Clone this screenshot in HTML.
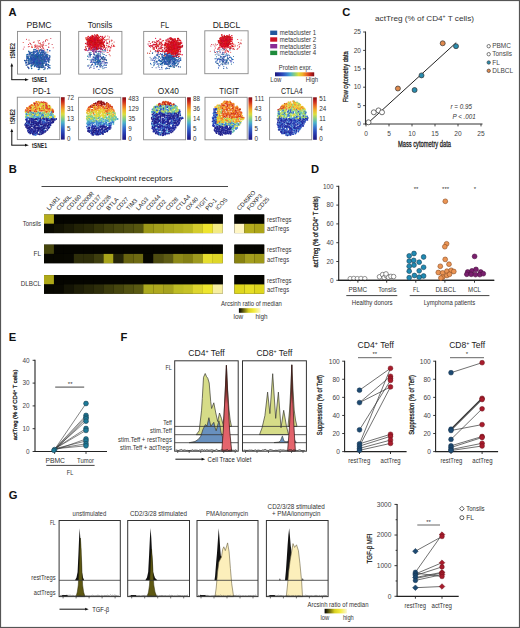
<!DOCTYPE html><html><head><meta charset="utf-8"><style>html,body{margin:0;padding:0;background:#fff;}svg{display:block;font-family:"Liberation Sans",sans-serif;}</style></head><body><svg width="520" height="628" viewBox="0 0 520 628"><rect x="0" y="0" width="520" height="628" fill="#fff"/><text x="8.50" y="16.10" font-size="11.20" fill="#111" font-weight="bold">A</text>
<text x="26.60" y="27.70" font-size="8.20" fill="#222" textLength="25.00" lengthAdjust="spacingAndGlyphs">PBMC</text>
<text x="87.70" y="27.70" font-size="8.20" fill="#222" textLength="24.60" lengthAdjust="spacingAndGlyphs">Tonsils</text>
<text x="160.50" y="27.70" font-size="8.20" fill="#222" textLength="8.60" lengthAdjust="spacingAndGlyphs">FL</text>
<text x="212.70" y="27.70" font-size="8.20" fill="#222" textLength="27.60" lengthAdjust="spacingAndGlyphs">DLBCL</text>
<circle cx="36.1" cy="46.9" r="0.50" fill="#d90024"/>
<circle cx="36.3" cy="46.0" r="0.50" fill="#d2001f"/>
<circle cx="41.0" cy="45.7" r="0.50" fill="#ce2410"/>
<circle cx="39.8" cy="50.3" r="0.50" fill="#e8171d"/>
<circle cx="40.3" cy="44.8" r="0.50" fill="#e30911"/>
<circle cx="42.8" cy="47.2" r="0.50" fill="#e10427"/>
<circle cx="33.3" cy="42.2" r="0.50" fill="#d4000c"/>
<circle cx="41.1" cy="50.5" r="0.50" fill="#ce0a27"/>
<circle cx="31.9" cy="45.9" r="0.50" fill="#e01d16"/>
<circle cx="29.8" cy="42.9" r="0.50" fill="#e41f18"/>
<circle cx="41.7" cy="44.8" r="0.50" fill="#cd2011"/>
<circle cx="35.9" cy="45.1" r="0.50" fill="#da2126"/>
<circle cx="42.6" cy="42.7" r="0.50" fill="#db1826"/>
<circle cx="24.2" cy="47.0" r="0.50" fill="#e8122b"/>
<circle cx="48.8" cy="47.2" r="0.50" fill="#d92c33"/>
<circle cx="36.4" cy="48.7" r="0.50" fill="#da0021"/>
<circle cx="39.8" cy="46.7" r="0.50" fill="#bb2110"/>
<circle cx="38.1" cy="48.8" r="0.50" fill="#e40020"/>
<circle cx="23.2" cy="42.6" r="0.50" fill="#e12617"/>
<circle cx="31.9" cy="46.8" r="0.50" fill="#e52a11"/>
<circle cx="40.4" cy="47.5" r="0.50" fill="#c41327"/>
<circle cx="37.9" cy="45.3" r="0.50" fill="#cd0d26"/>
<circle cx="49.0" cy="43.3" r="0.50" fill="#d2192b"/>
<circle cx="53.2" cy="47.7" r="0.50" fill="#df2631"/>
<circle cx="32.1" cy="47.4" r="0.50" fill="#be1a0d"/>
<circle cx="42.7" cy="46.1" r="0.50" fill="#c10c0c"/>
<circle cx="42.3" cy="45.0" r="0.50" fill="#be0d0b"/>
<circle cx="45.3" cy="41.3" r="0.50" fill="#c0071b"/>
<circle cx="35.5" cy="46.5" r="0.50" fill="#e32c21"/>
<circle cx="34.8" cy="45.2" r="0.50" fill="#be0c17"/>
<circle cx="40.1" cy="43.0" r="0.50" fill="#ba2a24"/>
<circle cx="43.7" cy="48.8" r="0.50" fill="#ba153a"/>
<circle cx="45.6" cy="40.6" r="0.50" fill="#c60d12"/>
<circle cx="39.3" cy="40.4" r="0.50" fill="#df0b15"/>
<circle cx="46.2" cy="39.5" r="0.50" fill="#e11f15"/>
<circle cx="31.0" cy="44.6" r="0.50" fill="#ba0017"/>
<circle cx="37.3" cy="50.8" r="0.50" fill="#e81138"/>
<circle cx="34.5" cy="47.0" r="0.50" fill="#c40414"/>
<circle cx="26.5" cy="39.3" r="0.50" fill="#e3122a"/>
<circle cx="39.0" cy="43.5" r="0.50" fill="#da2831"/>
<circle cx="38.0" cy="40.7" r="0.50" fill="#c1221a"/>
<circle cx="32.0" cy="47.3" r="0.50" fill="#e81f12"/>
<circle cx="41.0" cy="46.6" r="0.50" fill="#e62311"/>
<circle cx="34.2" cy="42.1" r="0.50" fill="#d4010a"/>
<circle cx="48.7" cy="44.0" r="0.50" fill="#d3291f"/>
<circle cx="47.7" cy="39.9" r="0.50" fill="#c30718"/>
<circle cx="38.6" cy="50.0" r="0.50" fill="#c50f10"/>
<circle cx="43.9" cy="43.1" r="0.50" fill="#cf1837"/>
<circle cx="23.3" cy="49.1" r="0.50" fill="#d21524"/>
<circle cx="46.0" cy="45.5" r="0.50" fill="#c20031"/>
<circle cx="42.0" cy="48.8" r="0.50" fill="#dd161a"/>
<circle cx="28.5" cy="44.4" r="0.50" fill="#e00026"/>
<circle cx="38.1" cy="48.1" r="0.50" fill="#df1426"/>
<circle cx="28.3" cy="46.8" r="0.50" fill="#d2142c"/>
<circle cx="29.2" cy="46.4" r="0.50" fill="#d02a2c"/>
<circle cx="50.8" cy="38.6" r="0.50" fill="#c51639"/>
<circle cx="40.2" cy="43.3" r="0.50" fill="#bf110d"/>
<circle cx="38.2" cy="46.5" r="0.50" fill="#da2236"/>
<circle cx="44.7" cy="50.0" r="0.50" fill="#da0236"/>
<circle cx="43.2" cy="44.5" r="0.50" fill="#e80e22"/>
<circle cx="52.1" cy="44.5" r="0.50" fill="#c11023"/>
<circle cx="35.4" cy="47.1" r="0.50" fill="#c81f0a"/>
<circle cx="30.4" cy="43.6" r="0.50" fill="#b90b29"/>
<circle cx="35.3" cy="44.9" r="0.50" fill="#ea223a"/>
<circle cx="42.7" cy="46.8" r="0.50" fill="#ba2117"/>
<circle cx="43.4" cy="47.9" r="0.50" fill="#e62316"/>
<circle cx="47.9" cy="51.9" r="0.50" fill="#d51e0e"/>
<circle cx="48.7" cy="47.1" r="0.50" fill="#ce0038"/>
<circle cx="29.0" cy="39.9" r="0.50" fill="#bd250d"/>
<circle cx="43.4" cy="41.8" r="0.50" fill="#c91638"/>
<circle cx="37.6" cy="47.0" r="0.50" fill="#d3060f"/>
<circle cx="39.3" cy="46.0" r="0.50" fill="#c30a19"/>
<circle cx="38.4" cy="41.9" r="0.50" fill="#d2031b"/>
<circle cx="43.7" cy="45.3" r="0.50" fill="#b91f25"/>
<circle cx="41.2" cy="49.0" r="0.50" fill="#e70032"/>
<circle cx="31.1" cy="61.7" r="0.75" fill="#3a54a8"/>
<circle cx="31.3" cy="66.8" r="0.75" fill="#3460a3"/>
<circle cx="36.3" cy="60.8" r="0.75" fill="#1744b4"/>
<circle cx="37.4" cy="62.2" r="0.75" fill="#156bba"/>
<circle cx="35.2" cy="56.2" r="0.75" fill="#1d4fa5"/>
<circle cx="41.1" cy="63.7" r="0.75" fill="#1e71bf"/>
<circle cx="33.2" cy="58.5" r="0.75" fill="#4150a0"/>
<circle cx="43.4" cy="59.5" r="0.75" fill="#285a99"/>
<circle cx="36.9" cy="59.5" r="0.75" fill="#1e45a2"/>
<circle cx="38.7" cy="59.8" r="0.75" fill="#204cac"/>
<circle cx="27.7" cy="58.1" r="0.75" fill="#3164ba"/>
<circle cx="33.4" cy="62.1" r="0.75" fill="#4248b3"/>
<circle cx="36.4" cy="58.4" r="0.75" fill="#3a6dae"/>
<circle cx="36.4" cy="51.1" r="0.75" fill="#175ba8"/>
<circle cx="43.0" cy="52.3" r="0.75" fill="#3a5ebb"/>
<circle cx="33.7" cy="53.0" r="0.75" fill="#1c4295"/>
<circle cx="35.7" cy="61.2" r="0.75" fill="#3a5cae"/>
<circle cx="31.1" cy="54.5" r="0.75" fill="#2941b6"/>
<circle cx="37.4" cy="54.1" r="0.75" fill="#2b6192"/>
<circle cx="37.1" cy="56.0" r="0.75" fill="#144eb3"/>
<circle cx="40.2" cy="66.8" r="0.75" fill="#4159a2"/>
<circle cx="28.5" cy="60.4" r="0.75" fill="#375faf"/>
<circle cx="40.5" cy="60.7" r="0.75" fill="#1d669e"/>
<circle cx="36.6" cy="59.2" r="0.75" fill="#144eb0"/>
<circle cx="34.3" cy="53.0" r="0.75" fill="#1f5aa6"/>
<circle cx="34.6" cy="60.0" r="0.75" fill="#3d4abf"/>
<circle cx="38.5" cy="59.2" r="0.75" fill="#2769bf"/>
<circle cx="33.0" cy="60.6" r="0.75" fill="#1b7099"/>
<circle cx="34.6" cy="58.3" r="0.75" fill="#2b7095"/>
<circle cx="40.6" cy="54.5" r="0.75" fill="#3d649a"/>
<circle cx="43.0" cy="56.3" r="0.75" fill="#1241a7"/>
<circle cx="32.7" cy="60.7" r="0.75" fill="#18529e"/>
<circle cx="37.7" cy="59.3" r="0.75" fill="#366a95"/>
<circle cx="46.0" cy="56.3" r="0.75" fill="#3e4fa1"/>
<circle cx="32.7" cy="57.2" r="0.75" fill="#264e91"/>
<circle cx="46.6" cy="64.7" r="0.75" fill="#1f6f9b"/>
<circle cx="36.8" cy="65.0" r="0.75" fill="#1a53be"/>
<circle cx="45.7" cy="53.9" r="0.75" fill="#306ebe"/>
<circle cx="28.4" cy="57.3" r="0.75" fill="#1365a5"/>
<circle cx="37.6" cy="52.9" r="0.75" fill="#1f43bd"/>
<circle cx="42.2" cy="63.2" r="0.75" fill="#224fb3"/>
<circle cx="42.1" cy="59.0" r="0.75" fill="#3150aa"/>
<circle cx="34.6" cy="61.2" r="0.75" fill="#194bbc"/>
<circle cx="33.3" cy="59.6" r="0.75" fill="#3e72a5"/>
<circle cx="40.0" cy="61.8" r="0.75" fill="#155293"/>
<circle cx="37.8" cy="63.0" r="0.75" fill="#2d6db4"/>
<circle cx="32.2" cy="62.0" r="0.75" fill="#2b539f"/>
<circle cx="42.0" cy="60.9" r="0.75" fill="#4147a8"/>
<circle cx="29.3" cy="52.8" r="0.75" fill="#1b4e9b"/>
<circle cx="32.2" cy="62.4" r="0.75" fill="#406bba"/>
<circle cx="39.0" cy="59.7" r="0.75" fill="#346da6"/>
<circle cx="37.4" cy="59.5" r="0.75" fill="#246fb8"/>
<circle cx="47.4" cy="49.8" r="0.75" fill="#1d4696"/>
<circle cx="28.5" cy="58.5" r="0.75" fill="#4065af"/>
<circle cx="38.1" cy="54.4" r="0.75" fill="#2c42b6"/>
<circle cx="34.4" cy="56.4" r="0.75" fill="#174dae"/>
<circle cx="36.6" cy="57.4" r="0.75" fill="#145bac"/>
<circle cx="34.2" cy="61.6" r="0.75" fill="#2f419e"/>
<circle cx="29.8" cy="52.0" r="0.75" fill="#284c9b"/>
<circle cx="46.6" cy="57.7" r="0.75" fill="#2042a7"/>
<circle cx="34.6" cy="55.2" r="0.75" fill="#1d62bd"/>
<circle cx="37.7" cy="60.7" r="0.75" fill="#2156b1"/>
<circle cx="40.9" cy="67.3" r="0.75" fill="#355a99"/>
<circle cx="42.6" cy="58.8" r="0.75" fill="#3a4c9a"/>
<circle cx="37.8" cy="55.7" r="0.75" fill="#405998"/>
<circle cx="38.5" cy="64.2" r="0.75" fill="#327096"/>
<circle cx="34.2" cy="61.5" r="0.75" fill="#414891"/>
<circle cx="43.1" cy="61.2" r="0.75" fill="#3d6db3"/>
<circle cx="35.7" cy="62.1" r="0.75" fill="#3f6690"/>
<circle cx="34.5" cy="55.6" r="0.75" fill="#235197"/>
<circle cx="42.4" cy="59.6" r="0.75" fill="#227095"/>
<circle cx="41.5" cy="58.8" r="0.75" fill="#226ab8"/>
<circle cx="35.8" cy="60.1" r="0.75" fill="#2853bc"/>
<circle cx="39.5" cy="63.6" r="0.75" fill="#3d42a3"/>
<circle cx="41.4" cy="52.2" r="0.75" fill="#134292"/>
<circle cx="41.6" cy="57.8" r="0.75" fill="#366d9f"/>
<circle cx="34.0" cy="57.1" r="0.75" fill="#34509c"/>
<circle cx="47.6" cy="59.7" r="0.75" fill="#3e60be"/>
<circle cx="41.8" cy="60.0" r="0.75" fill="#2870be"/>
<circle cx="34.0" cy="61.8" r="0.75" fill="#2659bd"/>
<circle cx="41.9" cy="67.1" r="0.75" fill="#356ab5"/>
<circle cx="33.3" cy="56.9" r="0.75" fill="#2053b6"/>
<circle cx="41.0" cy="61.0" r="0.75" fill="#364d92"/>
<circle cx="44.9" cy="60.7" r="0.75" fill="#2172bb"/>
<circle cx="42.2" cy="59.2" r="0.75" fill="#1545a7"/>
<circle cx="35.9" cy="54.7" r="0.75" fill="#1c55ae"/>
<circle cx="32.9" cy="52.7" r="0.75" fill="#3b6295"/>
<circle cx="40.2" cy="56.3" r="0.75" fill="#2d53b3"/>
<circle cx="38.9" cy="62.8" r="0.75" fill="#1d48bb"/>
<circle cx="32.8" cy="57.6" r="0.75" fill="#2472a8"/>
<circle cx="38.8" cy="67.8" r="0.75" fill="#317294"/>
<circle cx="26.5" cy="60.8" r="0.75" fill="#3b6e91"/>
<circle cx="36.7" cy="61.7" r="0.75" fill="#1a71ac"/>
<circle cx="42.7" cy="57.6" r="0.75" fill="#3c579b"/>
<circle cx="43.9" cy="63.3" r="0.75" fill="#2f4ba1"/>
<circle cx="40.1" cy="61.9" r="0.75" fill="#1d5eaf"/>
<circle cx="37.8" cy="60.2" r="0.75" fill="#216298"/>
<circle cx="36.0" cy="62.4" r="0.75" fill="#385c92"/>
<circle cx="42.3" cy="62.2" r="0.75" fill="#2c6093"/>
<circle cx="42.3" cy="65.6" r="0.75" fill="#254f9e"/>
<circle cx="42.5" cy="58.3" r="0.75" fill="#2d52a3"/>
<circle cx="34.9" cy="61.8" r="0.75" fill="#354b8f"/>
<circle cx="42.6" cy="56.7" r="0.75" fill="#3a55bb"/>
<circle cx="34.0" cy="60.2" r="0.75" fill="#115caf"/>
<circle cx="39.7" cy="58.4" r="0.75" fill="#3053a8"/>
<circle cx="40.5" cy="62.5" r="0.75" fill="#2b6f94"/>
<circle cx="26.7" cy="60.0" r="0.75" fill="#414a95"/>
<circle cx="35.5" cy="59.7" r="0.75" fill="#3f54bc"/>
<circle cx="29.4" cy="53.6" r="0.75" fill="#19689a"/>
<circle cx="27.9" cy="64.5" r="0.75" fill="#3a4a99"/>
<circle cx="31.6" cy="62.8" r="0.75" fill="#24479b"/>
<circle cx="35.5" cy="49.8" r="0.75" fill="#135db4"/>
<circle cx="48.6" cy="61.6" r="0.75" fill="#165eaa"/>
<circle cx="33.9" cy="56.7" r="0.75" fill="#265ea4"/>
<circle cx="34.0" cy="55.3" r="0.75" fill="#2642ad"/>
<circle cx="33.1" cy="59.7" r="0.75" fill="#3767a5"/>
<circle cx="40.4" cy="64.2" r="0.75" fill="#1647a4"/>
<circle cx="42.9" cy="62.2" r="0.75" fill="#2a43ae"/>
<circle cx="46.0" cy="63.2" r="0.75" fill="#375a91"/>
<circle cx="31.7" cy="59.4" r="0.75" fill="#4047b9"/>
<circle cx="47.2" cy="59.3" r="0.75" fill="#394ac0"/>
<circle cx="40.6" cy="58.1" r="0.75" fill="#386f92"/>
<circle cx="31.5" cy="65.7" r="0.75" fill="#186d9c"/>
<circle cx="38.8" cy="57.2" r="0.75" fill="#2a6e99"/>
<circle cx="36.9" cy="64.9" r="0.75" fill="#204298"/>
<circle cx="45.0" cy="68.7" r="0.75" fill="#326d97"/>
<circle cx="38.1" cy="57.3" r="0.75" fill="#2b60a0"/>
<circle cx="42.8" cy="55.3" r="0.75" fill="#2e6d94"/>
<circle cx="46.0" cy="59.2" r="0.75" fill="#24689c"/>
<circle cx="45.4" cy="59.1" r="0.75" fill="#2367a5"/>
<circle cx="41.9" cy="66.3" r="0.75" fill="#13699b"/>
<circle cx="29.9" cy="56.0" r="0.75" fill="#204190"/>
<circle cx="42.4" cy="64.6" r="0.75" fill="#265abb"/>
<circle cx="40.4" cy="61.9" r="0.75" fill="#31428f"/>
<circle cx="35.8" cy="61.2" r="0.75" fill="#224cac"/>
<circle cx="34.1" cy="57.8" r="0.75" fill="#305895"/>
<circle cx="41.6" cy="58.2" r="0.75" fill="#1845ae"/>
<circle cx="44.7" cy="53.7" r="0.75" fill="#254e8f"/>
<circle cx="32.8" cy="54.8" r="0.75" fill="#2261a5"/>
<circle cx="46.5" cy="56.6" r="0.75" fill="#1d6e91"/>
<circle cx="31.5" cy="58.6" r="0.75" fill="#1c43b5"/>
<circle cx="45.1" cy="60.0" r="0.75" fill="#404898"/>
<circle cx="31.9" cy="56.1" r="0.75" fill="#316997"/>
<circle cx="35.7" cy="63.1" r="0.75" fill="#136db6"/>
<circle cx="37.4" cy="59.0" r="0.75" fill="#3b66a6"/>
<circle cx="37.2" cy="54.5" r="0.75" fill="#1c469a"/>
<circle cx="42.8" cy="60.5" r="0.75" fill="#3663b9"/>
<circle cx="36.4" cy="56.0" r="0.75" fill="#2c56b6"/>
<circle cx="32.8" cy="59.0" r="0.75" fill="#317199"/>
<circle cx="38.3" cy="58.9" r="0.75" fill="#1e4cb4"/>
<circle cx="46.8" cy="56.9" r="0.75" fill="#216d9f"/>
<circle cx="38.4" cy="69.5" r="0.75" fill="#3063b0"/>
<circle cx="44.2" cy="58.8" r="0.75" fill="#3a63b9"/>
<circle cx="28.6" cy="62.3" r="0.75" fill="#2d5099"/>
<circle cx="35.8" cy="58.2" r="0.75" fill="#3e4890"/>
<circle cx="48.3" cy="66.1" r="0.75" fill="#224890"/>
<circle cx="46.4" cy="61.3" r="0.75" fill="#3063b3"/>
<circle cx="44.8" cy="62.0" r="0.75" fill="#2369b7"/>
<circle cx="39.2" cy="58.4" r="0.75" fill="#3c6ebe"/>
<circle cx="40.7" cy="61.4" r="0.75" fill="#1642b9"/>
<circle cx="40.7" cy="53.5" r="0.75" fill="#3a609d"/>
<circle cx="39.7" cy="60.7" r="0.75" fill="#364b9e"/>
<circle cx="36.4" cy="59.9" r="0.75" fill="#1d4fb2"/>
<circle cx="33.9" cy="62.5" r="0.75" fill="#415ab9"/>
<circle cx="36.4" cy="58.7" r="0.75" fill="#2556b5"/>
<circle cx="32.1" cy="65.4" r="0.75" fill="#2b4bba"/>
<circle cx="46.8" cy="64.1" r="0.75" fill="#194199"/>
<circle cx="44.5" cy="59.6" r="0.75" fill="#296898"/>
<circle cx="32.0" cy="59.6" r="0.75" fill="#3a4ebe"/>
<circle cx="36.6" cy="62.6" r="0.75" fill="#335994"/>
<circle cx="35.9" cy="58.1" r="0.75" fill="#3863b6"/>
<circle cx="33.6" cy="56.4" r="0.75" fill="#2554bb"/>
<circle cx="48.3" cy="64.5" r="0.75" fill="#124b9c"/>
<circle cx="43.3" cy="56.3" r="0.75" fill="#236d9a"/>
<circle cx="30.3" cy="60.9" r="0.75" fill="#3666af"/>
<circle cx="34.4" cy="62.8" r="0.75" fill="#186bb0"/>
<circle cx="37.3" cy="56.7" r="0.75" fill="#2667ab"/>
<circle cx="42.2" cy="63.1" r="0.75" fill="#3d4c98"/>
<circle cx="34.5" cy="66.3" r="0.75" fill="#3b4896"/>
<circle cx="37.6" cy="63.6" r="0.75" fill="#2b499f"/>
<circle cx="37.1" cy="57.4" r="0.75" fill="#4146a2"/>
<circle cx="48.1" cy="58.7" r="0.75" fill="#355698"/>
<circle cx="35.7" cy="57.8" r="0.75" fill="#1b5490"/>
<circle cx="28.9" cy="64.3" r="0.75" fill="#335aae"/>
<circle cx="34.3" cy="60.1" r="0.75" fill="#2f55b4"/>
<circle cx="42.8" cy="56.8" r="0.75" fill="#2d66a4"/>
<circle cx="38.8" cy="66.8" r="0.75" fill="#3d67b2"/>
<circle cx="42.9" cy="53.9" r="0.75" fill="#31579e"/>
<circle cx="35.6" cy="58.0" r="0.75" fill="#2568b2"/>
<circle cx="34.4" cy="57.0" r="0.75" fill="#2657ae"/>
<circle cx="29.9" cy="63.2" r="0.75" fill="#3f4aaf"/>
<circle cx="38.5" cy="55.0" r="0.75" fill="#297190"/>
<circle cx="34.1" cy="58.8" r="0.75" fill="#3870a8"/>
<circle cx="43.8" cy="63.1" r="0.75" fill="#2c64a8"/>
<circle cx="30.3" cy="52.9" r="0.75" fill="#2b55be"/>
<circle cx="39.8" cy="66.3" r="0.75" fill="#246795"/>
<circle cx="43.1" cy="59.1" r="0.75" fill="#134ea2"/>
<circle cx="43.7" cy="59.9" r="0.75" fill="#2663a0"/>
<circle cx="37.1" cy="62.8" r="0.75" fill="#366fa9"/>
<circle cx="39.6" cy="67.6" r="0.75" fill="#244b95"/>
<circle cx="39.3" cy="51.2" r="0.75" fill="#3058ab"/>
<circle cx="32.3" cy="64.7" r="0.75" fill="#3969a6"/>
<circle cx="35.4" cy="65.1" r="0.75" fill="#176aa0"/>
<circle cx="40.3" cy="56.6" r="0.75" fill="#234da4"/>
<circle cx="37.7" cy="59.8" r="0.75" fill="#354f9b"/>
<circle cx="35.3" cy="64.5" r="0.75" fill="#2660af"/>
<circle cx="28.5" cy="67.5" r="0.75" fill="#3b43b8"/>
<circle cx="46.2" cy="55.0" r="0.75" fill="#186aae"/>
<circle cx="38.4" cy="59.6" r="0.75" fill="#40619b"/>
<circle cx="40.2" cy="61.0" r="0.75" fill="#1c67a0"/>
<circle cx="45.0" cy="67.7" r="0.75" fill="#3849bb"/>
<circle cx="29.4" cy="54.5" r="0.75" fill="#326db6"/>
<circle cx="39.6" cy="56.9" r="0.75" fill="#335bb4"/>
<circle cx="26.0" cy="63.1" r="0.75" fill="#2c4e9a"/>
<circle cx="42.0" cy="63.6" r="0.75" fill="#135896"/>
<circle cx="30.5" cy="59.8" r="0.75" fill="#2b6c8f"/>
<circle cx="41.1" cy="55.2" r="0.75" fill="#2d62b9"/>
<circle cx="33.1" cy="62.9" r="0.75" fill="#4144ae"/>
<circle cx="36.6" cy="58.7" r="0.75" fill="#2f63bd"/>
<circle cx="30.6" cy="59.1" r="0.75" fill="#3d42b2"/>
<circle cx="33.6" cy="56.5" r="0.75" fill="#3c53a6"/>
<circle cx="27.3" cy="58.2" r="0.75" fill="#1b56a4"/>
<circle cx="26.9" cy="56.6" r="0.75" fill="#1f6aa3"/>
<circle cx="32.7" cy="59.4" r="0.75" fill="#2a71af"/>
<circle cx="38.9" cy="55.5" r="0.75" fill="#204fac"/>
<circle cx="30.5" cy="53.5" r="0.75" fill="#1365bb"/>
<circle cx="35.7" cy="59.1" r="0.75" fill="#204198"/>
<circle cx="44.7" cy="56.5" r="0.75" fill="#3168bc"/>
<circle cx="31.2" cy="55.4" r="0.75" fill="#3063ac"/>
<circle cx="35.8" cy="56.6" r="0.75" fill="#3257b5"/>
<circle cx="40.6" cy="61.2" r="0.75" fill="#1267bc"/>
<circle cx="34.3" cy="55.8" r="0.75" fill="#3a68ab"/>
<circle cx="37.2" cy="63.4" r="0.75" fill="#2650a4"/>
<circle cx="28.7" cy="51.2" r="0.75" fill="#135d90"/>
<circle cx="45.5" cy="65.2" r="0.75" fill="#2d6ea5"/>
<circle cx="43.4" cy="59.9" r="0.75" fill="#2e6fc0"/>
<circle cx="31.4" cy="60.2" r="0.75" fill="#166199"/>
<circle cx="38.1" cy="60.2" r="0.75" fill="#116395"/>
<circle cx="40.0" cy="59.1" r="0.75" fill="#3c478f"/>
<circle cx="36.6" cy="56.1" r="0.75" fill="#354a91"/>
<circle cx="38.9" cy="52.3" r="0.75" fill="#3b6593"/>
<circle cx="31.0" cy="54.3" r="0.75" fill="#286f9b"/>
<circle cx="46.8" cy="57.9" r="0.75" fill="#1141af"/>
<circle cx="38.5" cy="57.8" r="0.75" fill="#206597"/>
<circle cx="41.9" cy="55.4" r="0.75" fill="#1353ab"/>
<circle cx="29.1" cy="62.1" r="0.75" fill="#1868a1"/>
<circle cx="32.3" cy="54.4" r="0.75" fill="#2554b6"/>
<circle cx="47.4" cy="56.8" r="0.75" fill="#2d4f92"/>
<circle cx="46.7" cy="58.3" r="0.75" fill="#3a51ad"/>
<circle cx="48.7" cy="58.3" r="0.75" fill="#2f50a4"/>
<circle cx="42.0" cy="56.6" r="0.75" fill="#335fbb"/>
<circle cx="39.2" cy="56.0" r="0.75" fill="#114ea4"/>
<circle cx="28.1" cy="55.1" r="0.75" fill="#3d43b8"/>
<circle cx="42.1" cy="50.9" r="0.75" fill="#2d4eb9"/>
<circle cx="40.7" cy="53.0" r="0.75" fill="#3e5293"/>
<circle cx="27.4" cy="56.8" r="0.75" fill="#1b66bd"/>
<circle cx="38.3" cy="65.8" r="0.75" fill="#325899"/>
<circle cx="37.2" cy="67.2" r="0.75" fill="#385793"/>
<circle cx="41.1" cy="52.1" r="0.75" fill="#1c5dbb"/>
<circle cx="43.0" cy="55.8" r="0.75" fill="#285e98"/>
<circle cx="38.8" cy="62.2" r="0.75" fill="#3453ab"/>
<circle cx="31.6" cy="62.7" r="0.75" fill="#1843c0"/>
<circle cx="35.5" cy="61.0" r="0.75" fill="#306896"/>
<circle cx="33.0" cy="57.1" r="0.75" fill="#2a4290"/>
<circle cx="49.5" cy="58.9" r="0.75" fill="#295d9c"/>
<circle cx="38.7" cy="54.7" r="0.75" fill="#4067b7"/>
<circle cx="42.0" cy="58.7" r="0.75" fill="#124b98"/>
<circle cx="39.2" cy="60.2" r="0.75" fill="#2c6ca5"/>
<circle cx="49.9" cy="56.2" r="0.75" fill="#145ea2"/>
<circle cx="48.6" cy="67.5" r="0.75" fill="#1d5daf"/>
<circle cx="46.1" cy="57.6" r="0.75" fill="#245796"/>
<circle cx="37.8" cy="60.8" r="0.75" fill="#1d52bc"/>
<circle cx="46.9" cy="54.6" r="0.75" fill="#1368b2"/>
<circle cx="40.7" cy="60.4" r="0.75" fill="#366fb0"/>
<circle cx="35.1" cy="65.4" r="0.75" fill="#36469f"/>
<circle cx="37.4" cy="61.9" r="0.75" fill="#29499a"/>
<circle cx="43.1" cy="64.9" r="0.75" fill="#116498"/>
<circle cx="45.9" cy="52.3" r="0.75" fill="#175793"/>
<circle cx="47.9" cy="55.7" r="0.75" fill="#30579f"/>
<circle cx="40.5" cy="54.8" r="0.75" fill="#30489a"/>
<circle cx="46.4" cy="62.0" r="0.75" fill="#2c48ba"/>
<circle cx="36.9" cy="64.2" r="0.75" fill="#184eb8"/>
<circle cx="35.7" cy="61.9" r="0.75" fill="#2950bc"/>
<circle cx="50.0" cy="67.9" r="0.75" fill="#136db0"/>
<circle cx="39.2" cy="64.6" r="0.75" fill="#1f4d99"/>
<circle cx="41.6" cy="61.7" r="0.75" fill="#3d43b3"/>
<circle cx="48.3" cy="60.3" r="0.75" fill="#22488f"/>
<circle cx="41.1" cy="54.6" r="0.75" fill="#1a56bc"/>
<circle cx="39.0" cy="65.4" r="0.75" fill="#174ab5"/>
<circle cx="36.6" cy="56.5" r="0.75" fill="#1445ad"/>
<circle cx="32.7" cy="59.6" r="0.75" fill="#1b5fb2"/>
<circle cx="40.5" cy="53.9" r="0.75" fill="#1b44b3"/>
<circle cx="29.5" cy="63.5" r="0.75" fill="#13699f"/>
<circle cx="44.0" cy="51.8" r="0.75" fill="#2941bc"/>
<circle cx="25.5" cy="60.9" r="0.75" fill="#1e4ab8"/>
<circle cx="35.1" cy="61.5" r="0.75" fill="#235e8f"/>
<circle cx="31.0" cy="58.9" r="0.75" fill="#2a47b2"/>
<circle cx="42.4" cy="51.1" r="0.75" fill="#2164a2"/>
<circle cx="37.5" cy="57.9" r="0.75" fill="#3c70a7"/>
<circle cx="30.1" cy="59.0" r="0.75" fill="#2b42bf"/>
<circle cx="38.1" cy="62.4" r="0.75" fill="#164db7"/>
<circle cx="40.2" cy="59.9" r="0.75" fill="#334a8f"/>
<circle cx="31.1" cy="56.0" r="0.75" fill="#2b6494"/>
<circle cx="44.0" cy="54.2" r="0.75" fill="#1347a7"/>
<circle cx="32.6" cy="59.5" r="0.75" fill="#175595"/>
<circle cx="27.5" cy="54.5" r="0.75" fill="#185db4"/>
<circle cx="43.3" cy="66.9" r="0.75" fill="#3f54a4"/>
<circle cx="41.4" cy="54.8" r="0.75" fill="#2470b5"/>
<circle cx="35.2" cy="62.4" r="0.75" fill="#2156c0"/>
<circle cx="41.9" cy="49.9" r="0.75" fill="#396b91"/>
<circle cx="41.7" cy="58.1" r="0.75" fill="#2660a1"/>
<circle cx="35.3" cy="59.2" r="0.75" fill="#265a90"/>
<circle cx="47.7" cy="68.8" r="0.75" fill="#376fae"/>
<circle cx="42.0" cy="50.6" r="0.75" fill="#3d42af"/>
<circle cx="36.6" cy="66.4" r="0.75" fill="#1e5cbd"/>
<circle cx="34.2" cy="57.1" r="0.75" fill="#2b56be"/>
<circle cx="36.3" cy="63.3" r="0.75" fill="#3147ac"/>
<circle cx="44.4" cy="58.0" r="0.75" fill="#1e58a9"/>
<circle cx="39.3" cy="61.4" r="0.75" fill="#174fa3"/>
<circle cx="36.4" cy="62.8" r="0.75" fill="#155cb8"/>
<circle cx="31.5" cy="55.7" r="0.75" fill="#314bb2"/>
<circle cx="30.2" cy="60.9" r="0.75" fill="#2f589e"/>
<circle cx="37.7" cy="62.8" r="0.75" fill="#2a54ac"/>
<circle cx="43.1" cy="59.8" r="0.75" fill="#3c4caa"/>
<circle cx="32.6" cy="59.7" r="0.75" fill="#424fb5"/>
<circle cx="38.7" cy="60.9" r="0.75" fill="#3c5692"/>
<circle cx="32.6" cy="62.7" r="0.75" fill="#35469a"/>
<circle cx="47.0" cy="57.6" r="0.75" fill="#1851a0"/>
<circle cx="33.7" cy="53.8" r="0.75" fill="#3b6aa8"/>
<circle cx="36.8" cy="51.9" r="0.75" fill="#3658b6"/>
<circle cx="34.1" cy="49.6" r="0.75" fill="#176c8f"/>
<circle cx="38.3" cy="53.4" r="0.75" fill="#2971ab"/>
<circle cx="28.4" cy="63.5" r="0.75" fill="#3c5fa1"/>
<circle cx="31.2" cy="61.0" r="0.75" fill="#354fa2"/>
<circle cx="31.9" cy="58.0" r="0.75" fill="#2168b9"/>
<circle cx="31.0" cy="59.5" r="0.75" fill="#1a5096"/>
<circle cx="30.5" cy="56.7" r="0.75" fill="#156f9f"/>
<circle cx="43.8" cy="52.2" r="0.75" fill="#404ba4"/>
<circle cx="38.2" cy="59.1" r="0.75" fill="#135da7"/>
<circle cx="46.6" cy="55.7" r="0.75" fill="#2b72a8"/>
<circle cx="28.4" cy="58.7" r="0.75" fill="#2452ac"/>
<circle cx="28.8" cy="68.5" r="0.75" fill="#325b93"/>
<circle cx="33.2" cy="62.8" r="0.75" fill="#2d5dba"/>
<circle cx="44.3" cy="58.3" r="0.75" fill="#2760c0"/>
<circle cx="33.4" cy="64.2" r="0.75" fill="#39499e"/>
<circle cx="48.6" cy="58.3" r="0.75" fill="#2a46bb"/>
<circle cx="33.4" cy="51.6" r="0.75" fill="#426da4"/>
<circle cx="40.3" cy="62.7" r="0.75" fill="#2a5a98"/>
<circle cx="41.0" cy="65.4" r="0.75" fill="#2f52c0"/>
<circle cx="36.3" cy="58.5" r="0.75" fill="#25689e"/>
<circle cx="37.3" cy="59.1" r="0.75" fill="#206bac"/>
<circle cx="35.5" cy="56.9" r="0.75" fill="#295c9c"/>
<circle cx="33.0" cy="55.0" r="0.75" fill="#425da3"/>
<circle cx="40.0" cy="61.4" r="0.75" fill="#364694"/>
<circle cx="41.0" cy="64.4" r="0.75" fill="#3a5fb7"/>
<circle cx="38.4" cy="59.8" r="0.75" fill="#3751b2"/>
<circle cx="35.3" cy="61.7" r="0.75" fill="#1e45bc"/>
<circle cx="32.7" cy="57.4" r="0.75" fill="#275491"/>
<circle cx="43.6" cy="55.6" r="0.75" fill="#4056ae"/>
<circle cx="37.5" cy="60.9" r="0.75" fill="#3f6b9e"/>
<circle cx="46.4" cy="54.5" r="0.75" fill="#205fbf"/>
<circle cx="37.8" cy="64.1" r="0.75" fill="#344c9e"/>
<circle cx="42.4" cy="55.8" r="0.75" fill="#384d97"/>
<circle cx="35.1" cy="61.8" r="0.75" fill="#414fab"/>
<circle cx="43.1" cy="63.3" r="0.75" fill="#245592"/>
<circle cx="45.5" cy="65.5" r="0.75" fill="#224d98"/>
<circle cx="36.6" cy="62.8" r="0.75" fill="#1262a0"/>
<circle cx="42.7" cy="65.5" r="0.75" fill="#154eb8"/>
<circle cx="42.0" cy="63.1" r="0.75" fill="#3a6996"/>
<circle cx="31.7" cy="65.4" r="0.75" fill="#237099"/>
<circle cx="44.3" cy="57.8" r="0.75" fill="#1c5795"/>
<circle cx="36.2" cy="56.1" r="0.75" fill="#3d5ea1"/>
<circle cx="37.7" cy="65.8" r="0.75" fill="#1b6c95"/>
<circle cx="30.0" cy="59.0" r="0.75" fill="#1e67a2"/>
<circle cx="33.2" cy="54.5" r="0.75" fill="#205493"/>
<circle cx="42.7" cy="67.5" r="0.75" fill="#216294"/>
<circle cx="32.2" cy="57.8" r="0.75" fill="#2a4f92"/>
<circle cx="35.9" cy="62.6" r="0.75" fill="#17649d"/>
<circle cx="26.7" cy="65.2" r="0.75" fill="#376dba"/>
<circle cx="40.8" cy="62.2" r="0.75" fill="#1262b0"/>
<circle cx="33.8" cy="63.3" r="0.75" fill="#31639b"/>
<circle cx="40.7" cy="56.0" r="0.75" fill="#304a94"/>
<circle cx="45.8" cy="55.6" r="0.75" fill="#344390"/>
<circle cx="39.6" cy="62.1" r="0.75" fill="#205490"/>
<circle cx="34.3" cy="65.6" r="0.75" fill="#196aab"/>
<circle cx="36.5" cy="56.1" r="0.75" fill="#2663a0"/>
<circle cx="48.9" cy="59.6" r="0.75" fill="#374f91"/>
<circle cx="42.5" cy="54.5" r="0.75" fill="#134d94"/>
<circle cx="38.6" cy="56.4" r="0.75" fill="#3e6693"/>
<circle cx="35.5" cy="55.2" r="0.75" fill="#366a9d"/>
<circle cx="49.8" cy="65.5" r="0.75" fill="#266fb1"/>
<circle cx="36.7" cy="50.9" r="0.75" fill="#305791"/>
<circle cx="35.5" cy="54.9" r="0.75" fill="#2a6f95"/>
<circle cx="37.6" cy="58.1" r="0.75" fill="#34699c"/>
<circle cx="32.6" cy="55.1" r="0.75" fill="#1d43a0"/>
<circle cx="34.1" cy="61.1" r="0.75" fill="#2047b2"/>
<circle cx="35.4" cy="56.5" r="0.75" fill="#1d5aa5"/>
<circle cx="42.6" cy="57.8" r="0.75" fill="#1f6d96"/>
<circle cx="32.5" cy="57.9" r="0.75" fill="#395cb5"/>
<circle cx="41.8" cy="65.5" r="0.75" fill="#2e58b5"/>
<circle cx="38.9" cy="57.5" r="0.75" fill="#1f5399"/>
<circle cx="42.0" cy="60.9" r="0.75" fill="#1a64a5"/>
<circle cx="41.5" cy="62.2" r="0.75" fill="#285397"/>
<circle cx="38.3" cy="59.8" r="0.75" fill="#426693"/>
<circle cx="34.8" cy="58.6" r="0.75" fill="#295698"/>
<circle cx="36.8" cy="59.3" r="0.75" fill="#3e61ae"/>
<circle cx="45.5" cy="56.9" r="0.75" fill="#1d4d95"/>
<circle cx="47.7" cy="60.9" r="0.75" fill="#3a4f98"/>
<circle cx="30.0" cy="52.7" r="0.75" fill="#3f49b6"/>
<circle cx="42.3" cy="52.9" r="0.75" fill="#214ab8"/>
<circle cx="35.0" cy="63.5" r="0.75" fill="#2c53b8"/>
<circle cx="37.6" cy="60.8" r="0.75" fill="#2d60b7"/>
<circle cx="33.9" cy="49.9" r="0.75" fill="#4059a7"/>
<circle cx="40.3" cy="62.7" r="0.75" fill="#2e45b1"/>
<circle cx="40.9" cy="63.8" r="0.75" fill="#414590"/>
<circle cx="33.9" cy="60.6" r="0.75" fill="#3541b9"/>
<circle cx="44.0" cy="53.1" r="0.75" fill="#264fb0"/>
<circle cx="31.3" cy="59.1" r="0.75" fill="#2156b0"/>
<circle cx="43.5" cy="50.7" r="0.75" fill="#194fa5"/>
<circle cx="32.4" cy="57.9" r="0.75" fill="#1a459f"/>
<circle cx="47.6" cy="54.5" r="0.75" fill="#4171ad"/>
<circle cx="38.3" cy="58.0" r="0.75" fill="#325f9d"/>
<circle cx="28.9" cy="60.3" r="0.75" fill="#1f52bb"/>
<circle cx="41.3" cy="60.0" r="0.75" fill="#325793"/>
<circle cx="34.4" cy="55.7" r="0.75" fill="#2e55a9"/>
<circle cx="32.0" cy="57.7" r="0.75" fill="#164abb"/>
<circle cx="34.7" cy="58.8" r="0.75" fill="#3c4d93"/>
<circle cx="33.0" cy="58.8" r="0.75" fill="#295c9a"/>
<circle cx="34.9" cy="58.5" r="0.75" fill="#2a5e93"/>
<circle cx="35.5" cy="60.5" r="0.75" fill="#266caa"/>
<circle cx="35.3" cy="52.0" r="0.75" fill="#1672b3"/>
<circle cx="46.6" cy="64.7" r="0.75" fill="#2449bf"/>
<circle cx="27.9" cy="56.4" r="0.75" fill="#176791"/>
<circle cx="38.0" cy="63.9" r="0.75" fill="#115e99"/>
<circle cx="34.6" cy="66.4" r="0.75" fill="#266dae"/>
<circle cx="42.9" cy="55.2" r="0.75" fill="#3e6c97"/>
<circle cx="37.3" cy="55.3" r="0.75" fill="#3763b8"/>
<circle cx="41.7" cy="62.6" r="0.75" fill="#3570b3"/>
<circle cx="45.4" cy="61.2" r="0.75" fill="#155cb7"/>
<circle cx="47.9" cy="66.3" r="0.75" fill="#324d98"/>
<circle cx="26.7" cy="62.4" r="0.75" fill="#2e4690"/>
<circle cx="45.8" cy="64.8" r="0.75" fill="#1a5c9d"/>
<circle cx="35.2" cy="55.3" r="0.75" fill="#186ca9"/>
<circle cx="33.5" cy="51.7" r="0.75" fill="#4041a0"/>
<circle cx="41.6" cy="63.9" r="0.75" fill="#3c6990"/>
<circle cx="42.1" cy="67.2" r="0.75" fill="#3254a6"/>
<circle cx="43.8" cy="66.9" r="0.75" fill="#246cad"/>
<circle cx="42.3" cy="61.4" r="0.75" fill="#1b6dac"/>
<circle cx="41.0" cy="60.3" r="0.75" fill="#2358ab"/>
<circle cx="33.2" cy="62.3" r="0.75" fill="#115d9f"/>
<circle cx="44.1" cy="60.2" r="0.75" fill="#424396"/>
<circle cx="35.2" cy="56.3" r="0.75" fill="#1e5a9c"/>
<circle cx="30.8" cy="57.1" r="0.75" fill="#407290"/>
<circle cx="27.9" cy="56.6" r="0.75" fill="#3c67ae"/>
<circle cx="33.7" cy="56.2" r="0.75" fill="#1f68ba"/>
<circle cx="45.9" cy="56.9" r="0.75" fill="#2067b3"/>
<circle cx="29.0" cy="59.1" r="0.75" fill="#225ca3"/>
<circle cx="42.6" cy="61.0" r="0.75" fill="#2172a7"/>
<circle cx="34.5" cy="62.0" r="0.75" fill="#1c5295"/>
<circle cx="49.6" cy="59.9" r="0.75" fill="#2757ab"/>
<circle cx="36.3" cy="62.1" r="0.75" fill="#14509e"/>
<circle cx="36.4" cy="53.7" r="0.75" fill="#3f52bd"/>
<circle cx="35.4" cy="58.6" r="0.75" fill="#195ec0"/>
<circle cx="31.1" cy="65.7" r="0.75" fill="#266c92"/>
<circle cx="24.7" cy="60.5" r="0.75" fill="#1e4d90"/>
<circle cx="39.9" cy="62.6" r="0.75" fill="#344ba2"/>
<circle cx="40.0" cy="65.5" r="0.75" fill="#3c6198"/>
<circle cx="35.5" cy="58.4" r="0.75" fill="#396ca0"/>
<circle cx="40.0" cy="61.7" r="0.75" fill="#2b6cae"/>
<circle cx="41.2" cy="58.0" r="0.75" fill="#2166af"/>
<circle cx="30.0" cy="63.4" r="0.75" fill="#2143a3"/>
<circle cx="45.6" cy="61.3" r="0.75" fill="#2159ac"/>
<circle cx="37.2" cy="64.6" r="0.75" fill="#116fab"/>
<circle cx="39.5" cy="59.4" r="0.75" fill="#2f659f"/>
<circle cx="40.4" cy="61.0" r="0.75" fill="#186793"/>
<circle cx="40.0" cy="55.1" r="0.75" fill="#2b5eaa"/>
<circle cx="33.0" cy="54.3" r="0.75" fill="#21669b"/>
<circle cx="35.1" cy="51.9" r="0.75" fill="#3750b5"/>
<circle cx="44.0" cy="58.8" r="0.75" fill="#1e5bbe"/>
<circle cx="38.0" cy="60.0" r="0.75" fill="#2861b5"/>
<circle cx="38.9" cy="67.2" r="0.75" fill="#154295"/>
<circle cx="44.1" cy="61.5" r="0.75" fill="#2c4abd"/>
<circle cx="35.2" cy="61.5" r="0.75" fill="#1965bd"/>
<circle cx="38.3" cy="60.5" r="0.75" fill="#374dc0"/>
<circle cx="29.0" cy="59.5" r="0.75" fill="#2269a6"/>
<circle cx="31.7" cy="68.4" r="0.75" fill="#166592"/>
<circle cx="33.8" cy="55.8" r="0.75" fill="#3c43ab"/>
<circle cx="26.1" cy="65.0" r="0.75" fill="#40609a"/>
<circle cx="37.4" cy="63.1" r="0.75" fill="#264c99"/>
<circle cx="38.0" cy="52.9" r="0.75" fill="#1f7299"/>
<circle cx="34.3" cy="58.4" r="0.75" fill="#3c6c9c"/>
<circle cx="37.6" cy="50.9" r="0.75" fill="#1f51a7"/>
<circle cx="40.3" cy="57.8" r="0.75" fill="#335ea5"/>
<circle cx="26.6" cy="55.0" r="0.75" fill="#1b6da1"/>
<circle cx="39.7" cy="50.5" r="0.75" fill="#1a6cc0"/>
<circle cx="37.1" cy="60.5" r="0.75" fill="#16718f"/>
<circle cx="40.4" cy="58.1" r="0.75" fill="#354597"/>
<circle cx="36.4" cy="57.7" r="0.75" fill="#216eb2"/>
<circle cx="49.8" cy="50.8" r="0.75" fill="#124cb6"/>
<circle cx="36.9" cy="58.3" r="0.75" fill="#2a4ca4"/>
<circle cx="38.5" cy="60.1" r="0.75" fill="#4250ba"/>
<circle cx="42.5" cy="63.2" r="0.75" fill="#175697"/>
<circle cx="36.2" cy="57.1" r="0.75" fill="#355a94"/>
<circle cx="33.2" cy="63.8" r="0.75" fill="#3e5299"/>
<circle cx="49.7" cy="57.6" r="0.75" fill="#354e97"/>
<circle cx="37.3" cy="61.2" r="0.75" fill="#135aa3"/>
<circle cx="32.2" cy="58.0" r="0.75" fill="#1163af"/>
<circle cx="30.2" cy="57.9" r="0.75" fill="#3372ba"/>
<circle cx="36.3" cy="55.0" r="0.75" fill="#2055bf"/>
<circle cx="33.0" cy="62.5" r="0.75" fill="#2548c0"/>
<circle cx="45.7" cy="59.7" r="0.75" fill="#3f4dad"/>
<circle cx="34.3" cy="61.9" r="0.75" fill="#1a46b9"/>
<circle cx="40.3" cy="49.7" r="0.75" fill="#13639f"/>
<circle cx="32.9" cy="54.9" r="0.75" fill="#20718f"/>
<circle cx="37.2" cy="50.5" r="0.75" fill="#2a5ec0"/>
<circle cx="38.3" cy="66.0" r="0.75" fill="#3653b2"/>
<circle cx="31.7" cy="63.0" r="0.75" fill="#2f629f"/>
<circle cx="32.3" cy="55.3" r="0.75" fill="#1c5f9c"/>
<circle cx="43.2" cy="56.7" r="0.75" fill="#355ba6"/>
<circle cx="38.1" cy="62.0" r="0.75" fill="#3f5ba9"/>
<circle cx="26.7" cy="58.1" r="0.75" fill="#1c49b8"/>
<circle cx="29.2" cy="61.1" r="0.75" fill="#3a6dba"/>
<circle cx="43.2" cy="60.7" r="0.75" fill="#3a6995"/>
<circle cx="40.1" cy="62.4" r="0.75" fill="#1652b7"/>
<circle cx="31.0" cy="58.8" r="0.75" fill="#1554c0"/>
<circle cx="35.3" cy="54.8" r="0.75" fill="#2868b4"/>
<circle cx="42.8" cy="65.1" r="0.75" fill="#235b9a"/>
<circle cx="33.7" cy="62.5" r="0.75" fill="#244199"/>
<circle cx="35.6" cy="58.8" r="0.75" fill="#19649c"/>
<circle cx="35.5" cy="62.6" r="0.75" fill="#3a45ae"/>
<circle cx="40.0" cy="57.1" r="0.75" fill="#2668ad"/>
<circle cx="36.3" cy="60.5" r="0.75" fill="#2753b2"/>
<circle cx="35.8" cy="64.0" r="0.75" fill="#3169a0"/>
<circle cx="31.6" cy="63.5" r="0.75" fill="#3f4abf"/>
<circle cx="36.1" cy="55.2" r="0.75" fill="#325192"/>
<circle cx="37.7" cy="55.0" r="0.75" fill="#2b59bc"/>
<circle cx="37.6" cy="58.5" r="0.75" fill="#2e58a6"/>
<circle cx="40.8" cy="55.5" r="0.75" fill="#286da4"/>
<circle cx="30.3" cy="59.8" r="0.75" fill="#3a62b4"/>
<circle cx="36.1" cy="60.3" r="0.75" fill="#325cb5"/>
<circle cx="37.9" cy="57.2" r="0.75" fill="#1c44b7"/>
<circle cx="39.6" cy="60.7" r="0.75" fill="#365d91"/>
<circle cx="33.5" cy="52.9" r="0.75" fill="#2943b1"/>
<circle cx="30.6" cy="62.5" r="0.75" fill="#4269ba"/>
<circle cx="40.8" cy="62.8" r="0.75" fill="#2a41c0"/>
<circle cx="36.8" cy="63.0" r="0.75" fill="#204db9"/>
<circle cx="30.8" cy="57.6" r="0.75" fill="#26439e"/>
<circle cx="44.7" cy="53.4" r="0.75" fill="#3b4d99"/>
<circle cx="44.5" cy="61.3" r="0.75" fill="#2358a7"/>
<circle cx="32.5" cy="57.3" r="0.75" fill="#394bbc"/>
<circle cx="35.7" cy="59.0" r="0.75" fill="#205ba3"/>
<circle cx="32.6" cy="57.9" r="0.75" fill="#1e689d"/>
<circle cx="34.8" cy="51.5" r="0.75" fill="#2e57bd"/>
<circle cx="25.9" cy="62.7" r="0.75" fill="#1356ae"/>
<circle cx="48.9" cy="62.3" r="0.75" fill="#145e98"/>
<circle cx="44.3" cy="56.7" r="0.75" fill="#3959b0"/>
<circle cx="35.2" cy="56.1" r="0.75" fill="#1b6a96"/>
<circle cx="41.1" cy="58.0" r="0.75" fill="#1645b6"/>
<circle cx="43.4" cy="58.1" r="0.75" fill="#314dbc"/>
<circle cx="36.1" cy="57.0" r="0.75" fill="#136391"/>
<circle cx="40.1" cy="56.2" r="0.75" fill="#1c5e9e"/>
<circle cx="34.3" cy="58.5" r="0.75" fill="#3e51b9"/>
<circle cx="43.7" cy="66.2" r="0.75" fill="#425490"/>
<circle cx="31.2" cy="64.0" r="0.75" fill="#1c5c93"/>
<circle cx="28.1" cy="61.1" r="0.75" fill="#266294"/>
<circle cx="38.9" cy="57.4" r="0.75" fill="#3f72bd"/>
<circle cx="32.6" cy="58.9" r="0.75" fill="#2266a7"/>
<circle cx="39.9" cy="58.6" r="0.75" fill="#296cac"/>
<circle cx="35.0" cy="59.0" r="0.75" fill="#174ebb"/>
<circle cx="39.9" cy="56.8" r="0.75" fill="#3f42ac"/>
<circle cx="42.9" cy="58.6" r="0.75" fill="#406191"/>
<circle cx="34.2" cy="63.9" r="0.75" fill="#1d6697"/>
<circle cx="38.7" cy="55.7" r="0.75" fill="#145c93"/>
<circle cx="27.5" cy="56.9" r="0.75" fill="#2e5890"/>
<circle cx="34.8" cy="59.3" r="0.75" fill="#3147ab"/>
<circle cx="34.0" cy="63.1" r="0.75" fill="#324997"/>
<circle cx="42.5" cy="58.0" r="0.75" fill="#3b6ca7"/>
<circle cx="39.1" cy="61.1" r="0.75" fill="#3c46a7"/>
<circle cx="34.6" cy="59.0" r="0.75" fill="#2849a9"/>
<circle cx="31.8" cy="59.3" r="0.75" fill="#1a5599"/>
<circle cx="40.6" cy="61.9" r="0.75" fill="#3c5abb"/>
<circle cx="26.9" cy="60.1" r="0.75" fill="#2d639a"/>
<circle cx="37.5" cy="56.8" r="0.75" fill="#1e42a2"/>
<circle cx="32.5" cy="59.1" r="0.75" fill="#3d45ab"/>
<circle cx="38.3" cy="65.7" r="0.75" fill="#386492"/>
<circle cx="37.7" cy="65.7" r="0.75" fill="#4243ad"/>
<circle cx="33.6" cy="51.6" r="0.75" fill="#2269a6"/>
<circle cx="38.3" cy="59.2" r="0.75" fill="#4055a3"/>
<circle cx="41.3" cy="61.3" r="0.75" fill="#356296"/>
<circle cx="35.7" cy="61.6" r="0.75" fill="#1a4b9f"/>
<circle cx="39.3" cy="54.4" r="0.75" fill="#2967bc"/>
<circle cx="37.6" cy="53.0" r="0.75" fill="#1a60b9"/>
<circle cx="38.1" cy="57.5" r="0.75" fill="#345297"/>
<circle cx="46.3" cy="58.0" r="0.75" fill="#3647b8"/>
<circle cx="49.5" cy="55.7" r="0.75" fill="#366ab7"/>
<circle cx="32.1" cy="56.9" r="0.75" fill="#3a68ba"/>
<circle cx="49.3" cy="67.5" r="0.75" fill="#384db8"/>
<circle cx="37.9" cy="62.5" r="0.75" fill="#274ca7"/>
<circle cx="45.1" cy="55.7" r="0.75" fill="#3454b6"/>
<circle cx="40.0" cy="52.8" r="0.75" fill="#406aa3"/>
<circle cx="44.9" cy="63.0" r="0.75" fill="#3a51ac"/>
<circle cx="43.0" cy="52.5" r="0.75" fill="#11598f"/>
<circle cx="45.9" cy="64.9" r="0.75" fill="#255fa5"/>
<circle cx="35.4" cy="62.2" r="0.75" fill="#226bad"/>
<circle cx="36.8" cy="61.4" r="0.75" fill="#1e64a5"/>
<circle cx="31.7" cy="52.4" r="0.75" fill="#176391"/>
<circle cx="39.2" cy="56.9" r="0.75" fill="#1e70a1"/>
<circle cx="39.5" cy="69.0" r="0.75" fill="#2f6da2"/>
<circle cx="41.7" cy="67.5" r="0.75" fill="#195b8f"/>
<circle cx="44.0" cy="69.4" r="0.75" fill="#27699b"/>
<circle cx="35.8" cy="61.2" r="0.75" fill="#2c6ca8"/>
<circle cx="27.6" cy="66.9" r="0.75" fill="#3d6292"/>
<circle cx="32.9" cy="56.0" r="0.75" fill="#4053b0"/>
<circle cx="33.6" cy="56.2" r="0.75" fill="#2b62bc"/>
<circle cx="102.2" cy="45.1" r="0.50" fill="#e90033"/>
<circle cx="103.9" cy="39.2" r="0.50" fill="#cf2036"/>
<circle cx="105.1" cy="36.7" r="0.50" fill="#ba0b10"/>
<circle cx="114.1" cy="41.9" r="0.50" fill="#c01826"/>
<circle cx="109.8" cy="46.4" r="0.50" fill="#de1b18"/>
<circle cx="106.3" cy="40.9" r="0.50" fill="#d4103a"/>
<circle cx="101.7" cy="37.7" r="0.50" fill="#da0e3a"/>
<circle cx="104.5" cy="37.6" r="0.50" fill="#c60326"/>
<circle cx="109.3" cy="37.1" r="0.50" fill="#ca0123"/>
<circle cx="107.7" cy="42.9" r="0.50" fill="#dd0319"/>
<circle cx="109.2" cy="46.4" r="0.50" fill="#cc2b3a"/>
<circle cx="107.3" cy="49.0" r="0.50" fill="#e8041a"/>
<circle cx="104.2" cy="45.9" r="0.50" fill="#c60e1d"/>
<circle cx="109.1" cy="44.1" r="0.50" fill="#c32820"/>
<circle cx="109.0" cy="38.9" r="0.50" fill="#df0a11"/>
<circle cx="106.2" cy="39.4" r="0.50" fill="#d41c2f"/>
<circle cx="105.4" cy="49.7" r="0.50" fill="#e61518"/>
<circle cx="103.9" cy="42.2" r="0.50" fill="#df0033"/>
<circle cx="102.6" cy="43.1" r="0.50" fill="#e70816"/>
<circle cx="110.6" cy="47.7" r="0.50" fill="#de1c1e"/>
<circle cx="106.7" cy="42.7" r="0.50" fill="#c81b3a"/>
<circle cx="101.9" cy="39.3" r="0.50" fill="#df0e39"/>
<circle cx="105.8" cy="40.4" r="0.50" fill="#cc231b"/>
<circle cx="109.2" cy="54.3" r="0.50" fill="#d3152b"/>
<circle cx="107.7" cy="43.4" r="0.50" fill="#c9001e"/>
<circle cx="98.2" cy="44.9" r="0.50" fill="#da171e"/>
<circle cx="103.1" cy="43.2" r="0.50" fill="#e32233"/>
<circle cx="109.5" cy="51.1" r="0.50" fill="#de1436"/>
<circle cx="111.3" cy="40.1" r="0.50" fill="#e21b35"/>
<circle cx="110.2" cy="50.7" r="0.50" fill="#dc1917"/>
<circle cx="111.0" cy="47.8" r="0.50" fill="#e20814"/>
<circle cx="106.3" cy="47.2" r="0.50" fill="#da2b32"/>
<circle cx="102.1" cy="51.0" r="0.50" fill="#bc241a"/>
<circle cx="111.6" cy="45.2" r="0.50" fill="#bf080c"/>
<circle cx="101.2" cy="47.1" r="0.50" fill="#e10033"/>
<circle cx="108.2" cy="47.3" r="0.50" fill="#d80c1a"/>
<circle cx="103.5" cy="43.5" r="0.50" fill="#e00533"/>
<circle cx="107.8" cy="39.2" r="0.50" fill="#ba210b"/>
<circle cx="101.8" cy="44.8" r="0.50" fill="#bc1a2e"/>
<circle cx="102.5" cy="42.4" r="0.50" fill="#d21815"/>
<circle cx="110.1" cy="47.5" r="0.50" fill="#bf112c"/>
<circle cx="104.9" cy="39.7" r="0.50" fill="#ca041e"/>
<circle cx="105.5" cy="48.2" r="0.50" fill="#dd141f"/>
<circle cx="108.0" cy="52.4" r="0.50" fill="#c20826"/>
<circle cx="111.6" cy="41.1" r="0.50" fill="#dc0014"/>
<circle cx="114.0" cy="45.8" r="0.50" fill="#dd1a17"/>
<circle cx="104.5" cy="47.4" r="0.50" fill="#d82c19"/>
<circle cx="108.4" cy="45.9" r="0.50" fill="#ca2732"/>
<circle cx="104.2" cy="45.6" r="0.50" fill="#be0230"/>
<circle cx="112.1" cy="40.3" r="0.50" fill="#d02410"/>
<circle cx="110.0" cy="49.1" r="0.50" fill="#d20516"/>
<circle cx="114.7" cy="46.5" r="0.50" fill="#dc2a3b"/>
<circle cx="100.0" cy="48.1" r="0.50" fill="#cc2334"/>
<circle cx="106.4" cy="45.6" r="0.50" fill="#c3181c"/>
<circle cx="113.5" cy="45.5" r="0.50" fill="#e0120c"/>
<circle cx="109.8" cy="41.0" r="0.50" fill="#bc0b29"/>
<circle cx="109.5" cy="41.2" r="0.50" fill="#d80516"/>
<circle cx="109.3" cy="42.3" r="0.50" fill="#be1810"/>
<circle cx="107.4" cy="50.2" r="0.50" fill="#d61a2d"/>
<circle cx="104.6" cy="45.7" r="0.50" fill="#dd0021"/>
<circle cx="101.2" cy="49.4" r="0.50" fill="#dc062a"/>
<circle cx="104.4" cy="39.7" r="0.50" fill="#c02827"/>
<circle cx="108.7" cy="46.4" r="0.50" fill="#ea061d"/>
<circle cx="107.8" cy="35.9" r="0.50" fill="#d8200b"/>
<circle cx="106.4" cy="43.7" r="0.50" fill="#bb0738"/>
<circle cx="107.1" cy="52.3" r="0.50" fill="#e71a37"/>
<circle cx="105.8" cy="47.9" r="0.50" fill="#b9200f"/>
<circle cx="112.2" cy="43.7" r="0.50" fill="#c22312"/>
<circle cx="104.1" cy="44.8" r="0.50" fill="#e02737"/>
<circle cx="113.8" cy="45.1" r="0.50" fill="#d42423"/>
<circle cx="102.1" cy="40.4" r="0.50" fill="#e0000c"/>
<circle cx="102.8" cy="43.8" r="0.50" fill="#cc002f"/>
<circle cx="113.4" cy="46.4" r="0.50" fill="#e11110"/>
<circle cx="104.4" cy="42.2" r="0.50" fill="#ce003a"/>
<circle cx="102.4" cy="43.7" r="0.50" fill="#bd1f34"/>
<circle cx="107.1" cy="43.1" r="0.50" fill="#cb0a30"/>
<circle cx="109.3" cy="50.5" r="0.50" fill="#e9210a"/>
<circle cx="107.8" cy="46.1" r="0.50" fill="#db1824"/>
<circle cx="102.1" cy="46.4" r="0.50" fill="#d71b37"/>
<circle cx="105.2" cy="36.1" r="0.50" fill="#e6242d"/>
<circle cx="111.9" cy="46.4" r="0.50" fill="#e31035"/>
<circle cx="110.1" cy="55.8" r="0.50" fill="#cf1e16"/>
<circle cx="104.8" cy="49.4" r="0.50" fill="#c90020"/>
<circle cx="104.2" cy="58.7" r="0.62" fill="#4c6ec2"/>
<circle cx="105.2" cy="59.2" r="0.62" fill="#1745a0"/>
<circle cx="100.8" cy="59.9" r="0.62" fill="#487b9a"/>
<circle cx="98.5" cy="51.6" r="0.62" fill="#4971aa"/>
<circle cx="104.3" cy="64.8" r="0.62" fill="#1b649d"/>
<circle cx="100.5" cy="64.3" r="0.62" fill="#355dcb"/>
<circle cx="89.0" cy="65.1" r="0.62" fill="#397f87"/>
<circle cx="98.4" cy="63.2" r="0.62" fill="#4a3394"/>
<circle cx="99.7" cy="63.9" r="0.62" fill="#3869bb"/>
<circle cx="97.6" cy="56.0" r="0.62" fill="#1634b7"/>
<circle cx="98.4" cy="62.9" r="0.62" fill="#4f65af"/>
<circle cx="94.0" cy="54.3" r="0.62" fill="#394a85"/>
<circle cx="98.2" cy="59.8" r="0.62" fill="#1e3d89"/>
<circle cx="96.1" cy="56.1" r="0.62" fill="#3f4088"/>
<circle cx="96.0" cy="64.0" r="0.62" fill="#3955ba"/>
<circle cx="106.3" cy="65.5" r="0.62" fill="#1d7482"/>
<circle cx="99.1" cy="56.6" r="0.62" fill="#4672b5"/>
<circle cx="97.4" cy="60.1" r="0.62" fill="#117a8c"/>
<circle cx="94.2" cy="54.4" r="0.62" fill="#36408b"/>
<circle cx="92.5" cy="64.0" r="0.62" fill="#2f4385"/>
<circle cx="106.5" cy="60.3" r="0.62" fill="#0c7f9d"/>
<circle cx="97.1" cy="57.0" r="0.62" fill="#41469d"/>
<circle cx="95.3" cy="59.2" r="0.62" fill="#157196"/>
<circle cx="91.8" cy="64.8" r="0.62" fill="#134191"/>
<circle cx="94.2" cy="62.4" r="0.62" fill="#3557c5"/>
<circle cx="104.0" cy="61.6" r="0.62" fill="#444482"/>
<circle cx="95.4" cy="60.4" r="0.62" fill="#266a87"/>
<circle cx="101.4" cy="63.0" r="0.62" fill="#0f44a3"/>
<circle cx="98.8" cy="60.7" r="0.62" fill="#1e57ca"/>
<circle cx="95.8" cy="58.9" r="0.62" fill="#136dad"/>
<circle cx="105.6" cy="50.9" r="0.62" fill="#463acb"/>
<circle cx="94.1" cy="59.0" r="0.62" fill="#0f7790"/>
<circle cx="100.6" cy="61.3" r="0.62" fill="#4b56ba"/>
<circle cx="102.0" cy="61.8" r="0.62" fill="#1b42b5"/>
<circle cx="96.0" cy="61.3" r="0.62" fill="#50588e"/>
<circle cx="104.2" cy="60.0" r="0.62" fill="#2b33a5"/>
<circle cx="97.2" cy="53.8" r="0.62" fill="#1459b0"/>
<circle cx="96.0" cy="57.4" r="0.62" fill="#427dbb"/>
<circle cx="100.3" cy="56.1" r="0.62" fill="#4a4092"/>
<circle cx="89.4" cy="53.8" r="0.62" fill="#084382"/>
<circle cx="95.2" cy="60.4" r="0.62" fill="#116dae"/>
<circle cx="101.8" cy="57.8" r="0.62" fill="#3833cb"/>
<circle cx="98.1" cy="64.7" r="0.62" fill="#2a7da7"/>
<circle cx="103.9" cy="59.2" r="0.62" fill="#137490"/>
<circle cx="102.6" cy="59.5" r="0.62" fill="#147e99"/>
<circle cx="94.0" cy="61.8" r="0.62" fill="#37339d"/>
<circle cx="102.0" cy="66.8" r="0.62" fill="#026294"/>
<circle cx="91.8" cy="61.2" r="0.62" fill="#3a3d93"/>
<circle cx="106.0" cy="67.5" r="0.62" fill="#0d3ca9"/>
<circle cx="89.1" cy="54.8" r="0.62" fill="#06448d"/>
<circle cx="93.2" cy="56.9" r="0.62" fill="#2279b4"/>
<circle cx="104.9" cy="50.6" r="0.62" fill="#177da0"/>
<circle cx="107.2" cy="62.8" r="0.62" fill="#0a3397"/>
<circle cx="100.8" cy="56.0" r="0.62" fill="#2c75c0"/>
<circle cx="94.4" cy="55.0" r="0.62" fill="#0b45b4"/>
<circle cx="90.4" cy="55.2" r="0.62" fill="#497e8f"/>
<circle cx="106.2" cy="64.0" r="0.62" fill="#2f40b7"/>
<circle cx="97.4" cy="62.9" r="0.62" fill="#1f5bb6"/>
<circle cx="104.3" cy="62.9" r="0.62" fill="#3357b5"/>
<circle cx="97.7" cy="58.9" r="0.62" fill="#2868b8"/>
<circle cx="95.8" cy="57.2" r="0.62" fill="#4e7092"/>
<circle cx="98.8" cy="64.0" r="0.62" fill="#4e7a92"/>
<circle cx="97.1" cy="55.2" r="0.62" fill="#376f8a"/>
<circle cx="98.0" cy="62.7" r="0.62" fill="#17348a"/>
<circle cx="93.5" cy="62.2" r="0.62" fill="#0860cb"/>
<circle cx="93.7" cy="57.5" r="0.62" fill="#3a548e"/>
<circle cx="96.6" cy="59.6" r="0.62" fill="#383e9d"/>
<circle cx="105.1" cy="57.7" r="0.62" fill="#4465b2"/>
<circle cx="100.1" cy="66.9" r="0.62" fill="#1a46c1"/>
<circle cx="90.3" cy="54.2" r="0.62" fill="#48618f"/>
<circle cx="103.2" cy="60.0" r="0.62" fill="#3c4785"/>
<circle cx="100.3" cy="59.6" r="0.62" fill="#393292"/>
<circle cx="96.8" cy="66.7" r="0.62" fill="#503389"/>
<circle cx="100.0" cy="62.8" r="0.62" fill="#2b4ba1"/>
<circle cx="94.0" cy="60.0" r="0.62" fill="#06388c"/>
<circle cx="102.9" cy="63.0" r="0.62" fill="#3947bf"/>
<circle cx="96.9" cy="55.3" r="0.62" fill="#2941ca"/>
<circle cx="96.1" cy="58.9" r="0.62" fill="#0e699e"/>
<circle cx="96.8" cy="56.3" r="0.62" fill="#417287"/>
<circle cx="94.9" cy="58.0" r="0.62" fill="#3a72bf"/>
<circle cx="97.7" cy="61.5" r="0.62" fill="#375f8b"/>
<circle cx="99.6" cy="65.2" r="0.62" fill="#0a6493"/>
<circle cx="97.2" cy="64.3" r="0.62" fill="#2c6b82"/>
<circle cx="97.0" cy="56.3" r="0.62" fill="#1965b7"/>
<circle cx="90.1" cy="53.0" r="0.62" fill="#124ab5"/>
<circle cx="97.3" cy="62.2" r="0.62" fill="#146fc2"/>
<circle cx="98.6" cy="55.7" r="0.62" fill="#1b6b84"/>
<circle cx="96.0" cy="58.2" r="0.62" fill="#055b8c"/>
<circle cx="106.1" cy="55.6" r="0.62" fill="#264189"/>
<circle cx="91.9" cy="59.3" r="0.62" fill="#1f6baa"/>
<circle cx="97.8" cy="57.3" r="0.62" fill="#0750a6"/>
<circle cx="97.4" cy="66.3" r="0.62" fill="#134ba6"/>
<circle cx="95.7" cy="51.8" r="0.62" fill="#1f55ca"/>
<circle cx="103.3" cy="56.9" r="0.62" fill="#0a56b2"/>
<circle cx="97.3" cy="60.7" r="0.62" fill="#507a8a"/>
<circle cx="91.3" cy="60.9" r="0.62" fill="#1937bc"/>
<circle cx="98.1" cy="54.6" r="0.62" fill="#085187"/>
<circle cx="99.0" cy="59.2" r="0.62" fill="#196f8a"/>
<circle cx="98.9" cy="60.6" r="0.62" fill="#0f5cc2"/>
<circle cx="98.9" cy="62.0" r="0.62" fill="#3f549b"/>
<circle cx="100.0" cy="61.9" r="0.62" fill="#4f3b94"/>
<circle cx="96.9" cy="49.8" r="0.62" fill="#4a57cc"/>
<circle cx="94.5" cy="57.2" r="0.62" fill="#276bba"/>
<circle cx="99.6" cy="61.7" r="0.62" fill="#4e3ac1"/>
<circle cx="95.7" cy="62.4" r="0.62" fill="#1657cf"/>
<circle cx="102.9" cy="66.8" r="0.62" fill="#1b3fbb"/>
<circle cx="95.9" cy="62.0" r="0.62" fill="#2373c5"/>
<circle cx="96.9" cy="59.2" r="0.62" fill="#3f62c7"/>
<circle cx="101.4" cy="58.3" r="0.62" fill="#457395"/>
<circle cx="94.5" cy="62.8" r="0.62" fill="#1e5088"/>
<circle cx="98.9" cy="69.5" r="0.62" fill="#2264c6"/>
<circle cx="97.6" cy="56.1" r="0.62" fill="#4b72cf"/>
<circle cx="96.4" cy="51.9" r="0.62" fill="#4346b4"/>
<circle cx="91.1" cy="65.5" r="0.62" fill="#0c5d9a"/>
<circle cx="99.3" cy="55.7" r="0.62" fill="#4575c6"/>
<circle cx="104.5" cy="67.8" r="0.62" fill="#3d68b4"/>
<circle cx="106.4" cy="62.3" r="0.62" fill="#2d569b"/>
<circle cx="99.1" cy="51.6" r="0.62" fill="#47439b"/>
<circle cx="97.5" cy="61.6" r="0.62" fill="#1c34bf"/>
<circle cx="97.8" cy="61.2" r="0.62" fill="#076d8f"/>
<circle cx="93.0" cy="60.6" r="0.62" fill="#427e98"/>
<circle cx="90.9" cy="52.3" r="0.62" fill="#2779ba"/>
<circle cx="94.0" cy="68.2" r="0.62" fill="#2f3aae"/>
<circle cx="100.2" cy="54.6" r="0.62" fill="#2853c6"/>
<circle cx="95.9" cy="56.8" r="0.62" fill="#1e4fcc"/>
<circle cx="96.7" cy="57.3" r="0.62" fill="#4b34af"/>
<circle cx="90.8" cy="62.5" r="0.62" fill="#2439a9"/>
<circle cx="101.0" cy="52.2" r="0.62" fill="#1e43bb"/>
<circle cx="98.5" cy="56.4" r="0.62" fill="#4881a2"/>
<circle cx="92.2" cy="64.4" r="0.62" fill="#4c4298"/>
<circle cx="93.9" cy="66.1" r="0.62" fill="#105da8"/>
<circle cx="96.2" cy="57.3" r="0.62" fill="#4e81ac"/>
<circle cx="98.3" cy="56.7" r="0.62" fill="#4a5ebc"/>
<circle cx="100.5" cy="56.3" r="0.62" fill="#4b4281"/>
<circle cx="87.7" cy="59.4" r="0.62" fill="#4a7ea8"/>
<circle cx="102.9" cy="57.1" r="0.62" fill="#0d64c0"/>
<circle cx="92.0" cy="62.4" r="0.62" fill="#1648a1"/>
<circle cx="92.3" cy="59.1" r="0.62" fill="#09329b"/>
<circle cx="95.9" cy="52.0" r="0.62" fill="#1446a9"/>
<circle cx="100.3" cy="65.1" r="0.62" fill="#4a42ae"/>
<circle cx="96.1" cy="52.0" r="0.62" fill="#3a6a95"/>
<circle cx="103.0" cy="50.6" r="0.62" fill="#067da3"/>
<circle cx="99.0" cy="60.4" r="0.62" fill="#41688b"/>
<circle cx="91.1" cy="61.1" r="0.62" fill="#514cbd"/>
<circle cx="97.6" cy="62.6" r="0.62" fill="#0e52b1"/>
<circle cx="96.6" cy="62.1" r="0.62" fill="#13388f"/>
<circle cx="95.3" cy="64.5" r="0.62" fill="#1058a3"/>
<circle cx="102.7" cy="58.6" r="0.62" fill="#4d578f"/>
<circle cx="95.3" cy="58.1" r="0.62" fill="#0f37b8"/>
<circle cx="102.1" cy="58.5" r="0.62" fill="#1e549c"/>
<circle cx="95.8" cy="55.2" r="0.62" fill="#0e77ad"/>
<circle cx="106.4" cy="59.9" r="0.62" fill="#3c4eb2"/>
<circle cx="101.6" cy="57.3" r="0.62" fill="#2449ac"/>
<circle cx="93.6" cy="53.1" r="0.62" fill="#4d3d9d"/>
<circle cx="102.3" cy="53.0" r="0.62" fill="#31689b"/>
<circle cx="103.0" cy="57.5" r="0.62" fill="#224089"/>
<circle cx="104.1" cy="54.5" r="0.62" fill="#044ba6"/>
<circle cx="93.1" cy="59.6" r="0.62" fill="#494daa"/>
<circle cx="103.4" cy="56.7" r="0.62" fill="#284c9e"/>
<circle cx="91.2" cy="54.4" r="0.62" fill="#164f9f"/>
<circle cx="90.9" cy="67.2" r="0.62" fill="#2d489a"/>
<circle cx="98.7" cy="57.1" r="0.62" fill="#39338f"/>
<circle cx="105.3" cy="62.5" r="0.62" fill="#0d4484"/>
<circle cx="96.9" cy="67.0" r="0.62" fill="#3b7acb"/>
<circle cx="87.6" cy="56.2" r="0.62" fill="#097ca2"/>
<circle cx="100.2" cy="66.7" r="0.62" fill="#465087"/>
<circle cx="102.9" cy="54.0" r="0.62" fill="#318083"/>
<circle cx="99.7" cy="60.3" r="0.62" fill="#036ab2"/>
<circle cx="99.6" cy="61.3" r="0.62" fill="#1062b5"/>
<circle cx="101.8" cy="58.7" r="0.62" fill="#50549f"/>
<circle cx="97.4" cy="62.8" r="0.62" fill="#4f81b8"/>
<circle cx="98.8" cy="62.1" r="0.62" fill="#0e4eba"/>
<circle cx="102.8" cy="61.5" r="0.62" fill="#3834a3"/>
<circle cx="99.0" cy="53.7" r="0.62" fill="#2678b0"/>
<circle cx="95.1" cy="63.4" r="0.62" fill="#4d76c9"/>
<circle cx="95.1" cy="58.5" r="0.62" fill="#1050b7"/>
<circle cx="105.8" cy="59.7" r="0.62" fill="#405b80"/>
<circle cx="98.9" cy="55.0" r="0.62" fill="#375fba"/>
<circle cx="87.7" cy="65.8" r="0.62" fill="#4e7cb1"/>
<circle cx="95.7" cy="63.6" r="0.62" fill="#177abf"/>
<circle cx="99.5" cy="51.2" r="0.62" fill="#516999"/>
<circle cx="97.7" cy="55.9" r="0.62" fill="#323ec4"/>
<circle cx="93.8" cy="59.8" r="0.62" fill="#4b38ca"/>
<circle cx="97.6" cy="56.9" r="0.62" fill="#3e5fc8"/>
<circle cx="93.3" cy="57.0" r="0.62" fill="#4c38be"/>
<circle cx="100.5" cy="61.7" r="0.62" fill="#0b77a3"/>
<circle cx="97.0" cy="56.0" r="0.62" fill="#3c6587"/>
<circle cx="90.1" cy="59.8" r="0.62" fill="#136696"/>
<circle cx="90.4" cy="67.0" r="0.62" fill="#4d81a2"/>
<circle cx="90.0" cy="55.9" r="0.62" fill="#3e56c5"/>
<circle cx="88.3" cy="66.0" r="0.62" fill="#273bbb"/>
<circle cx="101.8" cy="65.0" r="0.62" fill="#0681ab"/>
<circle cx="97.4" cy="57.1" r="0.62" fill="#345093"/>
<circle cx="98.0" cy="58.4" r="0.62" fill="#2838c4"/>
<circle cx="98.5" cy="58.7" r="0.62" fill="#2757b9"/>
<circle cx="96.9" cy="55.3" r="0.62" fill="#4c408a"/>
<circle cx="98.4" cy="57.4" r="0.62" fill="#105a9a"/>
<circle cx="103.0" cy="68.6" r="0.62" fill="#277094"/>
<circle cx="100.3" cy="57.8" r="0.62" fill="#4a63cd"/>
<circle cx="98.4" cy="53.1" r="0.62" fill="#2c76a3"/>
<circle cx="105.8" cy="65.4" r="0.62" fill="#4268bb"/>
<circle cx="98.1" cy="64.6" r="0.62" fill="#437ec9"/>
<circle cx="101.2" cy="65.4" r="0.62" fill="#2e528d"/>
<circle cx="100.9" cy="63.4" r="0.62" fill="#29479d"/>
<circle cx="90.2" cy="56.9" r="0.62" fill="#313ec6"/>
<circle cx="89.6" cy="68.1" r="0.62" fill="#503dae"/>
<circle cx="101.9" cy="58.6" r="0.62" fill="#2d4b82"/>
<circle cx="98.2" cy="61.8" r="0.62" fill="#1864ad"/>
<circle cx="104.1" cy="57.3" r="0.62" fill="#1e7db2"/>
<circle cx="88.7" cy="57.0" r="0.62" fill="#374eb0"/>
<circle cx="98.1" cy="59.8" r="0.62" fill="#2e42a8"/>
<circle cx="104.0" cy="65.4" r="0.62" fill="#3768ca"/>
<circle cx="104.4" cy="59.2" r="0.62" fill="#3b3283"/>
<circle cx="95.2" cy="65.0" r="0.62" fill="#0253c8"/>
<circle cx="90.2" cy="54.9" r="0.62" fill="#03428e"/>
<circle cx="98.6" cy="57.6" r="0.62" fill="#4c47c6"/>
<circle cx="93.5" cy="59.1" r="0.62" fill="#4f52b7"/>
<circle cx="105.4" cy="63.1" r="0.62" fill="#503abb"/>
<circle cx="94.7" cy="44.5" r="0.75" fill="#cb1c39"/>
<circle cx="90.5" cy="38.8" r="0.75" fill="#c11f25"/>
<circle cx="89.2" cy="48.5" r="0.75" fill="#c50211"/>
<circle cx="98.4" cy="46.4" r="0.75" fill="#e10323"/>
<circle cx="90.1" cy="40.4" r="0.75" fill="#cd160a"/>
<circle cx="99.2" cy="43.8" r="0.75" fill="#c42016"/>
<circle cx="96.4" cy="40.1" r="0.75" fill="#bd121d"/>
<circle cx="91.3" cy="47.8" r="0.75" fill="#c41c33"/>
<circle cx="90.1" cy="43.7" r="0.75" fill="#e71913"/>
<circle cx="96.6" cy="43.1" r="0.75" fill="#c9002a"/>
<circle cx="91.7" cy="43.9" r="0.75" fill="#d22916"/>
<circle cx="97.1" cy="45.0" r="0.75" fill="#c9282d"/>
<circle cx="92.7" cy="43.4" r="0.75" fill="#bb0134"/>
<circle cx="93.5" cy="40.8" r="0.75" fill="#d80023"/>
<circle cx="94.0" cy="43.9" r="0.75" fill="#de1e23"/>
<circle cx="98.1" cy="47.2" r="0.75" fill="#ce1c0e"/>
<circle cx="95.3" cy="42.3" r="0.75" fill="#c40e13"/>
<circle cx="100.6" cy="45.4" r="0.75" fill="#ea0b17"/>
<circle cx="93.5" cy="40.3" r="0.75" fill="#cd1d1f"/>
<circle cx="95.9" cy="43.6" r="0.75" fill="#d42c37"/>
<circle cx="99.1" cy="45.0" r="0.75" fill="#d1042b"/>
<circle cx="87.2" cy="42.7" r="0.75" fill="#c72932"/>
<circle cx="92.7" cy="42.8" r="0.75" fill="#d1012c"/>
<circle cx="93.2" cy="38.0" r="0.75" fill="#e9002d"/>
<circle cx="95.7" cy="40.8" r="0.75" fill="#c90027"/>
<circle cx="94.3" cy="39.2" r="0.75" fill="#db0d2d"/>
<circle cx="94.7" cy="42.6" r="0.75" fill="#bd1f35"/>
<circle cx="93.4" cy="40.9" r="0.75" fill="#e41e0f"/>
<circle cx="90.3" cy="46.2" r="0.75" fill="#b9001b"/>
<circle cx="91.1" cy="49.7" r="0.75" fill="#e02627"/>
<circle cx="101.1" cy="41.5" r="0.75" fill="#e81713"/>
<circle cx="90.1" cy="42.0" r="0.75" fill="#c90d23"/>
<circle cx="92.4" cy="41.2" r="0.75" fill="#c61423"/>
<circle cx="89.5" cy="45.1" r="0.75" fill="#c21517"/>
<circle cx="95.8" cy="36.9" r="0.75" fill="#e01416"/>
<circle cx="99.6" cy="40.6" r="0.75" fill="#cb091e"/>
<circle cx="93.0" cy="36.1" r="0.75" fill="#d11f14"/>
<circle cx="91.1" cy="43.5" r="0.75" fill="#c80c2f"/>
<circle cx="94.7" cy="40.1" r="0.75" fill="#c4222a"/>
<circle cx="92.3" cy="37.9" r="0.75" fill="#db080d"/>
<circle cx="94.3" cy="43.2" r="0.75" fill="#e9152b"/>
<circle cx="102.6" cy="41.1" r="0.75" fill="#c40b0f"/>
<circle cx="97.0" cy="36.9" r="0.75" fill="#d10d17"/>
<circle cx="88.2" cy="43.0" r="0.75" fill="#e52535"/>
<circle cx="90.8" cy="43.9" r="0.75" fill="#c82b13"/>
<circle cx="96.9" cy="44.9" r="0.75" fill="#e7251a"/>
<circle cx="100.4" cy="36.4" r="0.75" fill="#ce0430"/>
<circle cx="93.5" cy="43.8" r="0.75" fill="#e6101d"/>
<circle cx="92.3" cy="40.9" r="0.75" fill="#ba0e1c"/>
<circle cx="99.1" cy="42.7" r="0.75" fill="#df0b2b"/>
<circle cx="93.0" cy="40.9" r="0.75" fill="#ba1c28"/>
<circle cx="94.2" cy="44.8" r="0.75" fill="#e32815"/>
<circle cx="90.2" cy="40.1" r="0.75" fill="#c9001a"/>
<circle cx="91.4" cy="38.7" r="0.75" fill="#d20114"/>
<circle cx="93.3" cy="46.0" r="0.75" fill="#cb280f"/>
<circle cx="98.2" cy="42.3" r="0.75" fill="#e30727"/>
<circle cx="94.1" cy="43.2" r="0.75" fill="#e02317"/>
<circle cx="95.8" cy="38.4" r="0.75" fill="#ea001d"/>
<circle cx="95.8" cy="47.5" r="0.75" fill="#df2525"/>
<circle cx="89.1" cy="46.7" r="0.75" fill="#be072f"/>
<circle cx="99.0" cy="44.7" r="0.75" fill="#c3000e"/>
<circle cx="98.5" cy="44.4" r="0.75" fill="#ce1418"/>
<circle cx="93.5" cy="38.4" r="0.75" fill="#ea0323"/>
<circle cx="90.9" cy="42.6" r="0.75" fill="#e40535"/>
<circle cx="92.6" cy="45.0" r="0.75" fill="#d71718"/>
<circle cx="104.2" cy="47.0" r="0.75" fill="#cb002a"/>
<circle cx="91.2" cy="41.9" r="0.75" fill="#c9251a"/>
<circle cx="85.6" cy="47.0" r="0.75" fill="#cb0f12"/>
<circle cx="91.7" cy="38.0" r="0.75" fill="#cf0f15"/>
<circle cx="96.2" cy="38.6" r="0.75" fill="#e20d2e"/>
<circle cx="98.0" cy="43.0" r="0.75" fill="#e91d2b"/>
<circle cx="90.1" cy="42.6" r="0.75" fill="#c2032a"/>
<circle cx="93.9" cy="39.9" r="0.75" fill="#d90128"/>
<circle cx="97.4" cy="46.3" r="0.75" fill="#c81610"/>
<circle cx="89.1" cy="43.0" r="0.75" fill="#bf0a2b"/>
<circle cx="89.3" cy="41.1" r="0.75" fill="#df1715"/>
<circle cx="87.4" cy="44.9" r="0.75" fill="#d5201c"/>
<circle cx="97.7" cy="37.8" r="0.75" fill="#be190b"/>
<circle cx="94.5" cy="39.7" r="0.75" fill="#e30333"/>
<circle cx="94.2" cy="42.4" r="0.75" fill="#e51133"/>
<circle cx="93.0" cy="38.4" r="0.75" fill="#e40536"/>
<circle cx="94.5" cy="43.2" r="0.75" fill="#c9000d"/>
<circle cx="93.4" cy="41.2" r="0.75" fill="#c00917"/>
<circle cx="103.2" cy="38.7" r="0.75" fill="#e42c20"/>
<circle cx="96.0" cy="39.7" r="0.75" fill="#e7232e"/>
<circle cx="95.3" cy="44.1" r="0.75" fill="#e71628"/>
<circle cx="96.5" cy="41.0" r="0.75" fill="#db1231"/>
<circle cx="92.3" cy="43.2" r="0.75" fill="#e8092f"/>
<circle cx="96.6" cy="40.1" r="0.75" fill="#db0e15"/>
<circle cx="91.5" cy="45.7" r="0.75" fill="#d2002f"/>
<circle cx="94.7" cy="35.1" r="0.75" fill="#ca051b"/>
<circle cx="94.3" cy="37.3" r="0.75" fill="#cd1511"/>
<circle cx="99.2" cy="40.5" r="0.75" fill="#d22213"/>
<circle cx="94.3" cy="39.2" r="0.75" fill="#e10017"/>
<circle cx="91.8" cy="39.4" r="0.75" fill="#cb1714"/>
<circle cx="94.8" cy="42.6" r="0.75" fill="#e00733"/>
<circle cx="89.5" cy="40.9" r="0.75" fill="#d80130"/>
<circle cx="92.8" cy="49.4" r="0.75" fill="#e01c32"/>
<circle cx="89.1" cy="44.6" r="0.75" fill="#e8040f"/>
<circle cx="90.6" cy="44.8" r="0.75" fill="#c00635"/>
<circle cx="93.1" cy="43.8" r="0.75" fill="#c21713"/>
<circle cx="89.7" cy="43.2" r="0.75" fill="#ce1433"/>
<circle cx="95.4" cy="43.5" r="0.75" fill="#df1724"/>
<circle cx="96.5" cy="48.6" r="0.75" fill="#c81f15"/>
<circle cx="89.4" cy="40.2" r="0.75" fill="#cb120d"/>
<circle cx="90.9" cy="38.2" r="0.75" fill="#c0162e"/>
<circle cx="101.6" cy="46.6" r="0.75" fill="#e40016"/>
<circle cx="97.8" cy="43.9" r="0.75" fill="#bd1316"/>
<circle cx="93.5" cy="46.3" r="0.75" fill="#cb222e"/>
<circle cx="97.3" cy="44.2" r="0.75" fill="#b90b0f"/>
<circle cx="92.6" cy="36.6" r="0.75" fill="#ea050b"/>
<circle cx="95.2" cy="38.8" r="0.75" fill="#e70e19"/>
<circle cx="104.4" cy="46.4" r="0.75" fill="#d2111f"/>
<circle cx="95.9" cy="35.8" r="0.75" fill="#d0031e"/>
<circle cx="98.4" cy="40.2" r="0.75" fill="#da1621"/>
<circle cx="92.1" cy="41.3" r="0.75" fill="#d4260d"/>
<circle cx="89.0" cy="47.9" r="0.75" fill="#e90029"/>
<circle cx="89.4" cy="37.4" r="0.75" fill="#d00119"/>
<circle cx="93.4" cy="36.8" r="0.75" fill="#c31b2a"/>
<circle cx="94.5" cy="41.9" r="0.75" fill="#cf0b27"/>
<circle cx="93.8" cy="44.1" r="0.75" fill="#da0931"/>
<circle cx="93.1" cy="46.7" r="0.75" fill="#e1002e"/>
<circle cx="104.2" cy="46.0" r="0.75" fill="#ba1f1c"/>
<circle cx="96.8" cy="45.8" r="0.75" fill="#d20f10"/>
<circle cx="91.4" cy="42.1" r="0.75" fill="#e90e1f"/>
<circle cx="92.3" cy="47.2" r="0.75" fill="#e20e2f"/>
<circle cx="94.6" cy="44.2" r="0.75" fill="#bb1135"/>
<circle cx="96.3" cy="46.2" r="0.75" fill="#df0811"/>
<circle cx="90.5" cy="42.0" r="0.75" fill="#e72715"/>
<circle cx="90.9" cy="41.1" r="0.75" fill="#ba1137"/>
<circle cx="93.1" cy="47.0" r="0.75" fill="#dc0038"/>
<circle cx="97.8" cy="44.4" r="0.75" fill="#dc001c"/>
<circle cx="98.4" cy="45.4" r="0.75" fill="#b90215"/>
<circle cx="96.6" cy="43.3" r="0.75" fill="#c21410"/>
<circle cx="96.9" cy="39.1" r="0.75" fill="#c50733"/>
<circle cx="101.8" cy="44.2" r="0.75" fill="#bd2a1e"/>
<circle cx="88.0" cy="38.4" r="0.75" fill="#be002c"/>
<circle cx="89.1" cy="39.5" r="0.75" fill="#c61313"/>
<circle cx="91.8" cy="43.6" r="0.75" fill="#d60917"/>
<circle cx="93.9" cy="41.3" r="0.75" fill="#e11315"/>
<circle cx="98.8" cy="45.3" r="0.75" fill="#d21e1c"/>
<circle cx="87.3" cy="46.5" r="0.75" fill="#c62c36"/>
<circle cx="94.6" cy="49.1" r="0.75" fill="#d7053b"/>
<circle cx="90.3" cy="37.3" r="0.75" fill="#d40035"/>
<circle cx="96.5" cy="45.0" r="0.75" fill="#d70421"/>
<circle cx="94.6" cy="40.9" r="0.75" fill="#da0021"/>
<circle cx="91.1" cy="38.1" r="0.75" fill="#bb043a"/>
<circle cx="91.5" cy="44.9" r="0.75" fill="#cb1d2f"/>
<circle cx="92.4" cy="39.5" r="0.75" fill="#d51413"/>
<circle cx="87.0" cy="44.0" r="0.75" fill="#c5202d"/>
<circle cx="102.5" cy="39.9" r="0.75" fill="#e40831"/>
<circle cx="91.3" cy="43.0" r="0.75" fill="#cb2234"/>
<circle cx="98.6" cy="38.1" r="0.75" fill="#c10226"/>
<circle cx="95.9" cy="45.7" r="0.75" fill="#be022d"/>
<circle cx="96.4" cy="49.4" r="0.75" fill="#c92519"/>
<circle cx="94.5" cy="46.1" r="0.75" fill="#b9101c"/>
<circle cx="103.5" cy="43.1" r="0.75" fill="#cb003a"/>
<circle cx="95.4" cy="45.2" r="0.75" fill="#ba002d"/>
<circle cx="90.6" cy="40.4" r="0.75" fill="#c5093a"/>
<circle cx="86.0" cy="50.3" r="0.75" fill="#e50134"/>
<circle cx="101.7" cy="43.2" r="0.75" fill="#e11d25"/>
<circle cx="96.0" cy="40.6" r="0.75" fill="#d3081d"/>
<circle cx="97.4" cy="47.8" r="0.75" fill="#d52129"/>
<circle cx="87.1" cy="37.8" r="0.75" fill="#e1171a"/>
<circle cx="98.7" cy="41.0" r="0.75" fill="#be0b2d"/>
<circle cx="100.6" cy="40.3" r="0.75" fill="#da2930"/>
<circle cx="90.5" cy="43.8" r="0.75" fill="#de0a0f"/>
<circle cx="89.3" cy="38.0" r="0.75" fill="#c51d36"/>
<circle cx="96.6" cy="43.9" r="0.75" fill="#d10b39"/>
<circle cx="99.7" cy="42.4" r="0.75" fill="#e01a12"/>
<circle cx="97.6" cy="42.1" r="0.75" fill="#bc110a"/>
<circle cx="90.6" cy="42.9" r="0.75" fill="#e80f34"/>
<circle cx="96.1" cy="37.8" r="0.75" fill="#c40a22"/>
<circle cx="90.1" cy="45.7" r="0.75" fill="#d20b28"/>
<circle cx="97.9" cy="42.4" r="0.75" fill="#c9000e"/>
<circle cx="99.2" cy="43.8" r="0.75" fill="#e21d3a"/>
<circle cx="98.0" cy="38.4" r="0.75" fill="#d6001d"/>
<circle cx="94.6" cy="47.5" r="0.75" fill="#bc161c"/>
<circle cx="90.6" cy="42.7" r="0.75" fill="#be1f32"/>
<circle cx="93.3" cy="41.5" r="0.75" fill="#d6263b"/>
<circle cx="95.1" cy="41.4" r="0.75" fill="#e41c17"/>
<circle cx="102.0" cy="39.3" r="0.75" fill="#e50726"/>
<circle cx="92.4" cy="44.6" r="0.75" fill="#df191a"/>
<circle cx="86.3" cy="39.3" r="0.75" fill="#d52c0b"/>
<circle cx="89.7" cy="43.6" r="0.75" fill="#dd2b29"/>
<circle cx="89.0" cy="43.2" r="0.75" fill="#d31e39"/>
<circle cx="98.8" cy="42.8" r="0.75" fill="#e40031"/>
<circle cx="101.1" cy="43.5" r="0.75" fill="#e1061d"/>
<circle cx="96.0" cy="48.1" r="0.75" fill="#d3191a"/>
<circle cx="85.9" cy="37.9" r="0.75" fill="#df2a16"/>
<circle cx="90.8" cy="42.1" r="0.75" fill="#ca2312"/>
<circle cx="88.1" cy="40.3" r="0.75" fill="#e70017"/>
<circle cx="99.3" cy="48.4" r="0.75" fill="#cc1638"/>
<circle cx="98.5" cy="43.8" r="0.75" fill="#c00119"/>
<circle cx="93.3" cy="38.0" r="0.75" fill="#bf2323"/>
<circle cx="100.0" cy="47.7" r="0.75" fill="#e20538"/>
<circle cx="96.1" cy="40.1" r="0.75" fill="#b92633"/>
<circle cx="101.0" cy="46.0" r="0.75" fill="#df1a33"/>
<circle cx="98.8" cy="42.2" r="0.75" fill="#e22919"/>
<circle cx="92.4" cy="37.5" r="0.75" fill="#e31717"/>
<circle cx="94.9" cy="47.0" r="0.75" fill="#bf2536"/>
<circle cx="95.3" cy="48.1" r="0.75" fill="#da0130"/>
<circle cx="95.4" cy="39.4" r="0.75" fill="#bd0930"/>
<circle cx="87.3" cy="43.9" r="0.75" fill="#c0001b"/>
<circle cx="96.9" cy="41.0" r="0.75" fill="#bc200e"/>
<circle cx="94.1" cy="41.2" r="0.75" fill="#c51c35"/>
<circle cx="91.0" cy="44.6" r="0.75" fill="#ba0c16"/>
<circle cx="96.6" cy="37.0" r="0.75" fill="#e0152c"/>
<circle cx="98.0" cy="45.0" r="0.75" fill="#c7092e"/>
<circle cx="95.9" cy="45.6" r="0.75" fill="#c72629"/>
<circle cx="90.8" cy="42.9" r="0.75" fill="#e72920"/>
<circle cx="87.2" cy="39.6" r="0.75" fill="#c5070f"/>
<circle cx="87.6" cy="42.4" r="0.75" fill="#c0103b"/>
<circle cx="90.8" cy="42.9" r="0.75" fill="#e2271c"/>
<circle cx="99.4" cy="46.1" r="0.75" fill="#de292b"/>
<circle cx="93.2" cy="46.5" r="0.75" fill="#c71121"/>
<circle cx="103.0" cy="38.4" r="0.75" fill="#e7123a"/>
<circle cx="101.2" cy="48.7" r="0.75" fill="#d9261e"/>
<circle cx="96.0" cy="42.5" r="0.75" fill="#e3231c"/>
<circle cx="96.4" cy="40.3" r="0.75" fill="#de121e"/>
<circle cx="97.5" cy="48.6" r="0.75" fill="#dd003a"/>
<circle cx="95.7" cy="45.9" r="0.75" fill="#cd1736"/>
<circle cx="100.7" cy="40.8" r="0.75" fill="#cb000d"/>
<circle cx="89.4" cy="41.9" r="0.75" fill="#cf2c1e"/>
<circle cx="92.3" cy="45.5" r="0.75" fill="#c12927"/>
<circle cx="90.6" cy="41.5" r="0.75" fill="#c50a22"/>
<circle cx="92.3" cy="41.6" r="0.75" fill="#bb021b"/>
<circle cx="96.8" cy="35.1" r="0.75" fill="#c42220"/>
<circle cx="89.8" cy="41.5" r="0.75" fill="#bb002b"/>
<circle cx="93.4" cy="39.2" r="0.75" fill="#e62319"/>
<circle cx="100.0" cy="44.4" r="0.75" fill="#d9060c"/>
<circle cx="93.9" cy="42.6" r="0.75" fill="#dd1a17"/>
<circle cx="92.0" cy="43.4" r="0.75" fill="#c20432"/>
<circle cx="88.5" cy="44.2" r="0.75" fill="#ca2327"/>
<circle cx="92.6" cy="39.5" r="0.75" fill="#d5043a"/>
<circle cx="92.5" cy="38.6" r="0.75" fill="#d8001a"/>
<circle cx="96.0" cy="49.4" r="0.75" fill="#b91135"/>
<circle cx="96.4" cy="36.9" r="0.75" fill="#c8062d"/>
<circle cx="92.9" cy="48.0" r="0.75" fill="#ca2126"/>
<circle cx="85.9" cy="49.8" r="0.75" fill="#b9260b"/>
<circle cx="90.9" cy="41.5" r="0.75" fill="#df0a14"/>
<circle cx="96.2" cy="38.1" r="0.75" fill="#de130b"/>
<circle cx="95.4" cy="40.0" r="0.75" fill="#d00016"/>
<circle cx="91.3" cy="37.2" r="0.75" fill="#d8112e"/>
<circle cx="93.6" cy="40.4" r="0.75" fill="#d3182e"/>
<circle cx="96.2" cy="45.4" r="0.75" fill="#ca001b"/>
<circle cx="94.3" cy="37.8" r="0.75" fill="#c11f0f"/>
<circle cx="95.0" cy="40.5" r="0.75" fill="#bd0723"/>
<circle cx="93.9" cy="49.9" r="0.75" fill="#e7092f"/>
<circle cx="93.2" cy="38.1" r="0.75" fill="#c52a39"/>
<circle cx="98.8" cy="42.8" r="0.75" fill="#c9041f"/>
<circle cx="95.8" cy="42.0" r="0.75" fill="#e20a0a"/>
<circle cx="97.8" cy="40.8" r="0.75" fill="#c3001c"/>
<circle cx="97.0" cy="44.0" r="0.75" fill="#c51720"/>
<circle cx="93.2" cy="46.6" r="0.75" fill="#df1f1b"/>
<circle cx="101.6" cy="39.4" r="0.75" fill="#d5121a"/>
<circle cx="101.0" cy="48.1" r="0.75" fill="#d70038"/>
<circle cx="95.9" cy="41.9" r="0.75" fill="#dc0624"/>
<circle cx="97.0" cy="39.6" r="0.75" fill="#d11c13"/>
<circle cx="91.8" cy="39.8" r="0.75" fill="#ea042d"/>
<circle cx="98.3" cy="43.2" r="0.75" fill="#be0224"/>
<circle cx="98.5" cy="48.2" r="0.75" fill="#bd1a35"/>
<circle cx="97.1" cy="44.3" r="0.75" fill="#df1238"/>
<circle cx="92.7" cy="45.6" r="0.75" fill="#e80c3a"/>
<circle cx="97.2" cy="41.0" r="0.75" fill="#d42a0f"/>
<circle cx="99.3" cy="37.4" r="0.75" fill="#de190e"/>
<circle cx="96.9" cy="42.1" r="0.75" fill="#e01f19"/>
<circle cx="93.2" cy="39.1" r="0.75" fill="#de0038"/>
<circle cx="89.2" cy="46.8" r="0.75" fill="#d02319"/>
<circle cx="94.1" cy="42.3" r="0.75" fill="#d10034"/>
<circle cx="93.0" cy="39.1" r="0.75" fill="#e92a39"/>
<circle cx="100.8" cy="45.3" r="0.75" fill="#dd190a"/>
<circle cx="99.1" cy="40.7" r="0.75" fill="#d62317"/>
<circle cx="94.8" cy="43.5" r="0.75" fill="#bf2c2e"/>
<circle cx="95.6" cy="44.5" r="0.75" fill="#e51c27"/>
<circle cx="98.0" cy="45.2" r="0.75" fill="#e8001e"/>
<circle cx="103.4" cy="47.9" r="0.75" fill="#e31f0c"/>
<circle cx="93.3" cy="38.5" r="0.75" fill="#d10223"/>
<circle cx="95.7" cy="40.7" r="0.75" fill="#e40f17"/>
<circle cx="95.3" cy="46.5" r="0.75" fill="#d91736"/>
<circle cx="89.9" cy="42.2" r="0.75" fill="#ea050a"/>
<circle cx="93.2" cy="45.2" r="0.75" fill="#bf0f0b"/>
<circle cx="99.3" cy="40.5" r="0.75" fill="#e41d2e"/>
<circle cx="95.2" cy="39.5" r="0.75" fill="#dd0525"/>
<circle cx="88.9" cy="39.0" r="0.75" fill="#c10c33"/>
<circle cx="97.2" cy="44.2" r="0.75" fill="#be1f2f"/>
<circle cx="90.5" cy="37.5" r="0.75" fill="#d21738"/>
<circle cx="91.3" cy="38.3" r="0.75" fill="#d6132f"/>
<circle cx="93.0" cy="41.7" r="0.75" fill="#ce101f"/>
<circle cx="91.2" cy="41.2" r="0.75" fill="#cc101c"/>
<circle cx="96.8" cy="42.2" r="0.75" fill="#b91f1d"/>
<circle cx="89.5" cy="44.0" r="0.75" fill="#cb060a"/>
<circle cx="102.1" cy="36.4" r="0.75" fill="#c7121a"/>
<circle cx="103.5" cy="45.2" r="0.75" fill="#e20716"/>
<circle cx="92.5" cy="36.4" r="0.75" fill="#d00e15"/>
<circle cx="97.6" cy="35.6" r="0.75" fill="#e30027"/>
<circle cx="101.8" cy="42.0" r="0.75" fill="#cf020d"/>
<circle cx="94.8" cy="41.2" r="0.75" fill="#e11c21"/>
<circle cx="102.8" cy="37.2" r="0.75" fill="#d70027"/>
<circle cx="92.1" cy="43.8" r="0.75" fill="#e71f10"/>
<circle cx="95.5" cy="45.8" r="0.75" fill="#d50b1f"/>
<circle cx="96.1" cy="40.4" r="0.75" fill="#dd0b39"/>
<circle cx="98.7" cy="41.5" r="0.75" fill="#d7001e"/>
<circle cx="90.6" cy="38.9" r="0.75" fill="#ca0010"/>
<circle cx="92.6" cy="41.7" r="0.75" fill="#c81937"/>
<circle cx="91.7" cy="42.2" r="0.75" fill="#d60831"/>
<circle cx="96.9" cy="44.8" r="0.75" fill="#ce2812"/>
<circle cx="95.8" cy="44.3" r="0.75" fill="#c30b1d"/>
<circle cx="95.3" cy="38.8" r="0.75" fill="#d00e30"/>
<circle cx="98.7" cy="40.3" r="0.75" fill="#e7073a"/>
<circle cx="88.6" cy="41.6" r="0.75" fill="#cc0810"/>
<circle cx="98.1" cy="40.3" r="0.75" fill="#db1224"/>
<circle cx="95.7" cy="44.7" r="0.75" fill="#c91d25"/>
<circle cx="101.8" cy="42.6" r="0.75" fill="#ce0016"/>
<circle cx="96.9" cy="49.0" r="0.75" fill="#d40b16"/>
<circle cx="94.1" cy="45.3" r="0.75" fill="#ca2231"/>
<circle cx="92.1" cy="35.4" r="0.75" fill="#d9000c"/>
<circle cx="96.7" cy="44.9" r="0.75" fill="#d32427"/>
<circle cx="92.1" cy="43.6" r="0.75" fill="#ea201b"/>
<circle cx="94.7" cy="49.5" r="0.75" fill="#be1b1b"/>
<circle cx="97.8" cy="40.6" r="0.75" fill="#be0432"/>
<circle cx="101.1" cy="41.8" r="0.75" fill="#db0917"/>
<circle cx="100.7" cy="43.8" r="0.75" fill="#ca041f"/>
<circle cx="97.9" cy="41.4" r="0.75" fill="#c11a2a"/>
<circle cx="92.3" cy="42.3" r="0.75" fill="#e40012"/>
<circle cx="95.3" cy="46.8" r="0.75" fill="#d0162e"/>
<circle cx="98.8" cy="40.0" r="0.75" fill="#bb240a"/>
<circle cx="94.0" cy="44.3" r="0.75" fill="#d72210"/>
<circle cx="92.7" cy="49.3" r="0.75" fill="#db002c"/>
<circle cx="96.2" cy="39.0" r="0.75" fill="#c01b19"/>
<circle cx="96.7" cy="44.1" r="0.75" fill="#cd011d"/>
<circle cx="89.8" cy="41.1" r="0.75" fill="#cd230e"/>
<circle cx="90.2" cy="49.8" r="0.75" fill="#e42930"/>
<circle cx="87.6" cy="41.1" r="0.75" fill="#d50016"/>
<circle cx="102.2" cy="46.7" r="0.75" fill="#c90f24"/>
<circle cx="100.4" cy="45.8" r="0.75" fill="#e02236"/>
<circle cx="94.0" cy="44.3" r="0.75" fill="#df1d1c"/>
<circle cx="93.6" cy="44.2" r="0.75" fill="#e21232"/>
<circle cx="93.0" cy="45.2" r="0.75" fill="#d22036"/>
<circle cx="91.0" cy="46.9" r="0.75" fill="#cd2630"/>
<circle cx="91.2" cy="41.3" r="0.75" fill="#c62732"/>
<circle cx="94.4" cy="43.9" r="0.75" fill="#c22b0b"/>
<circle cx="96.9" cy="38.4" r="0.75" fill="#d4151e"/>
<circle cx="93.3" cy="41.9" r="0.75" fill="#e60010"/>
<circle cx="92.1" cy="37.9" r="0.75" fill="#e11d38"/>
<circle cx="95.6" cy="42.7" r="0.75" fill="#c42111"/>
<circle cx="87.8" cy="41.3" r="0.75" fill="#c01537"/>
<circle cx="94.9" cy="38.9" r="0.75" fill="#d0083a"/>
<circle cx="96.3" cy="37.2" r="0.75" fill="#c81f22"/>
<circle cx="96.2" cy="39.2" r="0.75" fill="#e51d20"/>
<circle cx="87.8" cy="40.0" r="0.75" fill="#d32b0a"/>
<circle cx="100.4" cy="39.1" r="0.75" fill="#d12511"/>
<circle cx="91.4" cy="47.4" r="0.75" fill="#e20d3b"/>
<circle cx="94.2" cy="41.6" r="0.75" fill="#bf0026"/>
<circle cx="93.5" cy="45.0" r="0.75" fill="#cf0037"/>
<circle cx="97.9" cy="38.6" r="0.75" fill="#cf0a28"/>
<circle cx="101.7" cy="40.9" r="0.75" fill="#e20010"/>
<circle cx="93.7" cy="44.0" r="0.75" fill="#ce2c33"/>
<circle cx="97.9" cy="41.8" r="0.75" fill="#c40017"/>
<circle cx="99.9" cy="44.0" r="0.75" fill="#c81c26"/>
<circle cx="92.0" cy="40.8" r="0.75" fill="#dd1d2d"/>
<circle cx="90.3" cy="43.2" r="0.75" fill="#c70021"/>
<circle cx="92.9" cy="41.0" r="0.75" fill="#e42634"/>
<circle cx="97.0" cy="38.7" r="0.75" fill="#c1082e"/>
<circle cx="97.1" cy="42.3" r="0.75" fill="#b90c1b"/>
<circle cx="93.3" cy="41.5" r="0.75" fill="#e30b37"/>
<circle cx="93.2" cy="45.2" r="0.75" fill="#c12b27"/>
<circle cx="95.7" cy="41.3" r="0.75" fill="#d41f3b"/>
<circle cx="96.9" cy="41.8" r="0.75" fill="#cb2c24"/>
<circle cx="98.2" cy="41.8" r="0.75" fill="#ba2a17"/>
<circle cx="91.2" cy="41.2" r="0.75" fill="#d52939"/>
<circle cx="97.4" cy="40.6" r="0.75" fill="#e2001e"/>
<circle cx="98.1" cy="41.6" r="0.75" fill="#cb1815"/>
<circle cx="93.4" cy="37.4" r="0.75" fill="#bd290d"/>
<circle cx="93.7" cy="39.4" r="0.75" fill="#c0003b"/>
<circle cx="96.5" cy="38.7" r="0.75" fill="#e02b38"/>
<circle cx="91.6" cy="41.9" r="0.75" fill="#d22c2e"/>
<circle cx="91.0" cy="36.4" r="0.75" fill="#cd1634"/>
<circle cx="97.7" cy="49.3" r="0.75" fill="#ba1526"/>
<circle cx="100.9" cy="49.0" r="0.75" fill="#ce041e"/>
<circle cx="91.2" cy="40.4" r="0.75" fill="#b9002d"/>
<circle cx="97.2" cy="44.5" r="0.75" fill="#e12636"/>
<circle cx="95.2" cy="42.8" r="0.75" fill="#de181c"/>
<circle cx="99.5" cy="42.9" r="0.75" fill="#c4183b"/>
<circle cx="95.4" cy="43.9" r="0.75" fill="#db0015"/>
<circle cx="93.3" cy="45.3" r="0.75" fill="#d0031e"/>
<circle cx="93.8" cy="39.5" r="0.75" fill="#e0040f"/>
<circle cx="91.7" cy="39.7" r="0.75" fill="#e6002f"/>
<circle cx="93.0" cy="39.5" r="0.75" fill="#bf192f"/>
<circle cx="90.2" cy="43.2" r="0.75" fill="#db191f"/>
<circle cx="96.9" cy="46.2" r="0.75" fill="#d4273b"/>
<circle cx="91.4" cy="41.4" r="0.75" fill="#c41a2e"/>
<circle cx="95.1" cy="48.0" r="0.75" fill="#ea0e38"/>
<circle cx="89.2" cy="44.5" r="0.75" fill="#e4051b"/>
<circle cx="96.6" cy="42.4" r="0.75" fill="#c8122f"/>
<circle cx="88.2" cy="36.4" r="0.75" fill="#da000d"/>
<circle cx="99.5" cy="43.4" r="0.75" fill="#ba1529"/>
<circle cx="97.5" cy="49.3" r="0.75" fill="#cd2a1b"/>
<circle cx="91.1" cy="39.4" r="0.75" fill="#c6210a"/>
<circle cx="95.0" cy="45.7" r="0.75" fill="#e5140b"/>
<circle cx="93.2" cy="47.2" r="0.75" fill="#e10030"/>
<circle cx="91.0" cy="45.3" r="0.75" fill="#ce103b"/>
<circle cx="103.4" cy="38.6" r="0.75" fill="#dd1e11"/>
<circle cx="102.9" cy="44.0" r="0.75" fill="#da1a19"/>
<circle cx="94.2" cy="42.4" r="0.75" fill="#ca0c0d"/>
<circle cx="104.2" cy="41.4" r="0.75" fill="#e1001e"/>
<circle cx="100.3" cy="46.2" r="0.75" fill="#e12231"/>
<circle cx="95.5" cy="42.9" r="0.75" fill="#bd2533"/>
<circle cx="91.9" cy="42.2" r="0.75" fill="#e3011a"/>
<circle cx="88.6" cy="45.6" r="0.75" fill="#e1183b"/>
<circle cx="96.7" cy="42.2" r="0.75" fill="#de061a"/>
<circle cx="99.3" cy="43.9" r="0.75" fill="#bf2c22"/>
<circle cx="93.4" cy="38.3" r="0.75" fill="#df0b1e"/>
<circle cx="94.8" cy="36.9" r="0.75" fill="#e50a34"/>
<circle cx="94.5" cy="37.8" r="0.75" fill="#cd170d"/>
<circle cx="98.0" cy="44.3" r="0.75" fill="#bf002d"/>
<circle cx="94.3" cy="37.6" r="0.75" fill="#c31f33"/>
<circle cx="92.7" cy="40.7" r="0.75" fill="#d50e17"/>
<circle cx="100.1" cy="48.3" r="0.75" fill="#d82912"/>
<circle cx="94.5" cy="46.8" r="0.75" fill="#bb0a25"/>
<circle cx="85.6" cy="43.4" r="0.75" fill="#d51a27"/>
<circle cx="95.9" cy="39.1" r="0.75" fill="#b92c31"/>
<circle cx="96.5" cy="43.8" r="0.75" fill="#c41b10"/>
<circle cx="100.0" cy="43.0" r="0.75" fill="#b9071d"/>
<circle cx="95.1" cy="42.7" r="0.75" fill="#c5071a"/>
<circle cx="91.5" cy="44.2" r="0.75" fill="#c90033"/>
<circle cx="94.6" cy="38.3" r="0.75" fill="#b90637"/>
<circle cx="92.2" cy="43.1" r="0.75" fill="#e12710"/>
<circle cx="89.5" cy="42.5" r="0.75" fill="#be0a28"/>
<circle cx="92.2" cy="38.0" r="0.75" fill="#d80d0d"/>
<circle cx="103.2" cy="43.2" r="0.75" fill="#e4280d"/>
<circle cx="95.3" cy="40.3" r="0.75" fill="#ca0534"/>
<circle cx="98.4" cy="36.3" r="0.75" fill="#cc2917"/>
<circle cx="89.3" cy="40.1" r="0.75" fill="#c40e0f"/>
<circle cx="95.8" cy="40.3" r="0.75" fill="#bf082a"/>
<circle cx="91.6" cy="39.2" r="0.75" fill="#e32014"/>
<circle cx="92.4" cy="42.0" r="0.75" fill="#c5020d"/>
<circle cx="89.7" cy="48.6" r="0.75" fill="#d90014"/>
<circle cx="90.6" cy="40.1" r="0.75" fill="#ba0026"/>
<circle cx="93.6" cy="41.6" r="0.75" fill="#df0727"/>
<circle cx="91.1" cy="41.9" r="0.75" fill="#e80e1f"/>
<circle cx="87.0" cy="40.8" r="0.75" fill="#ea2124"/>
<circle cx="93.7" cy="37.5" r="0.75" fill="#e82b2f"/>
<circle cx="96.2" cy="47.1" r="0.75" fill="#ce0631"/>
<circle cx="96.2" cy="48.1" r="0.75" fill="#d1102d"/>
<circle cx="102.7" cy="42.5" r="0.75" fill="#c61c22"/>
<circle cx="99.4" cy="41.1" r="0.75" fill="#ca0021"/>
<circle cx="91.4" cy="41.9" r="0.75" fill="#be130d"/>
<circle cx="97.2" cy="45.9" r="0.75" fill="#ca1424"/>
<circle cx="93.2" cy="43.7" r="0.75" fill="#b9163a"/>
<circle cx="94.2" cy="45.8" r="0.75" fill="#c82022"/>
<circle cx="95.1" cy="42.1" r="0.75" fill="#bf051c"/>
<circle cx="91.6" cy="44.6" r="0.75" fill="#e91026"/>
<circle cx="101.0" cy="41.3" r="0.75" fill="#d6241a"/>
<circle cx="89.5" cy="41.5" r="0.75" fill="#bc201c"/>
<circle cx="92.8" cy="40.2" r="0.75" fill="#e60d17"/>
<circle cx="97.4" cy="40.9" r="0.75" fill="#c6133b"/>
<circle cx="97.2" cy="44.1" r="0.75" fill="#e0001e"/>
<circle cx="96.4" cy="36.9" r="0.75" fill="#e00036"/>
<circle cx="90.1" cy="47.7" r="0.75" fill="#d02721"/>
<circle cx="94.9" cy="44.6" r="0.75" fill="#d10012"/>
<circle cx="99.0" cy="39.2" r="0.75" fill="#e40222"/>
<circle cx="93.0" cy="42.8" r="0.75" fill="#c6292e"/>
<circle cx="89.1" cy="42.2" r="0.75" fill="#e42a27"/>
<circle cx="103.3" cy="44.8" r="0.75" fill="#c10710"/>
<circle cx="89.3" cy="42.1" r="0.75" fill="#d01211"/>
<circle cx="93.9" cy="38.1" r="0.75" fill="#c82438"/>
<circle cx="98.9" cy="44.0" r="0.75" fill="#cf072f"/>
<circle cx="96.9" cy="41.4" r="0.75" fill="#d22b36"/>
<circle cx="93.1" cy="43.0" r="0.75" fill="#cf1431"/>
<circle cx="96.4" cy="45.2" r="0.75" fill="#ea0028"/>
<circle cx="100.9" cy="45.9" r="0.75" fill="#ce2915"/>
<circle cx="97.2" cy="40.7" r="0.75" fill="#bb000d"/>
<circle cx="86.2" cy="48.7" r="0.75" fill="#ca1e0b"/>
<circle cx="89.7" cy="42.1" r="0.75" fill="#bd1720"/>
<circle cx="91.2" cy="48.5" r="0.75" fill="#db010f"/>
<circle cx="98.2" cy="43.4" r="0.75" fill="#d82b3a"/>
<circle cx="96.5" cy="41.1" r="0.75" fill="#e02121"/>
<circle cx="100.8" cy="42.4" r="0.75" fill="#be0510"/>
<circle cx="90.4" cy="39.3" r="0.75" fill="#e3000a"/>
<circle cx="98.3" cy="42.0" r="0.75" fill="#c6260f"/>
<circle cx="97.4" cy="35.1" r="0.75" fill="#d5190a"/>
<circle cx="90.4" cy="39.4" r="0.75" fill="#df140f"/>
<circle cx="96.1" cy="47.7" r="0.75" fill="#bc0016"/>
<circle cx="96.6" cy="38.2" r="0.75" fill="#ca2b27"/>
<circle cx="95.4" cy="47.1" r="0.75" fill="#e30d1f"/>
<circle cx="93.2" cy="40.8" r="0.75" fill="#d60b21"/>
<circle cx="94.8" cy="41.8" r="0.75" fill="#d20a27"/>
<circle cx="97.1" cy="38.9" r="0.75" fill="#d80916"/>
<circle cx="88.8" cy="50.4" r="0.60" fill="#7e3f8b"/>
<circle cx="92.6" cy="51.4" r="0.60" fill="#9c46a1"/>
<circle cx="95.0" cy="51.1" r="0.60" fill="#921a9d"/>
<circle cx="93.0" cy="49.3" r="0.60" fill="#893b7b"/>
<circle cx="89.2" cy="52.5" r="0.60" fill="#953678"/>
<circle cx="95.8" cy="51.6" r="0.60" fill="#74388f"/>
<circle cx="100.7" cy="49.6" r="0.60" fill="#a0308c"/>
<circle cx="93.9" cy="52.1" r="0.60" fill="#a13173"/>
<circle cx="93.0" cy="51.3" r="0.60" fill="#92328a"/>
<circle cx="102.6" cy="49.4" r="0.60" fill="#771a96"/>
<circle cx="89.0" cy="49.3" r="0.60" fill="#8c1a89"/>
<circle cx="98.5" cy="48.8" r="0.60" fill="#751fa0"/>
<circle cx="92.1" cy="50.2" r="0.60" fill="#96479e"/>
<circle cx="89.5" cy="48.3" r="0.60" fill="#77309b"/>
<circle cx="93.5" cy="51.2" r="0.60" fill="#9e3c73"/>
<circle cx="100.9" cy="51.2" r="0.60" fill="#a2379e"/>
<circle cx="100.2" cy="51.7" r="0.60" fill="#7c297a"/>
<circle cx="93.5" cy="50.6" r="0.60" fill="#9339a0"/>
<circle cx="95.2" cy="49.9" r="0.60" fill="#9e34a1"/>
<circle cx="92.9" cy="50.5" r="0.60" fill="#9621a4"/>
<circle cx="84.5" cy="49.7" r="0.60" fill="#8b2994"/>
<circle cx="93.6" cy="48.9" r="0.60" fill="#802e96"/>
<circle cx="95.4" cy="51.4" r="0.60" fill="#8b3976"/>
<circle cx="94.1" cy="53.1" r="0.60" fill="#821d8b"/>
<circle cx="100.9" cy="48.6" r="0.60" fill="#753c92"/>
<circle cx="87.7" cy="50.7" r="0.60" fill="#8d2295"/>
<circle cx="98.0" cy="51.4" r="0.60" fill="#9d358c"/>
<circle cx="93.6" cy="48.8" r="0.60" fill="#863474"/>
<circle cx="94.2" cy="50.8" r="0.60" fill="#a44693"/>
<circle cx="100.4" cy="53.0" r="0.60" fill="#814193"/>
<circle cx="88.5" cy="49.0" r="0.60" fill="#80428e"/>
<circle cx="95.4" cy="47.6" r="0.60" fill="#7f2d85"/>
<circle cx="104.0" cy="51.9" r="0.60" fill="#95318e"/>
<circle cx="96.4" cy="50.1" r="0.60" fill="#843b8d"/>
<circle cx="91.1" cy="50.5" r="0.60" fill="#7e3a84"/>
<circle cx="105.0" cy="49.3" r="0.60" fill="#a3268c"/>
<circle cx="98.7" cy="51.4" r="0.60" fill="#7632a2"/>
<circle cx="95.4" cy="49.1" r="0.60" fill="#804775"/>
<circle cx="100.5" cy="48.1" r="0.60" fill="#764893"/>
<circle cx="154.0" cy="48.7" r="0.60" fill="#d71535"/>
<circle cx="161.5" cy="43.8" r="0.60" fill="#b9212a"/>
<circle cx="156.9" cy="44.7" r="0.60" fill="#bc271c"/>
<circle cx="160.4" cy="51.3" r="0.60" fill="#bc172e"/>
<circle cx="162.6" cy="51.6" r="0.60" fill="#e92431"/>
<circle cx="165.5" cy="43.9" r="0.60" fill="#d42432"/>
<circle cx="152.9" cy="41.7" r="0.60" fill="#c10b1a"/>
<circle cx="163.5" cy="40.6" r="0.60" fill="#c72c0c"/>
<circle cx="162.1" cy="47.3" r="0.60" fill="#bc2a1b"/>
<circle cx="150.5" cy="51.1" r="0.60" fill="#d31a1f"/>
<circle cx="157.0" cy="50.8" r="0.60" fill="#d00211"/>
<circle cx="149.1" cy="45.7" r="0.60" fill="#ce0038"/>
<circle cx="164.7" cy="52.3" r="0.60" fill="#bb1b11"/>
<circle cx="157.7" cy="50.2" r="0.60" fill="#de101e"/>
<circle cx="153.0" cy="48.8" r="0.60" fill="#c72a13"/>
<circle cx="162.2" cy="49.7" r="0.60" fill="#ca1f0b"/>
<circle cx="155.9" cy="42.6" r="0.60" fill="#e70a1f"/>
<circle cx="155.5" cy="50.5" r="0.60" fill="#c71c1e"/>
<circle cx="156.9" cy="42.8" r="0.60" fill="#cf162d"/>
<circle cx="155.0" cy="42.5" r="0.60" fill="#bd0011"/>
<circle cx="159.3" cy="48.3" r="0.60" fill="#da0c37"/>
<circle cx="158.4" cy="49.0" r="0.60" fill="#c2022c"/>
<circle cx="154.6" cy="44.6" r="0.60" fill="#e11c1f"/>
<circle cx="152.3" cy="42.3" r="0.60" fill="#cf001c"/>
<circle cx="162.6" cy="44.7" r="0.60" fill="#d80030"/>
<circle cx="161.2" cy="43.1" r="0.60" fill="#cb1416"/>
<circle cx="158.7" cy="48.0" r="0.60" fill="#db1439"/>
<circle cx="167.9" cy="44.1" r="0.60" fill="#e8240b"/>
<circle cx="167.4" cy="53.9" r="0.60" fill="#e41928"/>
<circle cx="153.2" cy="47.6" r="0.60" fill="#c01617"/>
<circle cx="165.3" cy="51.6" r="0.60" fill="#d52618"/>
<circle cx="154.4" cy="44.5" r="0.60" fill="#e2052a"/>
<circle cx="153.8" cy="44.8" r="0.60" fill="#bd1324"/>
<circle cx="159.4" cy="43.5" r="0.60" fill="#c20a32"/>
<circle cx="158.8" cy="51.6" r="0.60" fill="#ba002d"/>
<circle cx="155.6" cy="46.0" r="0.60" fill="#d02a1d"/>
<circle cx="153.1" cy="44.5" r="0.60" fill="#d20036"/>
<circle cx="153.9" cy="44.2" r="0.60" fill="#c70438"/>
<circle cx="160.6" cy="42.7" r="0.60" fill="#d71614"/>
<circle cx="166.0" cy="47.4" r="0.60" fill="#c1170a"/>
<circle cx="161.0" cy="46.3" r="0.60" fill="#d9193b"/>
<circle cx="154.7" cy="41.9" r="0.60" fill="#b92a22"/>
<circle cx="158.9" cy="45.1" r="0.60" fill="#e21214"/>
<circle cx="156.4" cy="46.9" r="0.60" fill="#d6052d"/>
<circle cx="161.5" cy="51.4" r="0.60" fill="#d71e39"/>
<circle cx="155.9" cy="51.8" r="0.60" fill="#cc2733"/>
<circle cx="158.6" cy="40.6" r="0.60" fill="#c6283a"/>
<circle cx="162.3" cy="44.9" r="0.60" fill="#e21c33"/>
<circle cx="159.8" cy="41.8" r="0.60" fill="#cc222a"/>
<circle cx="148.1" cy="44.0" r="0.60" fill="#ba0021"/>
<circle cx="165.9" cy="50.4" r="0.60" fill="#bd2715"/>
<circle cx="163.6" cy="51.0" r="0.60" fill="#da0f27"/>
<circle cx="151.8" cy="45.8" r="0.60" fill="#d00f2c"/>
<circle cx="163.9" cy="50.0" r="0.60" fill="#e72125"/>
<circle cx="156.6" cy="47.4" r="0.60" fill="#bd1536"/>
<circle cx="160.1" cy="44.1" r="0.60" fill="#de2321"/>
<circle cx="160.0" cy="44.0" r="0.60" fill="#c9142e"/>
<circle cx="154.0" cy="47.1" r="0.60" fill="#e40e1e"/>
<circle cx="158.9" cy="50.5" r="0.60" fill="#dc0d2b"/>
<circle cx="157.2" cy="46.0" r="0.60" fill="#e90925"/>
<circle cx="161.3" cy="45.3" r="0.60" fill="#bc0511"/>
<circle cx="161.6" cy="42.1" r="0.60" fill="#bb0823"/>
<circle cx="160.0" cy="49.0" r="0.60" fill="#e61115"/>
<circle cx="156.0" cy="44.9" r="0.60" fill="#d21b0e"/>
<circle cx="153.9" cy="45.0" r="0.60" fill="#de1937"/>
<circle cx="155.5" cy="44.4" r="0.60" fill="#c21e32"/>
<circle cx="162.8" cy="47.6" r="0.60" fill="#c71235"/>
<circle cx="150.3" cy="43.6" r="0.60" fill="#df0828"/>
<circle cx="154.0" cy="49.2" r="0.60" fill="#d31c12"/>
<circle cx="159.6" cy="44.0" r="0.60" fill="#c8253b"/>
<circle cx="149.7" cy="53.3" r="0.60" fill="#ba2a14"/>
<circle cx="166.3" cy="47.5" r="0.60" fill="#c1200a"/>
<circle cx="161.3" cy="48.6" r="0.60" fill="#bd121b"/>
<circle cx="157.6" cy="41.4" r="0.60" fill="#e92512"/>
<circle cx="167.2" cy="41.8" r="0.60" fill="#d51512"/>
<circle cx="156.5" cy="48.5" r="0.60" fill="#c2191a"/>
<circle cx="158.7" cy="40.8" r="0.60" fill="#e20034"/>
<circle cx="150.9" cy="45.7" r="0.60" fill="#c41d1e"/>
<circle cx="156.8" cy="40.8" r="0.60" fill="#c00a2f"/>
<circle cx="165.0" cy="46.6" r="0.60" fill="#d41e1a"/>
<circle cx="152.4" cy="46.7" r="0.60" fill="#de0023"/>
<circle cx="157.6" cy="51.3" r="0.60" fill="#c50515"/>
<circle cx="161.8" cy="43.7" r="0.60" fill="#e51f17"/>
<circle cx="157.4" cy="45.8" r="0.60" fill="#e71a0f"/>
<circle cx="152.2" cy="45.4" r="0.60" fill="#da0937"/>
<circle cx="156.6" cy="44.9" r="0.60" fill="#e12719"/>
<circle cx="155.6" cy="38.3" r="0.60" fill="#e50033"/>
<circle cx="158.1" cy="53.2" r="0.60" fill="#db1237"/>
<circle cx="164.3" cy="44.7" r="0.60" fill="#dd1c1e"/>
<circle cx="152.0" cy="46.0" r="0.60" fill="#c30834"/>
<circle cx="162.4" cy="40.9" r="0.60" fill="#db1426"/>
<circle cx="157.7" cy="45.6" r="0.60" fill="#cf2b14"/>
<circle cx="156.0" cy="46.3" r="0.60" fill="#c5240b"/>
<circle cx="160.7" cy="39.2" r="0.60" fill="#e40738"/>
<circle cx="154.2" cy="49.2" r="0.60" fill="#e8162c"/>
<circle cx="158.4" cy="46.2" r="0.60" fill="#c60033"/>
<circle cx="156.6" cy="43.6" r="0.60" fill="#dc0a24"/>
<circle cx="166.4" cy="49.5" r="0.60" fill="#e0182c"/>
<circle cx="156.6" cy="47.8" r="0.60" fill="#c91f26"/>
<circle cx="160.5" cy="48.2" r="0.60" fill="#d0000c"/>
<circle cx="155.5" cy="46.7" r="0.60" fill="#e5012f"/>
<circle cx="159.2" cy="42.7" r="0.60" fill="#d42c28"/>
<circle cx="147.6" cy="53.1" r="0.60" fill="#c52a19"/>
<circle cx="154.2" cy="47.6" r="0.60" fill="#d9272c"/>
<circle cx="157.0" cy="41.3" r="0.60" fill="#e30027"/>
<circle cx="159.9" cy="39.2" r="0.60" fill="#da0021"/>
<circle cx="157.2" cy="51.4" r="0.60" fill="#cc1124"/>
<circle cx="149.1" cy="41.6" r="0.60" fill="#c70813"/>
<circle cx="165.4" cy="51.1" r="0.60" fill="#e6011c"/>
<circle cx="166.2" cy="41.5" r="0.60" fill="#e92c19"/>
<circle cx="161.5" cy="47.2" r="0.60" fill="#d20016"/>
<circle cx="150.5" cy="47.0" r="0.60" fill="#c0011a"/>
<circle cx="160.1" cy="47.1" r="0.60" fill="#be2235"/>
<circle cx="166.7" cy="47.9" r="0.60" fill="#e31b18"/>
<circle cx="158.9" cy="44.5" r="0.60" fill="#bb2a15"/>
<circle cx="165.2" cy="42.6" r="0.60" fill="#bb002a"/>
<circle cx="162.5" cy="50.7" r="0.60" fill="#da0621"/>
<circle cx="160.4" cy="53.9" r="0.60" fill="#d81d29"/>
<circle cx="167.7" cy="49.1" r="0.60" fill="#df1427"/>
<circle cx="149.6" cy="46.3" r="0.60" fill="#d30823"/>
<circle cx="158.1" cy="46.4" r="0.60" fill="#d3262d"/>
<circle cx="159.5" cy="50.6" r="0.60" fill="#d61721"/>
<circle cx="150.4" cy="45.6" r="0.60" fill="#e51431"/>
<circle cx="156.9" cy="44.2" r="0.60" fill="#c50a1b"/>
<circle cx="154.7" cy="61.2" r="0.55" fill="#4265a1"/>
<circle cx="155.2" cy="51.3" r="0.55" fill="#1860be"/>
<circle cx="152.2" cy="67.5" r="0.55" fill="#395096"/>
<circle cx="159.4" cy="56.6" r="0.55" fill="#2258b3"/>
<circle cx="165.0" cy="54.8" r="0.55" fill="#3749a1"/>
<circle cx="160.7" cy="61.1" r="0.55" fill="#2249a6"/>
<circle cx="161.9" cy="65.8" r="0.55" fill="#254db1"/>
<circle cx="157.6" cy="61.9" r="0.55" fill="#3a66ba"/>
<circle cx="157.1" cy="64.4" r="0.55" fill="#3348bf"/>
<circle cx="155.1" cy="56.3" r="0.55" fill="#134fa4"/>
<circle cx="160.2" cy="60.7" r="0.55" fill="#2e44bf"/>
<circle cx="157.9" cy="52.8" r="0.55" fill="#36499b"/>
<circle cx="162.9" cy="62.4" r="0.55" fill="#154a97"/>
<circle cx="164.2" cy="57.2" r="0.55" fill="#1f7196"/>
<circle cx="160.5" cy="64.4" r="0.55" fill="#3945b6"/>
<circle cx="151.1" cy="58.8" r="0.55" fill="#214393"/>
<circle cx="157.2" cy="55.7" r="0.55" fill="#374a9c"/>
<circle cx="159.9" cy="69.5" r="0.55" fill="#3448b3"/>
<circle cx="162.4" cy="62.2" r="0.55" fill="#1d67b2"/>
<circle cx="156.9" cy="58.3" r="0.55" fill="#1361b1"/>
<circle cx="165.6" cy="61.5" r="0.55" fill="#3d53a8"/>
<circle cx="152.7" cy="52.7" r="0.55" fill="#315ab5"/>
<circle cx="157.0" cy="61.1" r="0.55" fill="#2c559f"/>
<circle cx="155.8" cy="63.0" r="0.55" fill="#2066bb"/>
<circle cx="150.6" cy="63.4" r="0.55" fill="#175ab4"/>
<circle cx="158.8" cy="56.6" r="0.55" fill="#1971ad"/>
<circle cx="155.9" cy="57.6" r="0.55" fill="#165da3"/>
<circle cx="162.5" cy="56.8" r="0.55" fill="#365db4"/>
<circle cx="153.3" cy="58.1" r="0.55" fill="#1a45b2"/>
<circle cx="157.1" cy="54.4" r="0.55" fill="#1d59b5"/>
<circle cx="152.4" cy="53.4" r="0.55" fill="#15678f"/>
<circle cx="154.5" cy="57.1" r="0.55" fill="#1455b0"/>
<circle cx="159.1" cy="59.7" r="0.55" fill="#2a6894"/>
<circle cx="165.4" cy="54.4" r="0.55" fill="#224b96"/>
<circle cx="158.8" cy="65.6" r="0.55" fill="#346faa"/>
<circle cx="162.0" cy="59.6" r="0.55" fill="#3141a3"/>
<circle cx="160.1" cy="61.3" r="0.55" fill="#39469d"/>
<circle cx="153.2" cy="60.1" r="0.55" fill="#1246b0"/>
<circle cx="156.5" cy="62.1" r="0.55" fill="#2853c0"/>
<circle cx="160.4" cy="61.8" r="0.55" fill="#145cbf"/>
<circle cx="158.3" cy="58.8" r="0.55" fill="#2b52bf"/>
<circle cx="156.5" cy="55.1" r="0.55" fill="#1d56a9"/>
<circle cx="154.3" cy="65.0" r="0.55" fill="#1556c0"/>
<circle cx="154.2" cy="64.2" r="0.55" fill="#3669b3"/>
<circle cx="153.4" cy="65.8" r="0.55" fill="#1a5f8f"/>
<circle cx="158.9" cy="63.6" r="0.55" fill="#226590"/>
<circle cx="159.3" cy="59.6" r="0.55" fill="#4070ad"/>
<circle cx="163.1" cy="52.0" r="0.55" fill="#276b90"/>
<circle cx="159.1" cy="54.6" r="0.55" fill="#374893"/>
<circle cx="152.6" cy="60.1" r="0.55" fill="#3349ab"/>
<circle cx="161.0" cy="60.3" r="0.55" fill="#3971b0"/>
<circle cx="154.1" cy="62.7" r="0.55" fill="#284792"/>
<circle cx="157.5" cy="63.7" r="0.55" fill="#3d53ba"/>
<circle cx="150.1" cy="57.3" r="0.55" fill="#3d64a5"/>
<circle cx="158.2" cy="66.8" r="0.55" fill="#206a91"/>
<circle cx="155.6" cy="57.9" r="0.55" fill="#265cc0"/>
<circle cx="161.8" cy="60.8" r="0.55" fill="#4070a9"/>
<circle cx="155.6" cy="59.8" r="0.55" fill="#3859b5"/>
<circle cx="162.9" cy="58.0" r="0.55" fill="#335c95"/>
<circle cx="156.6" cy="61.4" r="0.55" fill="#1a72a2"/>
<circle cx="160.8" cy="64.6" r="0.55" fill="#145f9a"/>
<circle cx="159.2" cy="67.3" r="0.55" fill="#3f41b2"/>
<circle cx="154.0" cy="58.4" r="0.55" fill="#2641a0"/>
<circle cx="154.4" cy="60.4" r="0.55" fill="#4252b9"/>
<circle cx="160.6" cy="53.6" r="0.55" fill="#2959b9"/>
<circle cx="160.1" cy="63.2" r="0.55" fill="#1159a5"/>
<circle cx="154.1" cy="63.9" r="0.55" fill="#1666a8"/>
<circle cx="162.0" cy="69.0" r="0.55" fill="#134aa6"/>
<circle cx="160.2" cy="61.0" r="0.55" fill="#1e689f"/>
<circle cx="158.7" cy="60.6" r="0.55" fill="#1c50b9"/>
<circle cx="162.8" cy="65.0" r="0.55" fill="#3d71b7"/>
<circle cx="162.4" cy="62.6" r="0.55" fill="#1b479b"/>
<circle cx="157.5" cy="55.1" r="0.55" fill="#174f92"/>
<circle cx="164.0" cy="57.6" r="0.55" fill="#2871bf"/>
<circle cx="158.8" cy="64.3" r="0.55" fill="#1a60ac"/>
<circle cx="151.1" cy="60.1" r="0.55" fill="#2b50b0"/>
<circle cx="159.2" cy="60.5" r="0.55" fill="#2947b4"/>
<circle cx="151.1" cy="64.6" r="0.55" fill="#3270ab"/>
<circle cx="159.2" cy="57.1" r="0.55" fill="#166f92"/>
<circle cx="166.3" cy="56.1" r="0.55" fill="#3270ad"/>
<circle cx="157.9" cy="54.9" r="0.55" fill="#1c44b4"/>
<circle cx="156.0" cy="61.7" r="0.55" fill="#2c4e9c"/>
<circle cx="162.0" cy="56.6" r="0.55" fill="#3669a4"/>
<circle cx="153.9" cy="62.4" r="0.55" fill="#2267bb"/>
<circle cx="156.1" cy="67.8" r="0.55" fill="#1b41b1"/>
<circle cx="158.6" cy="57.0" r="0.55" fill="#42649f"/>
<circle cx="158.5" cy="52.3" r="0.55" fill="#186ea4"/>
<circle cx="169.3" cy="63.9" r="0.70" fill="#2b5b9d"/>
<circle cx="176.6" cy="62.1" r="0.70" fill="#3463a2"/>
<circle cx="170.6" cy="59.4" r="0.70" fill="#1741aa"/>
<circle cx="166.4" cy="59.6" r="0.70" fill="#2b4190"/>
<circle cx="180.1" cy="58.1" r="0.70" fill="#1461a8"/>
<circle cx="160.7" cy="58.2" r="0.70" fill="#3170b1"/>
<circle cx="172.1" cy="59.0" r="0.70" fill="#3a50bd"/>
<circle cx="170.2" cy="56.0" r="0.70" fill="#2b6891"/>
<circle cx="163.7" cy="58.7" r="0.70" fill="#3452ad"/>
<circle cx="169.6" cy="56.1" r="0.70" fill="#336ea1"/>
<circle cx="164.3" cy="59.2" r="0.70" fill="#3a4e9d"/>
<circle cx="164.3" cy="63.6" r="0.70" fill="#1871a8"/>
<circle cx="169.4" cy="55.9" r="0.70" fill="#1254ab"/>
<circle cx="165.3" cy="57.7" r="0.70" fill="#124d9f"/>
<circle cx="168.2" cy="58.0" r="0.70" fill="#294eab"/>
<circle cx="167.7" cy="55.5" r="0.70" fill="#366093"/>
<circle cx="166.8" cy="56.2" r="0.70" fill="#366fa0"/>
<circle cx="172.1" cy="57.7" r="0.70" fill="#3141b8"/>
<circle cx="164.8" cy="61.5" r="0.70" fill="#29539a"/>
<circle cx="167.5" cy="54.7" r="0.70" fill="#134ebd"/>
<circle cx="169.1" cy="63.3" r="0.70" fill="#2d53be"/>
<circle cx="172.6" cy="59.8" r="0.70" fill="#1c49a5"/>
<circle cx="168.4" cy="65.9" r="0.70" fill="#3d4490"/>
<circle cx="173.3" cy="62.2" r="0.70" fill="#1756a1"/>
<circle cx="175.2" cy="59.4" r="0.70" fill="#3147ad"/>
<circle cx="177.7" cy="54.4" r="0.70" fill="#1849bc"/>
<circle cx="167.2" cy="53.6" r="0.70" fill="#145f90"/>
<circle cx="169.3" cy="52.9" r="0.70" fill="#2141b3"/>
<circle cx="177.0" cy="59.9" r="0.70" fill="#2351b7"/>
<circle cx="174.7" cy="59.3" r="0.70" fill="#1c72a4"/>
<circle cx="166.0" cy="61.2" r="0.70" fill="#3572a6"/>
<circle cx="173.1" cy="56.8" r="0.70" fill="#2669bf"/>
<circle cx="170.3" cy="53.8" r="0.70" fill="#3a6ebe"/>
<circle cx="165.1" cy="59.2" r="0.70" fill="#115ba0"/>
<circle cx="165.9" cy="68.7" r="0.70" fill="#1152b6"/>
<circle cx="166.5" cy="54.7" r="0.70" fill="#2945b8"/>
<circle cx="170.4" cy="55.5" r="0.70" fill="#2d69a7"/>
<circle cx="164.3" cy="60.7" r="0.70" fill="#35659f"/>
<circle cx="170.8" cy="56.2" r="0.70" fill="#3253bb"/>
<circle cx="178.1" cy="57.5" r="0.70" fill="#2452a4"/>
<circle cx="169.0" cy="59.4" r="0.70" fill="#2c6f92"/>
<circle cx="175.1" cy="56.7" r="0.70" fill="#4265b2"/>
<circle cx="170.1" cy="55.8" r="0.70" fill="#166bba"/>
<circle cx="169.4" cy="57.2" r="0.70" fill="#295aa1"/>
<circle cx="164.5" cy="60.3" r="0.70" fill="#4260bf"/>
<circle cx="172.6" cy="58.6" r="0.70" fill="#3754ac"/>
<circle cx="162.4" cy="57.5" r="0.70" fill="#2062a1"/>
<circle cx="171.2" cy="55.4" r="0.70" fill="#31729d"/>
<circle cx="180.6" cy="60.3" r="0.70" fill="#2b61b8"/>
<circle cx="173.8" cy="57.5" r="0.70" fill="#4254b3"/>
<circle cx="172.3" cy="56.7" r="0.70" fill="#2553a0"/>
<circle cx="161.7" cy="64.1" r="0.70" fill="#1472b6"/>
<circle cx="163.3" cy="57.9" r="0.70" fill="#1f67ba"/>
<circle cx="165.7" cy="63.2" r="0.70" fill="#1b4db9"/>
<circle cx="166.6" cy="56.6" r="0.70" fill="#314a8f"/>
<circle cx="165.9" cy="64.1" r="0.70" fill="#1a5c9f"/>
<circle cx="169.4" cy="66.5" r="0.70" fill="#2366b4"/>
<circle cx="169.1" cy="60.7" r="0.70" fill="#3b5cac"/>
<circle cx="167.5" cy="55.4" r="0.70" fill="#3e41bf"/>
<circle cx="166.2" cy="57.3" r="0.70" fill="#3e6dac"/>
<circle cx="177.0" cy="60.3" r="0.70" fill="#255db8"/>
<circle cx="176.5" cy="65.7" r="0.70" fill="#204d90"/>
<circle cx="173.1" cy="62.0" r="0.70" fill="#2b6f97"/>
<circle cx="168.8" cy="63.7" r="0.70" fill="#3152b0"/>
<circle cx="170.9" cy="61.0" r="0.70" fill="#2d6595"/>
<circle cx="177.1" cy="61.8" r="0.70" fill="#146fb1"/>
<circle cx="172.7" cy="63.5" r="0.70" fill="#1345a0"/>
<circle cx="177.9" cy="53.9" r="0.70" fill="#3660ac"/>
<circle cx="162.7" cy="59.6" r="0.70" fill="#2954b8"/>
<circle cx="168.4" cy="63.9" r="0.70" fill="#3271a0"/>
<circle cx="165.4" cy="61.7" r="0.70" fill="#1b52b6"/>
<circle cx="172.2" cy="64.2" r="0.70" fill="#1f5db5"/>
<circle cx="174.3" cy="63.1" r="0.70" fill="#1a61b0"/>
<circle cx="170.7" cy="62.8" r="0.70" fill="#2051bb"/>
<circle cx="176.2" cy="55.0" r="0.70" fill="#245799"/>
<circle cx="174.2" cy="62.2" r="0.70" fill="#1a6b9e"/>
<circle cx="168.4" cy="60.1" r="0.70" fill="#335ab7"/>
<circle cx="168.5" cy="53.5" r="0.70" fill="#1e4dac"/>
<circle cx="168.9" cy="55.4" r="0.70" fill="#2344aa"/>
<circle cx="170.4" cy="58.0" r="0.70" fill="#1563a6"/>
<circle cx="171.3" cy="56.0" r="0.70" fill="#426c9f"/>
<circle cx="163.5" cy="58.8" r="0.70" fill="#2769b2"/>
<circle cx="171.6" cy="57.2" r="0.70" fill="#2a5cac"/>
<circle cx="179.1" cy="60.7" r="0.70" fill="#2748b9"/>
<circle cx="162.3" cy="57.7" r="0.70" fill="#3560bc"/>
<circle cx="174.2" cy="61.2" r="0.70" fill="#196099"/>
<circle cx="172.7" cy="60.4" r="0.70" fill="#195ca5"/>
<circle cx="169.2" cy="60.1" r="0.70" fill="#2b4d93"/>
<circle cx="172.7" cy="60.8" r="0.70" fill="#2549a6"/>
<circle cx="174.2" cy="65.6" r="0.70" fill="#3c5192"/>
<circle cx="172.0" cy="59.6" r="0.70" fill="#3166a7"/>
<circle cx="172.2" cy="58.6" r="0.70" fill="#356ebb"/>
<circle cx="173.1" cy="56.5" r="0.70" fill="#2a6ba1"/>
<circle cx="170.0" cy="61.0" r="0.70" fill="#1b48bd"/>
<circle cx="168.3" cy="63.5" r="0.70" fill="#4163a4"/>
<circle cx="173.8" cy="62.3" r="0.70" fill="#1f70a4"/>
<circle cx="173.9" cy="59.5" r="0.70" fill="#136d92"/>
<circle cx="171.6" cy="54.8" r="0.70" fill="#1f6aa4"/>
<circle cx="176.4" cy="59.5" r="0.70" fill="#406fa1"/>
<circle cx="167.1" cy="54.0" r="0.70" fill="#3142b1"/>
<circle cx="170.2" cy="57.4" r="0.70" fill="#1544aa"/>
<circle cx="177.6" cy="64.8" r="0.70" fill="#2572b3"/>
<circle cx="167.1" cy="61.1" r="0.70" fill="#265fba"/>
<circle cx="173.4" cy="57.8" r="0.70" fill="#1262b1"/>
<circle cx="164.6" cy="54.2" r="0.70" fill="#3960b8"/>
<circle cx="178.5" cy="66.8" r="0.70" fill="#324597"/>
<circle cx="167.3" cy="57.3" r="0.70" fill="#3f4ea7"/>
<circle cx="166.5" cy="68.0" r="0.70" fill="#355dbe"/>
<circle cx="176.2" cy="55.6" r="0.70" fill="#2c439a"/>
<circle cx="168.5" cy="58.4" r="0.70" fill="#3152a2"/>
<circle cx="174.2" cy="53.1" r="0.70" fill="#3657a9"/>
<circle cx="168.4" cy="59.0" r="0.70" fill="#3e4394"/>
<circle cx="168.2" cy="57.8" r="0.70" fill="#366397"/>
<circle cx="171.8" cy="55.7" r="0.70" fill="#3a6fb1"/>
<circle cx="174.2" cy="61.9" r="0.70" fill="#345397"/>
<circle cx="167.3" cy="60.6" r="0.70" fill="#2845b3"/>
<circle cx="175.5" cy="63.5" r="0.70" fill="#314aae"/>
<circle cx="163.4" cy="58.3" r="0.70" fill="#1a58b8"/>
<circle cx="167.2" cy="58.0" r="0.70" fill="#216c91"/>
<circle cx="164.1" cy="60.7" r="0.70" fill="#264194"/>
<circle cx="173.0" cy="56.3" r="0.70" fill="#1f5791"/>
<circle cx="178.2" cy="63.7" r="0.70" fill="#364a9e"/>
<circle cx="173.9" cy="61.6" r="0.70" fill="#2b66a8"/>
<circle cx="168.6" cy="59.5" r="0.70" fill="#176295"/>
<circle cx="171.3" cy="59.2" r="0.70" fill="#1372a3"/>
<circle cx="163.7" cy="58.2" r="0.70" fill="#1651a1"/>
<circle cx="169.3" cy="53.0" r="0.70" fill="#334aa6"/>
<circle cx="172.7" cy="58.7" r="0.70" fill="#225fc0"/>
<circle cx="177.6" cy="61.0" r="0.70" fill="#285bb9"/>
<circle cx="175.6" cy="63.1" r="0.70" fill="#2066b2"/>
<circle cx="167.5" cy="61.2" r="0.70" fill="#3764ab"/>
<circle cx="170.3" cy="66.1" r="0.70" fill="#394ebc"/>
<circle cx="176.5" cy="55.4" r="0.70" fill="#2357ac"/>
<circle cx="171.8" cy="56.1" r="0.70" fill="#3d4ba9"/>
<circle cx="171.9" cy="61.9" r="0.70" fill="#1f43ab"/>
<circle cx="166.3" cy="57.2" r="0.70" fill="#385cb1"/>
<circle cx="173.8" cy="61.8" r="0.70" fill="#1248b9"/>
<circle cx="174.4" cy="64.1" r="0.70" fill="#2362ba"/>
<circle cx="174.9" cy="59.1" r="0.70" fill="#42679c"/>
<circle cx="167.1" cy="64.3" r="0.70" fill="#3b45bb"/>
<circle cx="166.8" cy="55.3" r="0.70" fill="#2554a3"/>
<circle cx="168.8" cy="55.8" r="0.70" fill="#346c93"/>
<circle cx="173.2" cy="66.9" r="0.70" fill="#254c8f"/>
<circle cx="163.9" cy="62.3" r="0.70" fill="#13419d"/>
<circle cx="176.1" cy="55.5" r="0.70" fill="#1d55a3"/>
<circle cx="168.9" cy="56.8" r="0.70" fill="#225a9a"/>
<circle cx="162.5" cy="62.9" r="0.70" fill="#2a43a0"/>
<circle cx="166.7" cy="58.8" r="0.70" fill="#245ca1"/>
<circle cx="174.2" cy="67.4" r="0.70" fill="#146e93"/>
<circle cx="164.1" cy="58.3" r="0.70" fill="#2560bb"/>
<circle cx="169.3" cy="61.3" r="0.70" fill="#1a6cac"/>
<circle cx="170.1" cy="56.0" r="0.70" fill="#2163ab"/>
<circle cx="172.5" cy="58.8" r="0.70" fill="#2263bc"/>
<circle cx="161.4" cy="61.5" r="0.70" fill="#16609f"/>
<circle cx="168.5" cy="56.8" r="0.70" fill="#1a4eb3"/>
<circle cx="167.4" cy="51.4" r="0.70" fill="#2544b7"/>
<circle cx="169.7" cy="66.4" r="0.70" fill="#295790"/>
<circle cx="171.2" cy="66.6" r="0.70" fill="#276db7"/>
<circle cx="175.1" cy="60.1" r="0.70" fill="#2b43ba"/>
<circle cx="173.9" cy="64.3" r="0.70" fill="#1e54a6"/>
<circle cx="169.2" cy="62.4" r="0.70" fill="#326093"/>
<circle cx="172.3" cy="59.7" r="0.70" fill="#1c4fa1"/>
<circle cx="159.2" cy="60.5" r="0.70" fill="#165dae"/>
<circle cx="169.8" cy="63.7" r="0.70" fill="#276db5"/>
<circle cx="168.1" cy="60.2" r="0.70" fill="#2269a4"/>
<circle cx="164.5" cy="63.6" r="0.70" fill="#1361b1"/>
<circle cx="173.9" cy="62.7" r="0.70" fill="#3b4ea9"/>
<circle cx="166.4" cy="64.2" r="0.70" fill="#2452bd"/>
<circle cx="167.2" cy="63.9" r="0.70" fill="#236ca1"/>
<circle cx="168.7" cy="57.7" r="0.70" fill="#2c4ebc"/>
<circle cx="161.7" cy="67.4" r="0.70" fill="#2d52aa"/>
<circle cx="177.0" cy="57.4" r="0.70" fill="#3a5dad"/>
<circle cx="176.0" cy="65.8" r="0.70" fill="#31619e"/>
<circle cx="170.5" cy="55.1" r="0.70" fill="#2172b5"/>
<circle cx="165.9" cy="53.1" r="0.70" fill="#3354be"/>
<circle cx="176.2" cy="56.7" r="0.70" fill="#265a91"/>
<circle cx="177.2" cy="55.2" r="0.70" fill="#2e58b7"/>
<circle cx="175.0" cy="60.5" r="0.70" fill="#1d5fa0"/>
<circle cx="161.7" cy="54.7" r="0.70" fill="#25468f"/>
<circle cx="172.9" cy="56.1" r="0.70" fill="#274294"/>
<circle cx="180.6" cy="60.0" r="0.70" fill="#1351a6"/>
<circle cx="166.8" cy="58.7" r="0.70" fill="#3160c0"/>
<circle cx="173.5" cy="61.9" r="0.70" fill="#164f99"/>
<circle cx="178.9" cy="61.4" r="0.70" fill="#1e66b7"/>
<circle cx="170.3" cy="59.1" r="0.70" fill="#2e6bae"/>
<circle cx="165.8" cy="57.4" r="0.70" fill="#3a5ba0"/>
<circle cx="164.4" cy="60.1" r="0.70" fill="#1a62b8"/>
<circle cx="169.6" cy="59.5" r="0.70" fill="#256795"/>
<circle cx="162.4" cy="59.8" r="0.70" fill="#2b518f"/>
<circle cx="169.1" cy="57.7" r="0.70" fill="#2f5bb3"/>
<circle cx="180.3" cy="67.0" r="0.70" fill="#366c98"/>
<circle cx="169.1" cy="56.2" r="0.70" fill="#3463a3"/>
<circle cx="175.1" cy="58.6" r="0.70" fill="#286496"/>
<circle cx="173.6" cy="57.8" r="0.70" fill="#3d4895"/>
<circle cx="166.9" cy="58.4" r="0.70" fill="#264bb3"/>
<circle cx="169.4" cy="53.9" r="0.70" fill="#1743ac"/>
<circle cx="176.9" cy="63.1" r="0.70" fill="#2c6fb7"/>
<circle cx="164.7" cy="53.8" r="0.70" fill="#2a4f92"/>
<circle cx="167.9" cy="54.3" r="0.70" fill="#305aa5"/>
<circle cx="174.2" cy="58.1" r="0.70" fill="#1770b5"/>
<circle cx="167.3" cy="60.9" r="0.70" fill="#2959a2"/>
<circle cx="170.9" cy="57.0" r="0.70" fill="#414b9d"/>
<circle cx="171.8" cy="57.4" r="0.70" fill="#354ea3"/>
<circle cx="166.3" cy="60.6" r="0.70" fill="#3a70bd"/>
<circle cx="170.6" cy="60.8" r="0.70" fill="#2766aa"/>
<circle cx="168.4" cy="57.2" r="0.70" fill="#2544a2"/>
<circle cx="170.0" cy="56.5" r="0.70" fill="#1a5bbb"/>
<circle cx="168.5" cy="58.5" r="0.70" fill="#264cb7"/>
<circle cx="165.3" cy="62.1" r="0.70" fill="#3c4fa5"/>
<circle cx="174.2" cy="59.6" r="0.70" fill="#2b619f"/>
<circle cx="166.4" cy="57.0" r="0.70" fill="#3a5cb3"/>
<circle cx="163.1" cy="57.3" r="0.70" fill="#2448a1"/>
<circle cx="169.6" cy="60.6" r="0.70" fill="#375ba7"/>
<circle cx="169.5" cy="58.6" r="0.70" fill="#176491"/>
<circle cx="174.0" cy="56.5" r="0.70" fill="#416ba3"/>
<circle cx="167.0" cy="63.5" r="0.70" fill="#3758b3"/>
<circle cx="178.3" cy="59.6" r="0.70" fill="#2a66a7"/>
<circle cx="165.4" cy="58.0" r="0.70" fill="#3f72ab"/>
<circle cx="167.8" cy="59.3" r="0.70" fill="#2d6f9b"/>
<circle cx="170.6" cy="57.0" r="0.70" fill="#344fac"/>
<circle cx="170.2" cy="59.0" r="0.70" fill="#3b5b9b"/>
<circle cx="167.8" cy="64.8" r="0.70" fill="#364992"/>
<circle cx="170.8" cy="65.6" r="0.70" fill="#2567b3"/>
<circle cx="165.5" cy="63.9" r="0.70" fill="#185faf"/>
<circle cx="170.6" cy="65.9" r="0.70" fill="#1771aa"/>
<circle cx="176.6" cy="57.2" r="0.70" fill="#1b65ad"/>
<circle cx="164.5" cy="64.3" r="0.70" fill="#376299"/>
<circle cx="180.7" cy="58.1" r="0.70" fill="#266fc0"/>
<circle cx="168.2" cy="62.2" r="0.70" fill="#1d5996"/>
<circle cx="170.6" cy="66.5" r="0.70" fill="#115fa3"/>
<circle cx="169.0" cy="57.0" r="0.70" fill="#284b8f"/>
<circle cx="173.1" cy="57.1" r="0.70" fill="#1f6fa1"/>
<circle cx="167.3" cy="59.4" r="0.70" fill="#256cb8"/>
<circle cx="174.6" cy="51.9" r="0.70" fill="#1c4395"/>
<circle cx="166.3" cy="55.9" r="0.70" fill="#236499"/>
<circle cx="166.0" cy="57.4" r="0.70" fill="#176798"/>
<circle cx="172.6" cy="53.6" r="0.70" fill="#265799"/>
<circle cx="174.9" cy="64.7" r="0.70" fill="#235da1"/>
<circle cx="169.7" cy="62.4" r="0.70" fill="#375696"/>
<circle cx="172.0" cy="58.3" r="0.70" fill="#1c48aa"/>
<circle cx="170.2" cy="59.0" r="0.70" fill="#3f64b8"/>
<circle cx="165.3" cy="62.0" r="0.70" fill="#154eba"/>
<circle cx="167.7" cy="68.4" r="0.70" fill="#3a6f96"/>
<circle cx="161.6" cy="63.5" r="0.70" fill="#204d90"/>
<circle cx="163.8" cy="58.9" r="0.70" fill="#1b4dae"/>
<circle cx="174.1" cy="66.2" r="0.70" fill="#3c5695"/>
<circle cx="166.2" cy="58.6" r="0.70" fill="#1664aa"/>
<circle cx="169.5" cy="63.0" r="0.70" fill="#356ea0"/>
<circle cx="167.0" cy="58.6" r="0.70" fill="#285e9e"/>
<circle cx="165.1" cy="56.9" r="0.70" fill="#1346a3"/>
<circle cx="173.8" cy="64.0" r="0.70" fill="#2e60bb"/>
<circle cx="163.3" cy="55.7" r="0.70" fill="#166cbd"/>
<circle cx="162.1" cy="55.9" r="0.70" fill="#2c5697"/>
<circle cx="162.2" cy="60.8" r="0.70" fill="#386da8"/>
<circle cx="174.5" cy="58.7" r="0.70" fill="#1156aa"/>
<circle cx="170.5" cy="57.1" r="0.70" fill="#126598"/>
<circle cx="173.9" cy="55.9" r="0.70" fill="#175bb5"/>
<circle cx="172.7" cy="60.8" r="0.70" fill="#2e62ad"/>
<circle cx="173.0" cy="58.8" r="0.70" fill="#135ba0"/>
<circle cx="166.0" cy="62.4" r="0.70" fill="#3d4fb1"/>
<circle cx="166.3" cy="58.7" r="0.70" fill="#3e4d9e"/>
<circle cx="172.7" cy="65.8" r="0.70" fill="#335394"/>
<circle cx="166.3" cy="58.0" r="0.70" fill="#2c618f"/>
<circle cx="178.9" cy="62.1" r="0.70" fill="#3c459a"/>
<circle cx="161.5" cy="63.4" r="0.70" fill="#207093"/>
<circle cx="171.4" cy="59.2" r="0.70" fill="#2f71b3"/>
<circle cx="174.0" cy="58.1" r="0.70" fill="#406e9c"/>
<circle cx="171.1" cy="63.9" r="0.70" fill="#375dbc"/>
<circle cx="165.0" cy="61.8" r="0.70" fill="#194eba"/>
<circle cx="169.2" cy="68.5" r="0.70" fill="#395d9e"/>
<circle cx="172.5" cy="60.0" r="0.70" fill="#3a70bf"/>
<circle cx="165.5" cy="61.4" r="0.70" fill="#3e69b0"/>
<circle cx="169.5" cy="61.9" r="0.70" fill="#1a4e98"/>
<circle cx="166.1" cy="58.5" r="0.70" fill="#1b6ca1"/>
<circle cx="170.7" cy="60.0" r="0.70" fill="#2c42aa"/>
<circle cx="175.6" cy="60.7" r="0.70" fill="#2f5b99"/>
<circle cx="174.5" cy="51.5" r="0.70" fill="#4153aa"/>
<circle cx="162.5" cy="63.6" r="0.70" fill="#194ca5"/>
<circle cx="169.8" cy="60.3" r="0.70" fill="#246c93"/>
<circle cx="163.3" cy="59.4" r="0.70" fill="#3a51ad"/>
<circle cx="165.8" cy="58.6" r="0.70" fill="#3165b1"/>
<circle cx="167.8" cy="56.5" r="0.70" fill="#34529a"/>
<circle cx="175.1" cy="63.0" r="0.70" fill="#194f9d"/>
<circle cx="166.4" cy="63.0" r="0.70" fill="#415baa"/>
<circle cx="164.9" cy="62.9" r="0.70" fill="#395ba8"/>
<circle cx="168.1" cy="62.1" r="0.70" fill="#1b459d"/>
<circle cx="175.0" cy="61.0" r="0.70" fill="#2d46b4"/>
<circle cx="163.3" cy="61.7" r="0.70" fill="#2668b0"/>
<circle cx="174.6" cy="63.5" r="0.70" fill="#1e66a1"/>
<circle cx="170.2" cy="61.0" r="0.70" fill="#42469b"/>
<circle cx="171.5" cy="59.5" r="0.70" fill="#2556b1"/>
<circle cx="169.1" cy="61.5" r="0.70" fill="#1b419c"/>
<circle cx="162.3" cy="54.2" r="0.70" fill="#154ebb"/>
<circle cx="165.7" cy="57.9" r="0.70" fill="#144399"/>
<circle cx="168.7" cy="59.1" r="0.70" fill="#2a698f"/>
<circle cx="168.8" cy="64.0" r="0.70" fill="#2f65b0"/>
<circle cx="165.8" cy="61.5" r="0.70" fill="#3057bd"/>
<circle cx="163.5" cy="59.0" r="0.70" fill="#3259a7"/>
<circle cx="166.5" cy="55.4" r="0.70" fill="#4250a7"/>
<circle cx="179.1" cy="58.8" r="0.70" fill="#2c5097"/>
<circle cx="165.4" cy="62.1" r="0.70" fill="#264da7"/>
<circle cx="167.9" cy="59.2" r="0.70" fill="#316498"/>
<circle cx="173.2" cy="48.4" r="0.75" fill="#d01c1e"/>
<circle cx="168.3" cy="44.0" r="0.75" fill="#bb0023"/>
<circle cx="179.0" cy="44.1" r="0.75" fill="#cf0710"/>
<circle cx="168.9" cy="41.3" r="0.75" fill="#cc0017"/>
<circle cx="171.3" cy="39.9" r="0.75" fill="#cd271d"/>
<circle cx="176.0" cy="47.6" r="0.75" fill="#e51e0e"/>
<circle cx="172.2" cy="51.5" r="0.75" fill="#d10038"/>
<circle cx="170.0" cy="46.5" r="0.75" fill="#ba1738"/>
<circle cx="171.6" cy="38.7" r="0.75" fill="#e41c0c"/>
<circle cx="171.1" cy="52.6" r="0.75" fill="#cd050d"/>
<circle cx="177.3" cy="42.3" r="0.75" fill="#c71235"/>
<circle cx="176.9" cy="52.1" r="0.75" fill="#c42832"/>
<circle cx="177.1" cy="45.8" r="0.75" fill="#d20b1b"/>
<circle cx="182.4" cy="46.8" r="0.75" fill="#d11c37"/>
<circle cx="164.7" cy="51.4" r="0.75" fill="#e0091b"/>
<circle cx="172.3" cy="44.7" r="0.75" fill="#c5040f"/>
<circle cx="175.3" cy="42.5" r="0.75" fill="#de1d20"/>
<circle cx="171.0" cy="46.9" r="0.75" fill="#c50c1b"/>
<circle cx="171.5" cy="44.4" r="0.75" fill="#c42631"/>
<circle cx="179.8" cy="44.0" r="0.75" fill="#c21333"/>
<circle cx="174.2" cy="44.2" r="0.75" fill="#d1180a"/>
<circle cx="173.5" cy="54.4" r="0.75" fill="#da1126"/>
<circle cx="169.4" cy="46.5" r="0.75" fill="#bd2030"/>
<circle cx="166.6" cy="50.2" r="0.75" fill="#e21d32"/>
<circle cx="174.4" cy="46.9" r="0.75" fill="#e81130"/>
<circle cx="173.0" cy="45.2" r="0.75" fill="#d6002e"/>
<circle cx="171.0" cy="50.8" r="0.75" fill="#c6232a"/>
<circle cx="171.1" cy="54.1" r="0.75" fill="#c22328"/>
<circle cx="173.8" cy="41.1" r="0.75" fill="#ea1d21"/>
<circle cx="168.6" cy="44.1" r="0.75" fill="#c70a31"/>
<circle cx="171.3" cy="42.4" r="0.75" fill="#cc1e2a"/>
<circle cx="179.7" cy="44.7" r="0.75" fill="#cc080c"/>
<circle cx="174.0" cy="42.6" r="0.75" fill="#cc0022"/>
<circle cx="175.9" cy="45.1" r="0.75" fill="#de202b"/>
<circle cx="170.6" cy="45.3" r="0.75" fill="#da183a"/>
<circle cx="169.3" cy="46.8" r="0.75" fill="#e61a1b"/>
<circle cx="171.8" cy="45.2" r="0.75" fill="#c22721"/>
<circle cx="174.1" cy="44.3" r="0.75" fill="#d00632"/>
<circle cx="169.8" cy="44.7" r="0.75" fill="#cc0514"/>
<circle cx="171.9" cy="43.7" r="0.75" fill="#be0e20"/>
<circle cx="177.3" cy="46.9" r="0.75" fill="#cd2b2e"/>
<circle cx="169.1" cy="48.3" r="0.75" fill="#c40221"/>
<circle cx="171.9" cy="45.6" r="0.75" fill="#d00328"/>
<circle cx="169.7" cy="52.6" r="0.75" fill="#e00f1d"/>
<circle cx="175.7" cy="48.6" r="0.75" fill="#d82310"/>
<circle cx="182.4" cy="45.7" r="0.75" fill="#cb152b"/>
<circle cx="171.3" cy="50.9" r="0.75" fill="#dd131f"/>
<circle cx="171.3" cy="46.4" r="0.75" fill="#d00912"/>
<circle cx="166.7" cy="46.2" r="0.75" fill="#d3132b"/>
<circle cx="173.3" cy="47.8" r="0.75" fill="#d51d1d"/>
<circle cx="170.1" cy="49.6" r="0.75" fill="#c52235"/>
<circle cx="172.2" cy="52.8" r="0.75" fill="#cf012e"/>
<circle cx="180.9" cy="42.1" r="0.75" fill="#c60032"/>
<circle cx="178.2" cy="51.4" r="0.75" fill="#c11e0c"/>
<circle cx="180.4" cy="51.8" r="0.75" fill="#d2113a"/>
<circle cx="173.8" cy="44.1" r="0.75" fill="#dc0e21"/>
<circle cx="172.0" cy="50.1" r="0.75" fill="#c80813"/>
<circle cx="176.1" cy="44.1" r="0.75" fill="#d5232b"/>
<circle cx="179.0" cy="56.3" r="0.75" fill="#e7241a"/>
<circle cx="176.1" cy="41.7" r="0.75" fill="#ba0d2c"/>
<circle cx="175.2" cy="39.1" r="0.75" fill="#ea0c37"/>
<circle cx="180.7" cy="47.3" r="0.75" fill="#bd1320"/>
<circle cx="178.6" cy="49.9" r="0.75" fill="#e00616"/>
<circle cx="173.9" cy="41.9" r="0.75" fill="#b90a39"/>
<circle cx="172.6" cy="50.8" r="0.75" fill="#cf2732"/>
<circle cx="168.5" cy="51.5" r="0.75" fill="#ba001c"/>
<circle cx="171.7" cy="45.4" r="0.75" fill="#bb2513"/>
<circle cx="174.9" cy="47.8" r="0.75" fill="#bc0926"/>
<circle cx="171.3" cy="44.2" r="0.75" fill="#d20b26"/>
<circle cx="177.7" cy="51.1" r="0.75" fill="#b92914"/>
<circle cx="170.6" cy="46.2" r="0.75" fill="#cf082a"/>
<circle cx="174.7" cy="38.9" r="0.75" fill="#e91125"/>
<circle cx="171.1" cy="50.1" r="0.75" fill="#d22b0c"/>
<circle cx="173.1" cy="43.3" r="0.75" fill="#d6082d"/>
<circle cx="169.6" cy="47.3" r="0.75" fill="#cf000e"/>
<circle cx="174.7" cy="46.2" r="0.75" fill="#cc1c0b"/>
<circle cx="175.8" cy="45.9" r="0.75" fill="#e91027"/>
<circle cx="171.8" cy="46.0" r="0.75" fill="#d22031"/>
<circle cx="172.6" cy="40.6" r="0.75" fill="#bf0f23"/>
<circle cx="180.1" cy="49.1" r="0.75" fill="#be1717"/>
<circle cx="178.6" cy="56.5" r="0.75" fill="#d81f28"/>
<circle cx="165.4" cy="43.7" r="0.75" fill="#bc0d14"/>
<circle cx="169.7" cy="44.7" r="0.75" fill="#e70617"/>
<circle cx="179.0" cy="43.7" r="0.75" fill="#ce0d2e"/>
<circle cx="177.2" cy="52.9" r="0.75" fill="#c4230d"/>
<circle cx="180.4" cy="42.7" r="0.75" fill="#ba0237"/>
<circle cx="174.7" cy="43.9" r="0.75" fill="#e11716"/>
<circle cx="171.5" cy="43.0" r="0.75" fill="#c0252d"/>
<circle cx="173.4" cy="51.8" r="0.75" fill="#db0d16"/>
<circle cx="175.8" cy="49.1" r="0.75" fill="#d12c3b"/>
<circle cx="179.2" cy="47.5" r="0.75" fill="#bf0510"/>
<circle cx="177.1" cy="46.3" r="0.75" fill="#e51d0d"/>
<circle cx="175.9" cy="45.1" r="0.75" fill="#e90136"/>
<circle cx="168.2" cy="46.8" r="0.75" fill="#c2132f"/>
<circle cx="164.3" cy="45.2" r="0.75" fill="#bf1f27"/>
<circle cx="176.0" cy="44.5" r="0.75" fill="#d02316"/>
<circle cx="167.6" cy="53.3" r="0.75" fill="#d9130a"/>
<circle cx="173.6" cy="42.7" r="0.75" fill="#c40e10"/>
<circle cx="177.3" cy="40.6" r="0.75" fill="#e91c12"/>
<circle cx="177.0" cy="47.2" r="0.75" fill="#c00317"/>
<circle cx="172.1" cy="46.1" r="0.75" fill="#e41012"/>
<circle cx="177.3" cy="50.4" r="0.75" fill="#ca140f"/>
<circle cx="170.1" cy="51.3" r="0.75" fill="#bd1434"/>
<circle cx="171.3" cy="46.0" r="0.75" fill="#d80011"/>
<circle cx="178.4" cy="47.5" r="0.75" fill="#c10810"/>
<circle cx="175.1" cy="45.7" r="0.75" fill="#da2320"/>
<circle cx="169.9" cy="45.2" r="0.75" fill="#e11d0d"/>
<circle cx="172.5" cy="44.9" r="0.75" fill="#d10422"/>
<circle cx="169.4" cy="41.3" r="0.75" fill="#c90020"/>
<circle cx="177.8" cy="44.3" r="0.75" fill="#d72129"/>
<circle cx="172.7" cy="39.2" r="0.75" fill="#c0082d"/>
<circle cx="165.9" cy="43.0" r="0.75" fill="#df0b12"/>
<circle cx="172.1" cy="45.4" r="0.75" fill="#d1081e"/>
<circle cx="169.8" cy="42.1" r="0.75" fill="#d70036"/>
<circle cx="170.6" cy="38.0" r="0.75" fill="#d71b36"/>
<circle cx="173.1" cy="41.0" r="0.75" fill="#ba002d"/>
<circle cx="175.6" cy="43.6" r="0.75" fill="#c31134"/>
<circle cx="173.3" cy="44.9" r="0.75" fill="#c3052f"/>
<circle cx="173.2" cy="56.4" r="0.75" fill="#cd041e"/>
<circle cx="178.7" cy="54.2" r="0.75" fill="#ba0f1c"/>
<circle cx="176.1" cy="47.9" r="0.75" fill="#ea251f"/>
<circle cx="179.6" cy="40.3" r="0.75" fill="#e31f26"/>
<circle cx="166.6" cy="46.7" r="0.75" fill="#d72b13"/>
<circle cx="178.9" cy="42.8" r="0.75" fill="#cf2518"/>
<circle cx="168.9" cy="50.8" r="0.75" fill="#e90734"/>
<circle cx="168.0" cy="38.9" r="0.75" fill="#c71c36"/>
<circle cx="178.1" cy="42.7" r="0.75" fill="#e21a25"/>
<circle cx="175.0" cy="52.2" r="0.75" fill="#e92a0c"/>
<circle cx="172.2" cy="50.3" r="0.75" fill="#e30430"/>
<circle cx="174.5" cy="51.0" r="0.75" fill="#e90127"/>
<circle cx="172.1" cy="54.5" r="0.75" fill="#bc1c16"/>
<circle cx="176.8" cy="46.2" r="0.75" fill="#da0038"/>
<circle cx="167.0" cy="39.9" r="0.75" fill="#de002f"/>
<circle cx="171.1" cy="49.2" r="0.75" fill="#e51c1b"/>
<circle cx="178.7" cy="50.0" r="0.75" fill="#bb060c"/>
<circle cx="176.5" cy="53.6" r="0.75" fill="#c62c17"/>
<circle cx="175.3" cy="40.4" r="0.75" fill="#d91910"/>
<circle cx="177.7" cy="38.4" r="0.75" fill="#d3040e"/>
<circle cx="171.8" cy="50.5" r="0.75" fill="#d30031"/>
<circle cx="173.9" cy="43.5" r="0.75" fill="#ba2732"/>
<circle cx="173.5" cy="44.2" r="0.75" fill="#e81b0b"/>
<circle cx="179.7" cy="46.4" r="0.75" fill="#c22727"/>
<circle cx="172.5" cy="46.4" r="0.75" fill="#c3220a"/>
<circle cx="173.8" cy="48.8" r="0.75" fill="#d60131"/>
<circle cx="166.2" cy="49.5" r="0.75" fill="#e62b13"/>
<circle cx="168.3" cy="53.1" r="0.75" fill="#c9291a"/>
<circle cx="170.9" cy="44.8" r="0.75" fill="#dd091f"/>
<circle cx="171.9" cy="39.1" r="0.75" fill="#c00314"/>
<circle cx="173.9" cy="40.7" r="0.75" fill="#dc2315"/>
<circle cx="172.8" cy="47.2" r="0.75" fill="#ca1917"/>
<circle cx="174.0" cy="44.3" r="0.75" fill="#cf1d15"/>
<circle cx="171.0" cy="43.4" r="0.75" fill="#bb002a"/>
<circle cx="176.0" cy="41.2" r="0.75" fill="#e41c30"/>
<circle cx="176.2" cy="42.2" r="0.75" fill="#d30315"/>
<circle cx="174.9" cy="48.3" r="0.75" fill="#cc0926"/>
<circle cx="174.8" cy="44.1" r="0.75" fill="#e52413"/>
<circle cx="170.8" cy="45.6" r="0.75" fill="#bc0614"/>
<circle cx="174.2" cy="47.2" r="0.75" fill="#e12635"/>
<circle cx="174.0" cy="47.6" r="0.75" fill="#e30d1b"/>
<circle cx="171.6" cy="42.0" r="0.75" fill="#c9020f"/>
<circle cx="171.0" cy="37.9" r="0.75" fill="#ba0624"/>
<circle cx="172.7" cy="52.3" r="0.75" fill="#d2080f"/>
<circle cx="166.5" cy="51.1" r="0.75" fill="#bf1532"/>
<circle cx="169.7" cy="45.5" r="0.75" fill="#e7223b"/>
<circle cx="171.7" cy="52.0" r="0.75" fill="#cf2528"/>
<circle cx="168.4" cy="45.6" r="0.75" fill="#e50c10"/>
<circle cx="174.6" cy="50.1" r="0.75" fill="#bd2b25"/>
<circle cx="174.6" cy="42.6" r="0.75" fill="#d30636"/>
<circle cx="169.4" cy="49.4" r="0.75" fill="#de263b"/>
<circle cx="168.8" cy="47.7" r="0.75" fill="#e21014"/>
<circle cx="169.6" cy="47.7" r="0.75" fill="#c5211b"/>
<circle cx="170.7" cy="44.6" r="0.75" fill="#be2230"/>
<circle cx="171.6" cy="41.4" r="0.75" fill="#c11433"/>
<circle cx="174.4" cy="41.5" r="0.75" fill="#d8030c"/>
<circle cx="173.7" cy="46.5" r="0.75" fill="#c50e2d"/>
<circle cx="170.4" cy="38.9" r="0.75" fill="#e70816"/>
<circle cx="175.9" cy="49.9" r="0.75" fill="#be2b26"/>
<circle cx="171.8" cy="47.3" r="0.75" fill="#e60730"/>
<circle cx="174.1" cy="50.6" r="0.75" fill="#bf1518"/>
<circle cx="167.2" cy="44.2" r="0.75" fill="#c40123"/>
<circle cx="169.5" cy="50.0" r="0.75" fill="#cb0310"/>
<circle cx="172.3" cy="41.0" r="0.75" fill="#db1a23"/>
<circle cx="176.3" cy="56.4" r="0.75" fill="#d31117"/>
<circle cx="164.7" cy="55.8" r="0.75" fill="#cd2310"/>
<circle cx="170.5" cy="45.2" r="0.75" fill="#c40a1d"/>
<circle cx="170.5" cy="43.7" r="0.75" fill="#e40234"/>
<circle cx="166.3" cy="50.2" r="0.75" fill="#cc0736"/>
<circle cx="168.8" cy="41.9" r="0.75" fill="#d31e39"/>
<circle cx="171.1" cy="50.2" r="0.75" fill="#e52436"/>
<circle cx="169.2" cy="49.0" r="0.75" fill="#e80512"/>
<circle cx="174.9" cy="50.5" r="0.75" fill="#cd0e21"/>
<circle cx="176.9" cy="48.1" r="0.75" fill="#d20022"/>
<circle cx="178.3" cy="43.6" r="0.75" fill="#e82622"/>
<circle cx="174.7" cy="47.4" r="0.75" fill="#d5251a"/>
<circle cx="178.0" cy="52.7" r="0.75" fill="#d31210"/>
<circle cx="168.0" cy="45.3" r="0.75" fill="#dc280d"/>
<circle cx="175.0" cy="43.8" r="0.75" fill="#cd0c32"/>
<circle cx="171.7" cy="47.8" r="0.75" fill="#d0020a"/>
<circle cx="177.1" cy="48.6" r="0.75" fill="#cf0010"/>
<circle cx="177.5" cy="44.0" r="0.75" fill="#ea1639"/>
<circle cx="171.7" cy="43.1" r="0.75" fill="#bb0231"/>
<circle cx="171.4" cy="44.1" r="0.75" fill="#c11a38"/>
<circle cx="170.4" cy="46.6" r="0.75" fill="#c21e38"/>
<circle cx="174.1" cy="50.3" r="0.75" fill="#c00515"/>
<circle cx="170.5" cy="48.8" r="0.75" fill="#da0617"/>
<circle cx="171.0" cy="48.5" r="0.75" fill="#bb000a"/>
<circle cx="172.6" cy="46.0" r="0.75" fill="#d02728"/>
<circle cx="171.7" cy="51.4" r="0.75" fill="#ce0b0c"/>
<circle cx="174.5" cy="49.2" r="0.75" fill="#c30b0f"/>
<circle cx="171.1" cy="45.2" r="0.75" fill="#d21d22"/>
<circle cx="172.8" cy="39.6" r="0.75" fill="#cf050c"/>
<circle cx="171.8" cy="43.3" r="0.75" fill="#c70013"/>
<circle cx="176.9" cy="44.1" r="0.75" fill="#e32516"/>
<circle cx="174.5" cy="56.3" r="0.75" fill="#c41838"/>
<circle cx="168.9" cy="48.2" r="0.75" fill="#e82638"/>
<circle cx="172.4" cy="44.2" r="0.75" fill="#bb0038"/>
<circle cx="164.8" cy="44.8" r="0.75" fill="#e8063a"/>
<circle cx="172.8" cy="49.9" r="0.75" fill="#c62c38"/>
<circle cx="170.3" cy="51.2" r="0.75" fill="#e22336"/>
<circle cx="171.2" cy="49.6" r="0.75" fill="#d22928"/>
<circle cx="175.1" cy="45.1" r="0.75" fill="#d22826"/>
<circle cx="175.3" cy="39.5" r="0.75" fill="#cf1d2c"/>
<circle cx="168.5" cy="49.2" r="0.75" fill="#e1273b"/>
<circle cx="169.0" cy="52.1" r="0.75" fill="#d42516"/>
<circle cx="170.0" cy="47.9" r="0.75" fill="#e11e0a"/>
<circle cx="175.0" cy="48.7" r="0.75" fill="#d6211b"/>
<circle cx="178.1" cy="50.0" r="0.75" fill="#d71017"/>
<circle cx="171.5" cy="49.8" r="0.75" fill="#e10e2d"/>
<circle cx="170.3" cy="46.2" r="0.75" fill="#c61c35"/>
<circle cx="175.3" cy="45.9" r="0.75" fill="#c50013"/>
<circle cx="168.1" cy="51.8" r="0.75" fill="#e61811"/>
<circle cx="171.5" cy="48.9" r="0.75" fill="#c61723"/>
<circle cx="174.8" cy="50.3" r="0.75" fill="#e51a28"/>
<circle cx="171.7" cy="50.5" r="0.75" fill="#df002a"/>
<circle cx="178.9" cy="45.5" r="0.75" fill="#bb0031"/>
<circle cx="174.9" cy="51.4" r="0.75" fill="#d91c18"/>
<circle cx="169.4" cy="38.3" r="0.75" fill="#d00e2c"/>
<circle cx="177.7" cy="42.4" r="0.75" fill="#e72239"/>
<circle cx="173.2" cy="53.8" r="0.75" fill="#c3001b"/>
<circle cx="176.5" cy="46.0" r="0.75" fill="#c8293b"/>
<circle cx="173.4" cy="43.1" r="0.75" fill="#e2000a"/>
<circle cx="176.7" cy="48.7" r="0.75" fill="#c52520"/>
<circle cx="176.1" cy="43.1" r="0.75" fill="#cb0b0c"/>
<circle cx="176.9" cy="49.9" r="0.75" fill="#e2020d"/>
<circle cx="173.7" cy="49.0" r="0.75" fill="#de1e3b"/>
<circle cx="179.4" cy="49.3" r="0.75" fill="#e0030d"/>
<circle cx="180.6" cy="46.2" r="0.75" fill="#bc042a"/>
<circle cx="175.3" cy="51.3" r="0.75" fill="#c00022"/>
<circle cx="165.3" cy="44.9" r="0.75" fill="#b90c0d"/>
<circle cx="170.8" cy="46.3" r="0.75" fill="#c92b2a"/>
<circle cx="170.4" cy="42.0" r="0.75" fill="#c31d3a"/>
<circle cx="180.0" cy="51.7" r="0.75" fill="#ca052a"/>
<circle cx="174.7" cy="45.1" r="0.75" fill="#c21414"/>
<circle cx="177.6" cy="47.9" r="0.75" fill="#c30327"/>
<circle cx="177.7" cy="45.6" r="0.75" fill="#d41d34"/>
<circle cx="176.9" cy="46.4" r="0.75" fill="#c12828"/>
<circle cx="175.0" cy="45.5" r="0.75" fill="#e00010"/>
<circle cx="176.1" cy="50.1" r="0.75" fill="#cd1b38"/>
<circle cx="168.2" cy="49.7" r="0.75" fill="#cd0e17"/>
<circle cx="176.4" cy="47.3" r="0.75" fill="#dd222c"/>
<circle cx="169.2" cy="48.8" r="0.75" fill="#c2073b"/>
<circle cx="169.6" cy="44.9" r="0.75" fill="#d31318"/>
<circle cx="169.3" cy="49.5" r="0.75" fill="#e52718"/>
<circle cx="170.3" cy="48.1" r="0.75" fill="#e80122"/>
<circle cx="177.9" cy="47.6" r="0.75" fill="#cf0011"/>
<circle cx="168.4" cy="47.2" r="0.75" fill="#c8001a"/>
<circle cx="172.1" cy="48.9" r="0.75" fill="#d60524"/>
<circle cx="173.0" cy="46.5" r="0.75" fill="#d11a36"/>
<circle cx="170.3" cy="39.4" r="0.75" fill="#da0632"/>
<circle cx="173.4" cy="42.1" r="0.75" fill="#e70037"/>
<circle cx="169.9" cy="51.5" r="0.75" fill="#e00322"/>
<circle cx="174.3" cy="47.3" r="0.75" fill="#e8051f"/>
<circle cx="180.3" cy="54.2" r="0.75" fill="#d22517"/>
<circle cx="170.1" cy="48.0" r="0.75" fill="#d61e26"/>
<circle cx="170.1" cy="45.3" r="0.75" fill="#e80012"/>
<circle cx="175.0" cy="44.5" r="0.75" fill="#e81126"/>
<circle cx="169.7" cy="42.3" r="0.75" fill="#e42719"/>
<circle cx="176.1" cy="44.8" r="0.75" fill="#db0229"/>
<circle cx="171.1" cy="43.5" r="0.75" fill="#e9002f"/>
<circle cx="172.7" cy="46.5" r="0.75" fill="#cf003b"/>
<circle cx="178.0" cy="50.9" r="0.75" fill="#d40138"/>
<circle cx="168.0" cy="44.5" r="0.75" fill="#c6021a"/>
<circle cx="175.9" cy="47.8" r="0.75" fill="#d10e30"/>
<circle cx="175.0" cy="49.5" r="0.75" fill="#d31d19"/>
<circle cx="173.8" cy="49.4" r="0.75" fill="#cb0d31"/>
<circle cx="173.4" cy="51.2" r="0.75" fill="#de050b"/>
<circle cx="182.4" cy="45.5" r="0.75" fill="#c80920"/>
<circle cx="175.0" cy="54.7" r="0.75" fill="#e51e1d"/>
<circle cx="178.5" cy="38.5" r="0.75" fill="#c21c12"/>
<circle cx="180.7" cy="46.5" r="0.75" fill="#cd2018"/>
<circle cx="177.8" cy="49.3" r="0.75" fill="#bc1134"/>
<circle cx="170.3" cy="45.6" r="0.75" fill="#c31623"/>
<circle cx="175.3" cy="45.7" r="0.75" fill="#d0111c"/>
<circle cx="174.8" cy="51.2" r="0.75" fill="#d4041a"/>
<circle cx="169.4" cy="47.6" r="0.75" fill="#ba141b"/>
<circle cx="176.8" cy="50.5" r="0.75" fill="#d70c2e"/>
<circle cx="172.2" cy="46.0" r="0.75" fill="#bb1528"/>
<circle cx="170.4" cy="46.1" r="0.75" fill="#ca1e1d"/>
<circle cx="170.2" cy="46.6" r="0.75" fill="#d8120a"/>
<circle cx="173.4" cy="39.3" r="0.75" fill="#ea2a2d"/>
<circle cx="170.0" cy="47.9" r="0.75" fill="#dc0f1a"/>
<circle cx="177.5" cy="51.2" r="0.75" fill="#dc2111"/>
<circle cx="174.9" cy="53.2" r="0.75" fill="#bf2738"/>
<circle cx="171.0" cy="44.7" r="0.75" fill="#d5211b"/>
<circle cx="169.8" cy="42.4" r="0.75" fill="#e6212b"/>
<circle cx="164.7" cy="44.6" r="0.75" fill="#d71d19"/>
<circle cx="177.4" cy="50.7" r="0.75" fill="#c42b15"/>
<circle cx="176.2" cy="44.8" r="0.75" fill="#c2171a"/>
<circle cx="179.0" cy="47.0" r="0.75" fill="#be0a0f"/>
<circle cx="168.1" cy="47.4" r="0.75" fill="#c81c20"/>
<circle cx="175.9" cy="41.2" r="0.75" fill="#c5240b"/>
<circle cx="173.3" cy="48.3" r="0.75" fill="#e81534"/>
<circle cx="175.0" cy="47.1" r="0.75" fill="#e6002d"/>
<circle cx="174.3" cy="43.0" r="0.75" fill="#e52122"/>
<circle cx="172.7" cy="49.7" r="0.75" fill="#bc1624"/>
<circle cx="175.2" cy="52.2" r="0.75" fill="#bc0a2b"/>
<circle cx="176.2" cy="51.6" r="0.75" fill="#bf2714"/>
<circle cx="181.7" cy="43.1" r="0.75" fill="#e9092c"/>
<circle cx="172.8" cy="46.1" r="0.75" fill="#bf001b"/>
<circle cx="180.0" cy="44.2" r="0.75" fill="#c9230a"/>
<circle cx="169.2" cy="46.0" r="0.75" fill="#bc282a"/>
<circle cx="179.2" cy="47.0" r="0.75" fill="#d80121"/>
<circle cx="177.5" cy="43.8" r="0.75" fill="#d8111b"/>
<circle cx="176.1" cy="47.4" r="0.75" fill="#c2000c"/>
<circle cx="170.6" cy="39.4" r="0.75" fill="#c3251d"/>
<circle cx="175.1" cy="44.6" r="0.75" fill="#c71515"/>
<circle cx="172.8" cy="54.3" r="0.75" fill="#e02c2a"/>
<circle cx="170.4" cy="51.2" r="0.75" fill="#d61837"/>
<circle cx="168.7" cy="47.9" r="0.75" fill="#ba0b22"/>
<circle cx="177.7" cy="47.5" r="0.75" fill="#be0836"/>
<circle cx="175.0" cy="46.1" r="0.75" fill="#d6130c"/>
<circle cx="171.7" cy="52.4" r="0.75" fill="#ce170d"/>
<circle cx="168.8" cy="43.3" r="0.75" fill="#c21738"/>
<circle cx="177.7" cy="43.3" r="0.75" fill="#d32020"/>
<circle cx="172.1" cy="43.1" r="0.75" fill="#d41f27"/>
<circle cx="169.9" cy="44.6" r="0.75" fill="#ca1b20"/>
<circle cx="169.4" cy="48.8" r="0.75" fill="#c71a35"/>
<circle cx="175.3" cy="53.2" r="0.75" fill="#d31a2b"/>
<circle cx="172.7" cy="47.6" r="0.75" fill="#cb1529"/>
<circle cx="178.7" cy="44.3" r="0.75" fill="#d90c31"/>
<circle cx="179.2" cy="53.9" r="0.75" fill="#d1112c"/>
<circle cx="174.3" cy="48.3" r="0.75" fill="#d60615"/>
<circle cx="178.4" cy="47.1" r="0.75" fill="#c70d15"/>
<circle cx="173.2" cy="49.6" r="0.75" fill="#e91f1b"/>
<circle cx="182.1" cy="54.8" r="0.75" fill="#e50035"/>
<circle cx="169.0" cy="48.9" r="0.75" fill="#b91715"/>
<circle cx="175.4" cy="45.1" r="0.75" fill="#e50b32"/>
<circle cx="169.7" cy="45.3" r="0.75" fill="#c6060f"/>
<circle cx="172.1" cy="50.9" r="0.75" fill="#e20023"/>
<circle cx="170.7" cy="47.1" r="0.75" fill="#db052f"/>
<circle cx="177.4" cy="55.1" r="0.75" fill="#c80011"/>
<circle cx="173.8" cy="49.4" r="0.75" fill="#c82b1c"/>
<circle cx="167.7" cy="51.8" r="0.75" fill="#bc0035"/>
<circle cx="172.0" cy="49.6" r="0.75" fill="#c2203a"/>
<circle cx="167.9" cy="51.3" r="0.75" fill="#d00519"/>
<circle cx="171.5" cy="50.0" r="0.75" fill="#e0001d"/>
<circle cx="173.1" cy="46.1" r="0.75" fill="#e9192a"/>
<circle cx="174.2" cy="50.0" r="0.75" fill="#e32b0a"/>
<circle cx="174.4" cy="44.5" r="0.75" fill="#bc180e"/>
<circle cx="177.6" cy="40.1" r="0.75" fill="#c70223"/>
<circle cx="173.2" cy="46.0" r="0.75" fill="#dc011c"/>
<circle cx="174.1" cy="48.8" r="0.75" fill="#d30937"/>
<circle cx="178.8" cy="43.2" r="0.75" fill="#d21b1a"/>
<circle cx="168.0" cy="48.3" r="0.75" fill="#ce1134"/>
<circle cx="180.0" cy="46.7" r="0.75" fill="#e30a0d"/>
<circle cx="174.0" cy="52.3" r="0.75" fill="#df1f37"/>
<circle cx="173.8" cy="43.6" r="0.75" fill="#bb131a"/>
<circle cx="179.4" cy="40.2" r="0.75" fill="#d3212e"/>
<circle cx="168.7" cy="46.6" r="0.75" fill="#e82226"/>
<circle cx="175.6" cy="47.0" r="0.75" fill="#df161a"/>
<circle cx="177.1" cy="51.4" r="0.75" fill="#e40336"/>
<circle cx="175.9" cy="47.0" r="0.75" fill="#d4131a"/>
<circle cx="175.6" cy="49.6" r="0.75" fill="#e82539"/>
<circle cx="168.3" cy="47.2" r="0.75" fill="#bc1027"/>
<circle cx="174.7" cy="47.1" r="0.75" fill="#d9003a"/>
<circle cx="175.1" cy="53.7" r="0.75" fill="#d80521"/>
<circle cx="170.9" cy="48.5" r="0.75" fill="#cc002d"/>
<circle cx="178.4" cy="46.2" r="0.75" fill="#cc1411"/>
<circle cx="172.8" cy="40.5" r="0.75" fill="#be0d10"/>
<circle cx="173.0" cy="46.5" r="0.75" fill="#e40033"/>
<circle cx="175.0" cy="52.2" r="0.75" fill="#dc2935"/>
<circle cx="177.0" cy="52.9" r="0.75" fill="#ce0321"/>
<circle cx="174.0" cy="46.9" r="0.75" fill="#db1636"/>
<circle cx="170.1" cy="47.7" r="0.75" fill="#e3002c"/>
<circle cx="172.8" cy="48.6" r="0.75" fill="#c12511"/>
<circle cx="175.3" cy="46.0" r="0.75" fill="#e7002a"/>
<circle cx="167.7" cy="45.9" r="0.75" fill="#e7063b"/>
<circle cx="166.3" cy="43.8" r="0.75" fill="#c52c2e"/>
<circle cx="170.3" cy="47.8" r="0.75" fill="#e4173b"/>
<circle cx="178.4" cy="42.3" r="0.75" fill="#dd0333"/>
<circle cx="172.8" cy="45.3" r="0.75" fill="#bc0014"/>
<circle cx="173.8" cy="39.7" r="0.75" fill="#db0d38"/>
<circle cx="175.0" cy="49.8" r="0.75" fill="#cf082e"/>
<circle cx="176.7" cy="40.9" r="0.75" fill="#c91819"/>
<circle cx="168.3" cy="45.6" r="0.75" fill="#c02532"/>
<circle cx="173.5" cy="45.3" r="0.75" fill="#c42032"/>
<circle cx="166.0" cy="40.3" r="0.75" fill="#ce0621"/>
<circle cx="171.9" cy="51.3" r="0.75" fill="#e00b2d"/>
<circle cx="172.5" cy="46.7" r="0.75" fill="#d2262a"/>
<circle cx="176.8" cy="42.1" r="0.75" fill="#ea001f"/>
<circle cx="175.5" cy="54.2" r="0.75" fill="#c71c2a"/>
<circle cx="179.0" cy="47.9" r="0.75" fill="#c9072a"/>
<circle cx="171.2" cy="44.9" r="0.75" fill="#dc000c"/>
<circle cx="180.5" cy="40.6" r="0.75" fill="#e82c2f"/>
<circle cx="168.5" cy="44.9" r="0.75" fill="#d32a3a"/>
<circle cx="170.6" cy="48.4" r="0.75" fill="#d31032"/>
<circle cx="178.4" cy="44.3" r="0.75" fill="#bd1510"/>
<circle cx="165.6" cy="45.3" r="0.75" fill="#da1211"/>
<circle cx="180.9" cy="43.5" r="0.75" fill="#d1002b"/>
<circle cx="169.8" cy="49.8" r="0.75" fill="#cb0811"/>
<circle cx="170.2" cy="42.9" r="0.75" fill="#ce2023"/>
<circle cx="174.9" cy="50.2" r="0.75" fill="#d41c29"/>
<circle cx="173.1" cy="43.1" r="0.75" fill="#df1816"/>
<circle cx="177.4" cy="51.6" r="0.75" fill="#e32a32"/>
<circle cx="175.7" cy="41.9" r="0.75" fill="#c50935"/>
<circle cx="172.5" cy="52.2" r="0.75" fill="#d4000f"/>
<circle cx="175.5" cy="54.7" r="0.75" fill="#e00012"/>
<circle cx="175.7" cy="47.0" r="0.75" fill="#e01835"/>
<circle cx="173.0" cy="45.2" r="0.75" fill="#df1e0c"/>
<circle cx="176.5" cy="45.9" r="0.75" fill="#d01525"/>
<circle cx="171.8" cy="46.5" r="0.75" fill="#e3150e"/>
<circle cx="170.5" cy="47.2" r="0.75" fill="#ce1e2f"/>
<circle cx="175.0" cy="50.3" r="0.75" fill="#e91a13"/>
<circle cx="170.8" cy="45.1" r="0.75" fill="#bc1b0f"/>
<circle cx="177.2" cy="52.3" r="0.75" fill="#e9002f"/>
<circle cx="174.1" cy="48.4" r="0.75" fill="#b9002e"/>
<circle cx="173.8" cy="46.8" r="0.75" fill="#c0001e"/>
<circle cx="172.0" cy="49.8" r="0.75" fill="#e10029"/>
<circle cx="177.0" cy="52.2" r="0.75" fill="#bf043b"/>
<circle cx="172.7" cy="52.0" r="0.75" fill="#da2c25"/>
<circle cx="177.8" cy="51.6" r="0.75" fill="#db181d"/>
<circle cx="173.8" cy="45.8" r="0.75" fill="#d41637"/>
<circle cx="173.8" cy="44.0" r="0.75" fill="#cc181d"/>
<circle cx="171.0" cy="47.9" r="0.75" fill="#c00037"/>
<circle cx="176.7" cy="51.6" r="0.75" fill="#e82127"/>
<circle cx="171.8" cy="53.6" r="0.75" fill="#e10515"/>
<circle cx="168.4" cy="50.3" r="0.75" fill="#e51817"/>
<circle cx="172.8" cy="44.7" r="0.75" fill="#be0026"/>
<circle cx="169.1" cy="44.9" r="0.75" fill="#d40414"/>
<circle cx="169.5" cy="44.9" r="0.75" fill="#d12821"/>
<circle cx="173.1" cy="45.6" r="0.75" fill="#d10013"/>
<circle cx="174.8" cy="51.2" r="0.75" fill="#c02919"/>
<circle cx="172.7" cy="48.8" r="0.75" fill="#cb2225"/>
<circle cx="177.8" cy="43.4" r="0.75" fill="#d91033"/>
<circle cx="171.0" cy="47.9" r="0.75" fill="#c4220c"/>
<circle cx="175.7" cy="52.8" r="0.75" fill="#db122a"/>
<circle cx="168.3" cy="50.0" r="0.75" fill="#ba0f3a"/>
<circle cx="169.8" cy="45.4" r="0.75" fill="#d82b21"/>
<circle cx="166.5" cy="51.3" r="0.75" fill="#e3062b"/>
<circle cx="172.0" cy="51.1" r="0.75" fill="#e10d37"/>
<circle cx="164.8" cy="48.0" r="0.75" fill="#bf0f0b"/>
<circle cx="178.7" cy="40.0" r="0.75" fill="#d1123a"/>
<circle cx="170.5" cy="49.7" r="0.75" fill="#bf2832"/>
<circle cx="166.5" cy="46.0" r="0.75" fill="#e21c0f"/>
<circle cx="168.1" cy="40.0" r="0.75" fill="#d0102a"/>
<circle cx="174.3" cy="50.1" r="0.75" fill="#db2c0f"/>
<circle cx="170.7" cy="42.7" r="0.75" fill="#ba0319"/>
<circle cx="172.4" cy="45.0" r="0.75" fill="#cb1a2f"/>
<circle cx="181.2" cy="47.0" r="0.75" fill="#c21628"/>
<circle cx="167.8" cy="45.3" r="0.75" fill="#cc062b"/>
<circle cx="177.7" cy="42.4" r="0.75" fill="#d92a16"/>
<circle cx="166.2" cy="43.5" r="0.75" fill="#d90023"/>
<circle cx="174.4" cy="44.5" r="0.75" fill="#cc2c20"/>
<circle cx="167.7" cy="45.6" r="0.75" fill="#e31136"/>
<circle cx="172.0" cy="42.9" r="0.75" fill="#d70a0c"/>
<circle cx="171.9" cy="47.3" r="0.75" fill="#c7253a"/>
<circle cx="174.0" cy="49.7" r="0.75" fill="#ca1111"/>
<circle cx="174.1" cy="44.8" r="0.75" fill="#d3082a"/>
<circle cx="176.9" cy="50.6" r="0.75" fill="#e30013"/>
<circle cx="180.4" cy="50.9" r="0.75" fill="#da0737"/>
<circle cx="175.5" cy="51.7" r="0.75" fill="#dd190d"/>
<circle cx="175.8" cy="48.0" r="0.75" fill="#e82719"/>
<circle cx="178.9" cy="49.1" r="0.75" fill="#c22737"/>
<circle cx="174.7" cy="39.7" r="0.75" fill="#df241c"/>
<circle cx="173.1" cy="46.5" r="0.75" fill="#db113b"/>
<circle cx="174.2" cy="42.5" r="0.75" fill="#dc1828"/>
<circle cx="176.2" cy="47.4" r="0.75" fill="#c51e37"/>
<circle cx="168.3" cy="41.8" r="0.75" fill="#d80216"/>
<circle cx="167.1" cy="43.6" r="0.75" fill="#cd1d1a"/>
<circle cx="172.2" cy="49.7" r="0.75" fill="#cd170f"/>
<circle cx="173.7" cy="47.0" r="0.75" fill="#dd0c38"/>
<circle cx="173.0" cy="48.2" r="0.75" fill="#db0d32"/>
<circle cx="170.9" cy="43.1" r="0.75" fill="#da1d1a"/>
<circle cx="175.3" cy="53.2" r="0.75" fill="#d50012"/>
<circle cx="171.5" cy="48.0" r="0.75" fill="#d30e18"/>
<circle cx="173.2" cy="40.0" r="0.75" fill="#bc183b"/>
<circle cx="173.5" cy="50.3" r="0.75" fill="#c90611"/>
<circle cx="173.1" cy="52.4" r="0.75" fill="#e1210b"/>
<circle cx="173.8" cy="41.0" r="0.75" fill="#c60034"/>
<circle cx="175.3" cy="49.7" r="0.75" fill="#c82239"/>
<circle cx="180.3" cy="42.9" r="0.75" fill="#e3120c"/>
<circle cx="173.4" cy="49.6" r="0.75" fill="#be0119"/>
<circle cx="176.5" cy="48.3" r="0.75" fill="#e30723"/>
<circle cx="173.6" cy="46.6" r="0.75" fill="#dd160b"/>
<circle cx="179.0" cy="42.2" r="0.75" fill="#be2b26"/>
<circle cx="171.3" cy="44.9" r="0.75" fill="#ba1e2d"/>
<circle cx="173.7" cy="48.3" r="0.75" fill="#d50a1b"/>
<circle cx="176.9" cy="43.0" r="0.75" fill="#be1d2e"/>
<circle cx="167.2" cy="48.2" r="0.75" fill="#bb0a19"/>
<circle cx="168.7" cy="49.5" r="0.75" fill="#be1d0c"/>
<circle cx="173.1" cy="53.0" r="0.75" fill="#ba0b32"/>
<circle cx="172.7" cy="43.0" r="0.75" fill="#c12035"/>
<circle cx="177.0" cy="49.4" r="0.75" fill="#d41d14"/>
<circle cx="175.7" cy="41.8" r="0.75" fill="#e02a2c"/>
<circle cx="171.5" cy="44.0" r="0.75" fill="#c60d32"/>
<circle cx="170.4" cy="45.2" r="0.75" fill="#e6143a"/>
<circle cx="169.3" cy="41.3" r="0.75" fill="#ca2c21"/>
<circle cx="171.2" cy="43.2" r="0.75" fill="#d3031c"/>
<circle cx="167.3" cy="51.0" r="0.75" fill="#c0042a"/>
<circle cx="164.6" cy="48.7" r="0.75" fill="#b91133"/>
<circle cx="173.3" cy="43.1" r="0.75" fill="#d20e0a"/>
<circle cx="175.8" cy="48.7" r="0.75" fill="#e40418"/>
<circle cx="167.1" cy="44.8" r="0.75" fill="#d90a1b"/>
<circle cx="180.6" cy="47.8" r="0.75" fill="#cb0914"/>
<circle cx="170.8" cy="47.3" r="0.75" fill="#c90013"/>
<circle cx="169.5" cy="46.5" r="0.75" fill="#be260c"/>
<circle cx="170.2" cy="49.1" r="0.75" fill="#bb0920"/>
<circle cx="172.0" cy="44.0" r="0.75" fill="#cb2829"/>
<circle cx="170.5" cy="48.2" r="0.75" fill="#e02915"/>
<circle cx="175.6" cy="43.8" r="0.75" fill="#d00016"/>
<circle cx="173.4" cy="50.2" r="0.75" fill="#e22a19"/>
<circle cx="174.3" cy="43.7" r="0.75" fill="#d60437"/>
<circle cx="167.6" cy="46.6" r="0.75" fill="#e01522"/>
<circle cx="172.1" cy="42.4" r="0.75" fill="#d50911"/>
<circle cx="172.5" cy="46.7" r="0.75" fill="#c21823"/>
<circle cx="182.3" cy="46.5" r="0.75" fill="#bc233b"/>
<circle cx="168.9" cy="51.4" r="0.75" fill="#db222d"/>
<circle cx="174.8" cy="43.6" r="0.75" fill="#e0183a"/>
<circle cx="170.6" cy="52.7" r="0.75" fill="#e4202c"/>
<circle cx="228.7" cy="47.1" r="0.50" fill="#c81b0b"/>
<circle cx="224.0" cy="44.0" r="0.50" fill="#c20825"/>
<circle cx="226.4" cy="47.0" r="0.50" fill="#e31837"/>
<circle cx="225.1" cy="43.7" r="0.50" fill="#cb0520"/>
<circle cx="222.7" cy="52.3" r="0.50" fill="#e5043b"/>
<circle cx="233.2" cy="44.7" r="0.50" fill="#e42a2e"/>
<circle cx="219.1" cy="49.2" r="0.50" fill="#df0b21"/>
<circle cx="229.7" cy="46.6" r="0.50" fill="#e00a2d"/>
<circle cx="215.3" cy="47.9" r="0.50" fill="#c7002b"/>
<circle cx="225.8" cy="47.9" r="0.50" fill="#d01336"/>
<circle cx="223.4" cy="42.0" r="0.50" fill="#cf1810"/>
<circle cx="223.0" cy="50.0" r="0.50" fill="#e71914"/>
<circle cx="239.1" cy="44.2" r="0.50" fill="#c40d0b"/>
<circle cx="226.4" cy="43.1" r="0.50" fill="#e21e30"/>
<circle cx="220.9" cy="44.5" r="0.50" fill="#ba180a"/>
<circle cx="213.2" cy="44.8" r="0.50" fill="#c01025"/>
<circle cx="228.9" cy="47.4" r="0.50" fill="#d70311"/>
<circle cx="228.9" cy="44.5" r="0.50" fill="#d50f0b"/>
<circle cx="225.9" cy="50.6" r="0.50" fill="#b92a18"/>
<circle cx="215.4" cy="52.5" r="0.50" fill="#bf0121"/>
<circle cx="223.5" cy="48.3" r="0.50" fill="#d62a1e"/>
<circle cx="233.0" cy="46.4" r="0.50" fill="#e3100d"/>
<circle cx="226.0" cy="48.0" r="0.50" fill="#ca0a2b"/>
<circle cx="225.6" cy="44.5" r="0.50" fill="#c02435"/>
<circle cx="227.1" cy="43.4" r="0.50" fill="#db002b"/>
<circle cx="228.6" cy="52.1" r="0.50" fill="#e3122e"/>
<circle cx="240.9" cy="43.0" r="0.50" fill="#d9191b"/>
<circle cx="224.3" cy="43.7" r="0.50" fill="#cf000e"/>
<circle cx="222.1" cy="42.3" r="0.50" fill="#c32a18"/>
<circle cx="217.6" cy="44.5" r="0.50" fill="#c22c2f"/>
<circle cx="230.9" cy="43.6" r="0.50" fill="#e62839"/>
<circle cx="227.9" cy="47.3" r="0.50" fill="#bd002d"/>
<circle cx="234.0" cy="46.7" r="0.50" fill="#ca1f0c"/>
<circle cx="223.8" cy="48.9" r="0.50" fill="#de0a34"/>
<circle cx="231.3" cy="45.4" r="0.50" fill="#d00225"/>
<circle cx="210.2" cy="51.3" r="0.50" fill="#dd2c32"/>
<circle cx="229.3" cy="42.4" r="0.50" fill="#da001b"/>
<circle cx="230.1" cy="49.1" r="0.50" fill="#cd1a27"/>
<circle cx="224.9" cy="52.7" r="0.50" fill="#cf212e"/>
<circle cx="235.0" cy="45.0" r="0.50" fill="#d62115"/>
<circle cx="239.2" cy="47.3" r="0.50" fill="#db2032"/>
<circle cx="230.7" cy="52.3" r="0.50" fill="#d92a25"/>
<circle cx="227.7" cy="44.6" r="0.50" fill="#c1162b"/>
<circle cx="223.8" cy="46.4" r="0.50" fill="#e50036"/>
<circle cx="227.3" cy="50.9" r="0.50" fill="#d6061a"/>
<circle cx="226.5" cy="49.8" r="0.50" fill="#c61618"/>
<circle cx="234.4" cy="49.2" r="0.50" fill="#c62a1e"/>
<circle cx="225.1" cy="51.1" r="0.50" fill="#e60d2e"/>
<circle cx="225.4" cy="46.4" r="0.50" fill="#b91629"/>
<circle cx="224.2" cy="49.0" r="0.50" fill="#cd0d13"/>
<circle cx="215.3" cy="44.1" r="0.50" fill="#ba2716"/>
<circle cx="220.8" cy="45.9" r="0.50" fill="#da0f27"/>
<circle cx="218.5" cy="47.8" r="0.50" fill="#bd2c1f"/>
<circle cx="218.9" cy="51.4" r="0.50" fill="#c7221f"/>
<circle cx="233.3" cy="48.6" r="0.50" fill="#c7053b"/>
<circle cx="233.8" cy="44.0" r="0.50" fill="#e11c19"/>
<circle cx="232.8" cy="48.9" r="0.50" fill="#c22027"/>
<circle cx="228.4" cy="51.5" r="0.50" fill="#e9133a"/>
<circle cx="224.7" cy="45.7" r="0.50" fill="#d00c37"/>
<circle cx="229.8" cy="48.4" r="0.50" fill="#b9002d"/>
<circle cx="231.2" cy="46.0" r="0.50" fill="#ce2915"/>
<circle cx="237.7" cy="45.7" r="0.50" fill="#db0138"/>
<circle cx="237.7" cy="39.4" r="0.50" fill="#e2162d"/>
<circle cx="233.7" cy="49.0" r="0.50" fill="#ca0b19"/>
<circle cx="237.9" cy="48.6" r="0.50" fill="#df0023"/>
<circle cx="235.3" cy="46.1" r="0.50" fill="#c12b19"/>
<circle cx="220.2" cy="45.1" r="0.50" fill="#e60019"/>
<circle cx="227.9" cy="51.2" r="0.50" fill="#cb261a"/>
<circle cx="231.8" cy="48.2" r="0.50" fill="#bd0224"/>
<circle cx="221.4" cy="44.4" r="0.50" fill="#c11520"/>
<circle cx="214.9" cy="46.1" r="0.50" fill="#c0000d"/>
<circle cx="229.3" cy="40.3" r="0.50" fill="#c00b19"/>
<circle cx="232.8" cy="43.8" r="0.50" fill="#dc000c"/>
<circle cx="227.7" cy="50.5" r="0.50" fill="#cf2633"/>
<circle cx="241.1" cy="43.7" r="0.50" fill="#bd0e11"/>
<circle cx="219.2" cy="42.8" r="0.50" fill="#bd0021"/>
<circle cx="220.6" cy="43.0" r="0.50" fill="#d01a2c"/>
<circle cx="224.0" cy="42.0" r="0.50" fill="#c1260c"/>
<circle cx="227.3" cy="47.7" r="0.50" fill="#d61a0e"/>
<circle cx="216.2" cy="45.1" r="0.50" fill="#db002e"/>
<circle cx="225.1" cy="48.9" r="0.50" fill="#bf2528"/>
<circle cx="229.5" cy="41.6" r="0.50" fill="#be0f0d"/>
<circle cx="237.1" cy="49.2" r="0.50" fill="#b90e0c"/>
<circle cx="233.0" cy="46.2" r="0.50" fill="#e90719"/>
<circle cx="217.6" cy="48.9" r="0.50" fill="#e00c0a"/>
<circle cx="217.9" cy="49.3" r="0.50" fill="#e9111e"/>
<circle cx="218.5" cy="48.8" r="0.50" fill="#ba2839"/>
<circle cx="226.8" cy="45.6" r="0.50" fill="#c80230"/>
<circle cx="232.4" cy="42.3" r="0.50" fill="#e80613"/>
<circle cx="219.9" cy="48.1" r="0.50" fill="#c2292f"/>
<circle cx="224.7" cy="47.9" r="0.50" fill="#c70e2a"/>
<circle cx="230.3" cy="46.6" r="0.50" fill="#cb2a20"/>
<circle cx="223.3" cy="39.0" r="0.50" fill="#d00d30"/>
<circle cx="210.9" cy="46.1" r="0.50" fill="#d91734"/>
<circle cx="231.3" cy="46.9" r="0.50" fill="#d12313"/>
<circle cx="226.6" cy="44.0" r="0.50" fill="#ca122d"/>
<circle cx="211.6" cy="44.5" r="0.50" fill="#db0e24"/>
<circle cx="214.3" cy="50.1" r="0.50" fill="#c80416"/>
<circle cx="226.0" cy="51.9" r="0.50" fill="#db071f"/>
<circle cx="241.1" cy="40.0" r="0.50" fill="#c42a0c"/>
<circle cx="232.6" cy="45.5" r="0.50" fill="#e8002c"/>
<circle cx="238.4" cy="42.5" r="0.50" fill="#d50215"/>
<circle cx="240.1" cy="43.0" r="0.50" fill="#c40c28"/>
<circle cx="224.3" cy="47.8" r="0.50" fill="#e40029"/>
<circle cx="219.0" cy="47.7" r="0.50" fill="#e42030"/>
<circle cx="239.6" cy="46.2" r="0.50" fill="#e00015"/>
<circle cx="224.2" cy="38.5" r="0.50" fill="#d3270e"/>
<circle cx="225.1" cy="52.0" r="0.50" fill="#e00626"/>
<circle cx="215.9" cy="61.4" r="0.55" fill="#224dba"/>
<circle cx="221.9" cy="54.4" r="0.55" fill="#3849a8"/>
<circle cx="225.3" cy="62.4" r="0.55" fill="#243d9a"/>
<circle cx="220.8" cy="61.8" r="0.55" fill="#2a75c0"/>
<circle cx="222.7" cy="60.9" r="0.55" fill="#0d74ba"/>
<circle cx="222.7" cy="48.5" r="0.55" fill="#23428b"/>
<circle cx="216.6" cy="63.1" r="0.55" fill="#0c558a"/>
<circle cx="224.9" cy="64.2" r="0.55" fill="#34789b"/>
<circle cx="223.7" cy="60.1" r="0.55" fill="#143985"/>
<circle cx="228.1" cy="62.3" r="0.55" fill="#2676a6"/>
<circle cx="225.9" cy="59.8" r="0.55" fill="#387bb9"/>
<circle cx="223.9" cy="62.7" r="0.55" fill="#255598"/>
<circle cx="224.2" cy="59.4" r="0.55" fill="#447bc9"/>
<circle cx="217.9" cy="63.3" r="0.55" fill="#153e85"/>
<circle cx="219.0" cy="65.6" r="0.55" fill="#2b47a6"/>
<circle cx="220.3" cy="57.7" r="0.55" fill="#2678a4"/>
<circle cx="231.5" cy="58.0" r="0.55" fill="#1077b5"/>
<circle cx="220.5" cy="59.5" r="0.55" fill="#3544a5"/>
<circle cx="226.5" cy="62.4" r="0.55" fill="#4a60a8"/>
<circle cx="218.1" cy="54.0" r="0.55" fill="#314a93"/>
<circle cx="214.5" cy="51.9" r="0.55" fill="#445999"/>
<circle cx="222.2" cy="57.8" r="0.55" fill="#296dc8"/>
<circle cx="226.3" cy="60.2" r="0.55" fill="#2861c8"/>
<circle cx="225.6" cy="60.0" r="0.55" fill="#286e87"/>
<circle cx="217.7" cy="63.4" r="0.55" fill="#244389"/>
<circle cx="223.9" cy="53.0" r="0.55" fill="#2c66ba"/>
<circle cx="219.6" cy="61.0" r="0.55" fill="#473cbb"/>
<circle cx="217.5" cy="59.9" r="0.55" fill="#18789a"/>
<circle cx="222.7" cy="60.0" r="0.55" fill="#457188"/>
<circle cx="226.0" cy="61.5" r="0.55" fill="#0959c0"/>
<circle cx="222.4" cy="53.2" r="0.55" fill="#4b4c9b"/>
<circle cx="222.8" cy="64.7" r="0.55" fill="#273fa7"/>
<circle cx="233.5" cy="56.5" r="0.55" fill="#3273a7"/>
<circle cx="215.8" cy="58.7" r="0.55" fill="#1560a8"/>
<circle cx="221.8" cy="63.7" r="0.55" fill="#13638d"/>
<circle cx="221.9" cy="59.0" r="0.55" fill="#2c3dbe"/>
<circle cx="232.5" cy="59.4" r="0.55" fill="#1b799c"/>
<circle cx="228.1" cy="63.9" r="0.55" fill="#186fa6"/>
<circle cx="222.8" cy="64.6" r="0.55" fill="#16498a"/>
<circle cx="223.8" cy="61.7" r="0.55" fill="#1254a4"/>
<circle cx="218.3" cy="55.2" r="0.55" fill="#3661a5"/>
<circle cx="225.2" cy="56.5" r="0.55" fill="#1a37c4"/>
<circle cx="227.2" cy="55.3" r="0.55" fill="#415ec6"/>
<circle cx="227.2" cy="56.1" r="0.55" fill="#1a54c7"/>
<circle cx="218.9" cy="59.4" r="0.55" fill="#0851c5"/>
<circle cx="215.7" cy="62.5" r="0.55" fill="#4578b8"/>
<circle cx="219.3" cy="58.6" r="0.55" fill="#486fb9"/>
<circle cx="230.3" cy="60.8" r="0.55" fill="#37409b"/>
<circle cx="219.8" cy="59.5" r="0.55" fill="#0e41a5"/>
<circle cx="232.3" cy="59.2" r="0.55" fill="#244a96"/>
<circle cx="220.8" cy="64.2" r="0.55" fill="#3955b7"/>
<circle cx="215.3" cy="54.8" r="0.55" fill="#3a6c86"/>
<circle cx="222.0" cy="60.3" r="0.55" fill="#4142c5"/>
<circle cx="221.9" cy="60.7" r="0.55" fill="#37439e"/>
<circle cx="216.9" cy="60.9" r="0.55" fill="#2b65bc"/>
<circle cx="230.3" cy="57.2" r="0.55" fill="#24599d"/>
<circle cx="226.7" cy="53.5" r="0.55" fill="#3770b5"/>
<circle cx="227.7" cy="55.2" r="0.55" fill="#3774a7"/>
<circle cx="225.2" cy="55.1" r="0.55" fill="#1272ab"/>
<circle cx="230.1" cy="57.0" r="0.55" fill="#193fc3"/>
<circle cx="223.4" cy="61.3" r="0.55" fill="#2b69ad"/>
<circle cx="231.8" cy="60.9" r="0.55" fill="#364dc5"/>
<circle cx="215.0" cy="58.8" r="0.55" fill="#0d4cb9"/>
<circle cx="220.4" cy="52.0" r="0.55" fill="#3738c0"/>
<circle cx="227.1" cy="59.4" r="0.55" fill="#1c598b"/>
<circle cx="221.0" cy="59.6" r="0.55" fill="#1e4f8c"/>
<circle cx="223.9" cy="57.4" r="0.55" fill="#1575a1"/>
<circle cx="227.5" cy="57.2" r="0.55" fill="#2b5ba1"/>
<circle cx="228.6" cy="58.2" r="0.55" fill="#3e5a9d"/>
<circle cx="229.9" cy="49.9" r="0.55" fill="#0860b9"/>
<circle cx="218.4" cy="58.3" r="0.55" fill="#3941a6"/>
<circle cx="226.6" cy="67.2" r="0.55" fill="#3d52bc"/>
<circle cx="216.5" cy="56.7" r="0.55" fill="#176db2"/>
<circle cx="227.4" cy="58.4" r="0.55" fill="#236d97"/>
<circle cx="224.4" cy="49.6" r="0.55" fill="#126999"/>
<circle cx="222.8" cy="62.7" r="0.55" fill="#3d639f"/>
<circle cx="219.7" cy="50.8" r="0.55" fill="#1473a9"/>
<circle cx="217.0" cy="51.6" r="0.55" fill="#1557b6"/>
<circle cx="228.5" cy="59.0" r="0.55" fill="#2c56a8"/>
<circle cx="224.8" cy="56.6" r="0.55" fill="#394a8a"/>
<circle cx="220.9" cy="59.1" r="0.55" fill="#2742a4"/>
<circle cx="224.9" cy="63.3" r="0.55" fill="#31668e"/>
<circle cx="226.3" cy="54.9" r="0.55" fill="#0c55b0"/>
<circle cx="218.3" cy="64.2" r="0.55" fill="#1c70c6"/>
<circle cx="224.2" cy="57.0" r="0.55" fill="#245c9f"/>
<circle cx="226.1" cy="64.1" r="0.55" fill="#0f42a2"/>
<circle cx="228.4" cy="58.4" r="0.55" fill="#4a66b2"/>
<circle cx="229.2" cy="55.4" r="0.55" fill="#3a58bc"/>
<circle cx="223.7" cy="58.3" r="0.55" fill="#4839b1"/>
<circle cx="231.0" cy="61.9" r="0.55" fill="#2540c0"/>
<circle cx="223.7" cy="68.4" r="0.55" fill="#215ea4"/>
<circle cx="223.8" cy="54.2" r="0.55" fill="#2a479c"/>
<circle cx="226.5" cy="60.8" r="0.55" fill="#1a678f"/>
<circle cx="222.2" cy="57.0" r="0.55" fill="#436caf"/>
<circle cx="229.5" cy="57.2" r="0.55" fill="#10378b"/>
<circle cx="217.3" cy="59.8" r="0.55" fill="#413b89"/>
<circle cx="227.4" cy="61.0" r="0.55" fill="#486d88"/>
<circle cx="220.8" cy="56.9" r="0.55" fill="#164d96"/>
<circle cx="222.5" cy="61.6" r="0.55" fill="#1f60ac"/>
<circle cx="223.0" cy="54.8" r="0.55" fill="#085f9a"/>
<circle cx="224.8" cy="63.1" r="0.55" fill="#4960b7"/>
<circle cx="229.5" cy="60.1" r="0.55" fill="#3773ba"/>
<circle cx="232.0" cy="59.3" r="0.55" fill="#2777c7"/>
<circle cx="223.5" cy="56.6" r="0.55" fill="#343fa2"/>
<circle cx="226.4" cy="61.3" r="0.55" fill="#0a5c8b"/>
<circle cx="223.8" cy="66.5" r="0.55" fill="#1b5fc1"/>
<circle cx="217.4" cy="52.1" r="0.55" fill="#484892"/>
<circle cx="218.5" cy="67.9" r="0.55" fill="#0d46c1"/>
<circle cx="231.4" cy="64.1" r="0.55" fill="#166c8d"/>
<circle cx="217.0" cy="58.5" r="0.55" fill="#2e7387"/>
<circle cx="221.0" cy="49.8" r="0.55" fill="#2b47bc"/>
<circle cx="220.0" cy="60.0" r="0.55" fill="#3d6cbe"/>
<circle cx="222.6" cy="58.5" r="0.55" fill="#085d87"/>
<circle cx="221.6" cy="56.8" r="0.55" fill="#3d38b5"/>
<circle cx="217.5" cy="59.4" r="0.55" fill="#424ac9"/>
<circle cx="223.1" cy="59.7" r="0.55" fill="#1a50ae"/>
<circle cx="233.4" cy="62.6" r="0.55" fill="#3d6bca"/>
<circle cx="230.7" cy="60.8" r="0.55" fill="#4243a1"/>
<circle cx="227.0" cy="68.5" r="0.55" fill="#277196"/>
<circle cx="216.9" cy="54.0" r="0.55" fill="#1e498a"/>
<circle cx="219.9" cy="55.1" r="0.55" fill="#154d9b"/>
<circle cx="228.2" cy="62.9" r="0.55" fill="#11469e"/>
<circle cx="231.3" cy="58.0" r="0.55" fill="#1572c6"/>
<circle cx="219.2" cy="65.7" r="0.55" fill="#335dc4"/>
<circle cx="220.0" cy="52.7" r="0.55" fill="#48568c"/>
<circle cx="231.5" cy="58.8" r="0.55" fill="#2774c9"/>
<circle cx="223.4" cy="61.6" r="0.55" fill="#2f388c"/>
<circle cx="227.3" cy="60.2" r="0.55" fill="#2544b5"/>
<circle cx="224.0" cy="49.8" r="0.55" fill="#2d6bbc"/>
<circle cx="222.9" cy="54.5" r="0.55" fill="#2f7096"/>
<circle cx="223.0" cy="59.0" r="0.55" fill="#313fa4"/>
<circle cx="224.4" cy="60.6" r="0.55" fill="#454ec8"/>
<circle cx="223.0" cy="52.4" r="0.55" fill="#2864bd"/>
<circle cx="225.8" cy="63.8" r="0.55" fill="#194494"/>
<circle cx="220.7" cy="59.7" r="0.55" fill="#134c9f"/>
<circle cx="228.1" cy="54.8" r="0.55" fill="#296291"/>
<circle cx="219.8" cy="62.1" r="0.55" fill="#0b4cad"/>
<circle cx="220.4" cy="56.3" r="0.55" fill="#0c5e8f"/>
<circle cx="219.9" cy="65.7" r="0.55" fill="#426287"/>
<circle cx="222.8" cy="62.9" r="0.55" fill="#255f91"/>
<circle cx="223.7" cy="59.5" r="0.55" fill="#233f95"/>
<circle cx="233.1" cy="59.5" r="0.55" fill="#165aad"/>
<circle cx="229.3" cy="42.5" r="0.75" fill="#e10629"/>
<circle cx="224.6" cy="37.7" r="0.75" fill="#ca142b"/>
<circle cx="220.3" cy="43.4" r="0.75" fill="#de201f"/>
<circle cx="226.5" cy="43.0" r="0.75" fill="#c7170c"/>
<circle cx="224.6" cy="43.1" r="0.75" fill="#d30533"/>
<circle cx="228.2" cy="42.6" r="0.75" fill="#de241d"/>
<circle cx="231.6" cy="39.3" r="0.75" fill="#d50b13"/>
<circle cx="224.9" cy="40.5" r="0.75" fill="#d90613"/>
<circle cx="222.8" cy="39.5" r="0.75" fill="#bb0231"/>
<circle cx="220.9" cy="44.9" r="0.75" fill="#d7001b"/>
<circle cx="223.3" cy="40.2" r="0.75" fill="#bf2c1a"/>
<circle cx="223.4" cy="38.8" r="0.75" fill="#ea060b"/>
<circle cx="222.3" cy="37.8" r="0.75" fill="#e20012"/>
<circle cx="222.7" cy="41.9" r="0.75" fill="#bf020c"/>
<circle cx="223.7" cy="42.2" r="0.75" fill="#ba002d"/>
<circle cx="223.5" cy="39.3" r="0.75" fill="#e1001e"/>
<circle cx="226.3" cy="41.1" r="0.75" fill="#c0121b"/>
<circle cx="231.0" cy="43.9" r="0.75" fill="#e0181e"/>
<circle cx="221.7" cy="40.3" r="0.75" fill="#d50b32"/>
<circle cx="222.9" cy="41.2" r="0.75" fill="#d62122"/>
<circle cx="223.4" cy="44.9" r="0.75" fill="#db0436"/>
<circle cx="222.4" cy="43.2" r="0.75" fill="#d22012"/>
<circle cx="226.8" cy="44.7" r="0.75" fill="#b91010"/>
<circle cx="226.3" cy="44.2" r="0.75" fill="#e51918"/>
<circle cx="222.7" cy="38.8" r="0.75" fill="#b9102d"/>
<circle cx="229.2" cy="41.9" r="0.75" fill="#cc1132"/>
<circle cx="221.5" cy="42.9" r="0.75" fill="#de2627"/>
<circle cx="223.8" cy="41.3" r="0.75" fill="#cb0430"/>
<circle cx="224.5" cy="40.1" r="0.75" fill="#d52634"/>
<circle cx="223.1" cy="43.5" r="0.75" fill="#d30f3a"/>
<circle cx="229.5" cy="36.4" r="0.75" fill="#ea0039"/>
<circle cx="223.6" cy="43.3" r="0.75" fill="#d70e14"/>
<circle cx="227.4" cy="41.2" r="0.75" fill="#bd0e33"/>
<circle cx="226.5" cy="38.4" r="0.75" fill="#cd0131"/>
<circle cx="225.4" cy="39.4" r="0.75" fill="#da271b"/>
<circle cx="225.9" cy="46.4" r="0.75" fill="#d80e0a"/>
<circle cx="223.0" cy="45.7" r="0.75" fill="#c21330"/>
<circle cx="224.3" cy="42.8" r="0.75" fill="#da1d28"/>
<circle cx="228.0" cy="39.9" r="0.75" fill="#d21134"/>
<circle cx="224.1" cy="43.5" r="0.75" fill="#cb242f"/>
<circle cx="227.6" cy="46.6" r="0.75" fill="#ea0b31"/>
<circle cx="223.7" cy="37.6" r="0.75" fill="#c40035"/>
<circle cx="222.3" cy="46.4" r="0.75" fill="#e3252e"/>
<circle cx="224.4" cy="36.0" r="0.75" fill="#e82835"/>
<circle cx="222.1" cy="47.6" r="0.75" fill="#bd0435"/>
<circle cx="224.7" cy="42.5" r="0.75" fill="#c02732"/>
<circle cx="221.0" cy="43.4" r="0.75" fill="#ba2918"/>
<circle cx="226.5" cy="44.8" r="0.75" fill="#d0132d"/>
<circle cx="227.7" cy="46.4" r="0.75" fill="#c90e36"/>
<circle cx="224.9" cy="36.7" r="0.75" fill="#e0101b"/>
<circle cx="219.0" cy="40.7" r="0.75" fill="#c11e21"/>
<circle cx="230.2" cy="39.9" r="0.75" fill="#e70f21"/>
<circle cx="225.3" cy="43.5" r="0.75" fill="#c80529"/>
<circle cx="220.4" cy="39.4" r="0.75" fill="#de2b24"/>
<circle cx="222.3" cy="39.1" r="0.75" fill="#d00c19"/>
<circle cx="223.4" cy="44.6" r="0.75" fill="#cf162b"/>
<circle cx="229.7" cy="41.2" r="0.75" fill="#ea0a28"/>
<circle cx="222.2" cy="39.9" r="0.75" fill="#cf063b"/>
<circle cx="230.6" cy="44.0" r="0.75" fill="#d00c19"/>
<circle cx="228.1" cy="40.6" r="0.75" fill="#d50f2b"/>
<circle cx="221.5" cy="40.2" r="0.75" fill="#be002a"/>
<circle cx="229.3" cy="41.5" r="0.75" fill="#c6201a"/>
<circle cx="227.2" cy="42.0" r="0.75" fill="#c91b2d"/>
<circle cx="229.4" cy="35.0" r="0.75" fill="#d4002b"/>
<circle cx="222.6" cy="44.7" r="0.75" fill="#c10e16"/>
<circle cx="221.8" cy="34.9" r="0.75" fill="#cb1429"/>
<circle cx="225.6" cy="38.7" r="0.75" fill="#c61b19"/>
<circle cx="220.7" cy="41.6" r="0.75" fill="#d42b1b"/>
<circle cx="226.0" cy="44.5" r="0.75" fill="#e5250c"/>
<circle cx="226.4" cy="43.5" r="0.75" fill="#df1d12"/>
<circle cx="226.9" cy="35.7" r="0.75" fill="#e10c32"/>
<circle cx="227.4" cy="43.8" r="0.75" fill="#c82430"/>
<circle cx="221.3" cy="40.8" r="0.75" fill="#c7180c"/>
<circle cx="221.8" cy="42.4" r="0.75" fill="#d60d38"/>
<circle cx="226.2" cy="44.9" r="0.75" fill="#db2019"/>
<circle cx="228.9" cy="44.7" r="0.75" fill="#bf240a"/>
<circle cx="229.7" cy="37.7" r="0.75" fill="#d22730"/>
<circle cx="224.1" cy="39.4" r="0.75" fill="#bd000e"/>
<circle cx="223.0" cy="37.3" r="0.75" fill="#e80e1c"/>
<circle cx="229.0" cy="37.4" r="0.75" fill="#e90039"/>
<circle cx="220.3" cy="44.3" r="0.75" fill="#c3162f"/>
<circle cx="224.3" cy="37.0" r="0.75" fill="#bd280c"/>
<circle cx="227.1" cy="38.0" r="0.75" fill="#d80631"/>
<circle cx="225.5" cy="39.2" r="0.75" fill="#e70f35"/>
<circle cx="225.7" cy="44.4" r="0.75" fill="#c30011"/>
<circle cx="227.6" cy="44.5" r="0.75" fill="#d10037"/>
<circle cx="222.7" cy="38.8" r="0.75" fill="#c60f37"/>
<circle cx="221.8" cy="43.1" r="0.75" fill="#e70e34"/>
<circle cx="230.0" cy="43.5" r="0.75" fill="#bf080e"/>
<circle cx="230.4" cy="37.2" r="0.75" fill="#e0130f"/>
<circle cx="218.3" cy="40.7" r="0.75" fill="#dd003b"/>
<circle cx="229.5" cy="40.2" r="0.75" fill="#ba1e29"/>
<circle cx="228.9" cy="41.6" r="0.75" fill="#b9002b"/>
<circle cx="225.6" cy="38.9" r="0.75" fill="#c00815"/>
<circle cx="222.8" cy="40.7" r="0.75" fill="#e60015"/>
<circle cx="222.7" cy="39.2" r="0.75" fill="#bd0e18"/>
<circle cx="226.0" cy="39.4" r="0.75" fill="#d81c1e"/>
<circle cx="229.2" cy="42.5" r="0.75" fill="#be0738"/>
<circle cx="225.8" cy="42.1" r="0.75" fill="#ba2436"/>
<circle cx="224.9" cy="44.2" r="0.75" fill="#ca1a19"/>
<circle cx="220.6" cy="42.4" r="0.75" fill="#c6012a"/>
<circle cx="225.1" cy="41.3" r="0.75" fill="#ce2527"/>
<circle cx="226.3" cy="44.4" r="0.75" fill="#c02727"/>
<circle cx="228.7" cy="38.4" r="0.75" fill="#c91e17"/>
<circle cx="220.7" cy="41.4" r="0.75" fill="#df072f"/>
<circle cx="220.8" cy="40.4" r="0.75" fill="#bd150e"/>
<circle cx="221.3" cy="37.6" r="0.75" fill="#cc1029"/>
<circle cx="228.1" cy="37.7" r="0.75" fill="#ca002b"/>
<circle cx="226.1" cy="46.1" r="0.75" fill="#d9260c"/>
<circle cx="222.3" cy="41.8" r="0.75" fill="#ca0733"/>
<circle cx="221.3" cy="42.5" r="0.75" fill="#be1629"/>
<circle cx="227.4" cy="43.4" r="0.75" fill="#c6160d"/>
<circle cx="228.6" cy="41.2" r="0.75" fill="#e7002f"/>
<circle cx="228.2" cy="39.6" r="0.75" fill="#cb1a19"/>
<circle cx="222.9" cy="38.7" r="0.75" fill="#cf222e"/>
<circle cx="224.7" cy="44.0" r="0.75" fill="#cd001e"/>
<circle cx="229.0" cy="44.4" r="0.75" fill="#c90b14"/>
<circle cx="225.3" cy="43.7" r="0.75" fill="#e51125"/>
<circle cx="223.7" cy="40.4" r="0.75" fill="#db003b"/>
<circle cx="225.2" cy="39.4" r="0.75" fill="#ce2830"/>
<circle cx="226.3" cy="37.6" r="0.75" fill="#c21b26"/>
<circle cx="226.0" cy="42.3" r="0.75" fill="#d3281a"/>
<circle cx="224.3" cy="40.4" r="0.75" fill="#e42719"/>
<circle cx="224.2" cy="36.7" r="0.75" fill="#ce270c"/>
<circle cx="224.9" cy="43.0" r="0.75" fill="#e21f15"/>
<circle cx="223.2" cy="38.5" r="0.75" fill="#d50f26"/>
<circle cx="222.6" cy="40.5" r="0.75" fill="#cb0329"/>
<circle cx="226.3" cy="39.5" r="0.75" fill="#d60e13"/>
<circle cx="226.1" cy="41.8" r="0.75" fill="#de0118"/>
<circle cx="223.1" cy="41.4" r="0.75" fill="#d61215"/>
<circle cx="223.3" cy="37.6" r="0.75" fill="#e80b30"/>
<circle cx="222.2" cy="38.8" r="0.75" fill="#ba0a1f"/>
<circle cx="226.7" cy="41.9" r="0.75" fill="#e20026"/>
<circle cx="225.6" cy="45.2" r="0.75" fill="#cc0820"/>
<circle cx="223.6" cy="41.9" r="0.75" fill="#de032f"/>
<circle cx="219.9" cy="40.9" r="0.75" fill="#e02328"/>
<circle cx="229.6" cy="38.4" r="0.75" fill="#cc0d33"/>
<circle cx="228.2" cy="40.2" r="0.75" fill="#e7222c"/>
<circle cx="223.9" cy="43.5" r="0.75" fill="#c71d21"/>
<circle cx="225.6" cy="43.2" r="0.75" fill="#e10412"/>
<circle cx="224.2" cy="41.3" r="0.75" fill="#cd0534"/>
<circle cx="221.7" cy="40.3" r="0.75" fill="#d00034"/>
<circle cx="225.7" cy="41.4" r="0.75" fill="#d52234"/>
<circle cx="232.2" cy="39.8" r="0.75" fill="#e5023b"/>
<circle cx="230.0" cy="41.1" r="0.75" fill="#e4081f"/>
<circle cx="228.2" cy="43.6" r="0.75" fill="#ea1e20"/>
<circle cx="224.4" cy="43.4" r="0.75" fill="#ce0922"/>
<circle cx="222.3" cy="40.2" r="0.75" fill="#d60f22"/>
<circle cx="219.0" cy="42.0" r="0.75" fill="#e5182f"/>
<circle cx="224.7" cy="43.2" r="0.75" fill="#c80130"/>
<circle cx="229.4" cy="39.3" r="0.75" fill="#c30130"/>
<circle cx="223.6" cy="40.7" r="0.75" fill="#ea203a"/>
<circle cx="231.0" cy="41.0" r="0.75" fill="#e72a11"/>
<circle cx="223.0" cy="44.6" r="0.75" fill="#d80217"/>
<circle cx="230.3" cy="36.9" r="0.75" fill="#c20e2b"/>
<circle cx="227.7" cy="36.3" r="0.75" fill="#bf1c0b"/>
<circle cx="224.9" cy="42.4" r="0.75" fill="#d2012a"/>
<circle cx="220.3" cy="44.5" r="0.75" fill="#c92c0f"/>
<circle cx="228.7" cy="43.2" r="0.75" fill="#d2250b"/>
<circle cx="226.3" cy="43.5" r="0.75" fill="#ce242b"/>
<circle cx="225.6" cy="44.5" r="0.75" fill="#df160f"/>
<circle cx="224.8" cy="42.0" r="0.75" fill="#cf0619"/>
<circle cx="221.8" cy="46.6" r="0.75" fill="#bd0010"/>
<circle cx="222.1" cy="42.9" r="0.75" fill="#e71f17"/>
<circle cx="228.1" cy="44.3" r="0.75" fill="#e20630"/>
<circle cx="219.9" cy="47.2" r="0.75" fill="#e80332"/>
<circle cx="222.5" cy="39.9" r="0.75" fill="#d22822"/>
<circle cx="221.8" cy="40.1" r="0.75" fill="#ba200f"/>
<circle cx="225.6" cy="41.3" r="0.75" fill="#d5072c"/>
<circle cx="221.4" cy="38.0" r="0.75" fill="#e12c0f"/>
<circle cx="225.8" cy="44.9" r="0.75" fill="#e70e14"/>
<circle cx="222.5" cy="41.1" r="0.75" fill="#bc2320"/>
<circle cx="226.2" cy="40.3" r="0.75" fill="#c90034"/>
<circle cx="221.0" cy="42.8" r="0.75" fill="#bb111d"/>
<circle cx="224.6" cy="39.4" r="0.75" fill="#ea0b23"/>
<circle cx="222.3" cy="42.0" r="0.75" fill="#bb0037"/>
<circle cx="229.8" cy="41.0" r="0.75" fill="#bf0419"/>
<circle cx="228.3" cy="42.1" r="0.75" fill="#c70b33"/>
<circle cx="224.9" cy="42.6" r="0.75" fill="#df1f32"/>
<circle cx="221.1" cy="45.5" r="0.75" fill="#bd1f2c"/>
<circle cx="221.1" cy="39.8" r="0.75" fill="#d01021"/>
<circle cx="220.3" cy="37.9" r="0.75" fill="#c9161d"/>
<circle cx="227.7" cy="45.6" r="0.75" fill="#b9260c"/>
<circle cx="228.0" cy="45.8" r="0.75" fill="#ce0922"/>
<circle cx="229.6" cy="39.7" r="0.75" fill="#cb2a16"/>
<circle cx="229.7" cy="44.2" r="0.75" fill="#e1221d"/>
<circle cx="224.4" cy="39.6" r="0.75" fill="#c62a34"/>
<circle cx="229.2" cy="40.2" r="0.75" fill="#dc0d1d"/>
<circle cx="230.2" cy="39.3" r="0.75" fill="#e7021e"/>
<circle cx="231.9" cy="38.1" r="0.75" fill="#e12717"/>
<circle cx="225.0" cy="40.1" r="0.75" fill="#cf001f"/>
<circle cx="226.5" cy="44.4" r="0.75" fill="#da1c36"/>
<circle cx="227.9" cy="40.5" r="0.75" fill="#c90f16"/>
<circle cx="228.5" cy="37.1" r="0.75" fill="#da1b18"/>
<circle cx="224.3" cy="46.5" r="0.75" fill="#bd2c11"/>
<circle cx="226.7" cy="46.4" r="0.75" fill="#e60238"/>
<circle cx="223.6" cy="41.4" r="0.75" fill="#d4062a"/>
<circle cx="221.0" cy="37.4" r="0.75" fill="#e7262b"/>
<circle cx="224.4" cy="35.5" r="0.75" fill="#e21339"/>
<circle cx="227.4" cy="41.0" r="0.75" fill="#c31925"/>
<circle cx="221.9" cy="43.1" r="0.75" fill="#c30f27"/>
<circle cx="225.4" cy="36.8" r="0.75" fill="#be0522"/>
<circle cx="225.7" cy="39.1" r="0.75" fill="#dd0619"/>
<circle cx="226.6" cy="39.9" r="0.75" fill="#e3160b"/>
<circle cx="221.3" cy="42.2" r="0.75" fill="#bf0d22"/>
<circle cx="220.0" cy="45.7" r="0.75" fill="#c72011"/>
<circle cx="220.6" cy="39.0" r="0.75" fill="#e2002f"/>
<circle cx="230.2" cy="47.9" r="0.75" fill="#c82512"/>
<circle cx="229.4" cy="41.2" r="0.75" fill="#c42831"/>
<circle cx="224.7" cy="38.4" r="0.75" fill="#c41a34"/>
<circle cx="224.9" cy="36.8" r="0.75" fill="#bc1218"/>
<circle cx="220.5" cy="40.6" r="0.75" fill="#d60019"/>
<circle cx="224.5" cy="44.6" r="0.75" fill="#c70415"/>
<circle cx="218.5" cy="41.9" r="0.75" fill="#c32b2b"/>
<circle cx="230.8" cy="37.7" r="0.75" fill="#de2813"/>
<circle cx="223.2" cy="39.4" r="0.75" fill="#c1082a"/>
<circle cx="226.3" cy="42.5" r="0.75" fill="#e3230b"/>
<circle cx="225.4" cy="41.7" r="0.75" fill="#d32c11"/>
<circle cx="222.2" cy="40.0" r="0.75" fill="#dd182e"/>
<circle cx="232.5" cy="46.6" r="0.75" fill="#e0000a"/>
<circle cx="227.5" cy="36.7" r="0.75" fill="#cc2929"/>
<circle cx="224.3" cy="41.4" r="0.75" fill="#d10d1f"/>
<circle cx="221.7" cy="46.3" r="0.75" fill="#cb0016"/>
<circle cx="227.4" cy="38.4" r="0.75" fill="#ca263b"/>
<circle cx="223.7" cy="42.3" r="0.75" fill="#c90035"/>
<circle cx="224.6" cy="38.9" r="0.75" fill="#d9253b"/>
<circle cx="227.0" cy="44.5" r="0.75" fill="#d91124"/>
<circle cx="222.0" cy="42.3" r="0.75" fill="#d50e18"/>
<circle cx="220.3" cy="44.1" r="0.75" fill="#c01215"/>
<circle cx="225.7" cy="41.3" r="0.75" fill="#ca2b2d"/>
<circle cx="225.8" cy="46.4" r="0.75" fill="#d2000f"/>
<circle cx="227.9" cy="42.2" r="0.75" fill="#cd2b36"/>
<circle cx="220.6" cy="40.1" r="0.75" fill="#d8231c"/>
<circle cx="223.9" cy="39.8" r="0.75" fill="#c4081e"/>
<circle cx="224.0" cy="45.4" r="0.75" fill="#bb0a28"/>
<circle cx="226.9" cy="36.4" r="0.75" fill="#ce1a0b"/>
<circle cx="229.6" cy="39.5" r="0.75" fill="#e0001e"/>
<circle cx="223.4" cy="47.0" r="0.75" fill="#df023a"/>
<circle cx="225.8" cy="43.0" r="0.75" fill="#d51039"/>
<circle cx="232.2" cy="43.4" r="0.75" fill="#dc0a11"/>
<circle cx="225.1" cy="40.8" r="0.75" fill="#c7001b"/>
<circle cx="231.7" cy="41.3" r="0.75" fill="#d41b29"/>
<circle cx="226.7" cy="36.0" r="0.75" fill="#e92a1b"/>
<circle cx="227.7" cy="40.8" r="0.75" fill="#be1b0c"/>
<circle cx="231.8" cy="35.7" r="0.75" fill="#e10724"/>
<circle cx="228.7" cy="42.6" r="0.75" fill="#e20411"/>
<circle cx="223.4" cy="43.7" r="0.75" fill="#c90b0d"/>
<circle cx="222.9" cy="38.8" r="0.75" fill="#d70b37"/>
<circle cx="225.9" cy="37.7" r="0.75" fill="#cc251f"/>
<circle cx="221.6" cy="43.4" r="0.75" fill="#bb130e"/>
<circle cx="230.4" cy="38.9" r="0.75" fill="#bf052b"/>
<circle cx="222.1" cy="40.7" r="0.75" fill="#cd061e"/>
<circle cx="226.5" cy="41.9" r="0.75" fill="#c40015"/>
<circle cx="226.3" cy="44.2" r="0.75" fill="#d62c2d"/>
<circle cx="227.1" cy="38.0" r="0.75" fill="#df1a0a"/>
<circle cx="224.1" cy="42.7" r="0.75" fill="#db0d1f"/>
<circle cx="230.2" cy="48.1" r="0.75" fill="#c6011c"/>
<circle cx="224.4" cy="43.3" r="0.75" fill="#db100a"/>
<circle cx="226.9" cy="41.0" r="0.75" fill="#e42c25"/>
<circle cx="225.3" cy="41.2" r="0.75" fill="#c3222c"/>
<circle cx="227.2" cy="43.1" r="0.75" fill="#bc222a"/>
<circle cx="222.8" cy="44.6" r="0.75" fill="#d20824"/>
<circle cx="230.5" cy="41.7" r="0.75" fill="#e8031f"/>
<circle cx="221.1" cy="39.0" r="0.75" fill="#df0b2f"/>
<circle cx="221.7" cy="45.5" r="0.75" fill="#d21736"/>
<circle cx="227.0" cy="44.7" r="0.75" fill="#ca0030"/>
<circle cx="226.0" cy="43.2" r="0.75" fill="#bf212d"/>
<circle cx="223.5" cy="44.6" r="0.75" fill="#ca130b"/>
<circle cx="223.1" cy="45.7" r="0.75" fill="#d71229"/>
<circle cx="223.9" cy="37.8" r="0.75" fill="#e00a15"/>
<circle cx="219.7" cy="42.8" r="0.75" fill="#d10021"/>
<circle cx="226.9" cy="40.4" r="0.75" fill="#d50925"/>
<circle cx="225.5" cy="38.8" r="0.75" fill="#c1113b"/>
<circle cx="228.1" cy="41.9" r="0.75" fill="#c31231"/>
<circle cx="221.2" cy="40.0" r="0.75" fill="#c4152f"/>
<circle cx="225.0" cy="42.0" r="0.75" fill="#e9143a"/>
<circle cx="223.0" cy="39.7" r="0.75" fill="#c12930"/>
<circle cx="224.7" cy="41.2" r="0.75" fill="#c8100e"/>
<circle cx="221.6" cy="42.1" r="0.75" fill="#c31539"/>
<circle cx="229.6" cy="37.5" r="0.75" fill="#c80621"/>
<circle cx="227.4" cy="40.7" r="0.75" fill="#bc250a"/>
<circle cx="224.9" cy="41.3" r="0.75" fill="#c8202b"/>
<circle cx="228.5" cy="43.2" r="0.75" fill="#d10310"/>
<circle cx="224.0" cy="44.3" r="0.75" fill="#e80b36"/>
<circle cx="229.0" cy="41.9" r="0.75" fill="#c00018"/>
<circle cx="223.8" cy="37.6" r="0.75" fill="#c71f2d"/>
<circle cx="228.6" cy="38.1" r="0.75" fill="#bd2239"/>
<circle cx="228.8" cy="38.4" r="0.75" fill="#bf2622"/>
<circle cx="225.5" cy="42.1" r="0.75" fill="#e7270e"/>
<circle cx="219.0" cy="43.1" r="0.75" fill="#d7153b"/>
<circle cx="228.4" cy="42.0" r="0.75" fill="#c02b27"/>
<circle cx="224.8" cy="47.5" r="0.75" fill="#e61339"/>
<circle cx="226.4" cy="46.0" r="0.75" fill="#ea062d"/>
<circle cx="228.4" cy="36.2" r="0.75" fill="#c60e0f"/>
<circle cx="218.7" cy="41.3" r="0.75" fill="#c72717"/>
<circle cx="220.5" cy="42.3" r="0.75" fill="#e12a1b"/>
<circle cx="221.0" cy="44.7" r="0.75" fill="#e02217"/>
<circle cx="229.0" cy="37.6" r="0.75" fill="#d60b2e"/>
<circle cx="230.2" cy="43.6" r="0.75" fill="#cd2127"/>
<circle cx="223.5" cy="43.5" r="0.75" fill="#d20116"/>
<circle cx="223.9" cy="40.0" r="0.75" fill="#e6151a"/>
<circle cx="226.5" cy="43.7" r="0.75" fill="#cc0119"/>
<circle cx="232.2" cy="37.7" r="0.75" fill="#dc2b2a"/>
<circle cx="223.6" cy="42.5" r="0.75" fill="#d92b38"/>
<circle cx="228.8" cy="41.0" r="0.75" fill="#db2c2e"/>
<circle cx="229.4" cy="36.7" r="0.75" fill="#d4261b"/>
<circle cx="226.9" cy="38.7" r="0.75" fill="#c32431"/>
<circle cx="222.9" cy="38.9" r="0.75" fill="#c6252b"/>
<circle cx="222.3" cy="36.6" r="0.75" fill="#ba2234"/>
<circle cx="226.0" cy="42.2" r="0.75" fill="#e40824"/>
<circle cx="227.3" cy="40.7" r="0.75" fill="#d10035"/>
<circle cx="227.6" cy="39.0" r="0.75" fill="#e00232"/>
<circle cx="227.2" cy="37.0" r="0.75" fill="#ba092b"/>
<circle cx="227.2" cy="38.5" r="0.75" fill="#db1127"/>
<circle cx="224.8" cy="43.5" r="0.75" fill="#e4161a"/>
<circle cx="224.5" cy="44.1" r="0.75" fill="#d20220"/>
<circle cx="223.4" cy="43.9" r="0.75" fill="#cb0036"/>
<circle cx="223.5" cy="46.2" r="0.75" fill="#e80e1b"/>
<circle cx="221.8" cy="35.1" r="0.75" fill="#d31b0f"/>
<circle cx="223.9" cy="44.6" r="0.75" fill="#d90e2e"/>
<circle cx="226.6" cy="39.6" r="0.75" fill="#d3001a"/>
<circle cx="219.8" cy="38.8" r="0.75" fill="#c2232b"/>
<circle cx="225.8" cy="40.5" r="0.75" fill="#d20230"/>
<circle cx="224.3" cy="39.5" r="0.75" fill="#ea271d"/>
<circle cx="226.5" cy="46.6" r="0.75" fill="#c92617"/>
<circle cx="227.2" cy="39.3" r="0.75" fill="#d60a29"/>
<circle cx="228.2" cy="42.5" r="0.75" fill="#ca1832"/>
<circle cx="228.3" cy="45.5" r="0.75" fill="#cc051a"/>
<circle cx="222.6" cy="44.0" r="0.75" fill="#d12231"/>
<circle cx="220.7" cy="44.5" r="0.75" fill="#d60033"/>
<circle cx="228.8" cy="38.7" r="0.75" fill="#d2283b"/>
<circle cx="224.3" cy="41.0" r="0.75" fill="#d20521"/>
<circle cx="223.4" cy="40.2" r="0.75" fill="#bc132c"/>
<circle cx="219.3" cy="40.7" r="0.75" fill="#ea2b1a"/>
<circle cx="221.2" cy="42.7" r="0.75" fill="#c32930"/>
<circle cx="228.5" cy="40.8" r="0.75" fill="#d2150f"/>
<circle cx="225.1" cy="45.9" r="0.75" fill="#e7001a"/>
<circle cx="221.9" cy="41.3" r="0.75" fill="#c60319"/>
<circle cx="227.8" cy="42.4" r="0.75" fill="#bc262a"/>
<circle cx="222.4" cy="41.6" r="0.75" fill="#da0c33"/>
<rect x="17.50" y="31.40" width="42.90" height="42.70" fill="none" stroke="#8a8a8a" stroke-width="0.90"/>
<rect x="78.70" y="31.40" width="43.20" height="42.70" fill="none" stroke="#8a8a8a" stroke-width="0.90"/>
<rect x="143.70" y="31.40" width="42.90" height="42.70" fill="none" stroke="#8a8a8a" stroke-width="0.90"/>
<rect x="204.80" y="30.80" width="43.30" height="42.90" fill="none" stroke="#8a8a8a" stroke-width="0.90"/>
<rect x="270.20" y="30.60" width="7.00" height="4.40" fill="#24589c"/>
<text x="279.80" y="35.10" font-size="6.50" fill="#333" textLength="36.30" lengthAdjust="spacingAndGlyphs">metacluster 1</text>
<rect x="270.20" y="37.30" width="7.00" height="4.40" fill="#cc1425"/>
<text x="279.80" y="41.80" font-size="6.50" fill="#333" textLength="36.30" lengthAdjust="spacingAndGlyphs">metacluster 2</text>
<rect x="270.20" y="44.00" width="7.00" height="4.40" fill="#8a2c94"/>
<text x="279.80" y="48.50" font-size="6.50" fill="#333" textLength="36.30" lengthAdjust="spacingAndGlyphs">metacluster 3</text>
<rect x="270.20" y="50.70" width="7.00" height="4.40" fill="#1e8a3a"/>
<text x="279.80" y="55.20" font-size="6.50" fill="#333" textLength="36.30" lengthAdjust="spacingAndGlyphs">metacluster 4</text>
<text x="278.70" y="70.00" font-size="6.30" fill="#333" textLength="33.50" lengthAdjust="spacingAndGlyphs">Protein expr.</text>
<defs><linearGradient id="jetg" x1="0" x2="1" y1="0" y2="0"><stop offset="0.00" stop-color="#1e197d"/><stop offset="0.10" stop-color="#232da1"/><stop offset="0.20" stop-color="#2c4dbc"/><stop offset="0.30" stop-color="#3979ce"/><stop offset="0.40" stop-color="#4cb2ca"/><stop offset="0.50" stop-color="#88ce80"/><stop offset="0.60" stop-color="#dade3e"/><stop offset="0.70" stop-color="#f1b22b"/><stop offset="0.80" stop-color="#ea6c23"/><stop offset="0.90" stop-color="#c7281b"/><stop offset="1.00" stop-color="#820a14"/></linearGradient><linearGradient id="jetv" x1="0" x2="0" y1="1" y2="0"><stop offset="0.00" stop-color="#1e197d"/><stop offset="0.10" stop-color="#232da1"/><stop offset="0.20" stop-color="#2c4dbc"/><stop offset="0.30" stop-color="#3979ce"/><stop offset="0.40" stop-color="#4cb2ca"/><stop offset="0.50" stop-color="#88ce80"/><stop offset="0.60" stop-color="#dade3e"/><stop offset="0.70" stop-color="#f1b22b"/><stop offset="0.80" stop-color="#ea6c23"/><stop offset="0.90" stop-color="#c7281b"/><stop offset="1.00" stop-color="#820a14"/></linearGradient></defs>
<rect x="275.00" y="72.30" width="39.20" height="4.00" fill="url(#jetg)"/>
<text x="270.30" y="82.00" font-size="6.50" fill="#333" textLength="11.00" lengthAdjust="spacingAndGlyphs">Low</text>
<text x="305.80" y="82.30" font-size="6.50" fill="#333" textLength="12.30" lengthAdjust="spacingAndGlyphs">High</text>
<line x1="11.80" y1="65.40" x2="11.80" y2="79.70" stroke="#111" stroke-width="1.00"/>
<line x1="11.30" y1="79.70" x2="26.00" y2="79.70" stroke="#111" stroke-width="1.00"/>
<path d="M11.80 62.90 L10.40 66.50 L13.20 66.50 Z" fill="#111"/>
<path d="M28.80 79.70 L25.00 78.30 L25.00 81.10 Z" fill="#111"/>
<text x="32.10" y="82.10" font-size="7.60" fill="#1a1a1a" textLength="14.90" lengthAdjust="spacingAndGlyphs" font-weight="bold">tSNE1</text>
<text x="14.60" y="58.60" font-size="7.60" fill="#1a1a1a" textLength="15.40" lengthAdjust="spacingAndGlyphs" font-weight="bold" transform="rotate(-90.0 14.60 58.60)">tSNE2</text>
<line x1="11.80" y1="130.90" x2="11.80" y2="145.20" stroke="#111" stroke-width="1.00"/>
<line x1="11.30" y1="145.20" x2="26.00" y2="145.20" stroke="#111" stroke-width="1.00"/>
<path d="M11.80 128.40 L10.40 132.00 L13.20 132.00 Z" fill="#111"/>
<path d="M28.80 145.20 L25.00 143.80 L25.00 146.60 Z" fill="#111"/>
<text x="32.10" y="147.60" font-size="7.60" fill="#1a1a1a" textLength="14.90" lengthAdjust="spacingAndGlyphs" font-weight="bold">tSNE1</text>
<text x="14.60" y="124.00" font-size="7.60" fill="#1a1a1a" textLength="14.90" lengthAdjust="spacingAndGlyphs" font-weight="bold" transform="rotate(-90.0 14.60 124.00)">tSNE2</text>
<text x="32.80" y="93.50" font-size="8.20" fill="#222" textLength="17.90" lengthAdjust="spacingAndGlyphs">PD-1</text>
<circle cx="36.2" cy="102.0" r="0.92" fill="#f1b22b"/>
<circle cx="36.8" cy="101.9" r="0.92" fill="#ea6c23"/>
<circle cx="38.4" cy="102.0" r="0.92" fill="#f1b22b"/>
<circle cx="39.3" cy="102.5" r="0.92" fill="#f1b22b"/>
<circle cx="41.2" cy="102.2" r="0.92" fill="#e0421f"/>
<circle cx="42.7" cy="102.7" r="0.92" fill="#c7281b"/>
<circle cx="43.6" cy="102.1" r="0.92" fill="#e0421f"/>
<circle cx="45.0" cy="102.6" r="0.92" fill="#c7281b"/>
<circle cx="33.9" cy="103.1" r="0.92" fill="#ea6c23"/>
<circle cx="34.8" cy="103.5" r="0.92" fill="#c7281b"/>
<circle cx="35.5" cy="103.6" r="0.92" fill="#c7281b"/>
<circle cx="37.2" cy="104.0" r="0.92" fill="#e0421f"/>
<circle cx="40.0" cy="103.5" r="0.92" fill="#ea6c23"/>
<circle cx="41.3" cy="103.6" r="0.92" fill="#dade3e"/>
<circle cx="42.4" cy="104.0" r="0.92" fill="#dade3e"/>
<circle cx="43.4" cy="103.1" r="0.92" fill="#ee7c25"/>
<circle cx="44.9" cy="103.8" r="0.92" fill="#f1b22b"/>
<circle cx="46.3" cy="103.4" r="0.92" fill="#e0421f"/>
<circle cx="46.7" cy="103.3" r="0.92" fill="#ee7c25"/>
<circle cx="31.2" cy="105.3" r="0.92" fill="#f1b22b"/>
<circle cx="31.7" cy="104.9" r="0.92" fill="#ea6c23"/>
<circle cx="33.0" cy="105.2" r="0.92" fill="#f1b22b"/>
<circle cx="34.8" cy="104.8" r="0.92" fill="#c7281b"/>
<circle cx="35.9" cy="104.5" r="0.92" fill="#f1b22b"/>
<circle cx="37.3" cy="105.1" r="0.92" fill="#ee7c25"/>
<circle cx="38.1" cy="104.5" r="0.92" fill="#ea6c23"/>
<circle cx="39.4" cy="104.7" r="0.92" fill="#f1b22b"/>
<circle cx="40.8" cy="104.6" r="0.92" fill="#dade3e"/>
<circle cx="42.6" cy="104.5" r="0.92" fill="#dade3e"/>
<circle cx="43.8" cy="104.9" r="0.92" fill="#ee7c25"/>
<circle cx="44.3" cy="104.6" r="0.92" fill="#dade3e"/>
<circle cx="46.0" cy="104.7" r="0.92" fill="#e0421f"/>
<circle cx="47.1" cy="105.1" r="0.92" fill="#ea6c23"/>
<circle cx="48.7" cy="105.3" r="0.92" fill="#dade3e"/>
<circle cx="29.5" cy="106.5" r="0.92" fill="#e0421f"/>
<circle cx="30.8" cy="106.0" r="0.92" fill="#ea6c23"/>
<circle cx="32.5" cy="105.7" r="0.92" fill="#ea6c23"/>
<circle cx="33.3" cy="105.9" r="0.92" fill="#f1b22b"/>
<circle cx="35.1" cy="105.8" r="0.92" fill="#ea6c23"/>
<circle cx="35.9" cy="106.2" r="0.92" fill="#ee7c25"/>
<circle cx="37.6" cy="106.3" r="0.92" fill="#f1b22b"/>
<circle cx="38.4" cy="105.7" r="0.92" fill="#ea6c23"/>
<circle cx="40.2" cy="106.0" r="0.92" fill="#dade3e"/>
<circle cx="40.8" cy="106.4" r="0.92" fill="#dade3e"/>
<circle cx="41.7" cy="106.2" r="0.92" fill="#f1b22b"/>
<circle cx="43.2" cy="106.1" r="0.92" fill="#c7281b"/>
<circle cx="44.7" cy="106.5" r="0.92" fill="#f1b22b"/>
<circle cx="46.1" cy="105.9" r="0.92" fill="#c7281b"/>
<circle cx="47.4" cy="106.6" r="0.92" fill="#ea6c23"/>
<circle cx="48.7" cy="106.4" r="0.92" fill="#f1b22b"/>
<circle cx="49.5" cy="106.0" r="0.92" fill="#e0421f"/>
<circle cx="26.9" cy="107.8" r="0.92" fill="#ea6c23"/>
<circle cx="28.6" cy="107.7" r="0.92" fill="#f1b22b"/>
<circle cx="30.2" cy="107.7" r="0.92" fill="#ea6c23"/>
<circle cx="30.5" cy="107.4" r="0.92" fill="#e0421f"/>
<circle cx="31.9" cy="107.2" r="0.92" fill="#dade3e"/>
<circle cx="33.5" cy="106.9" r="0.92" fill="#dade3e"/>
<circle cx="34.9" cy="107.6" r="0.92" fill="#ea6c23"/>
<circle cx="35.8" cy="107.6" r="0.92" fill="#ee7c25"/>
<circle cx="36.9" cy="107.7" r="0.92" fill="#f1b22b"/>
<circle cx="38.4" cy="107.4" r="0.92" fill="#dade3e"/>
<circle cx="39.4" cy="107.3" r="0.92" fill="#f1b22b"/>
<circle cx="42.1" cy="107.5" r="0.92" fill="#f1b22b"/>
<circle cx="43.7" cy="107.6" r="0.92" fill="#ea6c23"/>
<circle cx="44.2" cy="107.0" r="0.92" fill="#dade3e"/>
<circle cx="46.0" cy="107.7" r="0.92" fill="#e0421f"/>
<circle cx="47.2" cy="107.0" r="0.92" fill="#e0421f"/>
<circle cx="48.7" cy="107.0" r="0.92" fill="#dade3e"/>
<circle cx="50.0" cy="107.7" r="0.92" fill="#f1b22b"/>
<circle cx="50.5" cy="107.1" r="0.92" fill="#dade3e"/>
<circle cx="27.4" cy="108.7" r="0.92" fill="#e0421f"/>
<circle cx="28.7" cy="108.6" r="0.92" fill="#f1b22b"/>
<circle cx="29.7" cy="108.2" r="0.92" fill="#ee7c25"/>
<circle cx="31.2" cy="108.2" r="0.92" fill="#c7281b"/>
<circle cx="32.1" cy="108.6" r="0.92" fill="#dade3e"/>
<circle cx="33.7" cy="108.3" r="0.92" fill="#ee7c25"/>
<circle cx="34.5" cy="108.8" r="0.92" fill="#dade3e"/>
<circle cx="36.1" cy="108.8" r="0.92" fill="#f1b22b"/>
<circle cx="37.1" cy="108.4" r="0.92" fill="#ee7c25"/>
<circle cx="38.9" cy="108.6" r="0.92" fill="#dade3e"/>
<circle cx="39.5" cy="108.8" r="0.92" fill="#c7281b"/>
<circle cx="41.4" cy="108.4" r="0.92" fill="#ea6c23"/>
<circle cx="42.3" cy="108.3" r="0.92" fill="#f1b22b"/>
<circle cx="43.6" cy="108.6" r="0.92" fill="#c7281b"/>
<circle cx="44.3" cy="108.3" r="0.92" fill="#dade3e"/>
<circle cx="45.9" cy="108.5" r="0.92" fill="#ea6c23"/>
<circle cx="47.1" cy="108.8" r="0.92" fill="#c7281b"/>
<circle cx="48.9" cy="108.7" r="0.92" fill="#ea6c23"/>
<circle cx="49.6" cy="108.7" r="0.92" fill="#c7281b"/>
<circle cx="50.7" cy="108.7" r="0.92" fill="#f1b22b"/>
<circle cx="25.8" cy="109.8" r="0.92" fill="#ee7c25"/>
<circle cx="27.4" cy="110.2" r="0.92" fill="#e0421f"/>
<circle cx="28.2" cy="109.5" r="0.92" fill="#ee7c25"/>
<circle cx="29.4" cy="110.3" r="0.92" fill="#e0421f"/>
<circle cx="30.8" cy="109.7" r="0.92" fill="#f1b22b"/>
<circle cx="32.0" cy="110.1" r="0.92" fill="#ea6c23"/>
<circle cx="33.1" cy="110.0" r="0.92" fill="#f1b22b"/>
<circle cx="35.1" cy="110.1" r="0.92" fill="#ee7c25"/>
<circle cx="35.8" cy="109.6" r="0.92" fill="#e0421f"/>
<circle cx="37.6" cy="109.4" r="0.92" fill="#f1b22b"/>
<circle cx="38.8" cy="109.9" r="0.92" fill="#dade3e"/>
<circle cx="39.9" cy="109.5" r="0.92" fill="#ea6c23"/>
<circle cx="41.0" cy="109.8" r="0.92" fill="#f1b22b"/>
<circle cx="42.3" cy="109.7" r="0.92" fill="#dade3e"/>
<circle cx="43.1" cy="110.1" r="0.92" fill="#dade3e"/>
<circle cx="44.4" cy="110.1" r="0.92" fill="#e0421f"/>
<circle cx="46.4" cy="109.6" r="0.92" fill="#f1b22b"/>
<circle cx="47.1" cy="109.8" r="0.92" fill="#f1b22b"/>
<circle cx="48.3" cy="109.7" r="0.92" fill="#ea6c23"/>
<circle cx="49.9" cy="109.7" r="0.92" fill="#ee7c25"/>
<circle cx="51.1" cy="110.2" r="0.92" fill="#f1b22b"/>
<circle cx="52.4" cy="109.4" r="0.92" fill="#ea6c23"/>
<circle cx="53.1" cy="110.3" r="0.92" fill="#ea6c23"/>
<circle cx="25.6" cy="111.1" r="0.92" fill="#e0421f"/>
<circle cx="26.9" cy="111.5" r="0.92" fill="#c7281b"/>
<circle cx="28.1" cy="111.1" r="0.92" fill="#f1b22b"/>
<circle cx="30.2" cy="111.5" r="0.92" fill="#c7281b"/>
<circle cx="30.6" cy="110.9" r="0.92" fill="#c7281b"/>
<circle cx="32.1" cy="110.9" r="0.92" fill="#f1b22b"/>
<circle cx="33.7" cy="110.7" r="0.92" fill="#f1b22b"/>
<circle cx="34.6" cy="111.5" r="0.92" fill="#e0421f"/>
<circle cx="36.1" cy="111.3" r="0.92" fill="#ee7c25"/>
<circle cx="36.8" cy="111.5" r="0.92" fill="#c7281b"/>
<circle cx="38.2" cy="111.1" r="0.92" fill="#dade3e"/>
<circle cx="39.8" cy="110.7" r="0.92" fill="#ea6c23"/>
<circle cx="41.0" cy="110.8" r="0.92" fill="#ea6c23"/>
<circle cx="42.0" cy="110.6" r="0.92" fill="#e0421f"/>
<circle cx="43.2" cy="110.7" r="0.92" fill="#ee7c25"/>
<circle cx="44.8" cy="111.3" r="0.92" fill="#f1b22b"/>
<circle cx="45.5" cy="111.0" r="0.92" fill="#f1b22b"/>
<circle cx="47.6" cy="111.1" r="0.92" fill="#f1b22b"/>
<circle cx="48.6" cy="111.4" r="0.92" fill="#ea6c23"/>
<circle cx="49.4" cy="111.5" r="0.92" fill="#ea6c23"/>
<circle cx="51.4" cy="111.3" r="0.92" fill="#dade3e"/>
<circle cx="52.4" cy="110.9" r="0.92" fill="#c7281b"/>
<circle cx="53.3" cy="110.9" r="0.92" fill="#ee7c25"/>
<circle cx="25.7" cy="112.2" r="0.92" fill="#ebe132"/>
<circle cx="27.3" cy="112.1" r="0.92" fill="#65c4ad"/>
<circle cx="28.2" cy="112.1" r="0.92" fill="#e0421f"/>
<circle cx="29.9" cy="112.4" r="0.92" fill="#65c4ad"/>
<circle cx="31.0" cy="112.4" r="0.92" fill="#4cb2ca"/>
<circle cx="31.9" cy="112.6" r="0.92" fill="#3979ce"/>
<circle cx="33.6" cy="112.7" r="0.92" fill="#65c4ad"/>
<circle cx="35.7" cy="111.9" r="0.92" fill="#ee7c25"/>
<circle cx="37.1" cy="112.8" r="0.92" fill="#ebe132"/>
<circle cx="38.2" cy="112.5" r="0.92" fill="#4cb2ca"/>
<circle cx="39.9" cy="112.7" r="0.92" fill="#ebe132"/>
<circle cx="40.5" cy="112.6" r="0.92" fill="#4cb2ca"/>
<circle cx="42.4" cy="112.6" r="0.92" fill="#65c4ad"/>
<circle cx="43.5" cy="112.4" r="0.92" fill="#ebe132"/>
<circle cx="44.8" cy="112.4" r="0.92" fill="#88ce80"/>
<circle cx="46.4" cy="112.0" r="0.92" fill="#e0421f"/>
<circle cx="46.7" cy="112.1" r="0.92" fill="#e0421f"/>
<circle cx="48.6" cy="111.9" r="0.92" fill="#dade3e"/>
<circle cx="51.4" cy="112.2" r="0.92" fill="#3979ce"/>
<circle cx="52.6" cy="112.8" r="0.92" fill="#88ce80"/>
<circle cx="53.1" cy="112.0" r="0.92" fill="#c7281b"/>
<circle cx="26.3" cy="113.7" r="0.92" fill="#4cb2ca"/>
<circle cx="28.5" cy="113.8" r="0.92" fill="#afd65b"/>
<circle cx="29.3" cy="114.1" r="0.92" fill="#afd65b"/>
<circle cx="30.7" cy="113.5" r="0.92" fill="#88ce80"/>
<circle cx="32.2" cy="113.6" r="0.92" fill="#afd65b"/>
<circle cx="33.4" cy="113.5" r="0.92" fill="#3979ce"/>
<circle cx="35.1" cy="113.4" r="0.92" fill="#afd65b"/>
<circle cx="35.7" cy="113.4" r="0.92" fill="#65c4ad"/>
<circle cx="37.4" cy="113.4" r="0.92" fill="#65c4ad"/>
<circle cx="38.5" cy="114.1" r="0.92" fill="#ebe132"/>
<circle cx="39.7" cy="113.3" r="0.92" fill="#3979ce"/>
<circle cx="41.1" cy="114.0" r="0.92" fill="#3979ce"/>
<circle cx="42.0" cy="113.9" r="0.92" fill="#afd65b"/>
<circle cx="43.7" cy="113.5" r="0.92" fill="#65c4ad"/>
<circle cx="44.4" cy="113.6" r="0.92" fill="#afd65b"/>
<circle cx="46.4" cy="113.4" r="0.92" fill="#ebe132"/>
<circle cx="47.1" cy="113.8" r="0.92" fill="#88ce80"/>
<circle cx="48.6" cy="113.5" r="0.92" fill="#65c4ad"/>
<circle cx="50.2" cy="113.8" r="0.92" fill="#afd65b"/>
<circle cx="51.1" cy="113.8" r="0.92" fill="#3979ce"/>
<circle cx="52.2" cy="113.9" r="0.92" fill="#88ce80"/>
<circle cx="26.2" cy="114.6" r="0.92" fill="#88ce80"/>
<circle cx="27.0" cy="114.5" r="0.92" fill="#3979ce"/>
<circle cx="28.0" cy="114.8" r="0.92" fill="#65c4ad"/>
<circle cx="29.4" cy="114.6" r="0.92" fill="#65c4ad"/>
<circle cx="31.4" cy="114.7" r="0.92" fill="#3979ce"/>
<circle cx="32.3" cy="115.0" r="0.92" fill="#ebe132"/>
<circle cx="33.3" cy="114.9" r="0.92" fill="#ebe132"/>
<circle cx="35.2" cy="114.5" r="0.92" fill="#3979ce"/>
<circle cx="36.3" cy="114.7" r="0.92" fill="#afd65b"/>
<circle cx="37.4" cy="115.3" r="0.92" fill="#afd65b"/>
<circle cx="38.6" cy="115.1" r="0.92" fill="#afd65b"/>
<circle cx="39.7" cy="114.9" r="0.92" fill="#65c4ad"/>
<circle cx="41.4" cy="114.8" r="0.92" fill="#88ce80"/>
<circle cx="42.6" cy="114.5" r="0.92" fill="#3979ce"/>
<circle cx="45.1" cy="114.9" r="0.92" fill="#ebe132"/>
<circle cx="45.6" cy="114.7" r="0.92" fill="#4cb2ca"/>
<circle cx="47.3" cy="114.8" r="0.92" fill="#afd65b"/>
<circle cx="48.4" cy="114.5" r="0.92" fill="#afd65b"/>
<circle cx="49.4" cy="115.0" r="0.92" fill="#65c4ad"/>
<circle cx="51.1" cy="115.2" r="0.92" fill="#3979ce"/>
<circle cx="53.0" cy="114.9" r="0.92" fill="#65c4ad"/>
<circle cx="26.0" cy="116.2" r="0.92" fill="#ebe132"/>
<circle cx="26.7" cy="116.2" r="0.92" fill="#4cb2ca"/>
<circle cx="28.0" cy="115.6" r="0.92" fill="#ebe132"/>
<circle cx="30.0" cy="115.9" r="0.92" fill="#65c4ad"/>
<circle cx="31.3" cy="116.3" r="0.92" fill="#88ce80"/>
<circle cx="32.4" cy="116.0" r="0.92" fill="#88ce80"/>
<circle cx="33.1" cy="116.5" r="0.92" fill="#4cb2ca"/>
<circle cx="34.4" cy="115.9" r="0.92" fill="#3979ce"/>
<circle cx="36.2" cy="116.6" r="0.92" fill="#3979ce"/>
<circle cx="37.5" cy="115.7" r="0.92" fill="#ebe132"/>
<circle cx="38.9" cy="116.3" r="0.92" fill="#4cb2ca"/>
<circle cx="41.3" cy="116.2" r="0.92" fill="#88ce80"/>
<circle cx="42.0" cy="115.7" r="0.92" fill="#3979ce"/>
<circle cx="43.5" cy="115.7" r="0.92" fill="#3979ce"/>
<circle cx="45.1" cy="115.7" r="0.92" fill="#ebe132"/>
<circle cx="46.4" cy="116.5" r="0.92" fill="#88ce80"/>
<circle cx="47.3" cy="115.6" r="0.92" fill="#afd65b"/>
<circle cx="48.1" cy="115.9" r="0.92" fill="#afd65b"/>
<circle cx="50.2" cy="115.8" r="0.92" fill="#88ce80"/>
<circle cx="50.6" cy="115.6" r="0.92" fill="#4cb2ca"/>
<circle cx="51.9" cy="116.4" r="0.92" fill="#4cb2ca"/>
<circle cx="53.0" cy="116.4" r="0.92" fill="#4cb2ca"/>
<circle cx="54.7" cy="116.1" r="0.92" fill="#ebe132"/>
<circle cx="25.8" cy="117.0" r="0.92" fill="#88ce80"/>
<circle cx="26.8" cy="117.4" r="0.92" fill="#4cb2ca"/>
<circle cx="28.1" cy="117.4" r="0.92" fill="#3979ce"/>
<circle cx="29.9" cy="117.7" r="0.92" fill="#afd65b"/>
<circle cx="32.6" cy="117.2" r="0.92" fill="#88ce80"/>
<circle cx="33.8" cy="117.2" r="0.92" fill="#4cb2ca"/>
<circle cx="34.8" cy="117.8" r="0.92" fill="#65c4ad"/>
<circle cx="36.3" cy="117.0" r="0.92" fill="#4cb2ca"/>
<circle cx="37.5" cy="117.0" r="0.92" fill="#4cb2ca"/>
<circle cx="38.0" cy="117.7" r="0.92" fill="#3979ce"/>
<circle cx="39.6" cy="116.9" r="0.92" fill="#65c4ad"/>
<circle cx="40.7" cy="117.3" r="0.92" fill="#3979ce"/>
<circle cx="42.7" cy="117.0" r="0.92" fill="#88ce80"/>
<circle cx="43.8" cy="117.0" r="0.92" fill="#3979ce"/>
<circle cx="44.5" cy="116.9" r="0.92" fill="#afd65b"/>
<circle cx="46.0" cy="117.2" r="0.92" fill="#4cb2ca"/>
<circle cx="46.8" cy="117.2" r="0.92" fill="#afd65b"/>
<circle cx="48.4" cy="116.9" r="0.92" fill="#4cb2ca"/>
<circle cx="49.8" cy="117.6" r="0.92" fill="#ebe132"/>
<circle cx="51.1" cy="116.9" r="0.92" fill="#ebe132"/>
<circle cx="52.6" cy="117.6" r="0.92" fill="#65c4ad"/>
<circle cx="53.1" cy="117.7" r="0.92" fill="#4cb2ca"/>
<circle cx="54.6" cy="116.9" r="0.92" fill="#ebe132"/>
<circle cx="26.3" cy="119.1" r="0.92" fill="#2c4dbc"/>
<circle cx="27.3" cy="118.8" r="0.92" fill="#2c4dbc"/>
<circle cx="28.2" cy="118.1" r="0.92" fill="#3979ce"/>
<circle cx="29.9" cy="118.4" r="0.92" fill="#232da1"/>
<circle cx="31.4" cy="118.5" r="0.92" fill="#20238f"/>
<circle cx="32.6" cy="119.0" r="0.92" fill="#1e197d"/>
<circle cx="33.1" cy="118.7" r="0.92" fill="#2c4dbc"/>
<circle cx="35.1" cy="119.0" r="0.92" fill="#3979ce"/>
<circle cx="35.6" cy="118.8" r="0.92" fill="#2c4dbc"/>
<circle cx="36.7" cy="118.9" r="0.92" fill="#1e197d"/>
<circle cx="38.7" cy="118.5" r="0.92" fill="#2c4dbc"/>
<circle cx="39.8" cy="118.6" r="0.92" fill="#2c4dbc"/>
<circle cx="40.9" cy="118.7" r="0.92" fill="#20238f"/>
<circle cx="42.1" cy="118.2" r="0.92" fill="#ebe132"/>
<circle cx="43.1" cy="118.5" r="0.92" fill="#1e197d"/>
<circle cx="44.9" cy="118.8" r="0.92" fill="#20238f"/>
<circle cx="46.4" cy="118.4" r="0.92" fill="#2c4dbc"/>
<circle cx="46.8" cy="118.7" r="0.92" fill="#20238f"/>
<circle cx="48.5" cy="118.8" r="0.92" fill="#22299a"/>
<circle cx="50.0" cy="118.2" r="0.92" fill="#afd65b"/>
<circle cx="51.3" cy="118.8" r="0.92" fill="#1e197d"/>
<circle cx="52.2" cy="118.8" r="0.92" fill="#1e197d"/>
<circle cx="53.3" cy="118.2" r="0.92" fill="#3979ce"/>
<circle cx="54.2" cy="119.0" r="0.92" fill="#2c4dbc"/>
<circle cx="56.1" cy="119.0" r="0.92" fill="#1e197d"/>
<circle cx="26.1" cy="119.7" r="0.92" fill="#20238f"/>
<circle cx="26.8" cy="120.0" r="0.92" fill="#232da1"/>
<circle cx="28.0" cy="120.3" r="0.92" fill="#3979ce"/>
<circle cx="29.9" cy="119.9" r="0.92" fill="#20238f"/>
<circle cx="31.2" cy="119.9" r="0.92" fill="#20238f"/>
<circle cx="32.6" cy="119.8" r="0.92" fill="#232da1"/>
<circle cx="33.2" cy="120.2" r="0.92" fill="#22299a"/>
<circle cx="34.3" cy="119.8" r="0.92" fill="#1e197d"/>
<circle cx="35.5" cy="119.4" r="0.92" fill="#1f1d84"/>
<circle cx="37.1" cy="119.5" r="0.92" fill="#1f1d84"/>
<circle cx="38.4" cy="119.9" r="0.92" fill="#3979ce"/>
<circle cx="40.0" cy="120.2" r="0.92" fill="#1f1d84"/>
<circle cx="40.9" cy="119.6" r="0.92" fill="#22299a"/>
<circle cx="41.9" cy="120.3" r="0.92" fill="#3979ce"/>
<circle cx="43.2" cy="119.4" r="0.92" fill="#2c4dbc"/>
<circle cx="44.3" cy="119.4" r="0.92" fill="#20238f"/>
<circle cx="46.3" cy="119.7" r="0.92" fill="#232da1"/>
<circle cx="47.5" cy="119.4" r="0.92" fill="#20238f"/>
<circle cx="48.8" cy="119.4" r="0.92" fill="#3979ce"/>
<circle cx="50.0" cy="119.4" r="0.92" fill="#3979ce"/>
<circle cx="51.1" cy="119.9" r="0.92" fill="#1e197d"/>
<circle cx="52.5" cy="119.5" r="0.92" fill="#1f1d84"/>
<circle cx="53.6" cy="119.9" r="0.92" fill="#20238f"/>
<circle cx="54.8" cy="119.9" r="0.92" fill="#20238f"/>
<circle cx="26.9" cy="120.9" r="0.92" fill="#232da1"/>
<circle cx="28.9" cy="121.5" r="0.92" fill="#20238f"/>
<circle cx="29.3" cy="121.1" r="0.92" fill="#1f1d84"/>
<circle cx="31.2" cy="121.2" r="0.92" fill="#20238f"/>
<circle cx="31.8" cy="120.8" r="0.92" fill="#232da1"/>
<circle cx="33.3" cy="121.6" r="0.92" fill="#22299a"/>
<circle cx="35.2" cy="121.5" r="0.92" fill="#1e197d"/>
<circle cx="35.5" cy="121.6" r="0.92" fill="#20238f"/>
<circle cx="37.6" cy="120.8" r="0.92" fill="#3979ce"/>
<circle cx="38.9" cy="121.3" r="0.92" fill="#2c4dbc"/>
<circle cx="39.9" cy="121.6" r="0.92" fill="#20238f"/>
<circle cx="40.5" cy="120.9" r="0.92" fill="#1f1d84"/>
<circle cx="43.5" cy="120.7" r="0.92" fill="#3979ce"/>
<circle cx="44.5" cy="121.2" r="0.92" fill="#3979ce"/>
<circle cx="46.4" cy="120.8" r="0.92" fill="#22299a"/>
<circle cx="47.3" cy="120.7" r="0.92" fill="#1e197d"/>
<circle cx="48.1" cy="120.6" r="0.92" fill="#1f1d84"/>
<circle cx="49.6" cy="120.7" r="0.92" fill="#22299a"/>
<circle cx="50.6" cy="121.1" r="0.92" fill="#232da1"/>
<circle cx="52.4" cy="121.1" r="0.92" fill="#1e197d"/>
<circle cx="53.4" cy="121.4" r="0.92" fill="#1e197d"/>
<circle cx="26.4" cy="122.6" r="0.92" fill="#3979ce"/>
<circle cx="27.0" cy="122.0" r="0.92" fill="#1f1d84"/>
<circle cx="28.4" cy="122.3" r="0.92" fill="#232da1"/>
<circle cx="29.3" cy="122.3" r="0.92" fill="#20238f"/>
<circle cx="31.4" cy="122.6" r="0.92" fill="#20238f"/>
<circle cx="32.1" cy="122.1" r="0.92" fill="#1e197d"/>
<circle cx="33.1" cy="122.6" r="0.92" fill="#1e197d"/>
<circle cx="34.8" cy="122.0" r="0.92" fill="#20238f"/>
<circle cx="36.4" cy="121.9" r="0.92" fill="#20238f"/>
<circle cx="37.5" cy="122.8" r="0.92" fill="#20238f"/>
<circle cx="38.5" cy="122.8" r="0.92" fill="#1e197d"/>
<circle cx="39.5" cy="122.2" r="0.92" fill="#1f1d84"/>
<circle cx="40.9" cy="122.2" r="0.92" fill="#22299a"/>
<circle cx="42.6" cy="122.0" r="0.92" fill="#22299a"/>
<circle cx="43.0" cy="122.0" r="0.92" fill="#2c4dbc"/>
<circle cx="44.4" cy="122.3" r="0.92" fill="#2c4dbc"/>
<circle cx="45.6" cy="122.6" r="0.92" fill="#2c4dbc"/>
<circle cx="47.0" cy="122.1" r="0.92" fill="#2c4dbc"/>
<circle cx="48.7" cy="122.7" r="0.92" fill="#20238f"/>
<circle cx="50.0" cy="122.3" r="0.92" fill="#22299a"/>
<circle cx="51.4" cy="122.6" r="0.92" fill="#22299a"/>
<circle cx="52.2" cy="122.7" r="0.92" fill="#1f1d84"/>
<circle cx="53.2" cy="122.3" r="0.92" fill="#20238f"/>
<circle cx="25.6" cy="124.0" r="0.92" fill="#1e197d"/>
<circle cx="27.5" cy="123.4" r="0.92" fill="#3979ce"/>
<circle cx="28.3" cy="123.6" r="0.92" fill="#2c4dbc"/>
<circle cx="29.6" cy="123.3" r="0.92" fill="#20238f"/>
<circle cx="31.4" cy="124.0" r="0.92" fill="#22299a"/>
<circle cx="32.0" cy="124.0" r="0.92" fill="#3979ce"/>
<circle cx="33.7" cy="123.5" r="0.92" fill="#1f1d84"/>
<circle cx="34.2" cy="123.7" r="0.92" fill="#232da1"/>
<circle cx="35.6" cy="123.5" r="0.92" fill="#20238f"/>
<circle cx="36.8" cy="123.2" r="0.92" fill="#20238f"/>
<circle cx="38.5" cy="123.5" r="0.92" fill="#1f1d84"/>
<circle cx="39.9" cy="123.5" r="0.92" fill="#22299a"/>
<circle cx="40.8" cy="124.1" r="0.92" fill="#1e197d"/>
<circle cx="42.4" cy="123.9" r="0.92" fill="#232da1"/>
<circle cx="43.2" cy="123.7" r="0.92" fill="#2c4dbc"/>
<circle cx="44.9" cy="123.8" r="0.92" fill="#20238f"/>
<circle cx="46.2" cy="124.0" r="0.92" fill="#20238f"/>
<circle cx="47.1" cy="123.1" r="0.92" fill="#20238f"/>
<circle cx="48.5" cy="123.9" r="0.92" fill="#22299a"/>
<circle cx="50.0" cy="124.0" r="0.92" fill="#1f1d84"/>
<circle cx="50.7" cy="123.6" r="0.92" fill="#232da1"/>
<circle cx="25.2" cy="124.9" r="0.92" fill="#20238f"/>
<circle cx="26.2" cy="124.6" r="0.92" fill="#3979ce"/>
<circle cx="26.8" cy="124.9" r="0.92" fill="#20238f"/>
<circle cx="28.1" cy="125.1" r="0.92" fill="#1f1d84"/>
<circle cx="29.8" cy="124.5" r="0.92" fill="#3979ce"/>
<circle cx="30.8" cy="124.7" r="0.92" fill="#20238f"/>
<circle cx="31.8" cy="124.4" r="0.92" fill="#1f1d84"/>
<circle cx="33.3" cy="124.6" r="0.92" fill="#1e197d"/>
<circle cx="34.9" cy="125.3" r="0.92" fill="#22299a"/>
<circle cx="36.4" cy="124.4" r="0.92" fill="#1e197d"/>
<circle cx="37.6" cy="124.9" r="0.92" fill="#1e197d"/>
<circle cx="38.7" cy="125.0" r="0.92" fill="#20238f"/>
<circle cx="41.1" cy="124.6" r="0.92" fill="#1e197d"/>
<circle cx="41.8" cy="124.5" r="0.92" fill="#1e197d"/>
<circle cx="43.8" cy="125.2" r="0.92" fill="#22299a"/>
<circle cx="44.4" cy="125.1" r="0.92" fill="#1e197d"/>
<circle cx="45.7" cy="125.1" r="0.92" fill="#1e197d"/>
<circle cx="47.4" cy="125.3" r="0.92" fill="#1f1d84"/>
<circle cx="48.8" cy="124.6" r="0.92" fill="#1e197d"/>
<circle cx="49.7" cy="124.8" r="0.92" fill="#20238f"/>
<circle cx="50.5" cy="125.2" r="0.92" fill="#20238f"/>
<circle cx="26.2" cy="125.8" r="0.92" fill="#1e197d"/>
<circle cx="27.4" cy="125.9" r="0.92" fill="#20238f"/>
<circle cx="28.7" cy="125.7" r="0.92" fill="#22299a"/>
<circle cx="30.0" cy="126.4" r="0.92" fill="#20238f"/>
<circle cx="31.4" cy="126.1" r="0.92" fill="#20238f"/>
<circle cx="32.0" cy="126.2" r="0.92" fill="#1f1d84"/>
<circle cx="33.2" cy="126.1" r="0.92" fill="#2c4dbc"/>
<circle cx="34.7" cy="126.4" r="0.92" fill="#1e197d"/>
<circle cx="35.9" cy="125.7" r="0.92" fill="#1e197d"/>
<circle cx="37.5" cy="125.7" r="0.92" fill="#20238f"/>
<circle cx="38.7" cy="125.7" r="0.92" fill="#20238f"/>
<circle cx="39.7" cy="126.0" r="0.92" fill="#2c4dbc"/>
<circle cx="41.3" cy="126.5" r="0.92" fill="#3979ce"/>
<circle cx="42.0" cy="126.6" r="0.92" fill="#3979ce"/>
<circle cx="43.3" cy="126.0" r="0.92" fill="#20238f"/>
<circle cx="45.0" cy="126.5" r="0.92" fill="#20238f"/>
<circle cx="45.8" cy="125.6" r="0.92" fill="#20238f"/>
<circle cx="47.4" cy="126.3" r="0.92" fill="#1e197d"/>
<circle cx="48.4" cy="125.8" r="0.92" fill="#1e197d"/>
<circle cx="49.5" cy="126.4" r="0.92" fill="#3979ce"/>
<circle cx="26.1" cy="127.0" r="0.92" fill="#1f1d84"/>
<circle cx="27.2" cy="127.1" r="0.92" fill="#20238f"/>
<circle cx="28.9" cy="127.5" r="0.92" fill="#1e197d"/>
<circle cx="29.4" cy="127.8" r="0.92" fill="#1e197d"/>
<circle cx="30.5" cy="127.6" r="0.92" fill="#1f1d84"/>
<circle cx="33.4" cy="127.8" r="0.92" fill="#20238f"/>
<circle cx="34.4" cy="127.2" r="0.92" fill="#1e197d"/>
<circle cx="35.8" cy="127.7" r="0.92" fill="#232da1"/>
<circle cx="37.3" cy="127.7" r="0.92" fill="#1f1d84"/>
<circle cx="38.8" cy="127.2" r="0.92" fill="#20238f"/>
<circle cx="40.1" cy="127.8" r="0.92" fill="#1f1d84"/>
<circle cx="41.3" cy="127.5" r="0.92" fill="#1e197d"/>
<circle cx="42.7" cy="127.8" r="0.92" fill="#232da1"/>
<circle cx="43.1" cy="126.9" r="0.92" fill="#1e197d"/>
<circle cx="44.7" cy="127.6" r="0.92" fill="#2c4dbc"/>
<circle cx="47.4" cy="126.9" r="0.92" fill="#20238f"/>
<circle cx="48.3" cy="127.7" r="0.92" fill="#232da1"/>
<circle cx="49.3" cy="127.3" r="0.92" fill="#20238f"/>
<circle cx="27.3" cy="128.5" r="0.92" fill="#1f1d84"/>
<circle cx="28.8" cy="128.4" r="0.92" fill="#20238f"/>
<circle cx="29.6" cy="128.9" r="0.92" fill="#22299a"/>
<circle cx="31.3" cy="128.9" r="0.92" fill="#1e197d"/>
<circle cx="32.1" cy="129.1" r="0.92" fill="#20238f"/>
<circle cx="34.6" cy="128.5" r="0.92" fill="#22299a"/>
<circle cx="36.0" cy="128.2" r="0.92" fill="#1f1d84"/>
<circle cx="37.3" cy="128.6" r="0.92" fill="#20238f"/>
<circle cx="38.6" cy="128.4" r="0.92" fill="#1e197d"/>
<circle cx="39.4" cy="128.4" r="0.92" fill="#1e197d"/>
<circle cx="41.2" cy="128.5" r="0.92" fill="#1f1d84"/>
<circle cx="42.4" cy="129.0" r="0.92" fill="#3979ce"/>
<circle cx="43.2" cy="129.0" r="0.92" fill="#1e197d"/>
<circle cx="44.2" cy="128.4" r="0.92" fill="#1e197d"/>
<circle cx="46.1" cy="128.3" r="0.92" fill="#22299a"/>
<circle cx="48.3" cy="128.4" r="0.92" fill="#20238f"/>
<circle cx="28.2" cy="130.2" r="0.92" fill="#232da1"/>
<circle cx="29.5" cy="129.7" r="0.92" fill="#20238f"/>
<circle cx="30.8" cy="130.2" r="0.92" fill="#22299a"/>
<circle cx="32.7" cy="129.8" r="0.92" fill="#232da1"/>
<circle cx="33.1" cy="130.1" r="0.92" fill="#1f1d84"/>
<circle cx="34.6" cy="130.1" r="0.92" fill="#232da1"/>
<circle cx="35.6" cy="130.0" r="0.92" fill="#1f1d84"/>
<circle cx="37.2" cy="130.2" r="0.92" fill="#232da1"/>
<circle cx="38.6" cy="129.4" r="0.92" fill="#1e197d"/>
<circle cx="40.1" cy="129.4" r="0.92" fill="#20238f"/>
<circle cx="41.3" cy="130.2" r="0.92" fill="#1e197d"/>
<circle cx="42.3" cy="130.2" r="0.92" fill="#1e197d"/>
<circle cx="43.2" cy="130.0" r="0.92" fill="#1e197d"/>
<circle cx="44.3" cy="130.2" r="0.92" fill="#3979ce"/>
<circle cx="47.3" cy="129.9" r="0.92" fill="#20238f"/>
<circle cx="28.0" cy="131.0" r="0.92" fill="#232da1"/>
<circle cx="29.9" cy="131.4" r="0.92" fill="#22299a"/>
<circle cx="30.5" cy="130.6" r="0.92" fill="#20238f"/>
<circle cx="31.7" cy="131.0" r="0.92" fill="#232da1"/>
<circle cx="33.1" cy="131.4" r="0.92" fill="#232da1"/>
<circle cx="34.4" cy="131.4" r="0.92" fill="#22299a"/>
<circle cx="35.7" cy="131.6" r="0.92" fill="#232da1"/>
<circle cx="37.6" cy="131.2" r="0.92" fill="#20238f"/>
<circle cx="38.7" cy="130.7" r="0.92" fill="#20238f"/>
<circle cx="40.2" cy="130.9" r="0.92" fill="#232da1"/>
<circle cx="42.3" cy="131.4" r="0.92" fill="#232da1"/>
<circle cx="43.6" cy="131.3" r="0.92" fill="#20238f"/>
<circle cx="45.0" cy="130.7" r="0.92" fill="#3979ce"/>
<circle cx="45.8" cy="130.9" r="0.92" fill="#20238f"/>
<circle cx="28.7" cy="132.4" r="0.92" fill="#20238f"/>
<circle cx="29.8" cy="132.2" r="0.92" fill="#20238f"/>
<circle cx="31.4" cy="131.9" r="0.92" fill="#22299a"/>
<circle cx="32.2" cy="132.7" r="0.92" fill="#2c4dbc"/>
<circle cx="33.7" cy="132.0" r="0.92" fill="#1e197d"/>
<circle cx="34.6" cy="132.8" r="0.92" fill="#22299a"/>
<circle cx="36.2" cy="132.3" r="0.92" fill="#232da1"/>
<circle cx="37.2" cy="132.5" r="0.92" fill="#22299a"/>
<circle cx="40.1" cy="132.2" r="0.92" fill="#20238f"/>
<circle cx="40.9" cy="132.2" r="0.92" fill="#1e197d"/>
<circle cx="42.1" cy="132.2" r="0.92" fill="#22299a"/>
<circle cx="43.6" cy="132.7" r="0.92" fill="#232da1"/>
<circle cx="45.0" cy="131.9" r="0.92" fill="#1f1d84"/>
<circle cx="30.1" cy="133.6" r="0.92" fill="#2c4dbc"/>
<circle cx="30.6" cy="133.1" r="0.92" fill="#1e197d"/>
<circle cx="32.5" cy="133.3" r="0.92" fill="#232da1"/>
<circle cx="33.0" cy="133.8" r="0.92" fill="#1e197d"/>
<circle cx="34.7" cy="134.0" r="0.92" fill="#2c4dbc"/>
<circle cx="35.9" cy="133.8" r="0.92" fill="#1f1d84"/>
<circle cx="37.0" cy="133.7" r="0.92" fill="#2c4dbc"/>
<circle cx="38.2" cy="134.1" r="0.92" fill="#1e197d"/>
<circle cx="39.9" cy="133.1" r="0.92" fill="#3979ce"/>
<circle cx="41.3" cy="134.0" r="0.92" fill="#22299a"/>
<circle cx="42.6" cy="133.4" r="0.92" fill="#1e197d"/>
<circle cx="33.2" cy="134.4" r="0.92" fill="#20238f"/>
<circle cx="34.3" cy="134.7" r="0.92" fill="#2c4dbc"/>
<circle cx="35.7" cy="135.0" r="0.92" fill="#3979ce"/>
<circle cx="39.8" cy="134.4" r="0.92" fill="#1e197d"/>
<rect x="17.30" y="97.20" width="42.50" height="42.40" fill="none" stroke="#8a8a8a" stroke-width="0.90"/>
<rect x="61.00" y="97.20" width="3.70" height="42.40" fill="url(#jetv)"/>
<text x="67.00" y="100.40" font-size="6.30" fill="#333">72</text>
<text x="67.00" y="110.50" font-size="6.30" fill="#333">31</text>
<text x="67.00" y="120.60" font-size="6.30" fill="#333">13</text>
<text x="67.00" y="130.70" font-size="6.30" fill="#333">5</text>
<text x="67.00" y="140.80" font-size="6.30" fill="#333">0</text>
<text x="92.40" y="93.50" font-size="8.20" fill="#222" textLength="21.20" lengthAdjust="spacingAndGlyphs">ICOS</text>
<circle cx="98.7" cy="101.5" r="0.92" fill="#890d14"/>
<circle cx="100.0" cy="101.3" r="0.92" fill="#820a14"/>
<circle cx="101.4" cy="101.3" r="0.92" fill="#820a14"/>
<circle cx="97.7" cy="102.2" r="0.92" fill="#820a14"/>
<circle cx="98.3" cy="102.0" r="0.92" fill="#820a14"/>
<circle cx="99.9" cy="102.5" r="0.92" fill="#e34e20"/>
<circle cx="100.8" cy="102.9" r="0.92" fill="#820a14"/>
<circle cx="102.1" cy="102.3" r="0.92" fill="#820a14"/>
<circle cx="103.7" cy="102.4" r="0.92" fill="#9c1516"/>
<circle cx="106.9" cy="102.9" r="0.92" fill="#961216"/>
<circle cx="93.8" cy="104.0" r="0.92" fill="#c1261b"/>
<circle cx="94.8" cy="103.9" r="0.92" fill="#9f1717"/>
<circle cx="95.8" cy="103.2" r="0.92" fill="#820a14"/>
<circle cx="97.3" cy="103.6" r="0.92" fill="#dc321e"/>
<circle cx="98.4" cy="103.2" r="0.92" fill="#de3b1e"/>
<circle cx="99.9" cy="103.4" r="0.92" fill="#b52019"/>
<circle cx="101.4" cy="103.4" r="0.92" fill="#820a14"/>
<circle cx="102.7" cy="104.1" r="0.92" fill="#c8291b"/>
<circle cx="104.0" cy="103.7" r="0.92" fill="#9c1516"/>
<circle cx="104.4" cy="104.1" r="0.92" fill="#820a14"/>
<circle cx="106.2" cy="104.0" r="0.92" fill="#a01717"/>
<circle cx="107.4" cy="103.9" r="0.92" fill="#f49227"/>
<circle cx="108.4" cy="103.9" r="0.92" fill="#dc351e"/>
<circle cx="92.1" cy="105.1" r="0.92" fill="#de3d1f"/>
<circle cx="93.4" cy="104.9" r="0.92" fill="#f08326"/>
<circle cx="94.8" cy="105.3" r="0.92" fill="#f3a129"/>
<circle cx="96.4" cy="105.3" r="0.92" fill="#b01e19"/>
<circle cx="97.0" cy="104.5" r="0.92" fill="#cc2b1c"/>
<circle cx="98.8" cy="104.9" r="0.92" fill="#e24c20"/>
<circle cx="100.2" cy="105.4" r="0.92" fill="#de3b1e"/>
<circle cx="101.5" cy="105.1" r="0.92" fill="#820a14"/>
<circle cx="101.8" cy="104.9" r="0.92" fill="#820a14"/>
<circle cx="104.6" cy="104.5" r="0.92" fill="#901015"/>
<circle cx="106.5" cy="105.0" r="0.92" fill="#e45521"/>
<circle cx="107.3" cy="104.5" r="0.92" fill="#ea6c23"/>
<circle cx="108.9" cy="105.2" r="0.92" fill="#d32e1d"/>
<circle cx="110.2" cy="105.1" r="0.92" fill="#e86423"/>
<circle cx="90.2" cy="106.6" r="0.92" fill="#e75f22"/>
<circle cx="90.7" cy="106.2" r="0.92" fill="#a21817"/>
<circle cx="91.9" cy="105.8" r="0.92" fill="#ed7925"/>
<circle cx="93.3" cy="105.8" r="0.92" fill="#8e0f15"/>
<circle cx="94.4" cy="105.8" r="0.92" fill="#d42e1d"/>
<circle cx="95.5" cy="106.5" r="0.92" fill="#ebda31"/>
<circle cx="97.7" cy="106.3" r="0.92" fill="#ec7324"/>
<circle cx="98.7" cy="105.7" r="0.92" fill="#d9301d"/>
<circle cx="99.4" cy="106.5" r="0.92" fill="#f2a52a"/>
<circle cx="101.4" cy="106.1" r="0.92" fill="#ce2c1c"/>
<circle cx="102.4" cy="106.5" r="0.92" fill="#ef8025"/>
<circle cx="103.6" cy="106.5" r="0.92" fill="#e55621"/>
<circle cx="106.2" cy="106.4" r="0.92" fill="#cd2b1c"/>
<circle cx="106.9" cy="106.1" r="0.92" fill="#e65c22"/>
<circle cx="108.3" cy="105.8" r="0.92" fill="#e45321"/>
<circle cx="110.2" cy="106.4" r="0.92" fill="#c9291b"/>
<circle cx="111.9" cy="106.6" r="0.92" fill="#c5271b"/>
<circle cx="88.7" cy="107.4" r="0.92" fill="#e45221"/>
<circle cx="89.5" cy="107.4" r="0.92" fill="#dd361e"/>
<circle cx="91.0" cy="107.2" r="0.92" fill="#cb2a1c"/>
<circle cx="92.6" cy="107.2" r="0.92" fill="#c2261b"/>
<circle cx="93.6" cy="107.0" r="0.92" fill="#f0b92c"/>
<circle cx="94.4" cy="107.7" r="0.92" fill="#ea6d23"/>
<circle cx="96.0" cy="107.4" r="0.92" fill="#f49d28"/>
<circle cx="98.4" cy="107.2" r="0.92" fill="#e86322"/>
<circle cx="100.1" cy="107.7" r="0.92" fill="#dc321e"/>
<circle cx="100.5" cy="107.7" r="0.92" fill="#f49427"/>
<circle cx="102.7" cy="107.4" r="0.92" fill="#f28d27"/>
<circle cx="103.3" cy="107.1" r="0.92" fill="#e86423"/>
<circle cx="105.2" cy="107.8" r="0.92" fill="#c5281b"/>
<circle cx="105.9" cy="107.3" r="0.92" fill="#f0b42c"/>
<circle cx="106.9" cy="107.8" r="0.92" fill="#efc22d"/>
<circle cx="108.6" cy="107.0" r="0.92" fill="#cf2c1c"/>
<circle cx="109.3" cy="107.4" r="0.92" fill="#e76022"/>
<circle cx="111.0" cy="107.7" r="0.92" fill="#f1b12b"/>
<circle cx="112.2" cy="107.6" r="0.92" fill="#e65c22"/>
<circle cx="88.0" cy="108.8" r="0.92" fill="#f49427"/>
<circle cx="89.9" cy="108.5" r="0.92" fill="#eec52e"/>
<circle cx="93.8" cy="108.6" r="0.92" fill="#edd12f"/>
<circle cx="94.9" cy="109.2" r="0.92" fill="#e96723"/>
<circle cx="95.6" cy="109.2" r="0.92" fill="#e86222"/>
<circle cx="97.2" cy="108.3" r="0.92" fill="#e86222"/>
<circle cx="98.5" cy="108.5" r="0.92" fill="#f18726"/>
<circle cx="99.9" cy="108.2" r="0.92" fill="#f2ab2a"/>
<circle cx="100.5" cy="109.2" r="0.92" fill="#f0bb2c"/>
<circle cx="102.0" cy="108.9" r="0.92" fill="#f18926"/>
<circle cx="103.9" cy="109.0" r="0.92" fill="#ed7925"/>
<circle cx="104.9" cy="108.6" r="0.92" fill="#e35021"/>
<circle cx="106.4" cy="108.7" r="0.92" fill="#eb7124"/>
<circle cx="107.5" cy="108.5" r="0.92" fill="#d12d1c"/>
<circle cx="109.4" cy="108.8" r="0.92" fill="#ee7a25"/>
<circle cx="111.1" cy="109.1" r="0.92" fill="#cf2c1c"/>
<circle cx="112.7" cy="109.2" r="0.92" fill="#e86523"/>
<circle cx="87.1" cy="110.3" r="0.92" fill="#f28a26"/>
<circle cx="88.5" cy="109.5" r="0.92" fill="#e65b22"/>
<circle cx="89.5" cy="109.7" r="0.92" fill="#e76022"/>
<circle cx="91.4" cy="109.9" r="0.92" fill="#f3a229"/>
<circle cx="92.3" cy="109.8" r="0.92" fill="#e14620"/>
<circle cx="93.9" cy="110.4" r="0.92" fill="#ebda31"/>
<circle cx="94.3" cy="110.1" r="0.92" fill="#f0b62c"/>
<circle cx="96.2" cy="110.2" r="0.92" fill="#f28b26"/>
<circle cx="97.1" cy="109.8" r="0.92" fill="#f3a029"/>
<circle cx="98.3" cy="110.2" r="0.92" fill="#f1b02b"/>
<circle cx="99.7" cy="110.4" r="0.92" fill="#efc02d"/>
<circle cx="102.2" cy="109.5" r="0.92" fill="#ebdf31"/>
<circle cx="103.5" cy="110.3" r="0.92" fill="#efc02d"/>
<circle cx="104.9" cy="110.4" r="0.92" fill="#f1ac2b"/>
<circle cx="105.6" cy="109.7" r="0.92" fill="#c8da4a"/>
<circle cx="107.5" cy="110.0" r="0.92" fill="#f49728"/>
<circle cx="108.7" cy="109.9" r="0.92" fill="#eb7024"/>
<circle cx="109.6" cy="109.9" r="0.92" fill="#f3a229"/>
<circle cx="111.3" cy="110.0" r="0.92" fill="#ecd830"/>
<circle cx="111.8" cy="110.0" r="0.92" fill="#f3a029"/>
<circle cx="113.6" cy="110.1" r="0.92" fill="#f08226"/>
<circle cx="87.6" cy="111.4" r="0.92" fill="#f2aa2a"/>
<circle cx="89.0" cy="111.0" r="0.92" fill="#f49828"/>
<circle cx="89.5" cy="110.8" r="0.92" fill="#ef7e25"/>
<circle cx="91.2" cy="111.4" r="0.92" fill="#c6da4b"/>
<circle cx="92.3" cy="111.5" r="0.92" fill="#e45521"/>
<circle cx="93.1" cy="110.8" r="0.92" fill="#f3a329"/>
<circle cx="95.1" cy="111.4" r="0.92" fill="#ebdc31"/>
<circle cx="96.2" cy="111.5" r="0.92" fill="#ecd830"/>
<circle cx="96.8" cy="110.8" r="0.92" fill="#f0b82c"/>
<circle cx="99.0" cy="111.5" r="0.92" fill="#edd12f"/>
<circle cx="100.2" cy="111.2" r="0.92" fill="#f0b52c"/>
<circle cx="101.2" cy="110.9" r="0.92" fill="#e1df38"/>
<circle cx="102.1" cy="111.3" r="0.92" fill="#edcf2f"/>
<circle cx="103.2" cy="110.9" r="0.92" fill="#efc02d"/>
<circle cx="105.0" cy="111.2" r="0.92" fill="#e2df38"/>
<circle cx="105.8" cy="111.0" r="0.92" fill="#ee7b25"/>
<circle cx="107.1" cy="110.9" r="0.92" fill="#e55921"/>
<circle cx="108.5" cy="110.8" r="0.92" fill="#f49427"/>
<circle cx="109.4" cy="110.9" r="0.92" fill="#f38e27"/>
<circle cx="110.5" cy="111.2" r="0.92" fill="#f0b72c"/>
<circle cx="112.1" cy="111.3" r="0.92" fill="#edd02f"/>
<circle cx="113.9" cy="111.2" r="0.92" fill="#ef7f25"/>
<circle cx="86.9" cy="112.6" r="0.92" fill="#eec52e"/>
<circle cx="89.5" cy="112.1" r="0.92" fill="#f0b92c"/>
<circle cx="90.8" cy="112.3" r="0.92" fill="#a9d560"/>
<circle cx="92.3" cy="112.0" r="0.92" fill="#f1b12b"/>
<circle cx="93.1" cy="112.5" r="0.92" fill="#a9d560"/>
<circle cx="95.2" cy="112.1" r="0.92" fill="#c9db49"/>
<circle cx="95.9" cy="112.7" r="0.92" fill="#ecd630"/>
<circle cx="97.2" cy="112.8" r="0.92" fill="#e7e034"/>
<circle cx="98.8" cy="112.2" r="0.92" fill="#edcb2f"/>
<circle cx="100.0" cy="112.0" r="0.92" fill="#bfd950"/>
<circle cx="100.7" cy="112.3" r="0.92" fill="#edcc2f"/>
<circle cx="102.4" cy="112.1" r="0.92" fill="#eec92e"/>
<circle cx="103.0" cy="112.8" r="0.92" fill="#eec82e"/>
<circle cx="104.5" cy="112.7" r="0.92" fill="#f49a28"/>
<circle cx="106.4" cy="112.0" r="0.92" fill="#e75e22"/>
<circle cx="107.5" cy="112.3" r="0.92" fill="#ea6b23"/>
<circle cx="108.9" cy="112.4" r="0.92" fill="#efbc2d"/>
<circle cx="109.9" cy="112.9" r="0.92" fill="#aad55f"/>
<circle cx="111.4" cy="112.9" r="0.92" fill="#edcd2f"/>
<circle cx="112.3" cy="112.3" r="0.92" fill="#edd02f"/>
<circle cx="113.3" cy="112.4" r="0.92" fill="#74c898"/>
<circle cx="114.7" cy="112.8" r="0.92" fill="#ecd830"/>
<circle cx="87.4" cy="113.6" r="0.92" fill="#a3d464"/>
<circle cx="88.1" cy="113.6" r="0.92" fill="#eec42e"/>
<circle cx="90.0" cy="113.8" r="0.92" fill="#bcd852"/>
<circle cx="91.4" cy="113.2" r="0.92" fill="#d0dc44"/>
<circle cx="93.6" cy="113.2" r="0.92" fill="#ec7324"/>
<circle cx="96.4" cy="114.0" r="0.92" fill="#eec82e"/>
<circle cx="98.7" cy="113.5" r="0.92" fill="#add65d"/>
<circle cx="100.0" cy="113.7" r="0.92" fill="#efbd2d"/>
<circle cx="102.3" cy="113.8" r="0.92" fill="#d2dc43"/>
<circle cx="103.7" cy="113.7" r="0.92" fill="#d7dd40"/>
<circle cx="105.2" cy="113.5" r="0.92" fill="#ecd330"/>
<circle cx="106.2" cy="113.5" r="0.92" fill="#eec62e"/>
<circle cx="106.9" cy="113.5" r="0.92" fill="#7ecb8c"/>
<circle cx="108.5" cy="113.5" r="0.92" fill="#96d26d"/>
<circle cx="109.5" cy="113.7" r="0.92" fill="#6cc6a3"/>
<circle cx="111.1" cy="113.5" r="0.92" fill="#c9db49"/>
<circle cx="113.2" cy="114.1" r="0.92" fill="#f49227"/>
<circle cx="114.8" cy="113.4" r="0.92" fill="#7ecb8c"/>
<circle cx="88.2" cy="115.3" r="0.92" fill="#d2dc43"/>
<circle cx="90.1" cy="115.4" r="0.92" fill="#add65d"/>
<circle cx="90.6" cy="114.7" r="0.92" fill="#eec92e"/>
<circle cx="91.8" cy="115.3" r="0.92" fill="#8fd076"/>
<circle cx="93.5" cy="114.8" r="0.92" fill="#eec72e"/>
<circle cx="94.7" cy="114.8" r="0.92" fill="#65c4ac"/>
<circle cx="96.3" cy="115.3" r="0.92" fill="#d9dd3e"/>
<circle cx="97.7" cy="114.5" r="0.92" fill="#cddb46"/>
<circle cx="98.8" cy="114.8" r="0.92" fill="#c1d94f"/>
<circle cx="99.3" cy="115.1" r="0.92" fill="#a5d463"/>
<circle cx="102.0" cy="115.0" r="0.92" fill="#ebdb31"/>
<circle cx="103.3" cy="115.0" r="0.92" fill="#dbde3c"/>
<circle cx="105.1" cy="115.4" r="0.92" fill="#88ce7e"/>
<circle cx="105.7" cy="115.4" r="0.92" fill="#b7d756"/>
<circle cx="107.6" cy="114.6" r="0.92" fill="#e45521"/>
<circle cx="109.0" cy="114.7" r="0.92" fill="#cedb46"/>
<circle cx="110.2" cy="115.1" r="0.92" fill="#edd02f"/>
<circle cx="111.5" cy="115.3" r="0.92" fill="#a1d465"/>
<circle cx="112.1" cy="114.6" r="0.92" fill="#ccdb47"/>
<circle cx="113.2" cy="115.1" r="0.92" fill="#f1b12b"/>
<circle cx="115.1" cy="115.0" r="0.92" fill="#d7dd3f"/>
<circle cx="86.9" cy="116.5" r="0.92" fill="#7dca8d"/>
<circle cx="88.4" cy="116.7" r="0.92" fill="#8bcf7b"/>
<circle cx="89.3" cy="116.1" r="0.92" fill="#91d073"/>
<circle cx="90.7" cy="116.4" r="0.92" fill="#6ac5a5"/>
<circle cx="92.4" cy="116.7" r="0.92" fill="#7aca91"/>
<circle cx="95.0" cy="115.9" r="0.92" fill="#eec92e"/>
<circle cx="96.1" cy="116.5" r="0.92" fill="#cadb48"/>
<circle cx="97.6" cy="116.1" r="0.92" fill="#edcf2f"/>
<circle cx="98.3" cy="115.8" r="0.92" fill="#e7e034"/>
<circle cx="100.2" cy="116.6" r="0.92" fill="#bad854"/>
<circle cx="100.9" cy="115.8" r="0.92" fill="#edcb2f"/>
<circle cx="102.6" cy="115.8" r="0.92" fill="#e9e033"/>
<circle cx="103.5" cy="116.1" r="0.92" fill="#eec82e"/>
<circle cx="104.9" cy="115.9" r="0.92" fill="#c7da4a"/>
<circle cx="105.6" cy="115.9" r="0.92" fill="#b8d855"/>
<circle cx="108.8" cy="116.3" r="0.92" fill="#afd65b"/>
<circle cx="109.5" cy="116.1" r="0.92" fill="#92d073"/>
<circle cx="111.1" cy="116.3" r="0.92" fill="#8fd075"/>
<circle cx="112.6" cy="116.5" r="0.92" fill="#efbf2d"/>
<circle cx="113.7" cy="116.3" r="0.92" fill="#d0dc44"/>
<circle cx="114.3" cy="115.8" r="0.92" fill="#7ecb8b"/>
<circle cx="87.5" cy="117.0" r="0.92" fill="#a4d463"/>
<circle cx="88.7" cy="117.9" r="0.92" fill="#ebd931"/>
<circle cx="89.5" cy="117.8" r="0.92" fill="#ebda31"/>
<circle cx="91.2" cy="117.2" r="0.92" fill="#6ec6a1"/>
<circle cx="92.3" cy="117.9" r="0.92" fill="#73c89a"/>
<circle cx="93.6" cy="117.4" r="0.92" fill="#9bd369"/>
<circle cx="94.7" cy="117.6" r="0.92" fill="#79c992"/>
<circle cx="95.7" cy="117.9" r="0.92" fill="#b2d65a"/>
<circle cx="96.9" cy="117.8" r="0.92" fill="#92d072"/>
<circle cx="98.9" cy="117.0" r="0.92" fill="#abd55f"/>
<circle cx="99.6" cy="117.6" r="0.92" fill="#75c897"/>
<circle cx="103.1" cy="117.4" r="0.92" fill="#edd12f"/>
<circle cx="104.8" cy="117.6" r="0.92" fill="#acd55e"/>
<circle cx="105.9" cy="117.5" r="0.92" fill="#87cd81"/>
<circle cx="106.8" cy="117.3" r="0.92" fill="#55bfc1"/>
<circle cx="108.9" cy="117.0" r="0.92" fill="#90d074"/>
<circle cx="109.3" cy="117.2" r="0.92" fill="#60c2b2"/>
<circle cx="110.8" cy="117.8" r="0.92" fill="#d9dd3e"/>
<circle cx="112.0" cy="117.4" r="0.92" fill="#78c994"/>
<circle cx="113.2" cy="117.9" r="0.92" fill="#6cc6a3"/>
<circle cx="115.1" cy="117.0" r="0.92" fill="#60c2b2"/>
<circle cx="116.1" cy="117.2" r="0.92" fill="#70c79e"/>
<circle cx="86.8" cy="118.5" r="0.92" fill="#cedc45"/>
<circle cx="88.5" cy="118.4" r="0.92" fill="#83cc85"/>
<circle cx="89.8" cy="119.0" r="0.92" fill="#58c0bc"/>
<circle cx="91.2" cy="118.5" r="0.92" fill="#ecd630"/>
<circle cx="92.7" cy="119.2" r="0.92" fill="#a4d463"/>
<circle cx="93.5" cy="118.8" r="0.92" fill="#9ed367"/>
<circle cx="94.6" cy="118.4" r="0.92" fill="#55bfc1"/>
<circle cx="96.2" cy="118.3" r="0.92" fill="#d9dd3e"/>
<circle cx="97.0" cy="118.6" r="0.92" fill="#8ecf77"/>
<circle cx="98.7" cy="118.3" r="0.92" fill="#3d85d1"/>
<circle cx="99.5" cy="118.8" r="0.92" fill="#dfde3a"/>
<circle cx="101.0" cy="118.8" r="0.92" fill="#7ecb8b"/>
<circle cx="102.0" cy="118.4" r="0.92" fill="#48a8cb"/>
<circle cx="103.6" cy="118.4" r="0.92" fill="#abd55f"/>
<circle cx="106.9" cy="118.5" r="0.92" fill="#5ec2b5"/>
<circle cx="108.0" cy="118.7" r="0.92" fill="#cadb49"/>
<circle cx="109.8" cy="118.8" r="0.92" fill="#7cca8e"/>
<circle cx="111.1" cy="119.2" r="0.92" fill="#62c3af"/>
<circle cx="112.1" cy="119.0" r="0.92" fill="#75c897"/>
<circle cx="113.6" cy="118.9" r="0.92" fill="#80cb89"/>
<circle cx="114.7" cy="118.7" r="0.92" fill="#ccdb47"/>
<circle cx="116.0" cy="118.8" r="0.92" fill="#5fc2b4"/>
<circle cx="117.6" cy="119.0" r="0.92" fill="#47a5cc"/>
<circle cx="87.2" cy="119.7" r="0.92" fill="#7ecb8b"/>
<circle cx="88.1" cy="120.1" r="0.92" fill="#93d171"/>
<circle cx="90.0" cy="120.0" r="0.92" fill="#68c4a9"/>
<circle cx="91.1" cy="119.7" r="0.92" fill="#94d16f"/>
<circle cx="93.3" cy="120.2" r="0.92" fill="#4eb8c8"/>
<circle cx="95.0" cy="120.3" r="0.92" fill="#3f8bd0"/>
<circle cx="96.0" cy="120.2" r="0.92" fill="#53bec3"/>
<circle cx="96.9" cy="119.9" r="0.92" fill="#ddde3b"/>
<circle cx="99.6" cy="120.2" r="0.92" fill="#66c4aa"/>
<circle cx="100.9" cy="120.0" r="0.92" fill="#81cc88"/>
<circle cx="103.2" cy="119.7" r="0.92" fill="#4aadca"/>
<circle cx="105.2" cy="119.9" r="0.92" fill="#46a1cc"/>
<circle cx="105.6" cy="120.0" r="0.92" fill="#5dc1b6"/>
<circle cx="107.0" cy="120.4" r="0.92" fill="#3a7ed0"/>
<circle cx="108.4" cy="119.6" r="0.92" fill="#4eb9c8"/>
<circle cx="109.4" cy="119.9" r="0.92" fill="#b7d756"/>
<circle cx="111.3" cy="119.9" r="0.92" fill="#8fd075"/>
<circle cx="112.1" cy="119.9" r="0.92" fill="#61c3b0"/>
<circle cx="113.3" cy="120.0" r="0.92" fill="#8ccf79"/>
<circle cx="114.9" cy="119.8" r="0.92" fill="#60c2b2"/>
<circle cx="115.6" cy="119.6" r="0.92" fill="#68c4a8"/>
<circle cx="87.6" cy="121.1" r="0.92" fill="#59c0bb"/>
<circle cx="88.7" cy="121.3" r="0.92" fill="#46a1cc"/>
<circle cx="89.9" cy="121.3" r="0.92" fill="#47a5cc"/>
<circle cx="91.3" cy="121.2" r="0.92" fill="#49abcb"/>
<circle cx="91.9" cy="121.3" r="0.92" fill="#62c3b0"/>
<circle cx="93.2" cy="121.4" r="0.92" fill="#9fd367"/>
<circle cx="94.6" cy="121.1" r="0.92" fill="#a9d560"/>
<circle cx="96.4" cy="121.5" r="0.92" fill="#3b7fd0"/>
<circle cx="96.8" cy="121.2" r="0.92" fill="#3e8ad0"/>
<circle cx="98.9" cy="121.0" r="0.92" fill="#9ad26a"/>
<circle cx="99.4" cy="120.8" r="0.92" fill="#6ac5a5"/>
<circle cx="101.2" cy="121.3" r="0.92" fill="#49aacb"/>
<circle cx="101.9" cy="120.8" r="0.92" fill="#4fbbc8"/>
<circle cx="103.2" cy="121.4" r="0.92" fill="#87cd80"/>
<circle cx="105.1" cy="121.5" r="0.92" fill="#63c3ae"/>
<circle cx="105.6" cy="121.4" r="0.92" fill="#4aadca"/>
<circle cx="107.4" cy="120.8" r="0.92" fill="#4bb0ca"/>
<circle cx="108.4" cy="121.4" r="0.92" fill="#49a9cb"/>
<circle cx="109.6" cy="121.1" r="0.92" fill="#94d170"/>
<circle cx="112.3" cy="121.0" r="0.92" fill="#4db6c9"/>
<circle cx="113.7" cy="121.6" r="0.92" fill="#70c79e"/>
<circle cx="87.5" cy="122.9" r="0.92" fill="#46a2cc"/>
<circle cx="88.6" cy="122.5" r="0.92" fill="#47a5cc"/>
<circle cx="89.8" cy="122.9" r="0.92" fill="#3874cc"/>
<circle cx="91.1" cy="122.9" r="0.92" fill="#46a0cc"/>
<circle cx="92.1" cy="122.6" r="0.92" fill="#3979ce"/>
<circle cx="93.1" cy="122.7" r="0.92" fill="#3a7dd0"/>
<circle cx="94.3" cy="122.3" r="0.92" fill="#449bcd"/>
<circle cx="96.3" cy="122.5" r="0.92" fill="#4191cf"/>
<circle cx="97.5" cy="122.4" r="0.92" fill="#4296ce"/>
<circle cx="98.3" cy="122.5" r="0.92" fill="#4bb0ca"/>
<circle cx="99.9" cy="122.5" r="0.92" fill="#449ccd"/>
<circle cx="100.5" cy="122.8" r="0.92" fill="#3771cb"/>
<circle cx="101.9" cy="122.3" r="0.92" fill="#397acf"/>
<circle cx="103.2" cy="122.7" r="0.92" fill="#49aacb"/>
<circle cx="106.3" cy="122.7" r="0.92" fill="#2d50be"/>
<circle cx="110.1" cy="122.8" r="0.92" fill="#80cb8a"/>
<circle cx="111.0" cy="122.5" r="0.92" fill="#3e88d0"/>
<circle cx="112.6" cy="122.0" r="0.92" fill="#3d85d1"/>
<circle cx="113.3" cy="122.5" r="0.92" fill="#397ace"/>
<circle cx="87.1" cy="123.5" r="0.92" fill="#49abcb"/>
<circle cx="88.8" cy="124.0" r="0.92" fill="#3c84d1"/>
<circle cx="89.9" cy="123.4" r="0.92" fill="#46a0cc"/>
<circle cx="90.6" cy="123.6" r="0.92" fill="#3875cc"/>
<circle cx="92.3" cy="124.1" r="0.92" fill="#356ac8"/>
<circle cx="93.5" cy="123.2" r="0.92" fill="#4090cf"/>
<circle cx="96.5" cy="123.7" r="0.92" fill="#408fcf"/>
<circle cx="96.9" cy="123.9" r="0.92" fill="#3979ce"/>
<circle cx="98.9" cy="123.5" r="0.92" fill="#366fca"/>
<circle cx="99.7" cy="123.5" r="0.92" fill="#3979ce"/>
<circle cx="100.8" cy="124.0" r="0.92" fill="#3c84d1"/>
<circle cx="101.8" cy="123.9" r="0.92" fill="#4db5c9"/>
<circle cx="103.9" cy="123.8" r="0.92" fill="#3c84d1"/>
<circle cx="105.0" cy="123.4" r="0.92" fill="#3978ce"/>
<circle cx="105.9" cy="123.2" r="0.92" fill="#408fcf"/>
<circle cx="106.8" cy="124.1" r="0.92" fill="#4db6c9"/>
<circle cx="108.6" cy="123.7" r="0.92" fill="#46a1cc"/>
<circle cx="109.6" cy="123.6" r="0.92" fill="#2b49bb"/>
<circle cx="111.1" cy="123.5" r="0.92" fill="#3874cc"/>
<circle cx="113.4" cy="123.9" r="0.92" fill="#4db7c9"/>
<circle cx="87.7" cy="124.8" r="0.92" fill="#366eca"/>
<circle cx="88.7" cy="124.8" r="0.92" fill="#3a7ed0"/>
<circle cx="89.5" cy="124.6" r="0.92" fill="#3262c5"/>
<circle cx="90.6" cy="125.4" r="0.92" fill="#4193cf"/>
<circle cx="92.5" cy="125.4" r="0.92" fill="#2942b8"/>
<circle cx="94.8" cy="125.1" r="0.92" fill="#366fca"/>
<circle cx="96.8" cy="124.8" r="0.92" fill="#3d85d1"/>
<circle cx="98.7" cy="124.6" r="0.92" fill="#408fcf"/>
<circle cx="100.6" cy="125.1" r="0.92" fill="#2f56c0"/>
<circle cx="102.7" cy="125.1" r="0.92" fill="#3e8ad0"/>
<circle cx="103.4" cy="125.1" r="0.92" fill="#2e55c0"/>
<circle cx="104.4" cy="124.5" r="0.92" fill="#356bc9"/>
<circle cx="106.4" cy="124.6" r="0.92" fill="#356bc9"/>
<circle cx="107.1" cy="125.2" r="0.92" fill="#4bafca"/>
<circle cx="108.8" cy="125.2" r="0.92" fill="#3670ca"/>
<circle cx="109.8" cy="125.4" r="0.92" fill="#2944b9"/>
<circle cx="111.0" cy="124.8" r="0.92" fill="#3773cc"/>
<circle cx="86.8" cy="126.6" r="0.92" fill="#3263c5"/>
<circle cx="88.6" cy="125.8" r="0.92" fill="#3e89d0"/>
<circle cx="92.7" cy="126.6" r="0.92" fill="#232da1"/>
<circle cx="93.3" cy="126.1" r="0.92" fill="#232da1"/>
<circle cx="94.9" cy="125.8" r="0.92" fill="#3c82d1"/>
<circle cx="95.7" cy="126.4" r="0.92" fill="#1f1d84"/>
<circle cx="97.6" cy="125.9" r="0.92" fill="#4aadca"/>
<circle cx="98.7" cy="125.8" r="0.92" fill="#2e55c0"/>
<circle cx="99.8" cy="126.7" r="0.92" fill="#232da1"/>
<circle cx="101.4" cy="126.3" r="0.92" fill="#1f1d84"/>
<circle cx="102.2" cy="126.2" r="0.92" fill="#1e197d"/>
<circle cx="103.8" cy="126.2" r="0.92" fill="#1e197d"/>
<circle cx="104.6" cy="126.3" r="0.92" fill="#2637b4"/>
<circle cx="106.1" cy="126.3" r="0.92" fill="#20238f"/>
<circle cx="108.6" cy="125.8" r="0.92" fill="#3c84d1"/>
<circle cx="109.7" cy="126.0" r="0.92" fill="#2637b4"/>
<circle cx="110.6" cy="125.9" r="0.92" fill="#273bb5"/>
<circle cx="88.8" cy="127.8" r="0.92" fill="#20238f"/>
<circle cx="89.4" cy="127.3" r="0.92" fill="#20238f"/>
<circle cx="91.4" cy="127.2" r="0.92" fill="#2637b4"/>
<circle cx="92.5" cy="127.1" r="0.92" fill="#232da1"/>
<circle cx="93.6" cy="127.9" r="0.92" fill="#3263c5"/>
<circle cx="94.7" cy="127.0" r="0.92" fill="#2637b4"/>
<circle cx="97.0" cy="127.3" r="0.92" fill="#3263c5"/>
<circle cx="98.8" cy="127.9" r="0.92" fill="#20238f"/>
<circle cx="99.9" cy="127.2" r="0.92" fill="#3263c5"/>
<circle cx="100.8" cy="127.0" r="0.92" fill="#1f1d84"/>
<circle cx="102.4" cy="127.3" r="0.92" fill="#2637b4"/>
<circle cx="103.0" cy="127.7" r="0.92" fill="#20238f"/>
<circle cx="104.7" cy="127.1" r="0.92" fill="#1f1d84"/>
<circle cx="105.6" cy="127.7" r="0.92" fill="#232da1"/>
<circle cx="107.3" cy="127.9" r="0.92" fill="#1f1d84"/>
<circle cx="108.6" cy="127.6" r="0.92" fill="#20238f"/>
<circle cx="109.4" cy="127.6" r="0.92" fill="#20238f"/>
<circle cx="110.7" cy="127.8" r="0.92" fill="#232da1"/>
<circle cx="87.7" cy="128.4" r="0.92" fill="#2637b4"/>
<circle cx="88.3" cy="128.9" r="0.92" fill="#3263c5"/>
<circle cx="89.3" cy="128.4" r="0.92" fill="#1f1d84"/>
<circle cx="91.5" cy="129.1" r="0.92" fill="#232da1"/>
<circle cx="92.1" cy="128.8" r="0.92" fill="#232da1"/>
<circle cx="93.4" cy="128.8" r="0.92" fill="#1f1d84"/>
<circle cx="94.6" cy="128.5" r="0.92" fill="#1e197d"/>
<circle cx="95.9" cy="128.7" r="0.92" fill="#232da1"/>
<circle cx="97.0" cy="128.4" r="0.92" fill="#1e197d"/>
<circle cx="98.1" cy="128.3" r="0.92" fill="#2637b4"/>
<circle cx="99.5" cy="129.1" r="0.92" fill="#232da1"/>
<circle cx="101.4" cy="129.0" r="0.92" fill="#232da1"/>
<circle cx="102.5" cy="128.9" r="0.92" fill="#1e197d"/>
<circle cx="104.8" cy="129.2" r="0.92" fill="#20238f"/>
<circle cx="106.2" cy="128.9" r="0.92" fill="#1e197d"/>
<circle cx="107.6" cy="128.6" r="0.92" fill="#20238f"/>
<circle cx="108.8" cy="128.5" r="0.92" fill="#2637b4"/>
<circle cx="109.8" cy="129.1" r="0.92" fill="#20238f"/>
<circle cx="88.3" cy="130.4" r="0.92" fill="#232da1"/>
<circle cx="89.6" cy="130.2" r="0.92" fill="#3263c5"/>
<circle cx="90.9" cy="130.4" r="0.92" fill="#232da1"/>
<circle cx="91.8" cy="129.8" r="0.92" fill="#3263c5"/>
<circle cx="93.2" cy="129.8" r="0.92" fill="#20238f"/>
<circle cx="95.2" cy="130.3" r="0.92" fill="#20238f"/>
<circle cx="96.1" cy="130.0" r="0.92" fill="#1e197d"/>
<circle cx="96.8" cy="130.3" r="0.92" fill="#232da1"/>
<circle cx="98.8" cy="130.0" r="0.92" fill="#1f1d84"/>
<circle cx="100.0" cy="130.3" r="0.92" fill="#2637b4"/>
<circle cx="100.8" cy="129.9" r="0.92" fill="#20238f"/>
<circle cx="101.9" cy="129.5" r="0.92" fill="#20238f"/>
<circle cx="103.6" cy="130.4" r="0.92" fill="#3263c5"/>
<circle cx="104.5" cy="130.1" r="0.92" fill="#2637b4"/>
<circle cx="105.9" cy="129.6" r="0.92" fill="#1e197d"/>
<circle cx="107.2" cy="130.4" r="0.92" fill="#20238f"/>
<circle cx="108.3" cy="129.8" r="0.92" fill="#3263c5"/>
<circle cx="88.1" cy="131.2" r="0.92" fill="#1e197d"/>
<circle cx="90.0" cy="130.9" r="0.92" fill="#20238f"/>
<circle cx="91.1" cy="131.0" r="0.92" fill="#3263c5"/>
<circle cx="92.4" cy="130.8" r="0.92" fill="#1f1d84"/>
<circle cx="93.5" cy="131.3" r="0.92" fill="#20238f"/>
<circle cx="94.3" cy="130.7" r="0.92" fill="#1e197d"/>
<circle cx="96.3" cy="131.7" r="0.92" fill="#1e197d"/>
<circle cx="97.6" cy="131.5" r="0.92" fill="#2637b4"/>
<circle cx="98.3" cy="131.2" r="0.92" fill="#1e197d"/>
<circle cx="99.7" cy="130.9" r="0.92" fill="#2637b4"/>
<circle cx="100.7" cy="131.6" r="0.92" fill="#2637b4"/>
<circle cx="102.7" cy="131.2" r="0.92" fill="#20238f"/>
<circle cx="103.2" cy="131.2" r="0.92" fill="#20238f"/>
<circle cx="104.6" cy="131.3" r="0.92" fill="#1e197d"/>
<circle cx="106.1" cy="131.2" r="0.92" fill="#3263c5"/>
<circle cx="107.2" cy="131.4" r="0.92" fill="#1e197d"/>
<circle cx="89.3" cy="132.0" r="0.92" fill="#20238f"/>
<circle cx="91.5" cy="132.1" r="0.92" fill="#20238f"/>
<circle cx="92.1" cy="132.6" r="0.92" fill="#2637b4"/>
<circle cx="93.3" cy="132.6" r="0.92" fill="#1f1d84"/>
<circle cx="94.9" cy="132.5" r="0.92" fill="#1f1d84"/>
<circle cx="95.9" cy="132.0" r="0.92" fill="#232da1"/>
<circle cx="97.2" cy="132.5" r="0.92" fill="#2637b4"/>
<circle cx="98.7" cy="132.6" r="0.92" fill="#2637b4"/>
<circle cx="100.1" cy="132.9" r="0.92" fill="#1f1d84"/>
<circle cx="101.4" cy="132.9" r="0.92" fill="#1e197d"/>
<circle cx="102.5" cy="132.2" r="0.92" fill="#232da1"/>
<circle cx="103.8" cy="132.2" r="0.92" fill="#3263c5"/>
<circle cx="105.0" cy="132.2" r="0.92" fill="#20238f"/>
<circle cx="91.2" cy="133.4" r="0.92" fill="#2637b4"/>
<circle cx="92.7" cy="133.3" r="0.92" fill="#1e197d"/>
<circle cx="94.7" cy="133.9" r="0.92" fill="#3263c5"/>
<circle cx="95.7" cy="133.7" r="0.92" fill="#2637b4"/>
<circle cx="97.3" cy="133.4" r="0.92" fill="#1e197d"/>
<circle cx="99.0" cy="133.9" r="0.92" fill="#2637b4"/>
<circle cx="100.0" cy="134.2" r="0.92" fill="#232da1"/>
<circle cx="100.5" cy="133.9" r="0.92" fill="#3263c5"/>
<circle cx="102.3" cy="133.4" r="0.92" fill="#232da1"/>
<circle cx="103.0" cy="134.0" r="0.92" fill="#1e197d"/>
<circle cx="92.3" cy="134.7" r="0.92" fill="#232da1"/>
<circle cx="93.3" cy="134.9" r="0.92" fill="#20238f"/>
<circle cx="96.2" cy="134.5" r="0.92" fill="#20238f"/>
<circle cx="97.2" cy="134.6" r="0.92" fill="#20238f"/>
<circle cx="98.4" cy="134.7" r="0.92" fill="#20238f"/>
<rect x="78.60" y="97.30" width="42.20" height="42.50" fill="none" stroke="#8a8a8a" stroke-width="0.90"/>
<rect x="122.30" y="97.30" width="3.70" height="42.50" fill="url(#jetv)"/>
<text x="128.20" y="100.50" font-size="6.30" fill="#333">483</text>
<text x="128.20" y="110.62" font-size="6.30" fill="#333">129</text>
<text x="128.20" y="120.75" font-size="6.30" fill="#333">35</text>
<text x="128.20" y="130.88" font-size="6.30" fill="#333">9</text>
<text x="128.20" y="141.00" font-size="6.30" fill="#333">0</text>
<text x="157.70" y="93.50" font-size="8.20" fill="#222" textLength="21.30" lengthAdjust="spacingAndGlyphs">OX40</text>
<circle cx="163.9" cy="101.6" r="0.92" fill="#ea6c23"/>
<circle cx="165.8" cy="101.6" r="0.92" fill="#a41917"/>
<circle cx="162.7" cy="102.4" r="0.92" fill="#a41917"/>
<circle cx="163.2" cy="102.5" r="0.92" fill="#e0421f"/>
<circle cx="164.8" cy="102.7" r="0.92" fill="#c7281b"/>
<circle cx="166.1" cy="102.0" r="0.92" fill="#ea6c23"/>
<circle cx="167.5" cy="102.5" r="0.92" fill="#ea6c23"/>
<circle cx="168.1" cy="102.2" r="0.92" fill="#c7281b"/>
<circle cx="170.0" cy="102.9" r="0.92" fill="#c7281b"/>
<circle cx="158.9" cy="104.1" r="0.92" fill="#a41917"/>
<circle cx="159.8" cy="103.7" r="0.92" fill="#c7281b"/>
<circle cx="160.9" cy="104.1" r="0.92" fill="#ea6c23"/>
<circle cx="162.6" cy="104.1" r="0.92" fill="#c7281b"/>
<circle cx="164.0" cy="103.9" r="0.92" fill="#ea6c23"/>
<circle cx="164.9" cy="103.6" r="0.92" fill="#a41917"/>
<circle cx="165.5" cy="103.7" r="0.92" fill="#ea6c23"/>
<circle cx="167.7" cy="104.0" r="0.92" fill="#e0421f"/>
<circle cx="168.5" cy="103.4" r="0.92" fill="#e0421f"/>
<circle cx="169.3" cy="103.8" r="0.92" fill="#c7281b"/>
<circle cx="170.8" cy="103.3" r="0.92" fill="#c7281b"/>
<circle cx="173.7" cy="104.1" r="0.92" fill="#a41917"/>
<circle cx="157.1" cy="105.1" r="0.92" fill="#dade3e"/>
<circle cx="158.8" cy="105.2" r="0.92" fill="#c7281b"/>
<circle cx="160.8" cy="105.4" r="0.92" fill="#2637b4"/>
<circle cx="161.8" cy="104.7" r="0.92" fill="#ea6c23"/>
<circle cx="163.1" cy="105.2" r="0.92" fill="#e0421f"/>
<circle cx="165.2" cy="104.6" r="0.92" fill="#a41917"/>
<circle cx="165.9" cy="104.9" r="0.92" fill="#a41917"/>
<circle cx="167.5" cy="105.4" r="0.92" fill="#4cb2ca"/>
<circle cx="168.0" cy="104.9" r="0.92" fill="#e0421f"/>
<circle cx="169.6" cy="105.0" r="0.92" fill="#a41917"/>
<circle cx="171.4" cy="105.4" r="0.92" fill="#3979ce"/>
<circle cx="172.0" cy="104.7" r="0.92" fill="#ea6c23"/>
<circle cx="174.0" cy="105.0" r="0.92" fill="#c7281b"/>
<circle cx="175.1" cy="105.4" r="0.92" fill="#65c4ad"/>
<circle cx="154.6" cy="106.7" r="0.92" fill="#88ce80"/>
<circle cx="155.9" cy="106.4" r="0.92" fill="#65c4ad"/>
<circle cx="157.1" cy="106.4" r="0.92" fill="#65c4ad"/>
<circle cx="158.2" cy="106.5" r="0.92" fill="#afd65b"/>
<circle cx="160.0" cy="106.3" r="0.92" fill="#2637b4"/>
<circle cx="161.0" cy="106.6" r="0.92" fill="#2637b4"/>
<circle cx="162.2" cy="105.8" r="0.92" fill="#88ce80"/>
<circle cx="163.5" cy="105.8" r="0.92" fill="#65c4ad"/>
<circle cx="165.0" cy="106.3" r="0.92" fill="#afd65b"/>
<circle cx="165.9" cy="106.1" r="0.92" fill="#3979ce"/>
<circle cx="167.4" cy="105.9" r="0.92" fill="#65c4ad"/>
<circle cx="168.8" cy="106.4" r="0.92" fill="#4cb2ca"/>
<circle cx="170.2" cy="106.4" r="0.92" fill="#65c4ad"/>
<circle cx="170.9" cy="105.9" r="0.92" fill="#2637b4"/>
<circle cx="172.7" cy="106.5" r="0.92" fill="#afd65b"/>
<circle cx="174.3" cy="105.8" r="0.92" fill="#65c4ad"/>
<circle cx="175.8" cy="106.0" r="0.92" fill="#3979ce"/>
<circle cx="176.9" cy="106.7" r="0.92" fill="#65c4ad"/>
<circle cx="153.9" cy="107.4" r="0.92" fill="#dade3e"/>
<circle cx="154.5" cy="107.1" r="0.92" fill="#65c4ad"/>
<circle cx="155.6" cy="107.1" r="0.92" fill="#2637b4"/>
<circle cx="157.3" cy="107.0" r="0.92" fill="#3979ce"/>
<circle cx="158.7" cy="107.7" r="0.92" fill="#3979ce"/>
<circle cx="159.4" cy="107.9" r="0.92" fill="#65c4ad"/>
<circle cx="160.8" cy="107.4" r="0.92" fill="#4cb2ca"/>
<circle cx="162.6" cy="107.8" r="0.92" fill="#afd65b"/>
<circle cx="163.9" cy="107.8" r="0.92" fill="#4cb2ca"/>
<circle cx="164.9" cy="107.8" r="0.92" fill="#dade3e"/>
<circle cx="165.7" cy="107.6" r="0.92" fill="#4cb2ca"/>
<circle cx="167.3" cy="107.2" r="0.92" fill="#2637b4"/>
<circle cx="168.9" cy="107.8" r="0.92" fill="#afd65b"/>
<circle cx="170.0" cy="107.7" r="0.92" fill="#65c4ad"/>
<circle cx="171.0" cy="107.1" r="0.92" fill="#88ce80"/>
<circle cx="172.0" cy="107.9" r="0.92" fill="#4cb2ca"/>
<circle cx="173.5" cy="107.3" r="0.92" fill="#afd65b"/>
<circle cx="174.4" cy="107.5" r="0.92" fill="#4cb2ca"/>
<circle cx="175.9" cy="107.1" r="0.92" fill="#65c4ad"/>
<circle cx="176.8" cy="107.5" r="0.92" fill="#dade3e"/>
<circle cx="153.7" cy="109.0" r="0.92" fill="#4cb2ca"/>
<circle cx="154.4" cy="108.8" r="0.92" fill="#88ce80"/>
<circle cx="155.9" cy="108.7" r="0.92" fill="#65c4ad"/>
<circle cx="157.6" cy="108.5" r="0.92" fill="#dade3e"/>
<circle cx="158.7" cy="108.3" r="0.92" fill="#88ce80"/>
<circle cx="159.9" cy="108.2" r="0.92" fill="#65c4ad"/>
<circle cx="161.2" cy="108.9" r="0.92" fill="#2637b4"/>
<circle cx="162.3" cy="108.7" r="0.92" fill="#65c4ad"/>
<circle cx="163.7" cy="108.3" r="0.92" fill="#2637b4"/>
<circle cx="165.1" cy="109.0" r="0.92" fill="#afd65b"/>
<circle cx="165.8" cy="109.0" r="0.92" fill="#4cb2ca"/>
<circle cx="168.9" cy="108.8" r="0.92" fill="#4cb2ca"/>
<circle cx="169.5" cy="108.4" r="0.92" fill="#88ce80"/>
<circle cx="170.7" cy="109.1" r="0.92" fill="#2637b4"/>
<circle cx="172.4" cy="108.3" r="0.92" fill="#4cb2ca"/>
<circle cx="173.5" cy="108.5" r="0.92" fill="#65c4ad"/>
<circle cx="174.9" cy="108.3" r="0.92" fill="#afd65b"/>
<circle cx="176.3" cy="108.4" r="0.92" fill="#65c4ad"/>
<circle cx="177.4" cy="109.0" r="0.92" fill="#dade3e"/>
<circle cx="152.5" cy="109.5" r="0.92" fill="#3979ce"/>
<circle cx="153.3" cy="110.2" r="0.92" fill="#afd65b"/>
<circle cx="154.3" cy="110.1" r="0.92" fill="#88ce80"/>
<circle cx="156.3" cy="110.2" r="0.92" fill="#3979ce"/>
<circle cx="157.4" cy="110.3" r="0.92" fill="#2637b4"/>
<circle cx="158.7" cy="110.2" r="0.92" fill="#afd65b"/>
<circle cx="160.1" cy="110.4" r="0.92" fill="#3979ce"/>
<circle cx="160.7" cy="110.2" r="0.92" fill="#2637b4"/>
<circle cx="163.3" cy="110.0" r="0.92" fill="#2637b4"/>
<circle cx="164.4" cy="109.8" r="0.92" fill="#65c4ad"/>
<circle cx="167.2" cy="109.7" r="0.92" fill="#3979ce"/>
<circle cx="168.1" cy="110.3" r="0.92" fill="#3979ce"/>
<circle cx="169.6" cy="109.9" r="0.92" fill="#afd65b"/>
<circle cx="171.0" cy="110.0" r="0.92" fill="#4cb2ca"/>
<circle cx="172.5" cy="109.8" r="0.92" fill="#88ce80"/>
<circle cx="173.2" cy="109.6" r="0.92" fill="#dade3e"/>
<circle cx="175.2" cy="110.4" r="0.92" fill="#afd65b"/>
<circle cx="175.9" cy="110.2" r="0.92" fill="#4cb2ca"/>
<circle cx="177.1" cy="109.9" r="0.92" fill="#88ce80"/>
<circle cx="178.3" cy="109.9" r="0.92" fill="#afd65b"/>
<circle cx="179.5" cy="110.1" r="0.92" fill="#3979ce"/>
<circle cx="151.9" cy="111.6" r="0.92" fill="#4cb2ca"/>
<circle cx="153.6" cy="111.4" r="0.92" fill="#4cb2ca"/>
<circle cx="154.8" cy="110.9" r="0.92" fill="#afd65b"/>
<circle cx="155.7" cy="111.4" r="0.92" fill="#88ce80"/>
<circle cx="157.5" cy="111.7" r="0.92" fill="#dade3e"/>
<circle cx="159.8" cy="110.8" r="0.92" fill="#3979ce"/>
<circle cx="161.4" cy="111.2" r="0.92" fill="#afd65b"/>
<circle cx="162.1" cy="111.1" r="0.92" fill="#afd65b"/>
<circle cx="163.7" cy="111.4" r="0.92" fill="#dade3e"/>
<circle cx="165.1" cy="111.4" r="0.92" fill="#3979ce"/>
<circle cx="165.7" cy="110.7" r="0.92" fill="#afd65b"/>
<circle cx="167.4" cy="110.9" r="0.92" fill="#65c4ad"/>
<circle cx="168.6" cy="111.2" r="0.92" fill="#3979ce"/>
<circle cx="169.4" cy="111.7" r="0.92" fill="#dade3e"/>
<circle cx="171.2" cy="110.7" r="0.92" fill="#88ce80"/>
<circle cx="172.4" cy="111.6" r="0.92" fill="#4cb2ca"/>
<circle cx="173.4" cy="111.5" r="0.92" fill="#afd65b"/>
<circle cx="174.3" cy="111.2" r="0.92" fill="#65c4ad"/>
<circle cx="176.1" cy="110.9" r="0.92" fill="#afd65b"/>
<circle cx="176.8" cy="111.5" r="0.92" fill="#afd65b"/>
<circle cx="178.1" cy="111.4" r="0.92" fill="#dade3e"/>
<circle cx="179.7" cy="111.4" r="0.92" fill="#2637b4"/>
<circle cx="152.1" cy="112.4" r="0.92" fill="#65c4ad"/>
<circle cx="153.1" cy="112.0" r="0.92" fill="#3979ce"/>
<circle cx="154.7" cy="112.3" r="0.92" fill="#2637b4"/>
<circle cx="156.0" cy="112.0" r="0.92" fill="#65c4ad"/>
<circle cx="156.8" cy="112.3" r="0.92" fill="#dade3e"/>
<circle cx="159.0" cy="112.3" r="0.92" fill="#3979ce"/>
<circle cx="160.2" cy="112.5" r="0.92" fill="#2637b4"/>
<circle cx="160.6" cy="112.4" r="0.92" fill="#2637b4"/>
<circle cx="162.5" cy="112.5" r="0.92" fill="#88ce80"/>
<circle cx="163.4" cy="112.6" r="0.92" fill="#88ce80"/>
<circle cx="165.0" cy="112.2" r="0.92" fill="#afd65b"/>
<circle cx="165.6" cy="112.6" r="0.92" fill="#3979ce"/>
<circle cx="167.2" cy="112.4" r="0.92" fill="#88ce80"/>
<circle cx="168.2" cy="112.3" r="0.92" fill="#afd65b"/>
<circle cx="170.0" cy="112.8" r="0.92" fill="#2637b4"/>
<circle cx="171.5" cy="112.5" r="0.92" fill="#afd65b"/>
<circle cx="172.7" cy="112.9" r="0.92" fill="#3979ce"/>
<circle cx="173.4" cy="112.4" r="0.92" fill="#88ce80"/>
<circle cx="174.3" cy="112.6" r="0.92" fill="#4cb2ca"/>
<circle cx="175.9" cy="112.7" r="0.92" fill="#afd65b"/>
<circle cx="177.7" cy="112.7" r="0.92" fill="#65c4ad"/>
<circle cx="178.5" cy="112.3" r="0.92" fill="#2637b4"/>
<circle cx="179.7" cy="112.0" r="0.92" fill="#2637b4"/>
<circle cx="153.9" cy="113.7" r="0.92" fill="#1f1d84"/>
<circle cx="154.9" cy="113.6" r="0.92" fill="#4294cf"/>
<circle cx="155.9" cy="113.4" r="0.92" fill="#4294cf"/>
<circle cx="156.9" cy="113.8" r="0.92" fill="#1f1d84"/>
<circle cx="158.2" cy="114.2" r="0.92" fill="#2c4dbc"/>
<circle cx="159.7" cy="113.5" r="0.92" fill="#1f1d84"/>
<circle cx="161.2" cy="113.5" r="0.92" fill="#232da1"/>
<circle cx="162.0" cy="113.5" r="0.92" fill="#232da1"/>
<circle cx="163.7" cy="114.1" r="0.92" fill="#20238f"/>
<circle cx="164.7" cy="114.2" r="0.92" fill="#232da1"/>
<circle cx="166.2" cy="113.5" r="0.92" fill="#4294cf"/>
<circle cx="167.6" cy="113.3" r="0.92" fill="#4294cf"/>
<circle cx="168.1" cy="113.3" r="0.92" fill="#232da1"/>
<circle cx="170.2" cy="113.9" r="0.92" fill="#1f1d84"/>
<circle cx="171.1" cy="113.8" r="0.92" fill="#2c4dbc"/>
<circle cx="172.1" cy="113.7" r="0.92" fill="#2c4dbc"/>
<circle cx="173.3" cy="113.4" r="0.92" fill="#4294cf"/>
<circle cx="174.7" cy="113.3" r="0.92" fill="#1f1d84"/>
<circle cx="176.1" cy="113.3" r="0.92" fill="#1f1d84"/>
<circle cx="178.9" cy="113.6" r="0.92" fill="#1f1d84"/>
<circle cx="180.2" cy="114.0" r="0.92" fill="#4294cf"/>
<circle cx="152.4" cy="114.5" r="0.92" fill="#20238f"/>
<circle cx="154.0" cy="115.3" r="0.92" fill="#232da1"/>
<circle cx="154.5" cy="115.3" r="0.92" fill="#232da1"/>
<circle cx="155.8" cy="114.8" r="0.92" fill="#20238f"/>
<circle cx="157.4" cy="114.8" r="0.92" fill="#1f1d84"/>
<circle cx="158.6" cy="114.5" r="0.92" fill="#2637b4"/>
<circle cx="160.2" cy="114.8" r="0.92" fill="#1f1d84"/>
<circle cx="161.5" cy="114.6" r="0.92" fill="#2c4dbc"/>
<circle cx="162.7" cy="114.7" r="0.92" fill="#1f1d84"/>
<circle cx="163.7" cy="114.8" r="0.92" fill="#1f1d84"/>
<circle cx="164.6" cy="115.1" r="0.92" fill="#1f1d84"/>
<circle cx="166.2" cy="115.4" r="0.92" fill="#1f1d84"/>
<circle cx="168.0" cy="115.0" r="0.92" fill="#232da1"/>
<circle cx="169.6" cy="115.4" r="0.92" fill="#232da1"/>
<circle cx="171.4" cy="115.0" r="0.92" fill="#232da1"/>
<circle cx="172.0" cy="115.4" r="0.92" fill="#232da1"/>
<circle cx="173.2" cy="115.1" r="0.92" fill="#232da1"/>
<circle cx="174.7" cy="114.7" r="0.92" fill="#2637b4"/>
<circle cx="176.3" cy="115.0" r="0.92" fill="#20238f"/>
<circle cx="177.2" cy="114.9" r="0.92" fill="#232da1"/>
<circle cx="178.0" cy="114.5" r="0.92" fill="#1f1d84"/>
<circle cx="180.2" cy="115.4" r="0.92" fill="#232da1"/>
<circle cx="152.7" cy="115.9" r="0.92" fill="#4294cf"/>
<circle cx="153.4" cy="116.5" r="0.92" fill="#2637b4"/>
<circle cx="155.2" cy="116.4" r="0.92" fill="#20238f"/>
<circle cx="156.2" cy="115.7" r="0.92" fill="#2637b4"/>
<circle cx="157.0" cy="116.1" r="0.92" fill="#1f1d84"/>
<circle cx="158.7" cy="116.7" r="0.92" fill="#2637b4"/>
<circle cx="160.1" cy="116.4" r="0.92" fill="#232da1"/>
<circle cx="161.0" cy="115.8" r="0.92" fill="#1f1d84"/>
<circle cx="162.5" cy="115.9" r="0.92" fill="#1f1d84"/>
<circle cx="163.3" cy="115.9" r="0.92" fill="#232da1"/>
<circle cx="164.6" cy="116.1" r="0.92" fill="#1f1d84"/>
<circle cx="167.3" cy="116.0" r="0.92" fill="#232da1"/>
<circle cx="168.5" cy="115.8" r="0.92" fill="#1f1d84"/>
<circle cx="170.0" cy="116.1" r="0.92" fill="#20238f"/>
<circle cx="171.1" cy="116.1" r="0.92" fill="#20238f"/>
<circle cx="172.1" cy="116.1" r="0.92" fill="#2c4dbc"/>
<circle cx="173.8" cy="116.0" r="0.92" fill="#1f1d84"/>
<circle cx="175.1" cy="116.0" r="0.92" fill="#1f1d84"/>
<circle cx="176.2" cy="115.9" r="0.92" fill="#2c4dbc"/>
<circle cx="177.1" cy="116.1" r="0.92" fill="#232da1"/>
<circle cx="178.2" cy="115.9" r="0.92" fill="#1f1d84"/>
<circle cx="151.8" cy="117.6" r="0.92" fill="#20238f"/>
<circle cx="153.8" cy="117.7" r="0.92" fill="#20238f"/>
<circle cx="154.3" cy="117.2" r="0.92" fill="#4294cf"/>
<circle cx="156.1" cy="117.9" r="0.92" fill="#1f1d84"/>
<circle cx="157.5" cy="117.8" r="0.92" fill="#20238f"/>
<circle cx="158.4" cy="117.4" r="0.92" fill="#20238f"/>
<circle cx="160.1" cy="117.8" r="0.92" fill="#2c4dbc"/>
<circle cx="160.6" cy="117.0" r="0.92" fill="#1f1d84"/>
<circle cx="164.7" cy="117.2" r="0.92" fill="#232da1"/>
<circle cx="166.3" cy="117.7" r="0.92" fill="#20238f"/>
<circle cx="167.4" cy="117.5" r="0.92" fill="#2637b4"/>
<circle cx="169.0" cy="117.4" r="0.92" fill="#232da1"/>
<circle cx="169.3" cy="117.8" r="0.92" fill="#20238f"/>
<circle cx="170.7" cy="117.5" r="0.92" fill="#1f1d84"/>
<circle cx="172.6" cy="117.0" r="0.92" fill="#20238f"/>
<circle cx="173.6" cy="117.1" r="0.92" fill="#1f1d84"/>
<circle cx="174.4" cy="117.8" r="0.92" fill="#232da1"/>
<circle cx="176.2" cy="117.9" r="0.92" fill="#232da1"/>
<circle cx="177.7" cy="117.7" r="0.92" fill="#1f1d84"/>
<circle cx="178.0" cy="117.0" r="0.92" fill="#20238f"/>
<circle cx="179.7" cy="117.3" r="0.92" fill="#4294cf"/>
<circle cx="181.1" cy="117.6" r="0.92" fill="#232da1"/>
<circle cx="182.2" cy="117.5" r="0.92" fill="#4294cf"/>
<circle cx="151.8" cy="118.8" r="0.92" fill="#1f1d84"/>
<circle cx="153.6" cy="118.9" r="0.92" fill="#1f1d84"/>
<circle cx="154.3" cy="118.7" r="0.92" fill="#232da1"/>
<circle cx="155.7" cy="119.0" r="0.92" fill="#20238f"/>
<circle cx="157.6" cy="119.0" r="0.92" fill="#1f1d84"/>
<circle cx="158.3" cy="119.2" r="0.92" fill="#1f1d84"/>
<circle cx="159.9" cy="119.1" r="0.92" fill="#4294cf"/>
<circle cx="160.8" cy="119.0" r="0.92" fill="#232da1"/>
<circle cx="162.7" cy="118.3" r="0.92" fill="#232da1"/>
<circle cx="163.2" cy="118.8" r="0.92" fill="#232da1"/>
<circle cx="165.1" cy="119.0" r="0.92" fill="#2c4dbc"/>
<circle cx="166.3" cy="118.9" r="0.92" fill="#4294cf"/>
<circle cx="167.5" cy="119.0" r="0.92" fill="#2637b4"/>
<circle cx="168.5" cy="119.1" r="0.92" fill="#1f1d84"/>
<circle cx="169.6" cy="119.0" r="0.92" fill="#20238f"/>
<circle cx="170.6" cy="118.4" r="0.92" fill="#20238f"/>
<circle cx="171.9" cy="118.7" r="0.92" fill="#1f1d84"/>
<circle cx="173.2" cy="118.5" r="0.92" fill="#232da1"/>
<circle cx="174.3" cy="118.5" r="0.92" fill="#20238f"/>
<circle cx="176.2" cy="118.7" r="0.92" fill="#2c4dbc"/>
<circle cx="177.6" cy="118.9" r="0.92" fill="#2c4dbc"/>
<circle cx="178.9" cy="118.9" r="0.92" fill="#2c4dbc"/>
<circle cx="179.8" cy="118.4" r="0.92" fill="#20238f"/>
<circle cx="181.4" cy="118.8" r="0.92" fill="#20238f"/>
<circle cx="182.7" cy="118.2" r="0.92" fill="#232da1"/>
<circle cx="152.7" cy="119.8" r="0.92" fill="#20238f"/>
<circle cx="153.7" cy="119.8" r="0.92" fill="#20238f"/>
<circle cx="154.3" cy="120.2" r="0.92" fill="#2c4dbc"/>
<circle cx="156.1" cy="119.7" r="0.92" fill="#1f1d84"/>
<circle cx="157.1" cy="120.1" r="0.92" fill="#1f1d84"/>
<circle cx="158.3" cy="119.9" r="0.92" fill="#232da1"/>
<circle cx="159.3" cy="120.4" r="0.92" fill="#20238f"/>
<circle cx="162.5" cy="120.0" r="0.92" fill="#1f1d84"/>
<circle cx="163.7" cy="120.3" r="0.92" fill="#232da1"/>
<circle cx="164.6" cy="120.2" r="0.92" fill="#20238f"/>
<circle cx="167.6" cy="119.7" r="0.92" fill="#20238f"/>
<circle cx="168.0" cy="120.4" r="0.92" fill="#232da1"/>
<circle cx="169.8" cy="119.5" r="0.92" fill="#20238f"/>
<circle cx="171.0" cy="119.6" r="0.92" fill="#2c4dbc"/>
<circle cx="171.8" cy="120.4" r="0.92" fill="#2637b4"/>
<circle cx="173.3" cy="119.5" r="0.92" fill="#232da1"/>
<circle cx="174.5" cy="120.3" r="0.92" fill="#232da1"/>
<circle cx="175.9" cy="120.0" r="0.92" fill="#232da1"/>
<circle cx="177.2" cy="119.6" r="0.92" fill="#2c4dbc"/>
<circle cx="178.8" cy="120.1" r="0.92" fill="#20238f"/>
<circle cx="179.6" cy="119.7" r="0.92" fill="#20238f"/>
<circle cx="152.4" cy="121.4" r="0.92" fill="#1f1d84"/>
<circle cx="153.8" cy="121.0" r="0.92" fill="#2c4dbc"/>
<circle cx="154.6" cy="121.1" r="0.92" fill="#1f1d84"/>
<circle cx="155.6" cy="121.2" r="0.92" fill="#1f1d84"/>
<circle cx="157.0" cy="121.4" r="0.92" fill="#2637b4"/>
<circle cx="158.7" cy="121.3" r="0.92" fill="#20238f"/>
<circle cx="159.7" cy="120.9" r="0.92" fill="#1f1d84"/>
<circle cx="160.7" cy="120.9" r="0.92" fill="#232da1"/>
<circle cx="162.7" cy="121.3" r="0.92" fill="#2637b4"/>
<circle cx="163.1" cy="121.2" r="0.92" fill="#1f1d84"/>
<circle cx="165.2" cy="121.6" r="0.92" fill="#2637b4"/>
<circle cx="166.3" cy="121.5" r="0.92" fill="#232da1"/>
<circle cx="167.3" cy="120.7" r="0.92" fill="#232da1"/>
<circle cx="168.4" cy="121.2" r="0.92" fill="#20238f"/>
<circle cx="171.4" cy="121.3" r="0.92" fill="#2c4dbc"/>
<circle cx="172.5" cy="121.1" r="0.92" fill="#4294cf"/>
<circle cx="174.0" cy="120.9" r="0.92" fill="#1f1d84"/>
<circle cx="174.9" cy="121.6" r="0.92" fill="#4294cf"/>
<circle cx="175.8" cy="120.8" r="0.92" fill="#20238f"/>
<circle cx="177.4" cy="121.2" r="0.92" fill="#1f1d84"/>
<circle cx="178.6" cy="121.0" r="0.92" fill="#232da1"/>
<circle cx="180.0" cy="120.8" r="0.92" fill="#1f1d84"/>
<circle cx="151.9" cy="122.9" r="0.92" fill="#4294cf"/>
<circle cx="153.9" cy="122.8" r="0.92" fill="#232da1"/>
<circle cx="154.8" cy="122.9" r="0.92" fill="#1f1d84"/>
<circle cx="155.9" cy="122.2" r="0.92" fill="#1f1d84"/>
<circle cx="156.8" cy="122.7" r="0.92" fill="#1f1d84"/>
<circle cx="158.3" cy="122.9" r="0.92" fill="#2637b4"/>
<circle cx="160.7" cy="122.5" r="0.92" fill="#232da1"/>
<circle cx="162.2" cy="122.0" r="0.92" fill="#232da1"/>
<circle cx="163.3" cy="122.8" r="0.92" fill="#1f1d84"/>
<circle cx="164.7" cy="122.5" r="0.92" fill="#232da1"/>
<circle cx="165.9" cy="122.3" r="0.92" fill="#2637b4"/>
<circle cx="167.7" cy="122.1" r="0.92" fill="#1f1d84"/>
<circle cx="168.1" cy="122.1" r="0.92" fill="#20238f"/>
<circle cx="170.1" cy="122.5" r="0.92" fill="#20238f"/>
<circle cx="171.5" cy="122.0" r="0.92" fill="#232da1"/>
<circle cx="171.8" cy="122.7" r="0.92" fill="#4294cf"/>
<circle cx="173.2" cy="122.8" r="0.92" fill="#1f1d84"/>
<circle cx="174.6" cy="122.5" r="0.92" fill="#20238f"/>
<circle cx="175.6" cy="122.4" r="0.92" fill="#20238f"/>
<circle cx="177.0" cy="122.6" r="0.92" fill="#20238f"/>
<circle cx="178.9" cy="122.9" r="0.92" fill="#1f1d84"/>
<circle cx="179.3" cy="122.3" r="0.92" fill="#232da1"/>
<circle cx="151.9" cy="123.9" r="0.92" fill="#2637b4"/>
<circle cx="154.0" cy="124.2" r="0.92" fill="#232da1"/>
<circle cx="154.4" cy="123.6" r="0.92" fill="#1f1d84"/>
<circle cx="155.8" cy="123.5" r="0.92" fill="#232da1"/>
<circle cx="157.5" cy="123.2" r="0.92" fill="#1f1d84"/>
<circle cx="158.5" cy="124.0" r="0.92" fill="#4294cf"/>
<circle cx="160.0" cy="124.2" r="0.92" fill="#232da1"/>
<circle cx="161.5" cy="123.6" r="0.92" fill="#4294cf"/>
<circle cx="162.7" cy="123.2" r="0.92" fill="#1f1d84"/>
<circle cx="163.4" cy="123.4" r="0.92" fill="#232da1"/>
<circle cx="164.8" cy="123.6" r="0.92" fill="#2637b4"/>
<circle cx="167.5" cy="124.1" r="0.92" fill="#1f1d84"/>
<circle cx="168.2" cy="123.3" r="0.92" fill="#1f1d84"/>
<circle cx="169.5" cy="123.5" r="0.92" fill="#20238f"/>
<circle cx="170.8" cy="123.8" r="0.92" fill="#2c4dbc"/>
<circle cx="171.9" cy="123.2" r="0.92" fill="#2637b4"/>
<circle cx="173.2" cy="123.8" r="0.92" fill="#2c4dbc"/>
<circle cx="174.8" cy="123.3" r="0.92" fill="#20238f"/>
<circle cx="176.2" cy="123.6" r="0.92" fill="#1f1d84"/>
<circle cx="177.0" cy="124.1" r="0.92" fill="#232da1"/>
<circle cx="178.9" cy="123.7" r="0.92" fill="#232da1"/>
<circle cx="152.3" cy="125.0" r="0.92" fill="#4294cf"/>
<circle cx="154.0" cy="125.3" r="0.92" fill="#1f1d84"/>
<circle cx="155.1" cy="125.4" r="0.92" fill="#4294cf"/>
<circle cx="156.4" cy="125.2" r="0.92" fill="#232da1"/>
<circle cx="157.1" cy="124.9" r="0.92" fill="#4294cf"/>
<circle cx="158.0" cy="124.6" r="0.92" fill="#20238f"/>
<circle cx="159.8" cy="125.2" r="0.92" fill="#2637b4"/>
<circle cx="161.4" cy="125.3" r="0.92" fill="#20238f"/>
<circle cx="162.7" cy="125.1" r="0.92" fill="#2637b4"/>
<circle cx="163.7" cy="124.6" r="0.92" fill="#4294cf"/>
<circle cx="166.2" cy="124.8" r="0.92" fill="#1f1d84"/>
<circle cx="167.4" cy="124.6" r="0.92" fill="#1f1d84"/>
<circle cx="168.9" cy="125.2" r="0.92" fill="#4294cf"/>
<circle cx="169.3" cy="124.8" r="0.92" fill="#20238f"/>
<circle cx="172.4" cy="124.6" r="0.92" fill="#4294cf"/>
<circle cx="173.6" cy="125.1" r="0.92" fill="#1f1d84"/>
<circle cx="175.2" cy="125.4" r="0.92" fill="#232da1"/>
<circle cx="176.1" cy="125.1" r="0.92" fill="#232da1"/>
<circle cx="177.3" cy="125.4" r="0.92" fill="#20238f"/>
<circle cx="178.2" cy="124.7" r="0.92" fill="#232da1"/>
<circle cx="152.5" cy="126.6" r="0.92" fill="#20238f"/>
<circle cx="153.8" cy="126.0" r="0.92" fill="#4294cf"/>
<circle cx="154.9" cy="126.2" r="0.92" fill="#20238f"/>
<circle cx="155.5" cy="125.9" r="0.92" fill="#2637b4"/>
<circle cx="157.1" cy="126.2" r="0.92" fill="#1f1d84"/>
<circle cx="158.3" cy="126.6" r="0.92" fill="#1f1d84"/>
<circle cx="160.2" cy="126.5" r="0.92" fill="#20238f"/>
<circle cx="161.2" cy="125.9" r="0.92" fill="#232da1"/>
<circle cx="162.5" cy="126.2" r="0.92" fill="#232da1"/>
<circle cx="164.0" cy="126.5" r="0.92" fill="#4294cf"/>
<circle cx="165.0" cy="126.1" r="0.92" fill="#20238f"/>
<circle cx="166.3" cy="126.0" r="0.92" fill="#4294cf"/>
<circle cx="167.5" cy="126.2" r="0.92" fill="#232da1"/>
<circle cx="168.5" cy="125.9" r="0.92" fill="#2c4dbc"/>
<circle cx="169.7" cy="126.3" r="0.92" fill="#232da1"/>
<circle cx="172.7" cy="126.0" r="0.92" fill="#20238f"/>
<circle cx="173.0" cy="126.0" r="0.92" fill="#232da1"/>
<circle cx="175.1" cy="125.8" r="0.92" fill="#2637b4"/>
<circle cx="175.6" cy="125.9" r="0.92" fill="#232da1"/>
<circle cx="152.7" cy="127.6" r="0.92" fill="#232da1"/>
<circle cx="153.7" cy="127.7" r="0.92" fill="#232da1"/>
<circle cx="154.6" cy="127.4" r="0.92" fill="#20238f"/>
<circle cx="157.6" cy="127.0" r="0.92" fill="#2637b4"/>
<circle cx="158.6" cy="127.6" r="0.92" fill="#1f1d84"/>
<circle cx="159.7" cy="127.1" r="0.92" fill="#1f1d84"/>
<circle cx="160.7" cy="127.7" r="0.92" fill="#232da1"/>
<circle cx="162.4" cy="127.8" r="0.92" fill="#2637b4"/>
<circle cx="163.8" cy="127.0" r="0.92" fill="#232da1"/>
<circle cx="165.1" cy="127.5" r="0.92" fill="#20238f"/>
<circle cx="166.2" cy="127.5" r="0.92" fill="#232da1"/>
<circle cx="167.1" cy="127.3" r="0.92" fill="#20238f"/>
<circle cx="168.5" cy="127.7" r="0.92" fill="#232da1"/>
<circle cx="169.8" cy="127.2" r="0.92" fill="#2c4dbc"/>
<circle cx="171.2" cy="127.7" r="0.92" fill="#232da1"/>
<circle cx="172.3" cy="127.5" r="0.92" fill="#2c4dbc"/>
<circle cx="174.0" cy="127.6" r="0.92" fill="#1f1d84"/>
<circle cx="174.6" cy="127.6" r="0.92" fill="#2637b4"/>
<circle cx="175.7" cy="127.7" r="0.92" fill="#20238f"/>
<circle cx="152.2" cy="128.3" r="0.92" fill="#232da1"/>
<circle cx="153.2" cy="129.1" r="0.92" fill="#2637b4"/>
<circle cx="154.9" cy="128.6" r="0.92" fill="#232da1"/>
<circle cx="156.0" cy="129.1" r="0.92" fill="#4294cf"/>
<circle cx="157.2" cy="128.3" r="0.92" fill="#4294cf"/>
<circle cx="158.1" cy="129.1" r="0.92" fill="#2c4dbc"/>
<circle cx="160.1" cy="128.8" r="0.92" fill="#2637b4"/>
<circle cx="160.8" cy="128.3" r="0.92" fill="#2c4dbc"/>
<circle cx="162.6" cy="128.3" r="0.92" fill="#2637b4"/>
<circle cx="163.4" cy="128.4" r="0.92" fill="#4294cf"/>
<circle cx="164.5" cy="129.0" r="0.92" fill="#2637b4"/>
<circle cx="166.8" cy="128.7" r="0.92" fill="#2c4dbc"/>
<circle cx="168.4" cy="128.9" r="0.92" fill="#2637b4"/>
<circle cx="169.3" cy="128.7" r="0.92" fill="#20238f"/>
<circle cx="170.9" cy="128.4" r="0.92" fill="#20238f"/>
<circle cx="172.5" cy="128.2" r="0.92" fill="#232da1"/>
<circle cx="173.4" cy="128.4" r="0.92" fill="#20238f"/>
<circle cx="174.5" cy="129.2" r="0.92" fill="#232da1"/>
<circle cx="153.6" cy="130.1" r="0.92" fill="#20238f"/>
<circle cx="154.7" cy="130.1" r="0.92" fill="#232da1"/>
<circle cx="155.7" cy="129.8" r="0.92" fill="#1f1d84"/>
<circle cx="156.9" cy="129.6" r="0.92" fill="#2637b4"/>
<circle cx="158.9" cy="130.3" r="0.92" fill="#20238f"/>
<circle cx="160.2" cy="129.9" r="0.92" fill="#20238f"/>
<circle cx="161.3" cy="130.2" r="0.92" fill="#4294cf"/>
<circle cx="162.7" cy="130.0" r="0.92" fill="#2c4dbc"/>
<circle cx="163.6" cy="129.7" r="0.92" fill="#1f1d84"/>
<circle cx="164.3" cy="129.7" r="0.92" fill="#232da1"/>
<circle cx="166.1" cy="130.2" r="0.92" fill="#2637b4"/>
<circle cx="168.9" cy="129.8" r="0.92" fill="#1f1d84"/>
<circle cx="169.8" cy="129.8" r="0.92" fill="#1f1d84"/>
<circle cx="171.1" cy="130.3" r="0.92" fill="#20238f"/>
<circle cx="172.0" cy="129.9" r="0.92" fill="#232da1"/>
<circle cx="173.8" cy="130.1" r="0.92" fill="#232da1"/>
<circle cx="153.4" cy="131.6" r="0.92" fill="#232da1"/>
<circle cx="154.4" cy="131.6" r="0.92" fill="#232da1"/>
<circle cx="156.3" cy="131.2" r="0.92" fill="#232da1"/>
<circle cx="157.5" cy="131.5" r="0.92" fill="#232da1"/>
<circle cx="158.3" cy="131.6" r="0.92" fill="#4294cf"/>
<circle cx="162.6" cy="130.7" r="0.92" fill="#20238f"/>
<circle cx="163.9" cy="131.0" r="0.92" fill="#20238f"/>
<circle cx="164.4" cy="131.0" r="0.92" fill="#1f1d84"/>
<circle cx="165.8" cy="130.8" r="0.92" fill="#232da1"/>
<circle cx="167.0" cy="130.7" r="0.92" fill="#4294cf"/>
<circle cx="168.8" cy="131.3" r="0.92" fill="#20238f"/>
<circle cx="169.9" cy="131.6" r="0.92" fill="#232da1"/>
<circle cx="170.7" cy="130.9" r="0.92" fill="#2637b4"/>
<circle cx="172.6" cy="131.5" r="0.92" fill="#20238f"/>
<circle cx="156.0" cy="132.3" r="0.92" fill="#2637b4"/>
<circle cx="156.8" cy="132.2" r="0.92" fill="#232da1"/>
<circle cx="158.5" cy="132.6" r="0.92" fill="#232da1"/>
<circle cx="159.4" cy="132.8" r="0.92" fill="#20238f"/>
<circle cx="161.3" cy="132.4" r="0.92" fill="#232da1"/>
<circle cx="162.1" cy="132.2" r="0.92" fill="#4294cf"/>
<circle cx="163.5" cy="132.7" r="0.92" fill="#20238f"/>
<circle cx="164.9" cy="132.8" r="0.92" fill="#232da1"/>
<circle cx="165.9" cy="132.9" r="0.92" fill="#2637b4"/>
<circle cx="167.0" cy="132.9" r="0.92" fill="#4294cf"/>
<circle cx="168.7" cy="132.7" r="0.92" fill="#4294cf"/>
<circle cx="171.1" cy="132.4" r="0.92" fill="#1f1d84"/>
<circle cx="155.8" cy="133.4" r="0.92" fill="#1f1d84"/>
<circle cx="157.5" cy="133.8" r="0.92" fill="#1f1d84"/>
<circle cx="158.6" cy="133.4" r="0.92" fill="#2c4dbc"/>
<circle cx="159.8" cy="133.3" r="0.92" fill="#4294cf"/>
<circle cx="160.6" cy="134.0" r="0.92" fill="#4294cf"/>
<circle cx="162.4" cy="133.7" r="0.92" fill="#1f1d84"/>
<circle cx="163.7" cy="133.9" r="0.92" fill="#1f1d84"/>
<circle cx="165.1" cy="134.1" r="0.92" fill="#2c4dbc"/>
<circle cx="165.7" cy="133.6" r="0.92" fill="#1f1d84"/>
<circle cx="167.1" cy="133.7" r="0.92" fill="#232da1"/>
<circle cx="169.0" cy="133.6" r="0.92" fill="#20238f"/>
<circle cx="158.8" cy="134.6" r="0.92" fill="#1f1d84"/>
<circle cx="159.6" cy="134.6" r="0.92" fill="#4294cf"/>
<circle cx="160.7" cy="134.8" r="0.92" fill="#232da1"/>
<circle cx="162.6" cy="135.3" r="0.92" fill="#20238f"/>
<circle cx="163.3" cy="135.0" r="0.92" fill="#20238f"/>
<circle cx="165.2" cy="134.6" r="0.92" fill="#232da1"/>
<rect x="143.60" y="97.30" width="42.00" height="42.50" fill="none" stroke="#8a8a8a" stroke-width="0.90"/>
<rect x="187.10" y="97.30" width="3.70" height="42.50" fill="url(#jetv)"/>
<text x="193.00" y="100.50" font-size="6.30" fill="#333">88</text>
<text x="193.00" y="110.62" font-size="6.30" fill="#333">36</text>
<text x="193.00" y="120.75" font-size="6.30" fill="#333">14</text>
<text x="193.00" y="130.88" font-size="6.30" fill="#333">5</text>
<text x="193.00" y="141.00" font-size="6.30" fill="#333">0</text>
<text x="219.30" y="93.50" font-size="8.20" fill="#222" textLength="19.70" lengthAdjust="spacingAndGlyphs">TIGIT</text>
<circle cx="224.5" cy="101.5" r="0.92" fill="#e65b22"/>
<circle cx="226.1" cy="101.3" r="0.92" fill="#ea6c23"/>
<circle cx="227.5" cy="101.6" r="0.92" fill="#c7281b"/>
<circle cx="230.0" cy="101.5" r="0.92" fill="#ee7c25"/>
<circle cx="223.5" cy="102.5" r="0.92" fill="#f2a72a"/>
<circle cx="225.1" cy="102.0" r="0.92" fill="#f2a72a"/>
<circle cx="226.4" cy="102.6" r="0.92" fill="#ea6c23"/>
<circle cx="227.2" cy="102.2" r="0.92" fill="#e65b22"/>
<circle cx="228.5" cy="102.2" r="0.92" fill="#f2a72a"/>
<circle cx="230.0" cy="102.2" r="0.92" fill="#f2a72a"/>
<circle cx="230.8" cy="102.9" r="0.92" fill="#c7281b"/>
<circle cx="221.5" cy="104.1" r="0.92" fill="#ee7c25"/>
<circle cx="222.1" cy="104.0" r="0.92" fill="#ee7c25"/>
<circle cx="224.0" cy="103.8" r="0.92" fill="#f2a72a"/>
<circle cx="225.3" cy="103.6" r="0.92" fill="#e0421f"/>
<circle cx="226.5" cy="103.4" r="0.92" fill="#e0421f"/>
<circle cx="227.2" cy="103.9" r="0.92" fill="#ea6c23"/>
<circle cx="228.5" cy="104.1" r="0.92" fill="#ea6c23"/>
<circle cx="230.1" cy="104.1" r="0.92" fill="#e0421f"/>
<circle cx="231.2" cy="103.7" r="0.92" fill="#f2a72a"/>
<circle cx="232.0" cy="103.6" r="0.92" fill="#ea6c23"/>
<circle cx="233.5" cy="103.6" r="0.92" fill="#f2a72a"/>
<circle cx="217.4" cy="105.4" r="0.92" fill="#f2a72a"/>
<circle cx="218.4" cy="105.3" r="0.92" fill="#edcf2f"/>
<circle cx="219.5" cy="105.3" r="0.92" fill="#ee7c25"/>
<circle cx="222.5" cy="105.1" r="0.92" fill="#ee7c25"/>
<circle cx="223.2" cy="105.0" r="0.92" fill="#ea6c23"/>
<circle cx="224.5" cy="105.4" r="0.92" fill="#e65b22"/>
<circle cx="227.3" cy="104.6" r="0.92" fill="#e0421f"/>
<circle cx="229.1" cy="104.8" r="0.92" fill="#ee7c25"/>
<circle cx="229.6" cy="104.7" r="0.92" fill="#e65b22"/>
<circle cx="231.4" cy="104.7" r="0.92" fill="#ea6c23"/>
<circle cx="232.4" cy="105.2" r="0.92" fill="#c7281b"/>
<circle cx="233.7" cy="104.5" r="0.92" fill="#ee7c25"/>
<circle cx="217.5" cy="105.9" r="0.92" fill="#edcf2f"/>
<circle cx="218.9" cy="105.9" r="0.92" fill="#88ce80"/>
<circle cx="220.4" cy="106.4" r="0.92" fill="#88ce80"/>
<circle cx="221.0" cy="105.9" r="0.92" fill="#ee7c25"/>
<circle cx="222.4" cy="105.8" r="0.92" fill="#e0421f"/>
<circle cx="223.9" cy="106.0" r="0.92" fill="#c7281b"/>
<circle cx="225.3" cy="106.3" r="0.92" fill="#f2a72a"/>
<circle cx="226.0" cy="106.3" r="0.92" fill="#ea6c23"/>
<circle cx="227.5" cy="106.0" r="0.92" fill="#c7281b"/>
<circle cx="229.1" cy="105.8" r="0.92" fill="#ea6c23"/>
<circle cx="230.0" cy="105.9" r="0.92" fill="#ea6c23"/>
<circle cx="231.4" cy="106.4" r="0.92" fill="#f2a72a"/>
<circle cx="232.4" cy="106.1" r="0.92" fill="#e0421f"/>
<circle cx="233.9" cy="106.1" r="0.92" fill="#e65b22"/>
<circle cx="236.6" cy="106.6" r="0.92" fill="#f2a72a"/>
<circle cx="237.1" cy="106.3" r="0.92" fill="#f2a72a"/>
<circle cx="215.2" cy="107.1" r="0.92" fill="#f2a72a"/>
<circle cx="216.3" cy="107.2" r="0.92" fill="#f1b22b"/>
<circle cx="217.0" cy="107.8" r="0.92" fill="#dade3e"/>
<circle cx="218.9" cy="107.5" r="0.92" fill="#edcf2f"/>
<circle cx="220.3" cy="107.6" r="0.92" fill="#f2a72a"/>
<circle cx="221.1" cy="107.2" r="0.92" fill="#ee7c25"/>
<circle cx="222.3" cy="107.6" r="0.92" fill="#f2a72a"/>
<circle cx="223.9" cy="107.0" r="0.92" fill="#f2a72a"/>
<circle cx="225.0" cy="107.1" r="0.92" fill="#f2a72a"/>
<circle cx="226.3" cy="107.7" r="0.92" fill="#e0421f"/>
<circle cx="226.9" cy="107.8" r="0.92" fill="#ea6c23"/>
<circle cx="228.7" cy="107.5" r="0.92" fill="#ee7c25"/>
<circle cx="229.8" cy="107.5" r="0.92" fill="#f2a72a"/>
<circle cx="232.9" cy="107.3" r="0.92" fill="#f2a72a"/>
<circle cx="233.3" cy="107.4" r="0.92" fill="#e65b22"/>
<circle cx="235.2" cy="107.5" r="0.92" fill="#ee7c25"/>
<circle cx="236.0" cy="107.6" r="0.92" fill="#ea6c23"/>
<circle cx="237.7" cy="107.3" r="0.92" fill="#ee7c25"/>
<circle cx="214.0" cy="109.1" r="0.92" fill="#2637b4"/>
<circle cx="215.4" cy="108.8" r="0.92" fill="#2c4dbc"/>
<circle cx="216.5" cy="109.0" r="0.92" fill="#232da1"/>
<circle cx="217.7" cy="108.9" r="0.92" fill="#88ce80"/>
<circle cx="218.3" cy="108.3" r="0.92" fill="#ee7c25"/>
<circle cx="219.6" cy="109.2" r="0.92" fill="#88ce80"/>
<circle cx="221.0" cy="108.5" r="0.92" fill="#f2a72a"/>
<circle cx="222.6" cy="108.4" r="0.92" fill="#c7281b"/>
<circle cx="223.7" cy="108.9" r="0.92" fill="#f2a72a"/>
<circle cx="224.5" cy="109.1" r="0.92" fill="#f2a72a"/>
<circle cx="226.1" cy="109.2" r="0.92" fill="#e0421f"/>
<circle cx="227.6" cy="108.7" r="0.92" fill="#ee7c25"/>
<circle cx="228.9" cy="108.2" r="0.92" fill="#ee7c25"/>
<circle cx="229.5" cy="108.8" r="0.92" fill="#e65b22"/>
<circle cx="231.0" cy="109.1" r="0.92" fill="#f2a72a"/>
<circle cx="232.5" cy="108.6" r="0.92" fill="#c7281b"/>
<circle cx="233.5" cy="109.0" r="0.92" fill="#e65b22"/>
<circle cx="235.3" cy="108.3" r="0.92" fill="#f2a72a"/>
<circle cx="236.1" cy="108.5" r="0.92" fill="#ea6c23"/>
<circle cx="237.4" cy="108.3" r="0.92" fill="#e0421f"/>
<circle cx="238.8" cy="109.1" r="0.92" fill="#f2a72a"/>
<circle cx="240.1" cy="109.1" r="0.92" fill="#ee7c25"/>
<circle cx="215.3" cy="109.8" r="0.92" fill="#232da1"/>
<circle cx="216.2" cy="109.5" r="0.92" fill="#2637b4"/>
<circle cx="217.3" cy="110.1" r="0.92" fill="#88ce80"/>
<circle cx="218.5" cy="109.5" r="0.92" fill="#dade3e"/>
<circle cx="219.9" cy="109.6" r="0.92" fill="#f1b22b"/>
<circle cx="221.9" cy="110.0" r="0.92" fill="#88ce80"/>
<circle cx="223.3" cy="109.9" r="0.92" fill="#ea6c23"/>
<circle cx="224.5" cy="110.1" r="0.92" fill="#e65b22"/>
<circle cx="226.1" cy="109.6" r="0.92" fill="#ee7c25"/>
<circle cx="227.0" cy="109.6" r="0.92" fill="#e0421f"/>
<circle cx="230.4" cy="110.1" r="0.92" fill="#f2a72a"/>
<circle cx="231.3" cy="109.5" r="0.92" fill="#e0421f"/>
<circle cx="231.9" cy="109.8" r="0.92" fill="#f2a72a"/>
<circle cx="233.7" cy="110.4" r="0.92" fill="#ea6c23"/>
<circle cx="235.0" cy="110.0" r="0.92" fill="#ee7c25"/>
<circle cx="235.8" cy="110.3" r="0.92" fill="#e0421f"/>
<circle cx="237.3" cy="109.9" r="0.92" fill="#ee7c25"/>
<circle cx="238.3" cy="109.8" r="0.92" fill="#ea6c23"/>
<circle cx="239.9" cy="109.5" r="0.92" fill="#c7281b"/>
<circle cx="214.1" cy="110.9" r="0.92" fill="#2637b4"/>
<circle cx="214.9" cy="111.7" r="0.92" fill="#3979ce"/>
<circle cx="217.8" cy="111.6" r="0.92" fill="#ee7c25"/>
<circle cx="218.9" cy="110.8" r="0.92" fill="#edcf2f"/>
<circle cx="219.5" cy="111.5" r="0.92" fill="#f2a72a"/>
<circle cx="220.9" cy="111.5" r="0.92" fill="#edcf2f"/>
<circle cx="222.6" cy="111.3" r="0.92" fill="#e65b22"/>
<circle cx="224.0" cy="111.4" r="0.92" fill="#ea6c23"/>
<circle cx="224.9" cy="111.6" r="0.92" fill="#f2a72a"/>
<circle cx="227.2" cy="110.7" r="0.92" fill="#c7281b"/>
<circle cx="228.2" cy="110.7" r="0.92" fill="#f2a72a"/>
<circle cx="229.9" cy="110.8" r="0.92" fill="#ea6c23"/>
<circle cx="232.7" cy="111.1" r="0.92" fill="#c7281b"/>
<circle cx="233.4" cy="111.2" r="0.92" fill="#f2a72a"/>
<circle cx="234.5" cy="111.3" r="0.92" fill="#ee7c25"/>
<circle cx="235.8" cy="110.8" r="0.92" fill="#c7281b"/>
<circle cx="237.3" cy="110.8" r="0.92" fill="#ee7c25"/>
<circle cx="239.1" cy="111.1" r="0.92" fill="#e0421f"/>
<circle cx="239.6" cy="111.5" r="0.92" fill="#ee7c25"/>
<circle cx="214.0" cy="112.8" r="0.92" fill="#232da1"/>
<circle cx="215.1" cy="112.3" r="0.92" fill="#232da1"/>
<circle cx="215.9" cy="112.8" r="0.92" fill="#232da1"/>
<circle cx="216.9" cy="112.9" r="0.92" fill="#2c4dbc"/>
<circle cx="218.5" cy="112.9" r="0.92" fill="#edcf2f"/>
<circle cx="220.1" cy="112.3" r="0.92" fill="#edcf2f"/>
<circle cx="221.1" cy="112.2" r="0.92" fill="#88ce80"/>
<circle cx="222.5" cy="112.8" r="0.92" fill="#e0421f"/>
<circle cx="224.9" cy="112.1" r="0.92" fill="#ea6c23"/>
<circle cx="227.3" cy="112.5" r="0.92" fill="#ee7c25"/>
<circle cx="228.4" cy="112.5" r="0.92" fill="#ea6c23"/>
<circle cx="229.9" cy="112.9" r="0.92" fill="#f2a72a"/>
<circle cx="231.0" cy="112.3" r="0.92" fill="#ee7c25"/>
<circle cx="232.8" cy="112.3" r="0.92" fill="#f2a72a"/>
<circle cx="233.7" cy="112.9" r="0.92" fill="#e0421f"/>
<circle cx="234.9" cy="112.1" r="0.92" fill="#ee7c25"/>
<circle cx="236.2" cy="112.2" r="0.92" fill="#c7281b"/>
<circle cx="237.3" cy="112.6" r="0.92" fill="#ea6c23"/>
<circle cx="238.4" cy="112.8" r="0.92" fill="#ea6c23"/>
<circle cx="240.1" cy="112.2" r="0.92" fill="#ea6c23"/>
<circle cx="241.4" cy="112.4" r="0.92" fill="#e0421f"/>
<circle cx="213.4" cy="113.3" r="0.92" fill="#3979ce"/>
<circle cx="214.8" cy="113.8" r="0.92" fill="#3979ce"/>
<circle cx="216.2" cy="114.1" r="0.92" fill="#3979ce"/>
<circle cx="217.3" cy="113.5" r="0.92" fill="#f2a72a"/>
<circle cx="219.1" cy="113.9" r="0.92" fill="#f1b22b"/>
<circle cx="220.0" cy="113.4" r="0.92" fill="#edcf2f"/>
<circle cx="221.6" cy="113.3" r="0.92" fill="#88ce80"/>
<circle cx="222.2" cy="113.6" r="0.92" fill="#ea6c23"/>
<circle cx="223.9" cy="113.7" r="0.92" fill="#e65b22"/>
<circle cx="225.2" cy="113.5" r="0.92" fill="#e65b22"/>
<circle cx="226.5" cy="113.8" r="0.92" fill="#e0421f"/>
<circle cx="227.3" cy="113.9" r="0.92" fill="#ee7c25"/>
<circle cx="228.2" cy="113.7" r="0.92" fill="#e65b22"/>
<circle cx="229.8" cy="114.1" r="0.92" fill="#ee7c25"/>
<circle cx="231.5" cy="113.6" r="0.92" fill="#c7281b"/>
<circle cx="232.2" cy="114.0" r="0.92" fill="#c7281b"/>
<circle cx="233.4" cy="113.6" r="0.92" fill="#e0421f"/>
<circle cx="234.8" cy="113.3" r="0.92" fill="#ea6c23"/>
<circle cx="235.7" cy="113.9" r="0.92" fill="#c7281b"/>
<circle cx="237.6" cy="113.6" r="0.92" fill="#e0421f"/>
<circle cx="238.7" cy="114.2" r="0.92" fill="#ee7c25"/>
<circle cx="240.2" cy="114.0" r="0.92" fill="#ea6c23"/>
<circle cx="241.4" cy="113.4" r="0.92" fill="#ee7c25"/>
<circle cx="213.8" cy="115.1" r="0.92" fill="#232da1"/>
<circle cx="215.3" cy="114.6" r="0.92" fill="#3979ce"/>
<circle cx="216.2" cy="115.0" r="0.92" fill="#2c4dbc"/>
<circle cx="217.1" cy="114.9" r="0.92" fill="#232da1"/>
<circle cx="219.1" cy="115.2" r="0.92" fill="#dade3e"/>
<circle cx="219.7" cy="115.4" r="0.92" fill="#ee7c25"/>
<circle cx="221.2" cy="115.4" r="0.92" fill="#f1b22b"/>
<circle cx="222.8" cy="115.2" r="0.92" fill="#ea6c23"/>
<circle cx="223.7" cy="115.0" r="0.92" fill="#e0421f"/>
<circle cx="225.1" cy="114.8" r="0.92" fill="#ee7c25"/>
<circle cx="226.4" cy="114.9" r="0.92" fill="#ee7c25"/>
<circle cx="227.2" cy="114.6" r="0.92" fill="#e0421f"/>
<circle cx="228.6" cy="114.5" r="0.92" fill="#ea6c23"/>
<circle cx="230.1" cy="114.6" r="0.92" fill="#e65b22"/>
<circle cx="231.2" cy="114.7" r="0.92" fill="#e65b22"/>
<circle cx="232.4" cy="114.6" r="0.92" fill="#ee7c25"/>
<circle cx="233.8" cy="115.1" r="0.92" fill="#e65b22"/>
<circle cx="234.4" cy="114.5" r="0.92" fill="#e0421f"/>
<circle cx="236.5" cy="115.0" r="0.92" fill="#f2a72a"/>
<circle cx="237.4" cy="114.6" r="0.92" fill="#e65b22"/>
<circle cx="238.7" cy="114.5" r="0.92" fill="#ea6c23"/>
<circle cx="240.4" cy="115.0" r="0.92" fill="#c7281b"/>
<circle cx="241.2" cy="114.6" r="0.92" fill="#f2a72a"/>
<circle cx="214.1" cy="116.0" r="0.92" fill="#2c4dbc"/>
<circle cx="214.8" cy="116.3" r="0.92" fill="#3979ce"/>
<circle cx="215.7" cy="116.4" r="0.92" fill="#2c4dbc"/>
<circle cx="217.6" cy="116.4" r="0.92" fill="#88ce80"/>
<circle cx="219.1" cy="116.6" r="0.92" fill="#dade3e"/>
<circle cx="220.0" cy="116.4" r="0.92" fill="#ee7c25"/>
<circle cx="222.9" cy="115.8" r="0.92" fill="#ea6c23"/>
<circle cx="223.6" cy="116.6" r="0.92" fill="#ee7c25"/>
<circle cx="224.7" cy="116.6" r="0.92" fill="#c7281b"/>
<circle cx="226.5" cy="115.9" r="0.92" fill="#c7281b"/>
<circle cx="227.8" cy="115.9" r="0.92" fill="#ea6c23"/>
<circle cx="229.9" cy="115.9" r="0.92" fill="#c7281b"/>
<circle cx="231.4" cy="116.6" r="0.92" fill="#e0421f"/>
<circle cx="232.8" cy="116.4" r="0.92" fill="#ee7c25"/>
<circle cx="233.6" cy="115.8" r="0.92" fill="#ee7c25"/>
<circle cx="234.8" cy="116.6" r="0.92" fill="#ee7c25"/>
<circle cx="236.3" cy="116.2" r="0.92" fill="#ee7c25"/>
<circle cx="237.9" cy="116.5" r="0.92" fill="#ea6c23"/>
<circle cx="238.4" cy="116.0" r="0.92" fill="#e0421f"/>
<circle cx="239.9" cy="116.6" r="0.92" fill="#c7281b"/>
<circle cx="240.9" cy="116.7" r="0.92" fill="#e0421f"/>
<circle cx="242.2" cy="115.9" r="0.92" fill="#f2a72a"/>
<circle cx="212.7" cy="117.5" r="0.92" fill="#3979ce"/>
<circle cx="214.0" cy="117.6" r="0.92" fill="#2637b4"/>
<circle cx="215.1" cy="117.3" r="0.92" fill="#2c4dbc"/>
<circle cx="216.1" cy="117.6" r="0.92" fill="#232da1"/>
<circle cx="217.4" cy="117.8" r="0.92" fill="#f1b22b"/>
<circle cx="218.8" cy="117.1" r="0.92" fill="#edcf2f"/>
<circle cx="220.2" cy="117.5" r="0.92" fill="#dade3e"/>
<circle cx="220.9" cy="117.9" r="0.92" fill="#88ce80"/>
<circle cx="222.1" cy="117.5" r="0.92" fill="#edcf2f"/>
<circle cx="223.3" cy="117.1" r="0.92" fill="#e65b22"/>
<circle cx="225.8" cy="117.3" r="0.92" fill="#e65b22"/>
<circle cx="227.5" cy="117.4" r="0.92" fill="#f2a72a"/>
<circle cx="229.5" cy="117.4" r="0.92" fill="#e0421f"/>
<circle cx="231.6" cy="117.2" r="0.92" fill="#ee7c25"/>
<circle cx="232.8" cy="117.4" r="0.92" fill="#c7281b"/>
<circle cx="233.4" cy="117.2" r="0.92" fill="#ee7c25"/>
<circle cx="234.6" cy="117.8" r="0.92" fill="#e65b22"/>
<circle cx="236.2" cy="117.3" r="0.92" fill="#e0421f"/>
<circle cx="237.7" cy="117.4" r="0.92" fill="#e0421f"/>
<circle cx="238.6" cy="117.9" r="0.92" fill="#ee7c25"/>
<circle cx="241.2" cy="117.1" r="0.92" fill="#ea6c23"/>
<circle cx="242.2" cy="117.9" r="0.92" fill="#c7281b"/>
<circle cx="243.7" cy="117.7" r="0.92" fill="#ee7c25"/>
<circle cx="212.8" cy="118.7" r="0.92" fill="#2c4dbc"/>
<circle cx="213.6" cy="118.9" r="0.92" fill="#232da1"/>
<circle cx="215.3" cy="119.2" r="0.92" fill="#3979ce"/>
<circle cx="216.0" cy="119.2" r="0.92" fill="#3979ce"/>
<circle cx="217.5" cy="118.3" r="0.92" fill="#dade3e"/>
<circle cx="218.4" cy="118.5" r="0.92" fill="#f1b22b"/>
<circle cx="220.0" cy="118.4" r="0.92" fill="#f1b22b"/>
<circle cx="221.3" cy="118.6" r="0.92" fill="#ee7c25"/>
<circle cx="222.2" cy="118.4" r="0.92" fill="#ee7c25"/>
<circle cx="223.4" cy="119.2" r="0.92" fill="#edcf2f"/>
<circle cx="224.6" cy="118.7" r="0.92" fill="#88ce80"/>
<circle cx="226.6" cy="118.7" r="0.92" fill="#edcf2f"/>
<circle cx="227.2" cy="119.0" r="0.92" fill="#88ce80"/>
<circle cx="228.7" cy="118.7" r="0.92" fill="#dade3e"/>
<circle cx="230.1" cy="118.7" r="0.92" fill="#dade3e"/>
<circle cx="231.6" cy="118.3" r="0.92" fill="#c7281b"/>
<circle cx="232.3" cy="118.3" r="0.92" fill="#ea6c23"/>
<circle cx="234.0" cy="118.8" r="0.92" fill="#88ce80"/>
<circle cx="234.5" cy="119.2" r="0.92" fill="#edcf2f"/>
<circle cx="236.0" cy="119.1" r="0.92" fill="#88ce80"/>
<circle cx="237.2" cy="118.8" r="0.92" fill="#ee7c25"/>
<circle cx="238.5" cy="118.5" r="0.92" fill="#edcf2f"/>
<circle cx="239.8" cy="118.7" r="0.92" fill="#88ce80"/>
<circle cx="241.2" cy="118.7" r="0.92" fill="#edcf2f"/>
<circle cx="242.1" cy="119.1" r="0.92" fill="#edcf2f"/>
<circle cx="243.5" cy="118.8" r="0.92" fill="#f1b22b"/>
<circle cx="213.6" cy="120.4" r="0.92" fill="#2c4dbc"/>
<circle cx="215.4" cy="119.6" r="0.92" fill="#3979ce"/>
<circle cx="216.6" cy="120.3" r="0.92" fill="#2637b4"/>
<circle cx="217.6" cy="120.0" r="0.92" fill="#edcf2f"/>
<circle cx="218.7" cy="119.7" r="0.92" fill="#dade3e"/>
<circle cx="220.3" cy="119.9" r="0.92" fill="#edcf2f"/>
<circle cx="221.2" cy="120.4" r="0.92" fill="#f1b22b"/>
<circle cx="222.3" cy="119.9" r="0.92" fill="#ee7c25"/>
<circle cx="223.2" cy="120.3" r="0.92" fill="#f2a72a"/>
<circle cx="225.2" cy="119.9" r="0.92" fill="#edcf2f"/>
<circle cx="225.9" cy="119.9" r="0.92" fill="#ee7c25"/>
<circle cx="227.7" cy="120.2" r="0.92" fill="#edcf2f"/>
<circle cx="228.5" cy="120.2" r="0.92" fill="#dade3e"/>
<circle cx="229.5" cy="119.5" r="0.92" fill="#edcf2f"/>
<circle cx="231.4" cy="119.6" r="0.92" fill="#88ce80"/>
<circle cx="232.6" cy="119.5" r="0.92" fill="#edcf2f"/>
<circle cx="233.2" cy="119.5" r="0.92" fill="#edcf2f"/>
<circle cx="235.3" cy="120.0" r="0.92" fill="#dade3e"/>
<circle cx="236.3" cy="120.2" r="0.92" fill="#ee7c25"/>
<circle cx="238.3" cy="119.9" r="0.92" fill="#ee7c25"/>
<circle cx="240.9" cy="119.5" r="0.92" fill="#f2a72a"/>
<circle cx="242.7" cy="119.6" r="0.92" fill="#dade3e"/>
<circle cx="212.6" cy="121.4" r="0.92" fill="#232da1"/>
<circle cx="213.7" cy="121.7" r="0.92" fill="#3979ce"/>
<circle cx="214.7" cy="120.8" r="0.92" fill="#232da1"/>
<circle cx="216.1" cy="121.5" r="0.92" fill="#232da1"/>
<circle cx="217.3" cy="121.0" r="0.92" fill="#dade3e"/>
<circle cx="218.6" cy="121.4" r="0.92" fill="#f1b22b"/>
<circle cx="219.6" cy="121.3" r="0.92" fill="#ee7c25"/>
<circle cx="220.9" cy="121.3" r="0.92" fill="#88ce80"/>
<circle cx="222.8" cy="121.6" r="0.92" fill="#edcf2f"/>
<circle cx="223.3" cy="120.7" r="0.92" fill="#edcf2f"/>
<circle cx="224.6" cy="120.8" r="0.92" fill="#dade3e"/>
<circle cx="226.5" cy="120.9" r="0.92" fill="#ee7c25"/>
<circle cx="227.6" cy="121.0" r="0.92" fill="#ee7c25"/>
<circle cx="228.7" cy="121.2" r="0.92" fill="#88ce80"/>
<circle cx="230.4" cy="120.8" r="0.92" fill="#dade3e"/>
<circle cx="230.9" cy="121.1" r="0.92" fill="#f1b22b"/>
<circle cx="231.9" cy="121.1" r="0.92" fill="#88ce80"/>
<circle cx="233.3" cy="121.1" r="0.92" fill="#ee7c25"/>
<circle cx="234.9" cy="121.2" r="0.92" fill="#dade3e"/>
<circle cx="236.5" cy="121.2" r="0.92" fill="#f1b22b"/>
<circle cx="237.5" cy="121.1" r="0.92" fill="#edcf2f"/>
<circle cx="238.3" cy="121.3" r="0.92" fill="#f1b22b"/>
<circle cx="239.6" cy="121.5" r="0.92" fill="#ee7c25"/>
<circle cx="241.0" cy="121.6" r="0.92" fill="#dade3e"/>
<circle cx="213.9" cy="122.1" r="0.92" fill="#2c4dbc"/>
<circle cx="214.9" cy="122.5" r="0.92" fill="#3979ce"/>
<circle cx="215.8" cy="122.0" r="0.92" fill="#2637b4"/>
<circle cx="217.4" cy="122.5" r="0.92" fill="#ee7c25"/>
<circle cx="219.0" cy="122.3" r="0.92" fill="#f1b22b"/>
<circle cx="219.9" cy="122.9" r="0.92" fill="#3979ce"/>
<circle cx="221.2" cy="122.4" r="0.92" fill="#dade3e"/>
<circle cx="222.1" cy="122.1" r="0.92" fill="#f1b22b"/>
<circle cx="223.5" cy="122.4" r="0.92" fill="#f1b22b"/>
<circle cx="225.1" cy="122.1" r="0.92" fill="#88ce80"/>
<circle cx="226.2" cy="122.9" r="0.92" fill="#4294cf"/>
<circle cx="227.0" cy="122.1" r="0.92" fill="#dade3e"/>
<circle cx="229.1" cy="122.4" r="0.92" fill="#ee7c25"/>
<circle cx="230.1" cy="122.3" r="0.92" fill="#ee7c25"/>
<circle cx="231.5" cy="122.9" r="0.92" fill="#3979ce"/>
<circle cx="232.4" cy="122.9" r="0.92" fill="#65c4ad"/>
<circle cx="234.6" cy="122.6" r="0.92" fill="#dade3e"/>
<circle cx="235.7" cy="122.2" r="0.92" fill="#f2a72a"/>
<circle cx="236.9" cy="122.1" r="0.92" fill="#ee7c25"/>
<circle cx="240.4" cy="122.9" r="0.92" fill="#4294cf"/>
<circle cx="213.3" cy="123.3" r="0.92" fill="#3979ce"/>
<circle cx="215.1" cy="123.3" r="0.92" fill="#2637b4"/>
<circle cx="216.0" cy="123.4" r="0.92" fill="#232da1"/>
<circle cx="217.5" cy="123.5" r="0.92" fill="#dade3e"/>
<circle cx="219.1" cy="124.0" r="0.92" fill="#65c4ad"/>
<circle cx="221.5" cy="124.0" r="0.92" fill="#65c4ad"/>
<circle cx="222.5" cy="124.2" r="0.92" fill="#2c4dbc"/>
<circle cx="223.7" cy="124.2" r="0.92" fill="#88ce80"/>
<circle cx="225.8" cy="124.0" r="0.92" fill="#3979ce"/>
<circle cx="227.5" cy="124.0" r="0.92" fill="#65c4ad"/>
<circle cx="229.1" cy="123.7" r="0.92" fill="#3979ce"/>
<circle cx="229.6" cy="123.5" r="0.92" fill="#65c4ad"/>
<circle cx="230.8" cy="124.0" r="0.92" fill="#2c4dbc"/>
<circle cx="232.0" cy="124.2" r="0.92" fill="#4294cf"/>
<circle cx="233.7" cy="123.5" r="0.92" fill="#3979ce"/>
<circle cx="235.0" cy="124.0" r="0.92" fill="#88ce80"/>
<circle cx="236.5" cy="123.6" r="0.92" fill="#88ce80"/>
<circle cx="237.2" cy="123.2" r="0.92" fill="#65c4ad"/>
<circle cx="239.1" cy="123.7" r="0.92" fill="#3979ce"/>
<circle cx="239.8" cy="123.6" r="0.92" fill="#dade3e"/>
<circle cx="212.9" cy="125.3" r="0.92" fill="#2c4dbc"/>
<circle cx="213.5" cy="124.5" r="0.92" fill="#2637b4"/>
<circle cx="216.2" cy="124.6" r="0.92" fill="#3979ce"/>
<circle cx="217.8" cy="124.6" r="0.92" fill="#2c4dbc"/>
<circle cx="218.6" cy="124.8" r="0.92" fill="#65c4ad"/>
<circle cx="219.8" cy="125.1" r="0.92" fill="#dade3e"/>
<circle cx="220.8" cy="124.8" r="0.92" fill="#65c4ad"/>
<circle cx="223.4" cy="125.1" r="0.92" fill="#4294cf"/>
<circle cx="224.6" cy="124.6" r="0.92" fill="#3979ce"/>
<circle cx="226.4" cy="125.2" r="0.92" fill="#3979ce"/>
<circle cx="227.5" cy="124.7" r="0.92" fill="#dade3e"/>
<circle cx="228.7" cy="125.1" r="0.92" fill="#4294cf"/>
<circle cx="229.8" cy="124.5" r="0.92" fill="#65c4ad"/>
<circle cx="231.6" cy="124.5" r="0.92" fill="#88ce80"/>
<circle cx="232.4" cy="125.0" r="0.92" fill="#dade3e"/>
<circle cx="233.7" cy="125.4" r="0.92" fill="#4294cf"/>
<circle cx="234.8" cy="124.9" r="0.92" fill="#3979ce"/>
<circle cx="235.9" cy="125.3" r="0.92" fill="#4294cf"/>
<circle cx="237.5" cy="125.1" r="0.92" fill="#65c4ad"/>
<circle cx="238.7" cy="124.7" r="0.92" fill="#2c4dbc"/>
<circle cx="239.4" cy="124.7" r="0.92" fill="#88ce80"/>
<circle cx="213.5" cy="126.2" r="0.92" fill="#22299a"/>
<circle cx="214.4" cy="125.8" r="0.92" fill="#2637b4"/>
<circle cx="216.5" cy="125.8" r="0.92" fill="#3979ce"/>
<circle cx="217.5" cy="126.7" r="0.92" fill="#22299a"/>
<circle cx="219.1" cy="126.0" r="0.92" fill="#232da1"/>
<circle cx="220.1" cy="126.1" r="0.92" fill="#22299a"/>
<circle cx="220.9" cy="125.9" r="0.92" fill="#4294cf"/>
<circle cx="222.1" cy="126.5" r="0.92" fill="#20238f"/>
<circle cx="223.8" cy="125.7" r="0.92" fill="#dade3e"/>
<circle cx="225.0" cy="125.7" r="0.92" fill="#4294cf"/>
<circle cx="226.2" cy="126.4" r="0.92" fill="#20238f"/>
<circle cx="227.1" cy="126.2" r="0.92" fill="#20238f"/>
<circle cx="230.2" cy="126.0" r="0.92" fill="#20238f"/>
<circle cx="230.8" cy="125.7" r="0.92" fill="#65c4ad"/>
<circle cx="232.4" cy="125.8" r="0.92" fill="#3979ce"/>
<circle cx="233.8" cy="126.6" r="0.92" fill="#4294cf"/>
<circle cx="235.2" cy="125.9" r="0.92" fill="#dade3e"/>
<circle cx="237.3" cy="126.3" r="0.92" fill="#dade3e"/>
<circle cx="215.2" cy="127.5" r="0.92" fill="#20238f"/>
<circle cx="215.9" cy="127.6" r="0.92" fill="#22299a"/>
<circle cx="217.2" cy="127.0" r="0.92" fill="#1f1d84"/>
<circle cx="218.9" cy="127.9" r="0.92" fill="#232da1"/>
<circle cx="219.9" cy="127.2" r="0.92" fill="#22299a"/>
<circle cx="220.9" cy="127.2" r="0.92" fill="#1f1d84"/>
<circle cx="222.7" cy="127.6" r="0.92" fill="#22299a"/>
<circle cx="224.0" cy="127.2" r="0.92" fill="#232da1"/>
<circle cx="225.4" cy="127.8" r="0.92" fill="#22299a"/>
<circle cx="225.7" cy="127.1" r="0.92" fill="#22299a"/>
<circle cx="227.2" cy="127.7" r="0.92" fill="#1f1d84"/>
<circle cx="229.7" cy="127.5" r="0.92" fill="#232da1"/>
<circle cx="231.3" cy="127.3" r="0.92" fill="#22299a"/>
<circle cx="232.5" cy="127.0" r="0.92" fill="#4294cf"/>
<circle cx="233.8" cy="127.8" r="0.92" fill="#4294cf"/>
<circle cx="234.6" cy="127.9" r="0.92" fill="#dade3e"/>
<circle cx="235.9" cy="127.9" r="0.92" fill="#4294cf"/>
<circle cx="237.2" cy="127.9" r="0.92" fill="#3979ce"/>
<circle cx="215.2" cy="128.4" r="0.92" fill="#1f1d84"/>
<circle cx="216.6" cy="128.8" r="0.92" fill="#22299a"/>
<circle cx="217.7" cy="128.5" r="0.92" fill="#20238f"/>
<circle cx="218.2" cy="129.1" r="0.92" fill="#232da1"/>
<circle cx="219.6" cy="128.8" r="0.92" fill="#1f1d84"/>
<circle cx="221.5" cy="128.9" r="0.92" fill="#20238f"/>
<circle cx="222.7" cy="128.4" r="0.92" fill="#20238f"/>
<circle cx="223.7" cy="129.1" r="0.92" fill="#22299a"/>
<circle cx="225.1" cy="128.3" r="0.92" fill="#232da1"/>
<circle cx="226.6" cy="128.3" r="0.92" fill="#22299a"/>
<circle cx="227.7" cy="129.1" r="0.92" fill="#20238f"/>
<circle cx="228.6" cy="128.6" r="0.92" fill="#232da1"/>
<circle cx="230.4" cy="128.4" r="0.92" fill="#20238f"/>
<circle cx="231.5" cy="129.0" r="0.92" fill="#1f1d84"/>
<circle cx="232.0" cy="129.2" r="0.92" fill="#65c4ad"/>
<circle cx="233.3" cy="128.6" r="0.92" fill="#88ce80"/>
<circle cx="236.0" cy="129.0" r="0.92" fill="#3979ce"/>
<circle cx="214.5" cy="129.9" r="0.92" fill="#22299a"/>
<circle cx="216.6" cy="129.8" r="0.92" fill="#20238f"/>
<circle cx="217.0" cy="130.0" r="0.92" fill="#22299a"/>
<circle cx="218.5" cy="130.0" r="0.92" fill="#232da1"/>
<circle cx="219.9" cy="129.8" r="0.92" fill="#1f1d84"/>
<circle cx="221.3" cy="130.3" r="0.92" fill="#22299a"/>
<circle cx="222.3" cy="129.8" r="0.92" fill="#22299a"/>
<circle cx="223.8" cy="130.0" r="0.92" fill="#232da1"/>
<circle cx="224.9" cy="129.8" r="0.92" fill="#232da1"/>
<circle cx="226.2" cy="130.2" r="0.92" fill="#232da1"/>
<circle cx="227.8" cy="130.1" r="0.92" fill="#1f1d84"/>
<circle cx="229.1" cy="129.6" r="0.92" fill="#20238f"/>
<circle cx="229.5" cy="129.7" r="0.92" fill="#20238f"/>
<circle cx="230.9" cy="129.6" r="0.92" fill="#232da1"/>
<circle cx="232.0" cy="129.6" r="0.92" fill="#65c4ad"/>
<circle cx="233.8" cy="130.4" r="0.92" fill="#3979ce"/>
<circle cx="214.8" cy="130.8" r="0.92" fill="#1f1d84"/>
<circle cx="216.0" cy="131.0" r="0.92" fill="#22299a"/>
<circle cx="217.2" cy="131.6" r="0.92" fill="#1f1d84"/>
<circle cx="218.9" cy="131.3" r="0.92" fill="#1f1d84"/>
<circle cx="219.6" cy="131.3" r="0.92" fill="#1f1d84"/>
<circle cx="221.0" cy="131.6" r="0.92" fill="#20238f"/>
<circle cx="222.1" cy="130.9" r="0.92" fill="#1f1d84"/>
<circle cx="223.4" cy="131.1" r="0.92" fill="#20238f"/>
<circle cx="224.9" cy="130.9" r="0.92" fill="#232da1"/>
<circle cx="225.9" cy="130.8" r="0.92" fill="#1f1d84"/>
<circle cx="227.2" cy="131.3" r="0.92" fill="#20238f"/>
<circle cx="229.1" cy="131.5" r="0.92" fill="#22299a"/>
<circle cx="230.9" cy="131.3" r="0.92" fill="#1f1d84"/>
<circle cx="233.7" cy="131.1" r="0.92" fill="#65c4ad"/>
<circle cx="216.0" cy="132.0" r="0.92" fill="#22299a"/>
<circle cx="218.6" cy="132.1" r="0.92" fill="#232da1"/>
<circle cx="220.2" cy="132.5" r="0.92" fill="#20238f"/>
<circle cx="220.9" cy="132.2" r="0.92" fill="#1f1d84"/>
<circle cx="222.3" cy="132.8" r="0.92" fill="#22299a"/>
<circle cx="223.8" cy="132.7" r="0.92" fill="#22299a"/>
<circle cx="225.3" cy="132.7" r="0.92" fill="#20238f"/>
<circle cx="225.9" cy="132.3" r="0.92" fill="#1f1d84"/>
<circle cx="227.4" cy="132.6" r="0.92" fill="#22299a"/>
<circle cx="229.1" cy="132.0" r="0.92" fill="#232da1"/>
<circle cx="229.9" cy="132.5" r="0.92" fill="#22299a"/>
<circle cx="231.0" cy="132.1" r="0.92" fill="#22299a"/>
<circle cx="232.7" cy="132.1" r="0.92" fill="#65c4ad"/>
<circle cx="216.6" cy="133.2" r="0.92" fill="#1f1d84"/>
<circle cx="218.8" cy="133.9" r="0.92" fill="#20238f"/>
<circle cx="219.6" cy="133.7" r="0.92" fill="#22299a"/>
<circle cx="221.2" cy="133.7" r="0.92" fill="#1f1d84"/>
<circle cx="223.9" cy="133.2" r="0.92" fill="#20238f"/>
<circle cx="225.0" cy="133.8" r="0.92" fill="#20238f"/>
<circle cx="226.1" cy="133.7" r="0.92" fill="#20238f"/>
<circle cx="227.7" cy="133.3" r="0.92" fill="#22299a"/>
<circle cx="228.5" cy="133.6" r="0.92" fill="#20238f"/>
<circle cx="230.3" cy="133.7" r="0.92" fill="#1f1d84"/>
<circle cx="230.8" cy="133.5" r="0.92" fill="#232da1"/>
<circle cx="220.3" cy="134.7" r="0.92" fill="#1f1d84"/>
<circle cx="220.7" cy="134.8" r="0.92" fill="#1f1d84"/>
<circle cx="222.4" cy="134.8" r="0.92" fill="#20238f"/>
<rect x="205.00" y="97.30" width="42.20" height="42.50" fill="none" stroke="#8a8a8a" stroke-width="0.90"/>
<rect x="248.50" y="97.30" width="3.70" height="42.50" fill="url(#jetv)"/>
<text x="254.60" y="100.50" font-size="6.30" fill="#333">111</text>
<text x="254.60" y="110.62" font-size="6.30" fill="#333">43</text>
<text x="254.60" y="120.75" font-size="6.30" fill="#333">16</text>
<text x="254.60" y="130.88" font-size="6.30" fill="#333">5</text>
<text x="254.60" y="141.00" font-size="6.30" fill="#333">0</text>
<text x="280.90" y="93.50" font-size="8.20" fill="#222" textLength="21.80" lengthAdjust="spacingAndGlyphs">CTLA4</text>
<circle cx="293.2" cy="101.2" r="0.92" fill="#f59628"/>
<circle cx="294.2" cy="101.5" r="0.92" fill="#88ce80"/>
<circle cx="288.4" cy="102.5" r="0.92" fill="#f59628"/>
<circle cx="289.0" cy="102.3" r="0.92" fill="#dade3e"/>
<circle cx="290.6" cy="102.1" r="0.92" fill="#f1b22b"/>
<circle cx="293.7" cy="102.2" r="0.92" fill="#f59628"/>
<circle cx="294.8" cy="102.9" r="0.92" fill="#f1b22b"/>
<circle cx="295.6" cy="102.6" r="0.92" fill="#f59628"/>
<circle cx="297.0" cy="102.4" r="0.92" fill="#88ce80"/>
<circle cx="284.7" cy="103.9" r="0.92" fill="#c7281b"/>
<circle cx="285.6" cy="104.0" r="0.92" fill="#dade3e"/>
<circle cx="286.5" cy="103.7" r="0.92" fill="#ea6c23"/>
<circle cx="287.8" cy="104.2" r="0.92" fill="#edcf2f"/>
<circle cx="289.4" cy="103.6" r="0.92" fill="#88ce80"/>
<circle cx="290.4" cy="104.0" r="0.92" fill="#edcf2f"/>
<circle cx="291.6" cy="104.1" r="0.92" fill="#edcf2f"/>
<circle cx="293.4" cy="103.5" r="0.92" fill="#dade3e"/>
<circle cx="294.2" cy="103.9" r="0.92" fill="#f1b22b"/>
<circle cx="295.6" cy="103.3" r="0.92" fill="#edcf2f"/>
<circle cx="297.0" cy="103.7" r="0.92" fill="#dade3e"/>
<circle cx="298.5" cy="103.4" r="0.92" fill="#dade3e"/>
<circle cx="299.1" cy="104.0" r="0.92" fill="#88ce80"/>
<circle cx="282.4" cy="105.4" r="0.92" fill="#f1b22b"/>
<circle cx="283.7" cy="105.3" r="0.92" fill="#f1b22b"/>
<circle cx="284.6" cy="104.9" r="0.92" fill="#f1b22b"/>
<circle cx="286.1" cy="104.7" r="0.92" fill="#f59628"/>
<circle cx="286.6" cy="104.7" r="0.92" fill="#f59628"/>
<circle cx="288.2" cy="104.9" r="0.92" fill="#dade3e"/>
<circle cx="289.3" cy="105.4" r="0.92" fill="#ea6c23"/>
<circle cx="291.1" cy="105.4" r="0.92" fill="#dade3e"/>
<circle cx="291.9" cy="104.6" r="0.92" fill="#f59628"/>
<circle cx="292.9" cy="105.0" r="0.92" fill="#88ce80"/>
<circle cx="294.9" cy="105.2" r="0.92" fill="#ea6c23"/>
<circle cx="295.7" cy="104.8" r="0.92" fill="#f59628"/>
<circle cx="296.6" cy="104.6" r="0.92" fill="#edcf2f"/>
<circle cx="298.1" cy="105.3" r="0.92" fill="#ea6c23"/>
<circle cx="299.5" cy="105.0" r="0.92" fill="#88ce80"/>
<circle cx="300.3" cy="104.7" r="0.92" fill="#edcf2f"/>
<circle cx="282.0" cy="106.3" r="0.92" fill="#ea6c23"/>
<circle cx="283.3" cy="106.6" r="0.92" fill="#ea6c23"/>
<circle cx="284.8" cy="106.2" r="0.92" fill="#ea6c23"/>
<circle cx="286.1" cy="106.4" r="0.92" fill="#dade3e"/>
<circle cx="287.0" cy="106.4" r="0.92" fill="#ea6c23"/>
<circle cx="287.8" cy="106.6" r="0.92" fill="#dade3e"/>
<circle cx="289.2" cy="106.0" r="0.92" fill="#dade3e"/>
<circle cx="290.6" cy="106.4" r="0.92" fill="#f59628"/>
<circle cx="292.4" cy="105.8" r="0.92" fill="#dade3e"/>
<circle cx="293.0" cy="106.2" r="0.92" fill="#88ce80"/>
<circle cx="294.1" cy="106.0" r="0.92" fill="#dade3e"/>
<circle cx="296.1" cy="106.1" r="0.92" fill="#f1b22b"/>
<circle cx="296.7" cy="105.8" r="0.92" fill="#dade3e"/>
<circle cx="298.7" cy="106.5" r="0.92" fill="#dade3e"/>
<circle cx="299.9" cy="105.8" r="0.92" fill="#edcf2f"/>
<circle cx="301.2" cy="106.6" r="0.92" fill="#edcf2f"/>
<circle cx="302.3" cy="106.6" r="0.92" fill="#edcf2f"/>
<circle cx="281.1" cy="107.2" r="0.92" fill="#c7281b"/>
<circle cx="281.6" cy="107.7" r="0.92" fill="#f1b22b"/>
<circle cx="283.0" cy="107.2" r="0.92" fill="#ea6c23"/>
<circle cx="284.2" cy="107.9" r="0.92" fill="#c7281b"/>
<circle cx="285.7" cy="107.8" r="0.92" fill="#ea6c23"/>
<circle cx="288.2" cy="107.9" r="0.92" fill="#f1b22b"/>
<circle cx="289.5" cy="107.7" r="0.92" fill="#ea6c23"/>
<circle cx="291.2" cy="107.1" r="0.92" fill="#f1b22b"/>
<circle cx="291.9" cy="107.6" r="0.92" fill="#88ce80"/>
<circle cx="293.3" cy="107.2" r="0.92" fill="#f59628"/>
<circle cx="294.8" cy="107.0" r="0.92" fill="#edcf2f"/>
<circle cx="295.5" cy="107.4" r="0.92" fill="#edcf2f"/>
<circle cx="297.3" cy="107.1" r="0.92" fill="#f1b22b"/>
<circle cx="298.0" cy="107.9" r="0.92" fill="#f1b22b"/>
<circle cx="299.1" cy="107.9" r="0.92" fill="#edcf2f"/>
<circle cx="300.4" cy="107.2" r="0.92" fill="#edcf2f"/>
<circle cx="302.0" cy="107.4" r="0.92" fill="#ea6c23"/>
<circle cx="302.9" cy="107.2" r="0.92" fill="#f1b22b"/>
<circle cx="279.6" cy="109.1" r="0.92" fill="#e0421f"/>
<circle cx="281.0" cy="109.0" r="0.92" fill="#c7281b"/>
<circle cx="282.5" cy="108.9" r="0.92" fill="#c7281b"/>
<circle cx="283.3" cy="109.2" r="0.92" fill="#ea6c23"/>
<circle cx="284.9" cy="108.2" r="0.92" fill="#f1b22b"/>
<circle cx="285.3" cy="108.6" r="0.92" fill="#f1b22b"/>
<circle cx="286.7" cy="109.1" r="0.92" fill="#ea6c23"/>
<circle cx="288.6" cy="108.5" r="0.92" fill="#edcf2f"/>
<circle cx="289.2" cy="109.1" r="0.92" fill="#88ce80"/>
<circle cx="290.5" cy="108.8" r="0.92" fill="#f1b22b"/>
<circle cx="291.6" cy="108.9" r="0.92" fill="#88ce80"/>
<circle cx="293.1" cy="109.1" r="0.92" fill="#88ce80"/>
<circle cx="294.3" cy="108.7" r="0.92" fill="#88ce80"/>
<circle cx="296.1" cy="108.8" r="0.92" fill="#f1b22b"/>
<circle cx="296.7" cy="108.3" r="0.92" fill="#f59628"/>
<circle cx="298.2" cy="108.6" r="0.92" fill="#f59628"/>
<circle cx="299.6" cy="108.6" r="0.92" fill="#88ce80"/>
<circle cx="300.3" cy="108.3" r="0.92" fill="#f59628"/>
<circle cx="302.0" cy="108.6" r="0.92" fill="#edcf2f"/>
<circle cx="303.2" cy="108.6" r="0.92" fill="#ea6c23"/>
<circle cx="304.3" cy="108.5" r="0.92" fill="#edcf2f"/>
<circle cx="278.2" cy="109.8" r="0.92" fill="#c7281b"/>
<circle cx="279.8" cy="110.1" r="0.92" fill="#65c4ad"/>
<circle cx="280.5" cy="110.0" r="0.92" fill="#dade3e"/>
<circle cx="282.3" cy="109.7" r="0.92" fill="#f1b22b"/>
<circle cx="282.9" cy="109.9" r="0.92" fill="#65c4ad"/>
<circle cx="284.5" cy="110.0" r="0.92" fill="#dade3e"/>
<circle cx="285.7" cy="110.2" r="0.92" fill="#65c4ad"/>
<circle cx="288.7" cy="110.4" r="0.92" fill="#2c4dbc"/>
<circle cx="289.4" cy="109.8" r="0.92" fill="#afd65b"/>
<circle cx="290.8" cy="109.9" r="0.92" fill="#3979ce"/>
<circle cx="291.6" cy="110.4" r="0.92" fill="#65c4ad"/>
<circle cx="293.4" cy="109.5" r="0.92" fill="#edcf2f"/>
<circle cx="294.6" cy="109.6" r="0.92" fill="#f59628"/>
<circle cx="296.1" cy="110.0" r="0.92" fill="#88ce80"/>
<circle cx="296.8" cy="110.2" r="0.92" fill="#2c4dbc"/>
<circle cx="298.0" cy="109.6" r="0.92" fill="#edcf2f"/>
<circle cx="299.6" cy="109.5" r="0.92" fill="#f1b22b"/>
<circle cx="300.5" cy="109.8" r="0.92" fill="#f59628"/>
<circle cx="301.9" cy="110.0" r="0.92" fill="#dade3e"/>
<circle cx="303.2" cy="109.8" r="0.92" fill="#88ce80"/>
<circle cx="304.9" cy="109.5" r="0.92" fill="#dade3e"/>
<circle cx="278.6" cy="111.3" r="0.92" fill="#2c4dbc"/>
<circle cx="279.5" cy="110.7" r="0.92" fill="#afd65b"/>
<circle cx="282.0" cy="111.1" r="0.92" fill="#65c4ad"/>
<circle cx="283.2" cy="110.8" r="0.92" fill="#3979ce"/>
<circle cx="284.8" cy="111.3" r="0.92" fill="#dade3e"/>
<circle cx="286.0" cy="110.9" r="0.92" fill="#dade3e"/>
<circle cx="288.1" cy="111.3" r="0.92" fill="#3979ce"/>
<circle cx="290.5" cy="111.1" r="0.92" fill="#2c4dbc"/>
<circle cx="292.2" cy="110.9" r="0.92" fill="#afd65b"/>
<circle cx="293.3" cy="111.3" r="0.92" fill="#65c4ad"/>
<circle cx="295.0" cy="110.7" r="0.92" fill="#88ce80"/>
<circle cx="295.9" cy="110.9" r="0.92" fill="#88ce80"/>
<circle cx="296.5" cy="110.8" r="0.92" fill="#afd65b"/>
<circle cx="298.6" cy="111.4" r="0.92" fill="#3979ce"/>
<circle cx="299.7" cy="111.1" r="0.92" fill="#88ce80"/>
<circle cx="300.3" cy="111.1" r="0.92" fill="#88ce80"/>
<circle cx="301.9" cy="111.1" r="0.92" fill="#afd65b"/>
<circle cx="303.7" cy="111.3" r="0.92" fill="#afd65b"/>
<circle cx="304.7" cy="111.3" r="0.92" fill="#2c4dbc"/>
<circle cx="305.4" cy="111.3" r="0.92" fill="#88ce80"/>
<circle cx="278.7" cy="112.0" r="0.92" fill="#3979ce"/>
<circle cx="279.6" cy="112.6" r="0.92" fill="#65c4ad"/>
<circle cx="282.0" cy="112.4" r="0.92" fill="#afd65b"/>
<circle cx="283.7" cy="112.2" r="0.92" fill="#88ce80"/>
<circle cx="284.1" cy="112.6" r="0.92" fill="#88ce80"/>
<circle cx="285.6" cy="112.3" r="0.92" fill="#65c4ad"/>
<circle cx="288.0" cy="112.1" r="0.92" fill="#2c4dbc"/>
<circle cx="289.3" cy="112.4" r="0.92" fill="#65c4ad"/>
<circle cx="290.9" cy="112.4" r="0.92" fill="#3979ce"/>
<circle cx="291.7" cy="112.8" r="0.92" fill="#2c4dbc"/>
<circle cx="293.3" cy="112.2" r="0.92" fill="#3979ce"/>
<circle cx="295.9" cy="112.3" r="0.92" fill="#65c4ad"/>
<circle cx="297.2" cy="112.7" r="0.92" fill="#afd65b"/>
<circle cx="298.4" cy="112.0" r="0.92" fill="#2c4dbc"/>
<circle cx="299.1" cy="112.7" r="0.92" fill="#65c4ad"/>
<circle cx="300.4" cy="112.9" r="0.92" fill="#65c4ad"/>
<circle cx="301.7" cy="112.6" r="0.92" fill="#65c4ad"/>
<circle cx="303.6" cy="112.3" r="0.92" fill="#88ce80"/>
<circle cx="304.1" cy="112.3" r="0.92" fill="#88ce80"/>
<circle cx="305.9" cy="112.3" r="0.92" fill="#3979ce"/>
<circle cx="278.2" cy="113.2" r="0.92" fill="#65c4ad"/>
<circle cx="279.1" cy="113.8" r="0.92" fill="#2c4dbc"/>
<circle cx="280.6" cy="113.5" r="0.92" fill="#afd65b"/>
<circle cx="282.2" cy="114.0" r="0.92" fill="#afd65b"/>
<circle cx="283.4" cy="114.1" r="0.92" fill="#88ce80"/>
<circle cx="284.8" cy="113.5" r="0.92" fill="#2c4dbc"/>
<circle cx="285.6" cy="113.7" r="0.92" fill="#dade3e"/>
<circle cx="288.3" cy="113.7" r="0.92" fill="#88ce80"/>
<circle cx="289.7" cy="113.3" r="0.92" fill="#2c4dbc"/>
<circle cx="290.5" cy="113.8" r="0.92" fill="#afd65b"/>
<circle cx="291.7" cy="113.4" r="0.92" fill="#88ce80"/>
<circle cx="293.3" cy="113.8" r="0.92" fill="#3979ce"/>
<circle cx="294.4" cy="114.1" r="0.92" fill="#dade3e"/>
<circle cx="296.0" cy="113.5" r="0.92" fill="#88ce80"/>
<circle cx="296.8" cy="113.6" r="0.92" fill="#65c4ad"/>
<circle cx="298.3" cy="113.6" r="0.92" fill="#afd65b"/>
<circle cx="300.0" cy="113.5" r="0.92" fill="#88ce80"/>
<circle cx="300.9" cy="113.4" r="0.92" fill="#65c4ad"/>
<circle cx="302.3" cy="113.8" r="0.92" fill="#65c4ad"/>
<circle cx="303.2" cy="113.7" r="0.92" fill="#afd65b"/>
<circle cx="304.7" cy="113.6" r="0.92" fill="#afd65b"/>
<circle cx="305.4" cy="113.7" r="0.92" fill="#3979ce"/>
<circle cx="278.2" cy="114.8" r="0.92" fill="#afd65b"/>
<circle cx="279.2" cy="114.5" r="0.92" fill="#3979ce"/>
<circle cx="280.6" cy="115.2" r="0.92" fill="#afd65b"/>
<circle cx="282.0" cy="114.7" r="0.92" fill="#88ce80"/>
<circle cx="283.4" cy="114.7" r="0.92" fill="#3979ce"/>
<circle cx="284.3" cy="115.2" r="0.92" fill="#65c4ad"/>
<circle cx="285.7" cy="114.7" r="0.92" fill="#65c4ad"/>
<circle cx="286.9" cy="114.7" r="0.92" fill="#dade3e"/>
<circle cx="288.1" cy="114.7" r="0.92" fill="#3979ce"/>
<circle cx="289.1" cy="115.3" r="0.92" fill="#3979ce"/>
<circle cx="290.3" cy="115.4" r="0.92" fill="#afd65b"/>
<circle cx="291.7" cy="115.3" r="0.92" fill="#dade3e"/>
<circle cx="293.3" cy="114.9" r="0.92" fill="#dade3e"/>
<circle cx="294.3" cy="114.6" r="0.92" fill="#dade3e"/>
<circle cx="295.4" cy="115.4" r="0.92" fill="#afd65b"/>
<circle cx="297.2" cy="114.7" r="0.92" fill="#88ce80"/>
<circle cx="298.3" cy="115.3" r="0.92" fill="#dade3e"/>
<circle cx="299.8" cy="114.5" r="0.92" fill="#2c4dbc"/>
<circle cx="300.6" cy="114.8" r="0.92" fill="#65c4ad"/>
<circle cx="303.3" cy="115.4" r="0.92" fill="#65c4ad"/>
<circle cx="304.3" cy="114.9" r="0.92" fill="#afd65b"/>
<circle cx="305.3" cy="114.6" r="0.92" fill="#88ce80"/>
<circle cx="277.8" cy="115.8" r="0.92" fill="#65c4ad"/>
<circle cx="279.6" cy="115.9" r="0.92" fill="#afd65b"/>
<circle cx="281.0" cy="116.6" r="0.92" fill="#2c4dbc"/>
<circle cx="281.7" cy="115.9" r="0.92" fill="#dade3e"/>
<circle cx="283.2" cy="116.0" r="0.92" fill="#dade3e"/>
<circle cx="284.6" cy="116.3" r="0.92" fill="#65c4ad"/>
<circle cx="286.8" cy="116.1" r="0.92" fill="#afd65b"/>
<circle cx="287.9" cy="116.1" r="0.92" fill="#3979ce"/>
<circle cx="289.4" cy="116.1" r="0.92" fill="#3979ce"/>
<circle cx="291.1" cy="116.0" r="0.92" fill="#afd65b"/>
<circle cx="293.6" cy="116.2" r="0.92" fill="#dade3e"/>
<circle cx="294.7" cy="116.6" r="0.92" fill="#65c4ad"/>
<circle cx="297.0" cy="116.5" r="0.92" fill="#2c4dbc"/>
<circle cx="297.9" cy="116.6" r="0.92" fill="#65c4ad"/>
<circle cx="299.5" cy="116.6" r="0.92" fill="#3979ce"/>
<circle cx="301.0" cy="116.4" r="0.92" fill="#65c4ad"/>
<circle cx="302.5" cy="116.7" r="0.92" fill="#dade3e"/>
<circle cx="303.4" cy="116.2" r="0.92" fill="#2c4dbc"/>
<circle cx="304.8" cy="116.3" r="0.92" fill="#65c4ad"/>
<circle cx="305.9" cy="116.5" r="0.92" fill="#3979ce"/>
<circle cx="307.2" cy="116.3" r="0.92" fill="#3979ce"/>
<circle cx="278.6" cy="117.0" r="0.92" fill="#dade3e"/>
<circle cx="279.7" cy="117.0" r="0.92" fill="#2c4dbc"/>
<circle cx="280.4" cy="117.1" r="0.92" fill="#afd65b"/>
<circle cx="281.7" cy="117.9" r="0.92" fill="#3979ce"/>
<circle cx="283.5" cy="117.3" r="0.92" fill="#65c4ad"/>
<circle cx="284.1" cy="117.7" r="0.92" fill="#afd65b"/>
<circle cx="286.1" cy="117.3" r="0.92" fill="#afd65b"/>
<circle cx="286.7" cy="117.6" r="0.92" fill="#88ce80"/>
<circle cx="289.8" cy="117.5" r="0.92" fill="#afd65b"/>
<circle cx="291.2" cy="117.1" r="0.92" fill="#65c4ad"/>
<circle cx="294.0" cy="117.9" r="0.92" fill="#3979ce"/>
<circle cx="295.7" cy="117.8" r="0.92" fill="#2c4dbc"/>
<circle cx="296.8" cy="117.0" r="0.92" fill="#2c4dbc"/>
<circle cx="299.7" cy="117.5" r="0.92" fill="#afd65b"/>
<circle cx="300.4" cy="117.5" r="0.92" fill="#3979ce"/>
<circle cx="302.1" cy="117.4" r="0.92" fill="#afd65b"/>
<circle cx="303.5" cy="117.9" r="0.92" fill="#88ce80"/>
<circle cx="304.6" cy="117.0" r="0.92" fill="#afd65b"/>
<circle cx="305.8" cy="117.9" r="0.92" fill="#65c4ad"/>
<circle cx="306.7" cy="117.9" r="0.92" fill="#dade3e"/>
<circle cx="307.8" cy="117.9" r="0.92" fill="#2c4dbc"/>
<circle cx="277.5" cy="118.8" r="0.92" fill="#20238f"/>
<circle cx="278.3" cy="118.4" r="0.92" fill="#afd65b"/>
<circle cx="279.3" cy="118.5" r="0.92" fill="#232da1"/>
<circle cx="280.7" cy="118.8" r="0.92" fill="#20238f"/>
<circle cx="281.8" cy="119.2" r="0.92" fill="#2c4dbc"/>
<circle cx="283.7" cy="118.6" r="0.92" fill="#232da1"/>
<circle cx="284.1" cy="118.8" r="0.92" fill="#3979ce"/>
<circle cx="286.2" cy="118.4" r="0.92" fill="#3263c5"/>
<circle cx="286.6" cy="119.2" r="0.92" fill="#232da1"/>
<circle cx="288.5" cy="118.9" r="0.92" fill="#3263c5"/>
<circle cx="289.4" cy="118.8" r="0.92" fill="#232da1"/>
<circle cx="290.8" cy="118.8" r="0.92" fill="#3979ce"/>
<circle cx="292.1" cy="118.7" r="0.92" fill="#3979ce"/>
<circle cx="293.0" cy="118.3" r="0.92" fill="#3979ce"/>
<circle cx="294.7" cy="118.3" r="0.92" fill="#3979ce"/>
<circle cx="295.9" cy="118.3" r="0.92" fill="#88ce80"/>
<circle cx="297.4" cy="119.0" r="0.92" fill="#3263c5"/>
<circle cx="298.2" cy="118.4" r="0.92" fill="#dade3e"/>
<circle cx="299.9" cy="118.6" r="0.92" fill="#232da1"/>
<circle cx="300.6" cy="118.8" r="0.92" fill="#232da1"/>
<circle cx="301.7" cy="118.4" r="0.92" fill="#65c4ad"/>
<circle cx="303.0" cy="118.9" r="0.92" fill="#2c4dbc"/>
<circle cx="304.0" cy="119.2" r="0.92" fill="#232da1"/>
<circle cx="305.9" cy="118.7" r="0.92" fill="#20238f"/>
<circle cx="307.0" cy="119.0" r="0.92" fill="#2637b4"/>
<circle cx="278.7" cy="120.1" r="0.92" fill="#20238f"/>
<circle cx="279.9" cy="119.5" r="0.92" fill="#3979ce"/>
<circle cx="280.8" cy="120.3" r="0.92" fill="#2637b4"/>
<circle cx="281.6" cy="120.1" r="0.92" fill="#20238f"/>
<circle cx="283.0" cy="120.2" r="0.92" fill="#3263c5"/>
<circle cx="284.3" cy="120.2" r="0.92" fill="#232da1"/>
<circle cx="285.8" cy="119.8" r="0.92" fill="#20238f"/>
<circle cx="287.4" cy="120.3" r="0.92" fill="#2c4dbc"/>
<circle cx="288.3" cy="119.7" r="0.92" fill="#3263c5"/>
<circle cx="289.7" cy="120.4" r="0.92" fill="#2637b4"/>
<circle cx="290.4" cy="119.8" r="0.92" fill="#20238f"/>
<circle cx="291.7" cy="119.8" r="0.92" fill="#232da1"/>
<circle cx="293.1" cy="120.3" r="0.92" fill="#3979ce"/>
<circle cx="294.1" cy="119.9" r="0.92" fill="#232da1"/>
<circle cx="295.3" cy="120.1" r="0.92" fill="#232da1"/>
<circle cx="296.9" cy="120.2" r="0.92" fill="#3263c5"/>
<circle cx="298.7" cy="120.0" r="0.92" fill="#2c4dbc"/>
<circle cx="299.4" cy="120.3" r="0.92" fill="#20238f"/>
<circle cx="300.7" cy="119.9" r="0.92" fill="#232da1"/>
<circle cx="302.4" cy="120.4" r="0.92" fill="#20238f"/>
<circle cx="303.1" cy="119.8" r="0.92" fill="#3263c5"/>
<circle cx="304.0" cy="119.8" r="0.92" fill="#20238f"/>
<circle cx="305.8" cy="119.8" r="0.92" fill="#3263c5"/>
<circle cx="307.3" cy="119.9" r="0.92" fill="#2637b4"/>
<circle cx="278.1" cy="120.8" r="0.92" fill="#2637b4"/>
<circle cx="279.6" cy="121.6" r="0.92" fill="#3979ce"/>
<circle cx="280.7" cy="120.8" r="0.92" fill="#2637b4"/>
<circle cx="281.8" cy="121.1" r="0.92" fill="#20238f"/>
<circle cx="283.1" cy="121.5" r="0.92" fill="#2637b4"/>
<circle cx="284.9" cy="121.1" r="0.92" fill="#2c4dbc"/>
<circle cx="285.8" cy="120.9" r="0.92" fill="#232da1"/>
<circle cx="288.7" cy="121.3" r="0.92" fill="#3263c5"/>
<circle cx="289.6" cy="120.8" r="0.92" fill="#2c4dbc"/>
<circle cx="291.1" cy="120.8" r="0.92" fill="#232da1"/>
<circle cx="291.7" cy="121.0" r="0.92" fill="#232da1"/>
<circle cx="293.2" cy="120.7" r="0.92" fill="#2c4dbc"/>
<circle cx="294.9" cy="120.7" r="0.92" fill="#2637b4"/>
<circle cx="295.6" cy="121.5" r="0.92" fill="#2637b4"/>
<circle cx="296.9" cy="121.2" r="0.92" fill="#3979ce"/>
<circle cx="297.8" cy="121.6" r="0.92" fill="#232da1"/>
<circle cx="300.4" cy="121.7" r="0.92" fill="#3979ce"/>
<circle cx="301.8" cy="121.7" r="0.92" fill="#232da1"/>
<circle cx="303.5" cy="121.6" r="0.92" fill="#3263c5"/>
<circle cx="304.3" cy="121.6" r="0.92" fill="#20238f"/>
<circle cx="305.3" cy="120.7" r="0.92" fill="#2c4dbc"/>
<circle cx="277.9" cy="122.5" r="0.92" fill="#20238f"/>
<circle cx="279.8" cy="122.7" r="0.92" fill="#20238f"/>
<circle cx="281.0" cy="122.8" r="0.92" fill="#232da1"/>
<circle cx="281.6" cy="122.8" r="0.92" fill="#3263c5"/>
<circle cx="284.2" cy="122.3" r="0.92" fill="#20238f"/>
<circle cx="285.9" cy="122.9" r="0.92" fill="#3263c5"/>
<circle cx="286.7" cy="122.2" r="0.92" fill="#3263c5"/>
<circle cx="288.5" cy="122.0" r="0.92" fill="#3263c5"/>
<circle cx="289.0" cy="122.9" r="0.92" fill="#3979ce"/>
<circle cx="291.0" cy="122.5" r="0.92" fill="#2637b4"/>
<circle cx="291.6" cy="122.0" r="0.92" fill="#2637b4"/>
<circle cx="293.6" cy="122.2" r="0.92" fill="#2c4dbc"/>
<circle cx="295.0" cy="122.0" r="0.92" fill="#2c4dbc"/>
<circle cx="296.1" cy="122.7" r="0.92" fill="#2c4dbc"/>
<circle cx="298.6" cy="122.5" r="0.92" fill="#3979ce"/>
<circle cx="300.0" cy="122.2" r="0.92" fill="#20238f"/>
<circle cx="300.3" cy="122.9" r="0.92" fill="#3979ce"/>
<circle cx="301.9" cy="122.1" r="0.92" fill="#232da1"/>
<circle cx="302.9" cy="122.3" r="0.92" fill="#2637b4"/>
<circle cx="304.9" cy="122.0" r="0.92" fill="#2c4dbc"/>
<circle cx="277.4" cy="124.1" r="0.92" fill="#2c4dbc"/>
<circle cx="279.2" cy="123.7" r="0.92" fill="#3263c5"/>
<circle cx="280.7" cy="123.3" r="0.92" fill="#3263c5"/>
<circle cx="282.5" cy="124.0" r="0.92" fill="#232da1"/>
<circle cx="282.8" cy="123.3" r="0.92" fill="#2637b4"/>
<circle cx="284.1" cy="123.8" r="0.92" fill="#3263c5"/>
<circle cx="287.1" cy="123.4" r="0.92" fill="#20238f"/>
<circle cx="288.2" cy="123.7" r="0.92" fill="#20238f"/>
<circle cx="289.7" cy="124.1" r="0.92" fill="#232da1"/>
<circle cx="290.8" cy="123.6" r="0.92" fill="#232da1"/>
<circle cx="292.4" cy="123.5" r="0.92" fill="#3263c5"/>
<circle cx="293.3" cy="123.9" r="0.92" fill="#232da1"/>
<circle cx="294.7" cy="123.2" r="0.92" fill="#2637b4"/>
<circle cx="297.5" cy="123.4" r="0.92" fill="#3263c5"/>
<circle cx="297.9" cy="124.1" r="0.92" fill="#2637b4"/>
<circle cx="299.4" cy="123.4" r="0.92" fill="#3263c5"/>
<circle cx="300.6" cy="124.2" r="0.92" fill="#3979ce"/>
<circle cx="301.9" cy="123.9" r="0.92" fill="#3263c5"/>
<circle cx="302.8" cy="123.3" r="0.92" fill="#20238f"/>
<circle cx="304.0" cy="123.8" r="0.92" fill="#2c4dbc"/>
<circle cx="278.1" cy="125.2" r="0.92" fill="#2c4dbc"/>
<circle cx="279.2" cy="125.0" r="0.92" fill="#3263c5"/>
<circle cx="280.5" cy="124.9" r="0.92" fill="#3263c5"/>
<circle cx="281.7" cy="124.8" r="0.92" fill="#20238f"/>
<circle cx="283.1" cy="125.3" r="0.92" fill="#2c4dbc"/>
<circle cx="284.5" cy="124.9" r="0.92" fill="#2637b4"/>
<circle cx="285.9" cy="125.4" r="0.92" fill="#3263c5"/>
<circle cx="287.3" cy="124.9" r="0.92" fill="#3979ce"/>
<circle cx="288.0" cy="124.9" r="0.92" fill="#232da1"/>
<circle cx="289.7" cy="124.5" r="0.92" fill="#232da1"/>
<circle cx="291.1" cy="124.8" r="0.92" fill="#3263c5"/>
<circle cx="291.8" cy="125.4" r="0.92" fill="#3263c5"/>
<circle cx="293.7" cy="125.0" r="0.92" fill="#3979ce"/>
<circle cx="294.1" cy="125.0" r="0.92" fill="#2637b4"/>
<circle cx="295.8" cy="124.9" r="0.92" fill="#20238f"/>
<circle cx="297.4" cy="124.6" r="0.92" fill="#232da1"/>
<circle cx="299.9" cy="125.2" r="0.92" fill="#2637b4"/>
<circle cx="301.2" cy="124.7" r="0.92" fill="#2637b4"/>
<circle cx="302.2" cy="125.1" r="0.92" fill="#2637b4"/>
<circle cx="302.8" cy="124.8" r="0.92" fill="#2c4dbc"/>
<circle cx="278.4" cy="125.9" r="0.92" fill="#232da1"/>
<circle cx="279.4" cy="126.3" r="0.92" fill="#2c4dbc"/>
<circle cx="280.5" cy="125.9" r="0.92" fill="#232da1"/>
<circle cx="282.2" cy="126.1" r="0.92" fill="#2637b4"/>
<circle cx="282.8" cy="126.3" r="0.92" fill="#3263c5"/>
<circle cx="284.4" cy="126.7" r="0.92" fill="#232da1"/>
<circle cx="285.7" cy="125.9" r="0.92" fill="#232da1"/>
<circle cx="286.8" cy="126.5" r="0.92" fill="#232da1"/>
<circle cx="287.9" cy="126.5" r="0.92" fill="#232da1"/>
<circle cx="289.1" cy="126.5" r="0.92" fill="#20238f"/>
<circle cx="291.1" cy="125.8" r="0.92" fill="#2c4dbc"/>
<circle cx="291.7" cy="126.6" r="0.92" fill="#3979ce"/>
<circle cx="293.0" cy="126.6" r="0.92" fill="#3263c5"/>
<circle cx="294.7" cy="126.4" r="0.92" fill="#232da1"/>
<circle cx="295.6" cy="125.7" r="0.92" fill="#2c4dbc"/>
<circle cx="297.5" cy="126.7" r="0.92" fill="#2c4dbc"/>
<circle cx="298.3" cy="126.3" r="0.92" fill="#2637b4"/>
<circle cx="299.5" cy="126.5" r="0.92" fill="#232da1"/>
<circle cx="300.8" cy="126.0" r="0.92" fill="#232da1"/>
<circle cx="302.0" cy="126.0" r="0.92" fill="#3263c5"/>
<circle cx="303.2" cy="125.9" r="0.92" fill="#232da1"/>
<circle cx="278.4" cy="127.3" r="0.92" fill="#2637b4"/>
<circle cx="279.5" cy="127.8" r="0.92" fill="#232da1"/>
<circle cx="280.6" cy="127.1" r="0.92" fill="#232da1"/>
<circle cx="282.3" cy="127.2" r="0.92" fill="#232da1"/>
<circle cx="284.6" cy="127.1" r="0.92" fill="#2637b4"/>
<circle cx="285.8" cy="127.1" r="0.92" fill="#232da1"/>
<circle cx="286.8" cy="127.6" r="0.92" fill="#20238f"/>
<circle cx="288.7" cy="127.3" r="0.92" fill="#3263c5"/>
<circle cx="289.2" cy="127.5" r="0.92" fill="#2637b4"/>
<circle cx="291.2" cy="127.5" r="0.92" fill="#20238f"/>
<circle cx="291.7" cy="127.0" r="0.92" fill="#3979ce"/>
<circle cx="293.6" cy="127.9" r="0.92" fill="#232da1"/>
<circle cx="294.3" cy="127.7" r="0.92" fill="#232da1"/>
<circle cx="296.0" cy="127.8" r="0.92" fill="#232da1"/>
<circle cx="296.7" cy="127.9" r="0.92" fill="#2637b4"/>
<circle cx="298.0" cy="127.2" r="0.92" fill="#2c4dbc"/>
<circle cx="300.0" cy="127.0" r="0.92" fill="#2637b4"/>
<circle cx="300.9" cy="127.3" r="0.92" fill="#2637b4"/>
<circle cx="279.3" cy="128.2" r="0.92" fill="#3263c5"/>
<circle cx="280.3" cy="128.7" r="0.92" fill="#3979ce"/>
<circle cx="282.4" cy="128.7" r="0.92" fill="#3263c5"/>
<circle cx="283.4" cy="128.4" r="0.92" fill="#3263c5"/>
<circle cx="284.3" cy="129.2" r="0.92" fill="#232da1"/>
<circle cx="286.8" cy="128.4" r="0.92" fill="#3263c5"/>
<circle cx="290.0" cy="128.3" r="0.92" fill="#232da1"/>
<circle cx="290.5" cy="128.2" r="0.92" fill="#232da1"/>
<circle cx="291.5" cy="128.8" r="0.92" fill="#232da1"/>
<circle cx="292.8" cy="128.9" r="0.92" fill="#3979ce"/>
<circle cx="294.7" cy="128.3" r="0.92" fill="#232da1"/>
<circle cx="295.7" cy="128.5" r="0.92" fill="#232da1"/>
<circle cx="296.9" cy="129.1" r="0.92" fill="#2637b4"/>
<circle cx="298.1" cy="128.3" r="0.92" fill="#20238f"/>
<circle cx="299.8" cy="128.7" r="0.92" fill="#20238f"/>
<circle cx="300.4" cy="128.2" r="0.92" fill="#3979ce"/>
<circle cx="278.7" cy="129.7" r="0.92" fill="#3263c5"/>
<circle cx="279.2" cy="129.8" r="0.92" fill="#20238f"/>
<circle cx="281.1" cy="129.9" r="0.92" fill="#232da1"/>
<circle cx="282.4" cy="130.1" r="0.92" fill="#20238f"/>
<circle cx="283.2" cy="129.7" r="0.92" fill="#2637b4"/>
<circle cx="284.5" cy="130.0" r="0.92" fill="#3263c5"/>
<circle cx="285.4" cy="130.1" r="0.92" fill="#3979ce"/>
<circle cx="287.0" cy="130.0" r="0.92" fill="#2c4dbc"/>
<circle cx="289.8" cy="129.8" r="0.92" fill="#232da1"/>
<circle cx="291.2" cy="129.5" r="0.92" fill="#232da1"/>
<circle cx="292.1" cy="129.9" r="0.92" fill="#2637b4"/>
<circle cx="293.7" cy="130.4" r="0.92" fill="#3979ce"/>
<circle cx="294.5" cy="129.9" r="0.92" fill="#3979ce"/>
<circle cx="295.9" cy="129.6" r="0.92" fill="#3979ce"/>
<circle cx="296.6" cy="130.3" r="0.92" fill="#20238f"/>
<circle cx="298.6" cy="130.0" r="0.92" fill="#3979ce"/>
<circle cx="299.5" cy="129.5" r="0.92" fill="#3263c5"/>
<circle cx="280.9" cy="131.6" r="0.92" fill="#232da1"/>
<circle cx="281.6" cy="130.9" r="0.92" fill="#3263c5"/>
<circle cx="282.9" cy="131.1" r="0.92" fill="#3263c5"/>
<circle cx="284.8" cy="131.0" r="0.92" fill="#232da1"/>
<circle cx="285.8" cy="130.7" r="0.92" fill="#2c4dbc"/>
<circle cx="287.4" cy="131.6" r="0.92" fill="#3979ce"/>
<circle cx="288.7" cy="131.1" r="0.92" fill="#20238f"/>
<circle cx="289.7" cy="130.9" r="0.92" fill="#2c4dbc"/>
<circle cx="290.6" cy="131.0" r="0.92" fill="#2c4dbc"/>
<circle cx="291.8" cy="131.1" r="0.92" fill="#232da1"/>
<circle cx="294.4" cy="130.8" r="0.92" fill="#2637b4"/>
<circle cx="296.2" cy="131.3" r="0.92" fill="#232da1"/>
<circle cx="298.3" cy="131.6" r="0.92" fill="#2c4dbc"/>
<circle cx="281.2" cy="132.0" r="0.92" fill="#232da1"/>
<circle cx="281.9" cy="132.2" r="0.92" fill="#20238f"/>
<circle cx="283.6" cy="132.0" r="0.92" fill="#3263c5"/>
<circle cx="284.7" cy="132.5" r="0.92" fill="#232da1"/>
<circle cx="285.9" cy="132.2" r="0.92" fill="#232da1"/>
<circle cx="286.9" cy="132.2" r="0.92" fill="#20238f"/>
<circle cx="288.7" cy="132.2" r="0.92" fill="#2637b4"/>
<circle cx="289.5" cy="132.8" r="0.92" fill="#2637b4"/>
<circle cx="290.3" cy="132.4" r="0.92" fill="#232da1"/>
<circle cx="291.9" cy="132.7" r="0.92" fill="#232da1"/>
<circle cx="292.9" cy="132.3" r="0.92" fill="#2637b4"/>
<circle cx="294.5" cy="132.1" r="0.92" fill="#3263c5"/>
<circle cx="296.1" cy="132.5" r="0.92" fill="#3263c5"/>
<circle cx="282.0" cy="133.4" r="0.92" fill="#2637b4"/>
<circle cx="283.3" cy="133.4" r="0.92" fill="#2c4dbc"/>
<circle cx="284.8" cy="133.3" r="0.92" fill="#20238f"/>
<circle cx="286.0" cy="133.2" r="0.92" fill="#2c4dbc"/>
<circle cx="286.6" cy="133.8" r="0.92" fill="#3263c5"/>
<circle cx="288.1" cy="133.8" r="0.92" fill="#3979ce"/>
<circle cx="289.8" cy="133.7" r="0.92" fill="#232da1"/>
<circle cx="291.1" cy="133.7" r="0.92" fill="#232da1"/>
<circle cx="292.3" cy="134.1" r="0.92" fill="#2c4dbc"/>
<circle cx="293.3" cy="134.2" r="0.92" fill="#2c4dbc"/>
<circle cx="295.3" cy="133.6" r="0.92" fill="#2c4dbc"/>
<circle cx="286.0" cy="134.9" r="0.92" fill="#3263c5"/>
<circle cx="287.4" cy="135.4" r="0.92" fill="#20238f"/>
<circle cx="288.6" cy="135.0" r="0.92" fill="#3979ce"/>
<circle cx="290.0" cy="134.6" r="0.92" fill="#2c4dbc"/>
<circle cx="290.6" cy="134.9" r="0.92" fill="#232da1"/>
<rect x="269.60" y="97.30" width="42.20" height="42.50" fill="none" stroke="#8a8a8a" stroke-width="0.90"/>
<rect x="313.10" y="97.30" width="3.70" height="42.50" fill="url(#jetv)"/>
<text x="319.20" y="100.50" font-size="6.30" fill="#333">51</text>
<text x="319.20" y="110.62" font-size="6.30" fill="#333">24</text>
<text x="319.20" y="120.75" font-size="6.30" fill="#333">11</text>
<text x="319.20" y="130.88" font-size="6.30" fill="#333">4</text>
<text x="319.20" y="141.00" font-size="6.30" fill="#333">0</text>
<text x="8.70" y="173.10" font-size="11.20" fill="#111" font-weight="bold">B</text>
<text x="96.00" y="181.30" font-size="8.00" fill="#222" textLength="76.60" lengthAdjust="spacingAndGlyphs">Checkpoint receptors</text>
<line x1="41.50" y1="186.50" x2="228.00" y2="186.50" stroke="#333" stroke-width="0.90"/>
<text x="49.20" y="210.80" font-size="6.00" fill="#222" transform="rotate(-48.0 49.20 210.80)">LAIR1</text>
<text x="59.13" y="210.80" font-size="6.00" fill="#222" transform="rotate(-48.0 59.13 210.80)">CD40L</text>
<text x="69.06" y="210.80" font-size="6.00" fill="#222" transform="rotate(-48.0 69.06 210.80)">CD160</text>
<text x="78.99" y="210.80" font-size="6.00" fill="#222" transform="rotate(-48.0 78.99 210.80)">CD200R</text>
<text x="88.92" y="210.80" font-size="6.00" fill="#222" transform="rotate(-48.0 88.92 210.80)">CD137</text>
<text x="98.85" y="210.80" font-size="6.00" fill="#222" transform="rotate(-48.0 98.85 210.80)">CD226</text>
<text x="108.78" y="210.80" font-size="6.00" fill="#222" transform="rotate(-48.0 108.78 210.80)">BTLA</text>
<text x="118.71" y="210.80" font-size="6.00" fill="#222" transform="rotate(-48.0 118.71 210.80)">CD27</text>
<text x="128.64" y="210.80" font-size="6.00" fill="#222" transform="rotate(-48.0 128.64 210.80)">TIM3</text>
<text x="138.57" y="210.80" font-size="6.00" fill="#222" transform="rotate(-48.0 138.57 210.80)">LAG3</text>
<text x="148.50" y="210.80" font-size="6.00" fill="#222" transform="rotate(-48.0 148.50 210.80)">CD244</text>
<text x="158.43" y="210.80" font-size="6.00" fill="#222" transform="rotate(-48.0 158.43 210.80)">CD2</text>
<text x="168.36" y="210.80" font-size="6.00" fill="#222" transform="rotate(-48.0 168.36 210.80)">CD28</text>
<text x="178.29" y="210.80" font-size="6.00" fill="#222" transform="rotate(-48.0 178.29 210.80)">CTLA4</text>
<text x="188.22" y="210.80" font-size="6.00" fill="#222" transform="rotate(-48.0 188.22 210.80)">OX40</text>
<text x="198.15" y="210.80" font-size="6.00" fill="#222" transform="rotate(-48.0 198.15 210.80)">TIGIT</text>
<text x="208.08" y="210.80" font-size="6.00" fill="#222" transform="rotate(-48.0 208.08 210.80)">PD-1</text>
<text x="218.01" y="210.80" font-size="6.00" fill="#222" transform="rotate(-48.0 218.01 210.80)">ICOS</text>
<text x="239.60" y="210.80" font-size="6.00" fill="#222" transform="rotate(-48.0 239.60 210.80)">CD45RO</text>
<text x="249.53" y="210.80" font-size="6.00" fill="#222" transform="rotate(-48.0 249.53 210.80)">FOXP3</text>
<text x="259.46" y="210.80" font-size="6.00" fill="#222" transform="rotate(-48.0 259.46 210.80)">CD25</text>
<rect x="44.00" y="214.50" width="178.74" height="18.60" fill="#050500"/>
<rect x="234.40" y="214.50" width="29.79" height="18.60" fill="#050500"/>
<rect x="44.00" y="214.50" width="9.98" height="9.35" fill="#b4ac1c"/>
<rect x="53.93" y="214.50" width="9.98" height="9.35" fill="#050500"/>
<rect x="63.86" y="214.50" width="9.98" height="9.35" fill="#050500"/>
<rect x="73.79" y="214.50" width="9.98" height="9.35" fill="#050500"/>
<rect x="83.72" y="214.50" width="9.98" height="9.35" fill="#050500"/>
<rect x="93.65" y="214.50" width="9.98" height="9.35" fill="#050500"/>
<rect x="103.58" y="214.50" width="9.98" height="9.35" fill="#050500"/>
<rect x="113.51" y="214.50" width="9.98" height="9.35" fill="#050500"/>
<rect x="123.44" y="214.50" width="9.98" height="9.35" fill="#050500"/>
<rect x="133.37" y="214.50" width="9.98" height="9.35" fill="#050500"/>
<rect x="143.30" y="214.50" width="9.98" height="9.35" fill="#050500"/>
<rect x="153.23" y="214.50" width="9.98" height="9.35" fill="#050500"/>
<rect x="163.16" y="214.50" width="9.98" height="9.35" fill="#050500"/>
<rect x="173.09" y="214.50" width="9.98" height="9.35" fill="#050500"/>
<rect x="183.02" y="214.50" width="9.98" height="9.35" fill="#050500"/>
<rect x="192.95" y="214.50" width="9.98" height="9.35" fill="#050500"/>
<rect x="202.88" y="214.50" width="9.98" height="9.35" fill="#050500"/>
<rect x="212.81" y="214.50" width="9.98" height="9.35" fill="#050500"/>
<rect x="234.40" y="214.50" width="9.98" height="9.35" fill="#050500"/>
<rect x="244.33" y="214.50" width="9.98" height="9.35" fill="#050500"/>
<rect x="254.26" y="214.50" width="9.98" height="9.35" fill="#050500"/>
<rect x="44.00" y="223.80" width="9.98" height="9.35" fill="#0a0a02"/>
<rect x="53.93" y="223.80" width="9.98" height="9.35" fill="#121203"/>
<rect x="63.86" y="223.80" width="9.98" height="9.35" fill="#1a1a05"/>
<rect x="73.79" y="223.80" width="9.98" height="9.35" fill="#232306"/>
<rect x="83.72" y="223.80" width="9.98" height="9.35" fill="#292907"/>
<rect x="93.65" y="223.80" width="9.98" height="9.35" fill="#353509"/>
<rect x="103.58" y="223.80" width="9.98" height="9.35" fill="#40400c"/>
<rect x="113.51" y="223.80" width="9.98" height="9.35" fill="#48480e"/>
<rect x="123.44" y="223.80" width="9.98" height="9.35" fill="#4f4f10"/>
<rect x="133.37" y="223.80" width="9.98" height="9.35" fill="#56560f"/>
<rect x="143.30" y="223.80" width="9.98" height="9.35" fill="#9c9818"/>
<rect x="153.23" y="223.80" width="9.98" height="9.35" fill="#a4a01c"/>
<rect x="163.16" y="223.80" width="9.98" height="9.35" fill="#aca81e"/>
<rect x="173.09" y="223.80" width="9.98" height="9.35" fill="#b4b020"/>
<rect x="183.02" y="223.80" width="9.98" height="9.35" fill="#bcb824"/>
<rect x="192.95" y="223.80" width="9.98" height="9.35" fill="#d4cc2c"/>
<rect x="202.88" y="223.80" width="9.98" height="9.35" fill="#eee42e"/>
<rect x="212.81" y="223.80" width="9.98" height="9.35" fill="#f2ea84"/>
<rect x="234.40" y="223.80" width="9.98" height="9.35" fill="#fff6c4"/>
<rect x="244.33" y="223.80" width="9.98" height="9.35" fill="#b4ac1e"/>
<rect x="254.26" y="223.80" width="9.98" height="9.35" fill="#aca418"/>
<text x="267.00" y="222.00" font-size="6.30" fill="#333" textLength="24.50" lengthAdjust="spacingAndGlyphs">restTregs</text>
<text x="267.00" y="231.40" font-size="6.30" fill="#333" textLength="22.00" lengthAdjust="spacingAndGlyphs">actTregs</text>
<rect x="44.00" y="244.60" width="178.74" height="18.60" fill="#050500"/>
<rect x="234.40" y="244.60" width="29.79" height="18.60" fill="#050500"/>
<rect x="44.00" y="244.60" width="9.98" height="9.35" fill="#44440c"/>
<rect x="53.93" y="244.60" width="9.98" height="9.35" fill="#050500"/>
<rect x="63.86" y="244.60" width="9.98" height="9.35" fill="#050500"/>
<rect x="73.79" y="244.60" width="9.98" height="9.35" fill="#050500"/>
<rect x="83.72" y="244.60" width="9.98" height="9.35" fill="#050500"/>
<rect x="93.65" y="244.60" width="9.98" height="9.35" fill="#050500"/>
<rect x="103.58" y="244.60" width="9.98" height="9.35" fill="#050500"/>
<rect x="113.51" y="244.60" width="9.98" height="9.35" fill="#050500"/>
<rect x="123.44" y="244.60" width="9.98" height="9.35" fill="#050500"/>
<rect x="133.37" y="244.60" width="9.98" height="9.35" fill="#050500"/>
<rect x="143.30" y="244.60" width="9.98" height="9.35" fill="#050500"/>
<rect x="153.23" y="244.60" width="9.98" height="9.35" fill="#050500"/>
<rect x="163.16" y="244.60" width="9.98" height="9.35" fill="#050500"/>
<rect x="173.09" y="244.60" width="9.98" height="9.35" fill="#050500"/>
<rect x="183.02" y="244.60" width="9.98" height="9.35" fill="#050500"/>
<rect x="192.95" y="244.60" width="9.98" height="9.35" fill="#050500"/>
<rect x="202.88" y="244.60" width="9.98" height="9.35" fill="#050500"/>
<rect x="212.81" y="244.60" width="9.98" height="9.35" fill="#050500"/>
<rect x="234.40" y="244.60" width="9.98" height="9.35" fill="#050500"/>
<rect x="244.33" y="244.60" width="9.98" height="9.35" fill="#050500"/>
<rect x="254.26" y="244.60" width="9.98" height="9.35" fill="#050500"/>
<rect x="44.00" y="253.90" width="9.98" height="9.35" fill="#070700"/>
<rect x="53.93" y="253.90" width="9.98" height="9.35" fill="#070700"/>
<rect x="63.86" y="253.90" width="9.98" height="9.35" fill="#080801"/>
<rect x="73.79" y="253.90" width="9.98" height="9.35" fill="#2e2e0a"/>
<rect x="83.72" y="253.90" width="9.98" height="9.35" fill="#2e2e09"/>
<rect x="93.65" y="253.90" width="9.98" height="9.35" fill="#3e3e0e"/>
<rect x="103.58" y="253.90" width="9.98" height="9.35" fill="#a8a41a"/>
<rect x="113.51" y="253.90" width="9.98" height="9.35" fill="#252508"/>
<rect x="123.44" y="253.90" width="9.98" height="9.35" fill="#686410"/>
<rect x="133.37" y="253.90" width="9.98" height="9.35" fill="#6e6a12"/>
<rect x="143.30" y="253.90" width="9.98" height="9.35" fill="#070700"/>
<rect x="153.23" y="253.90" width="9.98" height="9.35" fill="#4e4c10"/>
<rect x="163.16" y="253.90" width="9.98" height="9.35" fill="#5e5c14"/>
<rect x="173.09" y="253.90" width="9.98" height="9.35" fill="#8e8a18"/>
<rect x="183.02" y="253.90" width="9.98" height="9.35" fill="#848014"/>
<rect x="192.95" y="253.90" width="9.98" height="9.35" fill="#9e9a1e"/>
<rect x="202.88" y="253.90" width="9.98" height="9.35" fill="#e6de2e"/>
<rect x="212.81" y="253.90" width="9.98" height="9.35" fill="#ded628"/>
<rect x="234.40" y="253.90" width="9.98" height="9.35" fill="#888210"/>
<rect x="244.33" y="253.90" width="9.98" height="9.35" fill="#a49e1e"/>
<rect x="254.26" y="253.90" width="9.98" height="9.35" fill="#9e9818"/>
<text x="267.00" y="252.10" font-size="6.30" fill="#333" textLength="24.50" lengthAdjust="spacingAndGlyphs">restTregs</text>
<text x="267.00" y="261.50" font-size="6.30" fill="#333" textLength="22.00" lengthAdjust="spacingAndGlyphs">actTregs</text>
<rect x="44.00" y="275.10" width="178.74" height="18.60" fill="#050500"/>
<rect x="234.40" y="275.10" width="29.79" height="18.60" fill="#050500"/>
<rect x="44.00" y="275.10" width="9.98" height="9.35" fill="#aea818"/>
<rect x="53.93" y="275.10" width="9.98" height="9.35" fill="#050500"/>
<rect x="63.86" y="275.10" width="9.98" height="9.35" fill="#050500"/>
<rect x="73.79" y="275.10" width="9.98" height="9.35" fill="#050500"/>
<rect x="83.72" y="275.10" width="9.98" height="9.35" fill="#050500"/>
<rect x="93.65" y="275.10" width="9.98" height="9.35" fill="#050500"/>
<rect x="103.58" y="275.10" width="9.98" height="9.35" fill="#050500"/>
<rect x="113.51" y="275.10" width="9.98" height="9.35" fill="#050500"/>
<rect x="123.44" y="275.10" width="9.98" height="9.35" fill="#050500"/>
<rect x="133.37" y="275.10" width="9.98" height="9.35" fill="#050500"/>
<rect x="143.30" y="275.10" width="9.98" height="9.35" fill="#050500"/>
<rect x="153.23" y="275.10" width="9.98" height="9.35" fill="#050500"/>
<rect x="163.16" y="275.10" width="9.98" height="9.35" fill="#050500"/>
<rect x="173.09" y="275.10" width="9.98" height="9.35" fill="#050500"/>
<rect x="183.02" y="275.10" width="9.98" height="9.35" fill="#050500"/>
<rect x="192.95" y="275.10" width="9.98" height="9.35" fill="#050500"/>
<rect x="202.88" y="275.10" width="9.98" height="9.35" fill="#050500"/>
<rect x="212.81" y="275.10" width="9.98" height="9.35" fill="#050500"/>
<rect x="234.40" y="275.10" width="9.98" height="9.35" fill="#050500"/>
<rect x="244.33" y="275.10" width="9.98" height="9.35" fill="#050500"/>
<rect x="254.26" y="275.10" width="9.98" height="9.35" fill="#050500"/>
<rect x="44.00" y="284.40" width="9.98" height="9.35" fill="#070700"/>
<rect x="53.93" y="284.40" width="9.98" height="9.35" fill="#080801"/>
<rect x="63.86" y="284.40" width="9.98" height="9.35" fill="#141405"/>
<rect x="73.79" y="284.40" width="9.98" height="9.35" fill="#1e1e07"/>
<rect x="83.72" y="284.40" width="9.98" height="9.35" fill="#262608"/>
<rect x="93.65" y="284.40" width="9.98" height="9.35" fill="#2e2e0a"/>
<rect x="103.58" y="284.40" width="9.98" height="9.35" fill="#3c3c0c"/>
<rect x="113.51" y="284.40" width="9.98" height="9.35" fill="#46460e"/>
<rect x="123.44" y="284.40" width="9.98" height="9.35" fill="#525211"/>
<rect x="133.37" y="284.40" width="9.98" height="9.35" fill="#5a5a12"/>
<rect x="143.30" y="284.40" width="9.98" height="9.35" fill="#acaa1e"/>
<rect x="153.23" y="284.40" width="9.98" height="9.35" fill="#aea81e"/>
<rect x="163.16" y="284.40" width="9.98" height="9.35" fill="#a6a21e"/>
<rect x="173.09" y="284.40" width="9.98" height="9.35" fill="#bebc24"/>
<rect x="183.02" y="284.40" width="9.98" height="9.35" fill="#c6c226"/>
<rect x="192.95" y="284.40" width="9.98" height="9.35" fill="#ded62e"/>
<rect x="202.88" y="284.40" width="9.98" height="9.35" fill="#eee62e"/>
<rect x="212.81" y="284.40" width="9.98" height="9.35" fill="#f6eea0"/>
<rect x="234.40" y="284.40" width="9.98" height="9.35" fill="#ded61e"/>
<rect x="244.33" y="284.40" width="9.98" height="9.35" fill="#e6de26"/>
<rect x="254.26" y="284.40" width="9.98" height="9.35" fill="#ded61e"/>
<text x="267.00" y="282.60" font-size="6.30" fill="#333" textLength="24.50" lengthAdjust="spacingAndGlyphs">restTregs</text>
<text x="267.00" y="292.00" font-size="6.30" fill="#333" textLength="22.00" lengthAdjust="spacingAndGlyphs">actTregs</text>
<text x="22.80" y="225.60" font-size="6.30" fill="#333" textLength="18.30" lengthAdjust="spacingAndGlyphs">Tonsils</text>
<text x="33.60" y="256.30" font-size="6.30" fill="#333" textLength="7.50" lengthAdjust="spacingAndGlyphs">FL</text>
<text x="20.80" y="286.00" font-size="6.30" fill="#333" textLength="20.30" lengthAdjust="spacingAndGlyphs">DLBCL</text>
<text x="221.00" y="305.60" font-size="6.50" fill="#333" textLength="60.80" lengthAdjust="spacingAndGlyphs">Arcsinh ratio of median</text>
<defs><linearGradient id="ylg" x1="0" x2="1"><stop offset="0" stop-color="#000"/><stop offset="0.45" stop-color="#d8d020"/><stop offset="0.7" stop-color="#f4ec40"/><stop offset="1" stop-color="#fcf6d0"/></linearGradient></defs>
<rect x="238.90" y="308.20" width="21.70" height="4.60" fill="url(#ylg)"/>
<text x="233.50" y="319.00" font-size="6.50" fill="#333" textLength="9.60" lengthAdjust="spacingAndGlyphs">low</text>
<text x="255.60" y="319.30" font-size="6.50" fill="#333" textLength="12.00" lengthAdjust="spacingAndGlyphs">high</text>
<text x="342.30" y="16.30" font-size="11.20" fill="#111" font-weight="bold">C</text>
<text x="375.0" y="21.1" font-size="8.1" fill="#333" textLength="99" lengthAdjust="spacingAndGlyphs">actTreg (% of CD4<tspan dy="-3" font-size="5">+</tspan><tspan dy="3"> T cells)</tspan></text>
<line x1="365.50" y1="31.50" x2="365.50" y2="124.50" stroke="#333" stroke-width="1.10"/>
<line x1="365.00" y1="124.00" x2="482.50" y2="124.00" stroke="#333" stroke-width="1.10"/>
<line x1="363.10" y1="124.00" x2="365.50" y2="124.00" stroke="#333" stroke-width="0.90"/>
<text x="361.00" y="126.20" font-size="6.60" fill="#444" text-anchor="end">0</text>
<line x1="366.00" y1="124.00" x2="366.00" y2="126.40" stroke="#333" stroke-width="0.90"/>
<text x="366.00" y="135.90" font-size="6.60" fill="#444" text-anchor="middle">0</text>
<line x1="363.10" y1="105.60" x2="365.50" y2="105.60" stroke="#333" stroke-width="0.90"/>
<text x="361.00" y="107.80" font-size="6.60" fill="#444" text-anchor="end">5</text>
<line x1="389.00" y1="124.00" x2="389.00" y2="126.40" stroke="#333" stroke-width="0.90"/>
<text x="389.00" y="135.90" font-size="6.60" fill="#444" text-anchor="middle">5</text>
<line x1="363.10" y1="87.20" x2="365.50" y2="87.20" stroke="#333" stroke-width="0.90"/>
<text x="361.00" y="89.40" font-size="6.60" fill="#444" text-anchor="end">10</text>
<line x1="412.00" y1="124.00" x2="412.00" y2="126.40" stroke="#333" stroke-width="0.90"/>
<text x="412.00" y="135.90" font-size="6.60" fill="#444" text-anchor="middle">10</text>
<line x1="363.10" y1="68.80" x2="365.50" y2="68.80" stroke="#333" stroke-width="0.90"/>
<text x="361.00" y="71.00" font-size="6.60" fill="#444" text-anchor="end">15</text>
<line x1="435.00" y1="124.00" x2="435.00" y2="126.40" stroke="#333" stroke-width="0.90"/>
<text x="435.00" y="135.90" font-size="6.60" fill="#444" text-anchor="middle">15</text>
<line x1="363.10" y1="50.40" x2="365.50" y2="50.40" stroke="#333" stroke-width="0.90"/>
<text x="361.00" y="52.60" font-size="6.60" fill="#444" text-anchor="end">20</text>
<line x1="458.00" y1="124.00" x2="458.00" y2="126.40" stroke="#333" stroke-width="0.90"/>
<text x="458.00" y="135.90" font-size="6.60" fill="#444" text-anchor="middle">20</text>
<line x1="363.10" y1="32.00" x2="365.50" y2="32.00" stroke="#333" stroke-width="0.90"/>
<text x="361.00" y="34.20" font-size="6.60" fill="#444" text-anchor="end">25</text>
<line x1="481.00" y1="124.00" x2="481.00" y2="126.40" stroke="#333" stroke-width="0.90"/>
<text x="481.00" y="135.90" font-size="6.60" fill="#444" text-anchor="middle">25</text>
<text x="347.80" y="102.30" font-size="7.90" fill="#1a1a1a" stroke="#1a1a1a" stroke-width="0.28" textLength="51.10" lengthAdjust="spacingAndGlyphs" transform="rotate(-90.0 347.80 102.30)">Flow cytometry data</text>
<text x="397.90" y="147.30" font-size="8.40" fill="#1a1a1a" stroke="#1a1a1a" stroke-width="0.28" textLength="53.10" lengthAdjust="spacingAndGlyphs">Mass cytometry data</text>
<line x1="368.00" y1="123.00" x2="456.20" y2="42.60" stroke="#222" stroke-width="1.00"/>
<circle cx="368.50" cy="122.30" r="2.50" fill="#ffffff" stroke="#333" stroke-width="0.70"/>
<circle cx="373.80" cy="112.30" r="2.50" fill="#ffffff" stroke="#333" stroke-width="0.70"/>
<circle cx="378.50" cy="110.40" r="2.50" fill="#ffffff" stroke="#333" stroke-width="0.70"/>
<circle cx="382.00" cy="112.30" r="2.50" fill="#ffffff" stroke="#333" stroke-width="0.70"/>
<circle cx="397.90" cy="88.50" r="2.50" fill="#e08a4e" stroke="#333" stroke-width="0.70"/>
<circle cx="414.60" cy="90.00" r="2.50" fill="#2a8cae" stroke="#333" stroke-width="0.70"/>
<circle cx="421.50" cy="75.40" r="2.50" fill="#2a8cae" stroke="#333" stroke-width="0.70"/>
<circle cx="442.70" cy="43.30" r="2.50" fill="#e08a4e" stroke="#333" stroke-width="0.70"/>
<circle cx="456.00" cy="46.20" r="2.50" fill="#2a8cae" stroke="#333" stroke-width="0.70"/>
<circle cx="488.70" cy="46.20" r="1.70" fill="#ffffff" stroke="#444" stroke-width="0.70"/>
<text x="492.20" y="48.40" font-size="6.50" fill="#444">PBMC</text>
<circle cx="488.70" cy="54.20" r="1.70" fill="#ffffff" stroke="#444" stroke-width="0.70"/>
<text x="492.20" y="56.40" font-size="6.50" fill="#444">Tonsils</text>
<circle cx="488.70" cy="62.50" r="1.70" fill="#2a8cae" stroke="#444" stroke-width="0.70"/>
<text x="492.20" y="64.70" font-size="6.50" fill="#444">FL</text>
<circle cx="488.70" cy="70.80" r="1.70" fill="#e08a4e" stroke="#444" stroke-width="0.70"/>
<text x="492.20" y="73.00" font-size="6.50" fill="#444">DLBCL</text>
<text x="450.50" y="109.20" font-size="6.50" fill="#333" textLength="21.50" lengthAdjust="spacingAndGlyphs" font-style="italic">r = 0.95</text>
<text x="452.50" y="119.00" font-size="6.50" fill="#333" textLength="23.30" lengthAdjust="spacingAndGlyphs" font-style="italic">P &lt; .001</text>
<text x="311.00" y="173.40" font-size="11.20" fill="#111" font-weight="bold">D</text>
<line x1="338.70" y1="185.80" x2="338.70" y2="280.80" stroke="#222" stroke-width="1.10"/>
<line x1="338.20" y1="280.30" x2="494.20" y2="280.30" stroke="#222" stroke-width="1.20"/>
<line x1="336.30" y1="280.30" x2="338.70" y2="280.30" stroke="#222" stroke-width="0.90"/>
<text x="333.60" y="282.50" font-size="6.40" fill="#444" text-anchor="end">0</text>
<line x1="336.30" y1="261.50" x2="338.70" y2="261.50" stroke="#222" stroke-width="0.90"/>
<text x="333.60" y="263.70" font-size="6.40" fill="#444" text-anchor="end">20</text>
<line x1="336.30" y1="242.70" x2="338.70" y2="242.70" stroke="#222" stroke-width="0.90"/>
<text x="333.60" y="244.90" font-size="6.40" fill="#444" text-anchor="end">40</text>
<line x1="336.30" y1="223.90" x2="338.70" y2="223.90" stroke="#222" stroke-width="0.90"/>
<text x="333.60" y="226.10" font-size="6.40" fill="#444" text-anchor="end">60</text>
<line x1="336.30" y1="205.10" x2="338.70" y2="205.10" stroke="#222" stroke-width="0.90"/>
<text x="333.60" y="207.30" font-size="6.40" fill="#444" text-anchor="end">80</text>
<line x1="336.30" y1="186.30" x2="338.70" y2="186.30" stroke="#222" stroke-width="0.90"/>
<text x="333.60" y="188.50" font-size="6.40" fill="#444" text-anchor="end">100</text>
<text x="317.70" y="267.40" font-size="6.40" fill="#1a1a1a" textLength="71.00" lengthAdjust="spacingAndGlyphs" stroke="#1a1a1a" stroke-width="0.28" transform="rotate(-90.0 317.70 267.40)">actTreg (% of CD4<tspan dy="-2.43" font-size="3.97">+</tspan><tspan dy="2.43"> T cells)</tspan></text>
<line x1="357.90" y1="280.30" x2="357.90" y2="282.70" stroke="#222" stroke-width="0.90"/>
<text x="348.60" y="292.00" font-size="6.40" fill="#333" textLength="18.50" lengthAdjust="spacingAndGlyphs">PBMC</text>
<line x1="386.70" y1="280.30" x2="386.70" y2="282.70" stroke="#222" stroke-width="0.90"/>
<text x="378.30" y="292.00" font-size="6.40" fill="#333" textLength="18.20" lengthAdjust="spacingAndGlyphs">Tonsils</text>
<line x1="415.80" y1="280.30" x2="415.80" y2="282.70" stroke="#222" stroke-width="0.90"/>
<text x="413.10" y="292.00" font-size="6.40" fill="#333" textLength="6.40" lengthAdjust="spacingAndGlyphs">FL</text>
<line x1="444.90" y1="280.30" x2="444.90" y2="282.70" stroke="#222" stroke-width="0.90"/>
<text x="435.40" y="292.00" font-size="6.40" fill="#333" textLength="20.60" lengthAdjust="spacingAndGlyphs">DLBCL</text>
<line x1="474.50" y1="280.30" x2="474.50" y2="282.70" stroke="#222" stroke-width="0.90"/>
<text x="468.10" y="292.00" font-size="6.40" fill="#333" textLength="12.90" lengthAdjust="spacingAndGlyphs">MCL</text>
<line x1="346.30" y1="295.60" x2="397.30" y2="295.60" stroke="#444" stroke-width="1.00"/>
<line x1="409.70" y1="295.60" x2="489.40" y2="295.60" stroke="#444" stroke-width="1.00"/>
<text x="351.80" y="304.80" font-size="6.40" fill="#333" textLength="40.80" lengthAdjust="spacingAndGlyphs">Healthy donors</text>
<text x="423.80" y="304.60" font-size="6.40" fill="#333" textLength="51.40" lengthAdjust="spacingAndGlyphs">Lymphoma patients</text>
<text x="416.00" y="190.60" font-size="6.00" fill="#333" text-anchor="middle">**</text>
<text x="445.60" y="190.60" font-size="6.00" fill="#333" text-anchor="middle">***</text>
<text x="474.80" y="190.60" font-size="6.00" fill="#333" text-anchor="middle">*</text>
<circle cx="350.20" cy="278.60" r="2.20" fill="#ffffff" stroke="#555" stroke-width="0.60"/>
<circle cx="353.80" cy="278.40" r="2.20" fill="#ffffff" stroke="#555" stroke-width="0.60"/>
<circle cx="357.30" cy="278.60" r="2.20" fill="#ffffff" stroke="#555" stroke-width="0.60"/>
<circle cx="361.00" cy="278.40" r="2.20" fill="#ffffff" stroke="#555" stroke-width="0.60"/>
<circle cx="364.80" cy="278.60" r="2.20" fill="#ffffff" stroke="#555" stroke-width="0.60"/>
<circle cx="379.50" cy="276.80" r="2.30" fill="#ffffff" stroke="#444" stroke-width="0.60"/>
<circle cx="382.60" cy="274.60" r="2.30" fill="#ffffff" stroke="#444" stroke-width="0.60"/>
<circle cx="384.20" cy="277.60" r="2.30" fill="#ffffff" stroke="#444" stroke-width="0.60"/>
<circle cx="386.20" cy="275.60" r="2.30" fill="#ffffff" stroke="#444" stroke-width="0.60"/>
<circle cx="388.40" cy="277.20" r="2.30" fill="#ffffff" stroke="#444" stroke-width="0.60"/>
<circle cx="390.90" cy="276.40" r="2.30" fill="#ffffff" stroke="#444" stroke-width="0.60"/>
<circle cx="393.60" cy="276.60" r="2.30" fill="#ffffff" stroke="#444" stroke-width="0.60"/>
<circle cx="386.00" cy="273.90" r="2.30" fill="#ffffff" stroke="#444" stroke-width="0.60"/>
<line x1="338.20" y1="280.30" x2="494.20" y2="280.30" stroke="#222" stroke-width="1.20"/>
<circle cx="409.20" cy="255.90" r="2.40" fill="#1f8ab3" stroke="#1a3f55" stroke-width="0.60"/>
<circle cx="414.00" cy="253.50" r="2.40" fill="#1f8ab3" stroke="#1a3f55" stroke-width="0.60"/>
<circle cx="423.60" cy="257.00" r="2.40" fill="#1f8ab3" stroke="#1a3f55" stroke-width="0.60"/>
<circle cx="409.20" cy="261.10" r="2.40" fill="#1f8ab3" stroke="#1a3f55" stroke-width="0.60"/>
<circle cx="413.70" cy="260.40" r="2.40" fill="#1f8ab3" stroke="#1a3f55" stroke-width="0.60"/>
<circle cx="419.20" cy="262.20" r="2.40" fill="#1f8ab3" stroke="#1a3f55" stroke-width="0.60"/>
<circle cx="409.20" cy="266.30" r="2.40" fill="#1f8ab3" stroke="#1a3f55" stroke-width="0.60"/>
<circle cx="414.00" cy="265.10" r="2.40" fill="#1f8ab3" stroke="#1a3f55" stroke-width="0.60"/>
<circle cx="423.60" cy="267.30" r="2.40" fill="#1f8ab3" stroke="#1a3f55" stroke-width="0.60"/>
<circle cx="409.20" cy="271.20" r="2.40" fill="#1f8ab3" stroke="#1a3f55" stroke-width="0.60"/>
<circle cx="419.20" cy="270.80" r="2.40" fill="#1f8ab3" stroke="#1a3f55" stroke-width="0.60"/>
<circle cx="414.40" cy="275.50" r="2.40" fill="#1f8ab3" stroke="#1a3f55" stroke-width="0.60"/>
<circle cx="409.20" cy="277.70" r="2.40" fill="#1f8ab3" stroke="#1a3f55" stroke-width="0.60"/>
<circle cx="419.20" cy="277.20" r="2.40" fill="#1f8ab3" stroke="#1a3f55" stroke-width="0.60"/>
<circle cx="423.60" cy="276.00" r="2.40" fill="#1f8ab3" stroke="#1a3f55" stroke-width="0.60"/>
<circle cx="445.30" cy="201.30" r="2.40" fill="#ea9454" stroke="#8a4a1e" stroke-width="0.60"/>
<circle cx="446.60" cy="243.80" r="2.40" fill="#ea9454" stroke="#8a4a1e" stroke-width="0.60"/>
<circle cx="444.80" cy="246.70" r="2.40" fill="#ea9454" stroke="#8a4a1e" stroke-width="0.60"/>
<circle cx="445.20" cy="259.40" r="2.40" fill="#ea9454" stroke="#8a4a1e" stroke-width="0.60"/>
<circle cx="440.30" cy="266.30" r="2.40" fill="#ea9454" stroke="#8a4a1e" stroke-width="0.60"/>
<circle cx="449.00" cy="264.20" r="2.40" fill="#ea9454" stroke="#8a4a1e" stroke-width="0.60"/>
<circle cx="438.30" cy="272.50" r="2.40" fill="#ea9454" stroke="#8a4a1e" stroke-width="0.60"/>
<circle cx="442.60" cy="272.90" r="2.40" fill="#ea9454" stroke="#8a4a1e" stroke-width="0.60"/>
<circle cx="446.90" cy="271.20" r="2.40" fill="#ea9454" stroke="#8a4a1e" stroke-width="0.60"/>
<circle cx="451.20" cy="270.30" r="2.40" fill="#ea9454" stroke="#8a4a1e" stroke-width="0.60"/>
<circle cx="453.80" cy="271.50" r="2.40" fill="#ea9454" stroke="#8a4a1e" stroke-width="0.60"/>
<circle cx="442.60" cy="277.20" r="2.40" fill="#ea9454" stroke="#8a4a1e" stroke-width="0.60"/>
<circle cx="446.90" cy="275.50" r="2.40" fill="#ea9454" stroke="#8a4a1e" stroke-width="0.60"/>
<circle cx="449.50" cy="274.30" r="2.40" fill="#ea9454" stroke="#8a4a1e" stroke-width="0.60"/>
<circle cx="440.90" cy="278.00" r="2.40" fill="#ea9454" stroke="#8a4a1e" stroke-width="0.60"/>
<circle cx="474.60" cy="256.40" r="2.40" fill="#7a1f6e" stroke="#4a1040" stroke-width="0.60"/>
<circle cx="467.70" cy="272.00" r="2.40" fill="#7a1f6e" stroke="#4a1040" stroke-width="0.60"/>
<circle cx="472.00" cy="270.80" r="2.40" fill="#7a1f6e" stroke="#4a1040" stroke-width="0.60"/>
<circle cx="476.00" cy="269.40" r="2.40" fill="#7a1f6e" stroke="#4a1040" stroke-width="0.60"/>
<circle cx="480.70" cy="272.00" r="2.40" fill="#7a1f6e" stroke="#4a1040" stroke-width="0.60"/>
<circle cx="466.80" cy="274.30" r="2.40" fill="#7a1f6e" stroke="#4a1040" stroke-width="0.60"/>
<circle cx="471.20" cy="274.30" r="2.40" fill="#7a1f6e" stroke="#4a1040" stroke-width="0.60"/>
<circle cx="475.50" cy="274.60" r="2.40" fill="#7a1f6e" stroke="#4a1040" stroke-width="0.60"/>
<circle cx="479.80" cy="274.60" r="2.40" fill="#7a1f6e" stroke="#4a1040" stroke-width="0.60"/>
<circle cx="483.30" cy="273.70" r="2.40" fill="#7a1f6e" stroke="#4a1040" stroke-width="0.60"/>
<text x="8.70" y="340.90" font-size="11.20" fill="#111" font-weight="bold">E</text>
<line x1="35.00" y1="359.80" x2="35.00" y2="452.00" stroke="#222" stroke-width="1.10"/>
<line x1="34.50" y1="451.50" x2="107.00" y2="451.50" stroke="#222" stroke-width="1.20"/>
<line x1="32.60" y1="451.50" x2="35.00" y2="451.50" stroke="#222" stroke-width="0.90"/>
<text x="29.60" y="453.70" font-size="6.40" fill="#444" text-anchor="end">0</text>
<line x1="32.60" y1="428.70" x2="35.00" y2="428.70" stroke="#222" stroke-width="0.90"/>
<text x="29.60" y="430.90" font-size="6.40" fill="#444" text-anchor="end">10</text>
<line x1="32.60" y1="405.90" x2="35.00" y2="405.90" stroke="#222" stroke-width="0.90"/>
<text x="29.60" y="408.10" font-size="6.40" fill="#444" text-anchor="end">20</text>
<line x1="32.60" y1="383.10" x2="35.00" y2="383.10" stroke="#222" stroke-width="0.90"/>
<text x="29.60" y="385.30" font-size="6.40" fill="#444" text-anchor="end">30</text>
<line x1="32.60" y1="360.30" x2="35.00" y2="360.30" stroke="#222" stroke-width="0.90"/>
<text x="29.60" y="362.50" font-size="6.40" fill="#444" text-anchor="end">40</text>
<text x="17.20" y="440.20" font-size="6.20" fill="#1a1a1a" textLength="70.70" lengthAdjust="spacingAndGlyphs" stroke="#1a1a1a" stroke-width="0.28" transform="rotate(-90.0 17.20 440.20)">actTreg (% of CD4<tspan dy="-2.36" font-size="3.84">+</tspan><tspan dy="2.36"> T cells)</tspan></text>
<line x1="54.60" y1="451.50" x2="54.60" y2="453.90" stroke="#222" stroke-width="0.90"/>
<line x1="86.00" y1="451.50" x2="86.00" y2="453.90" stroke="#222" stroke-width="0.90"/>
<text x="45.40" y="462.50" font-size="6.40" fill="#333" textLength="19.60" lengthAdjust="spacingAndGlyphs">PBMC</text>
<text x="77.10" y="462.50" font-size="6.40" fill="#333" textLength="16.80" lengthAdjust="spacingAndGlyphs">Tumor</text>
<line x1="46.30" y1="465.40" x2="94.60" y2="465.40" stroke="#444" stroke-width="1.00"/>
<text x="66.80" y="474.70" font-size="6.40" fill="#333" textLength="6.40" lengthAdjust="spacingAndGlyphs">FL</text>
<line x1="55.20" y1="387.10" x2="84.20" y2="387.10" stroke="#333" stroke-width="0.90"/>
<text x="70.20" y="386.30" font-size="6.00" fill="#333" text-anchor="middle">**</text>
<line x1="54.60" y1="449.44" x2="86.00" y2="403.50" stroke="#333" stroke-width="0.60"/>
<line x1="54.60" y1="449.10" x2="86.00" y2="415.40" stroke="#333" stroke-width="0.60"/>
<line x1="54.60" y1="449.29" x2="86.00" y2="417.30" stroke="#333" stroke-width="0.60"/>
<line x1="54.60" y1="450.15" x2="86.00" y2="418.80" stroke="#333" stroke-width="0.60"/>
<line x1="54.60" y1="449.24" x2="86.00" y2="421.20" stroke="#333" stroke-width="0.60"/>
<line x1="54.60" y1="448.73" x2="86.00" y2="428.50" stroke="#333" stroke-width="0.60"/>
<line x1="54.60" y1="448.91" x2="86.00" y2="430.40" stroke="#333" stroke-width="0.60"/>
<line x1="54.60" y1="450.17" x2="86.00" y2="439.00" stroke="#333" stroke-width="0.60"/>
<line x1="54.60" y1="448.72" x2="86.00" y2="441.00" stroke="#333" stroke-width="0.60"/>
<line x1="54.60" y1="448.92" x2="86.00" y2="443.80" stroke="#333" stroke-width="0.60"/>
<line x1="54.60" y1="448.80" x2="86.00" y2="445.80" stroke="#333" stroke-width="0.60"/>
<circle cx="54.60" cy="449.60" r="2.40" fill="#1c7a98" stroke="#1d4050" stroke-width="0.60"/>
<circle cx="53.80" cy="450.40" r="2.20" fill="#1c7a98" stroke="#1d4050" stroke-width="0.60"/>
<circle cx="86.00" cy="403.50" r="2.40" fill="#1c7a98" stroke="#1d4050" stroke-width="0.60"/>
<circle cx="86.00" cy="415.40" r="2.40" fill="#1c7a98" stroke="#1d4050" stroke-width="0.60"/>
<circle cx="86.00" cy="417.30" r="2.40" fill="#1c7a98" stroke="#1d4050" stroke-width="0.60"/>
<circle cx="86.00" cy="418.80" r="2.40" fill="#1c7a98" stroke="#1d4050" stroke-width="0.60"/>
<circle cx="86.00" cy="421.20" r="2.40" fill="#1c7a98" stroke="#1d4050" stroke-width="0.60"/>
<circle cx="86.00" cy="428.50" r="2.40" fill="#1c7a98" stroke="#1d4050" stroke-width="0.60"/>
<circle cx="86.00" cy="430.40" r="2.40" fill="#1c7a98" stroke="#1d4050" stroke-width="0.60"/>
<circle cx="86.00" cy="439.00" r="2.40" fill="#1c7a98" stroke="#1d4050" stroke-width="0.60"/>
<circle cx="86.00" cy="441.00" r="2.40" fill="#1c7a98" stroke="#1d4050" stroke-width="0.60"/>
<circle cx="86.00" cy="443.80" r="2.40" fill="#1c7a98" stroke="#1d4050" stroke-width="0.60"/>
<circle cx="86.00" cy="445.80" r="2.40" fill="#1c7a98" stroke="#1d4050" stroke-width="0.60"/>
<text x="120.60" y="340.90" font-size="11.20" fill="#111" font-weight="bold">F</text>
<text x="188.20" y="355.90" font-size="8.20" fill="#222" textLength="36.40" lengthAdjust="spacingAndGlyphs">CD4<tspan dy="-3.12" font-size="5.08">+</tspan><tspan dy="3.12"> Teff</tspan></text>
<text x="256.40" y="355.90" font-size="8.20" fill="#222" textLength="35.90" lengthAdjust="spacingAndGlyphs">CD8<tspan dy="-3.12" font-size="5.08">+</tspan><tspan dy="3.12"> Teff</tspan></text>
<text x="165.40" y="369.90" font-size="6.30" fill="#333" textLength="6.30" lengthAdjust="spacingAndGlyphs">FL</text>
<text x="163.20" y="425.00" font-size="6.30" fill="#333" textLength="8.70" lengthAdjust="spacingAndGlyphs">Teff</text>
<text x="150.10" y="433.10" font-size="6.30" fill="#333" textLength="21.80" lengthAdjust="spacingAndGlyphs">stim.Teff</text>
<text x="118.10" y="441.50" font-size="6.30" fill="#333" textLength="53.80" lengthAdjust="spacingAndGlyphs">stim.Teff + restTregs</text>
<text x="120.10" y="449.90" font-size="6.30" fill="#333" textLength="51.80" lengthAdjust="spacingAndGlyphs">stim.Teff + actTregs</text>
<rect x="174.70" y="360.80" width="63.50" height="90.40" fill="#fff"/>
<rect x="242.50" y="360.80" width="63.90" height="90.40" fill="#fff"/>
<defs><linearGradient id="redg" x1="0" x2="0" y1="0" y2="1"><stop offset="0" stop-color="#4a1c18"/><stop offset="0.3" stop-color="#7a2e2a"/><stop offset="0.45" stop-color="#d85a62"/><stop offset="1" stop-color="#e6666e"/></linearGradient></defs>
<path d="M222.80 426.40 L224.00 415.00 L225.30 390.00 L226.40 365.00 L227.60 390.00 L229.00 410.00 L230.20 420.00 L231.50 426.40 Z" fill="#d6dc88" stroke="#3a3a30" stroke-width="0.70" stroke-linejoin="round"/>
<path d="M196.20 434.70 L199.20 430.80 L201.50 410.80 L202.30 398.50 L203.50 377.30 L205.20 373.50 L206.50 376.50 L207.80 378.30 L209.20 383.00 L210.70 401.30 L211.60 408.50 L213.80 402.80 L215.80 413.00 L217.70 421.50 L219.50 413.00 L221.50 418.50 L223.10 424.60 L224.60 434.70 Z" fill="#d6dc88" stroke="#3a3a30" stroke-width="0.70" stroke-linejoin="round"/>
<path d="M189.20 442.70 L195.00 441.50 L198.50 439.20 L200.80 436.20 L203.00 429.20 L205.40 424.60 L207.00 426.00 L208.90 417.70 L210.80 426.20 L212.50 424.00 L213.80 422.30 L215.20 428.00 L216.20 430.80 L218.90 420.80 L220.00 426.00 L221.00 432.30 L223.00 438.50 L223.80 442.70 Z" fill="#6890be" stroke="#3a3a30" stroke-width="0.70" stroke-linejoin="round"/>
<path d="M288.00 426.40 L289.60 410.00 L290.70 390.00 L291.80 364.60 L293.00 390.00 L294.20 410.00 L295.50 420.00 L297.00 426.40 Z" fill="#d6dc88" stroke="#3a3a30" stroke-width="0.70" stroke-linejoin="round"/>
<path d="M259.50 434.60 L262.00 428.00 L264.90 415.70 L267.60 392.10 L269.90 413.60 L272.70 373.70 L275.70 418.40 L278.40 392.10 L281.00 427.80 L283.70 410.30 L286.40 425.80 L288.50 434.60 Z" fill="#d6dc88" stroke="#3a3a30" stroke-width="0.70" stroke-linejoin="round"/>
<path d="M274.00 442.60 L279.00 442.00 L280.50 440.50 L282.40 435.90 L284.00 441.00 L286.00 441.80 L289.00 441.00 L291.00 439.00 L292.80 437.90 L294.50 440.00 L296.50 442.60 Z" fill="#6890be" stroke="#3a3a30" stroke-width="0.60" stroke-linejoin="round"/>
<line x1="174.70" y1="426.40" x2="238.20" y2="426.40" stroke="#333" stroke-width="0.80"/>
<line x1="174.70" y1="434.70" x2="238.20" y2="434.70" stroke="#333" stroke-width="0.80"/>
<line x1="174.70" y1="442.70" x2="238.20" y2="442.70" stroke="#333" stroke-width="0.80"/>
<line x1="242.50" y1="426.40" x2="306.40" y2="426.40" stroke="#333" stroke-width="0.80"/>
<line x1="242.50" y1="434.70" x2="306.40" y2="434.70" stroke="#333" stroke-width="0.80"/>
<line x1="242.50" y1="442.70" x2="306.40" y2="442.70" stroke="#333" stroke-width="0.80"/>
<path d="M221.80 451.20 L223.30 430.00 L225.30 390.00 L226.40 365.50 L227.50 390.00 L229.60 430.00 L231.70 451.20 Z" fill="url(#redg)" stroke="#3a1a1a" stroke-width="0.75" stroke-linejoin="round"/>
<path d="M287.60 451.20 L289.40 428.00 L291.00 392.00 L291.80 365.00 L292.60 392.00 L294.00 428.00 L295.40 451.20 Z" fill="url(#redg)" stroke="#3a1a1a" stroke-width="0.75" stroke-linejoin="round"/>
<path d="M175.70 449.94 L176.90 450.14 L178.10 450.57 L179.30 450.20 L180.50 449.79 L181.70 449.54 L182.90 450.51 L184.10 449.93 L185.30 450.16 L186.50 450.48 L187.70 450.38 L188.90 450.57 L190.10 450.44 L191.30 450.39 L192.50 449.87 L193.70 450.41 L194.90 450.12 L196.10 450.17 L197.30 450.25 L198.50 450.54 L199.70 450.00 L200.90 450.18 L202.10 449.59 L203.30 450.31 L204.50 449.89 L205.70 450.35 L206.90 449.67 L208.10 450.26 L209.30 450.16 L210.50 450.06 L211.70 449.78 L212.90 450.07 L214.10 450.49 L215.30 450.27 L216.50 449.42 L217.70 450.22 L218.90 450.60 L220.10 450.39 L221.30 449.96 L222.50 449.79 L223.70 450.22 L224.90 450.21 L226.10 450.05 L227.30 449.45 L228.50 450.53 L229.70 450.27 L230.90 450.05 L232.10 450.22 L233.30 450.31 L234.50 450.39 L235.70 449.91 L236.90 450.56" fill="none" stroke="#222" stroke-width="0.80" stroke-linejoin="round"/>
<rect x="174.70" y="360.80" width="63.50" height="90.40" fill="none" stroke="#333" stroke-width="1.00"/>
<line x1="177.70" y1="451.20" x2="177.70" y2="453.00" stroke="#333" stroke-width="0.70"/>
<line x1="189.20" y1="451.20" x2="189.20" y2="453.00" stroke="#333" stroke-width="0.70"/>
<line x1="200.70" y1="451.20" x2="200.70" y2="453.00" stroke="#333" stroke-width="0.70"/>
<line x1="212.20" y1="451.20" x2="212.20" y2="453.00" stroke="#333" stroke-width="0.70"/>
<line x1="223.70" y1="451.20" x2="223.70" y2="453.00" stroke="#333" stroke-width="0.70"/>
<line x1="235.20" y1="451.20" x2="235.20" y2="453.00" stroke="#333" stroke-width="0.70"/>
<path d="M243.50 450.30 L244.70 450.15 L245.90 450.40 L247.10 450.43 L248.30 450.35 L249.50 450.11 L250.70 450.24 L251.90 450.15 L253.10 450.58 L254.30 450.32 L255.50 449.93 L256.70 450.51 L257.90 450.15 L259.10 450.22 L260.30 450.60 L261.50 450.47 L262.70 449.96 L263.90 450.09 L265.10 449.38 L266.30 450.14 L267.50 450.41 L268.70 450.41 L269.90 449.72 L271.10 449.86 L272.30 450.16 L273.50 450.55 L274.70 450.47 L275.90 450.23 L277.10 450.43 L278.30 450.16 L279.50 449.99 L280.70 449.78 L281.90 450.17 L283.10 449.99 L284.30 450.17 L285.50 450.36 L286.70 450.32 L287.90 450.52 L289.10 449.82 L290.30 449.79 L291.50 449.83 L292.70 450.58 L293.90 449.75 L295.10 450.38 L296.30 450.39 L297.50 450.52 L298.70 450.10 L299.90 449.74 L301.10 450.50 L302.30 450.53 L303.50 450.49 L304.70 450.49" fill="none" stroke="#222" stroke-width="0.80" stroke-linejoin="round"/>
<rect x="242.50" y="360.80" width="63.90" height="90.40" fill="none" stroke="#333" stroke-width="1.00"/>
<line x1="245.50" y1="451.20" x2="245.50" y2="453.00" stroke="#333" stroke-width="0.70"/>
<line x1="257.00" y1="451.20" x2="257.00" y2="453.00" stroke="#333" stroke-width="0.70"/>
<line x1="268.50" y1="451.20" x2="268.50" y2="453.00" stroke="#333" stroke-width="0.70"/>
<line x1="280.00" y1="451.20" x2="280.00" y2="453.00" stroke="#333" stroke-width="0.70"/>
<line x1="291.50" y1="451.20" x2="291.50" y2="453.00" stroke="#333" stroke-width="0.70"/>
<line x1="303.00" y1="451.20" x2="303.00" y2="453.00" stroke="#333" stroke-width="0.70"/>
<line x1="175.40" y1="459.20" x2="202.10" y2="459.20" stroke="#111" stroke-width="1.00"/>
<path d="M205.20 459.20 L201.60 457.80 L201.60 460.60 Z" fill="#111"/>
<text x="207.60" y="461.50" font-size="6.30" fill="#222" textLength="43.80" lengthAdjust="spacingAndGlyphs">Cell Trace Violet</text>
<line x1="344.60" y1="360.70" x2="344.60" y2="452.10" stroke="#222" stroke-width="1.10"/>
<line x1="344.10" y1="451.60" x2="406.60" y2="451.60" stroke="#222" stroke-width="1.20"/>
<line x1="342.20" y1="451.60" x2="344.60" y2="451.60" stroke="#222" stroke-width="0.90"/>
<text x="339.80" y="453.90" font-size="6.60" fill="#444" text-anchor="end">0</text>
<line x1="342.20" y1="433.52" x2="344.60" y2="433.52" stroke="#222" stroke-width="0.90"/>
<text x="339.80" y="435.82" font-size="6.60" fill="#444" text-anchor="end">20</text>
<line x1="342.20" y1="415.44" x2="344.60" y2="415.44" stroke="#222" stroke-width="0.90"/>
<text x="339.80" y="417.74" font-size="6.60" fill="#444" text-anchor="end">40</text>
<line x1="342.20" y1="397.36" x2="344.60" y2="397.36" stroke="#222" stroke-width="0.90"/>
<text x="339.80" y="399.66" font-size="6.60" fill="#444" text-anchor="end">60</text>
<line x1="342.20" y1="379.28" x2="344.60" y2="379.28" stroke="#222" stroke-width="0.90"/>
<text x="339.80" y="381.58" font-size="6.60" fill="#444" text-anchor="end">80</text>
<line x1="342.20" y1="361.20" x2="344.60" y2="361.20" stroke="#222" stroke-width="0.90"/>
<text x="339.80" y="363.50" font-size="6.60" fill="#444" text-anchor="end">100</text>
<text x="322.40" y="435.20" font-size="7.70" fill="#1a1a1a" stroke="#1a1a1a" stroke-width="0.28" textLength="60.20" lengthAdjust="spacingAndGlyphs" transform="rotate(-90.0 322.40 435.20)">Suppression (% of Teff)</text>
<text x="357.50" y="347.80" font-size="8.20" fill="#222" textLength="36.40" lengthAdjust="spacingAndGlyphs">CD4<tspan dy="-3.12" font-size="5.08">+</tspan><tspan dy="3.12"> Teff</tspan></text>
<line x1="358.00" y1="357.70" x2="391.70" y2="357.70" stroke="#555" stroke-width="0.90"/>
<text x="374.85" y="356.30" font-size="6.00" fill="#333" text-anchor="middle">**</text>
<line x1="359.50" y1="451.60" x2="359.50" y2="454.00" stroke="#222" stroke-width="0.90"/>
<line x1="390.50" y1="451.60" x2="390.50" y2="454.00" stroke="#222" stroke-width="0.90"/>
<text x="348.30" y="462.80" font-size="6.60" fill="#333" textLength="21.90" lengthAdjust="spacingAndGlyphs">restTreg</text>
<text x="380.60" y="462.80" font-size="6.60" fill="#333" textLength="20.00" lengthAdjust="spacingAndGlyphs">actTreg</text>
<line x1="359.50" y1="390.20" x2="390.50" y2="368.30" stroke="#333" stroke-width="0.70"/>
<line x1="359.50" y1="402.60" x2="390.50" y2="376.30" stroke="#333" stroke-width="0.70"/>
<line x1="359.50" y1="402.60" x2="390.50" y2="386.90" stroke="#333" stroke-width="0.70"/>
<line x1="359.50" y1="429.80" x2="390.50" y2="380.40" stroke="#333" stroke-width="0.70"/>
<line x1="359.50" y1="443.80" x2="390.50" y2="368.30" stroke="#333" stroke-width="0.70"/>
<line x1="359.50" y1="443.80" x2="390.50" y2="434.30" stroke="#333" stroke-width="0.70"/>
<line x1="359.50" y1="446.10" x2="390.50" y2="436.30" stroke="#333" stroke-width="0.70"/>
<line x1="359.50" y1="448.40" x2="390.50" y2="440.10" stroke="#333" stroke-width="0.70"/>
<line x1="359.50" y1="450.30" x2="390.50" y2="443.40" stroke="#333" stroke-width="0.70"/>
<line x1="359.50" y1="446.10" x2="390.50" y2="386.90" stroke="#333" stroke-width="0.70"/>
<circle cx="359.50" cy="390.20" r="2.40" fill="#1d4a72" stroke="#14304a" stroke-width="0.50"/>
<circle cx="359.50" cy="402.60" r="2.40" fill="#1d4a72" stroke="#14304a" stroke-width="0.50"/>
<circle cx="359.50" cy="429.80" r="2.40" fill="#1d4a72" stroke="#14304a" stroke-width="0.50"/>
<circle cx="359.50" cy="443.80" r="2.40" fill="#1d4a72" stroke="#14304a" stroke-width="0.50"/>
<circle cx="359.50" cy="446.10" r="2.40" fill="#1d4a72" stroke="#14304a" stroke-width="0.50"/>
<circle cx="359.50" cy="448.40" r="2.40" fill="#1d4a72" stroke="#14304a" stroke-width="0.50"/>
<circle cx="359.50" cy="450.30" r="2.40" fill="#1d4a72" stroke="#14304a" stroke-width="0.50"/>
<circle cx="390.50" cy="368.30" r="2.40" fill="#a81c2c" stroke="#6a1018" stroke-width="0.50"/>
<circle cx="390.50" cy="376.30" r="2.40" fill="#a81c2c" stroke="#6a1018" stroke-width="0.50"/>
<circle cx="390.50" cy="378.40" r="2.40" fill="#a81c2c" stroke="#6a1018" stroke-width="0.50"/>
<circle cx="390.50" cy="380.40" r="2.40" fill="#a81c2c" stroke="#6a1018" stroke-width="0.50"/>
<circle cx="390.50" cy="386.90" r="2.40" fill="#a81c2c" stroke="#6a1018" stroke-width="0.50"/>
<circle cx="390.50" cy="434.30" r="2.40" fill="#a81c2c" stroke="#6a1018" stroke-width="0.50"/>
<circle cx="390.50" cy="436.30" r="2.40" fill="#a81c2c" stroke="#6a1018" stroke-width="0.50"/>
<circle cx="390.50" cy="440.10" r="2.40" fill="#a81c2c" stroke="#6a1018" stroke-width="0.50"/>
<circle cx="390.50" cy="443.40" r="2.40" fill="#a81c2c" stroke="#6a1018" stroke-width="0.50"/>
<line x1="435.60" y1="360.70" x2="435.60" y2="452.10" stroke="#222" stroke-width="1.10"/>
<line x1="435.10" y1="451.60" x2="498.10" y2="451.60" stroke="#222" stroke-width="1.20"/>
<line x1="433.20" y1="451.60" x2="435.60" y2="451.60" stroke="#222" stroke-width="0.90"/>
<text x="430.80" y="453.90" font-size="6.60" fill="#444" text-anchor="end">0</text>
<line x1="433.20" y1="433.52" x2="435.60" y2="433.52" stroke="#222" stroke-width="0.90"/>
<text x="430.80" y="435.82" font-size="6.60" fill="#444" text-anchor="end">20</text>
<line x1="433.20" y1="415.44" x2="435.60" y2="415.44" stroke="#222" stroke-width="0.90"/>
<text x="430.80" y="417.74" font-size="6.60" fill="#444" text-anchor="end">40</text>
<line x1="433.20" y1="397.36" x2="435.60" y2="397.36" stroke="#222" stroke-width="0.90"/>
<text x="430.80" y="399.66" font-size="6.60" fill="#444" text-anchor="end">60</text>
<line x1="433.20" y1="379.28" x2="435.60" y2="379.28" stroke="#222" stroke-width="0.90"/>
<text x="430.80" y="381.58" font-size="6.60" fill="#444" text-anchor="end">80</text>
<line x1="433.20" y1="361.20" x2="435.60" y2="361.20" stroke="#222" stroke-width="0.90"/>
<text x="430.80" y="363.50" font-size="6.60" fill="#444" text-anchor="end">100</text>
<text x="414.30" y="434.80" font-size="7.70" fill="#1a1a1a" stroke="#1a1a1a" stroke-width="0.28" textLength="59.70" lengthAdjust="spacingAndGlyphs" transform="rotate(-90.0 414.30 434.80)">Suppression (% of Teff)</text>
<text x="449.20" y="347.80" font-size="8.20" fill="#222" textLength="36.00" lengthAdjust="spacingAndGlyphs">CD8<tspan dy="-3.12" font-size="5.08">+</tspan><tspan dy="3.12"> Teff</tspan></text>
<line x1="450.00" y1="357.70" x2="484.00" y2="357.70" stroke="#555" stroke-width="0.90"/>
<text x="467.00" y="356.30" font-size="6.00" fill="#333" text-anchor="middle">*</text>
<line x1="451.00" y1="451.60" x2="451.00" y2="454.00" stroke="#222" stroke-width="0.90"/>
<line x1="482.10" y1="451.60" x2="482.10" y2="454.00" stroke="#222" stroke-width="0.90"/>
<text x="440.60" y="462.80" font-size="6.60" fill="#333" textLength="21.60" lengthAdjust="spacingAndGlyphs">restTreg</text>
<text x="472.30" y="462.80" font-size="6.60" fill="#333" textLength="20.20" lengthAdjust="spacingAndGlyphs">actTreg</text>
<line x1="451.00" y1="372.70" x2="482.10" y2="362.70" stroke="#333" stroke-width="0.70"/>
<line x1="451.00" y1="429.20" x2="482.10" y2="398.30" stroke="#333" stroke-width="1.30"/>
<line x1="451.00" y1="430.50" x2="482.10" y2="399.50" stroke="#333" stroke-width="0.90"/>
<line x1="451.00" y1="430.50" x2="482.10" y2="424.60" stroke="#333" stroke-width="0.70"/>
<line x1="451.00" y1="439.40" x2="482.10" y2="408.80" stroke="#333" stroke-width="0.70"/>
<line x1="451.00" y1="445.80" x2="482.10" y2="436.50" stroke="#333" stroke-width="0.70"/>
<line x1="451.00" y1="447.50" x2="482.10" y2="437.50" stroke="#333" stroke-width="0.70"/>
<line x1="451.00" y1="449.50" x2="482.10" y2="443.30" stroke="#333" stroke-width="0.70"/>
<line x1="451.00" y1="450.50" x2="482.10" y2="446.00" stroke="#333" stroke-width="0.70"/>
<circle cx="451.00" cy="372.70" r="2.40" fill="#1d4a72" stroke="#14304a" stroke-width="0.50"/>
<circle cx="451.00" cy="429.20" r="2.40" fill="#1d4a72" stroke="#14304a" stroke-width="0.50"/>
<circle cx="451.00" cy="430.50" r="2.40" fill="#1d4a72" stroke="#14304a" stroke-width="0.50"/>
<circle cx="451.00" cy="439.40" r="2.40" fill="#1d4a72" stroke="#14304a" stroke-width="0.50"/>
<circle cx="451.00" cy="445.80" r="2.40" fill="#1d4a72" stroke="#14304a" stroke-width="0.50"/>
<circle cx="451.00" cy="447.50" r="2.40" fill="#1d4a72" stroke="#14304a" stroke-width="0.50"/>
<circle cx="451.00" cy="449.50" r="2.40" fill="#1d4a72" stroke="#14304a" stroke-width="0.50"/>
<circle cx="451.00" cy="450.50" r="2.40" fill="#1d4a72" stroke="#14304a" stroke-width="0.50"/>
<circle cx="482.10" cy="362.70" r="2.40" fill="#a81c2c" stroke="#6a1018" stroke-width="0.50"/>
<circle cx="482.10" cy="398.30" r="2.40" fill="#a81c2c" stroke="#6a1018" stroke-width="0.50"/>
<circle cx="482.10" cy="399.50" r="2.40" fill="#a81c2c" stroke="#6a1018" stroke-width="0.50"/>
<circle cx="482.10" cy="408.80" r="2.40" fill="#a81c2c" stroke="#6a1018" stroke-width="0.50"/>
<circle cx="482.10" cy="424.60" r="2.40" fill="#a81c2c" stroke="#6a1018" stroke-width="0.50"/>
<circle cx="482.10" cy="436.50" r="2.40" fill="#a81c2c" stroke="#6a1018" stroke-width="0.50"/>
<circle cx="482.10" cy="437.50" r="2.40" fill="#a81c2c" stroke="#6a1018" stroke-width="0.50"/>
<circle cx="482.10" cy="443.30" r="2.40" fill="#a81c2c" stroke="#6a1018" stroke-width="0.50"/>
<circle cx="482.10" cy="446.00" r="2.40" fill="#a81c2c" stroke="#6a1018" stroke-width="0.50"/>
<text x="8.70" y="498.90" font-size="11.20" fill="#111" font-weight="bold">G</text>
<text x="72.60" y="516.10" font-size="6.30" fill="#333" textLength="33.60" lengthAdjust="spacingAndGlyphs">unstimulated</text>
<text x="129.90" y="516.10" font-size="6.30" fill="#333" textLength="57.00" lengthAdjust="spacingAndGlyphs">CD2/3/28 stimulated</text>
<text x="206.10" y="516.10" font-size="6.30" fill="#333" textLength="41.90" lengthAdjust="spacingAndGlyphs">PMA/ionomycin</text>
<text x="267.60" y="508.80" font-size="6.30" fill="#333" textLength="57.20" lengthAdjust="spacingAndGlyphs">CD2/3/28 stimulated</text>
<text x="272.00" y="516.10" font-size="6.30" fill="#333" textLength="48.40" lengthAdjust="spacingAndGlyphs">+ PMA/ionomycin</text>
<text x="49.90" y="525.30" font-size="6.30" fill="#333" textLength="5.70" lengthAdjust="spacingAndGlyphs">FL</text>
<text x="55.60" y="579.70" font-size="6.30" fill="#333" textLength="24.30" lengthAdjust="spacingAndGlyphs" text-anchor="end">restTregs</text>
<text x="55.60" y="594.70" font-size="6.30" fill="#333" textLength="21.80" lengthAdjust="spacingAndGlyphs" text-anchor="end">actTregs</text>
<path d="M75.00 580.30 L76.50 577.50 L77.60 572.00 L78.40 555.00 L79.10 538.00 L79.70 528.30 L80.30 538.00 L81.00 555.00 L81.90 572.00 L83.00 577.50 L84.20 580.30 Z" fill="#111"/>
<path d="M76.00 596.60 L77.30 592.00 L78.30 585.00 L79.00 570.00 L79.70 550.00 L80.40 538.00 L81.20 550.00 L81.90 570.00 L82.60 585.00 L83.60 592.00 L85.00 596.60 Z" fill="#5e5812" stroke="#2a2808" stroke-width="0.50" stroke-linejoin="round"/>
<path d="M145.30 580.30 L147.00 577.50 L148.20 572.00 L149.10 555.00 L149.90 538.00 L150.60 527.90 L151.30 538.00 L152.10 555.00 L153.00 572.00 L155.00 578.00 L157.40 580.30 Z" fill="#111"/>
<path d="M147.20 596.60 L148.50 592.00 L149.50 585.00 L150.30 570.00 L151.00 556.00 L151.50 549.00 L152.10 556.00 L152.90 570.00 L153.80 585.00 L155.00 592.00 L156.80 596.60 Z" fill="#5e5812" stroke="#2a2808" stroke-width="0.50" stroke-linejoin="round"/>
<path d="M214.50 580.30 L215.10 576.00 L216.20 562.00 L217.00 553.00 L217.90 540.00 L218.70 528.30 L219.50 538.00 L220.30 550.00 L220.80 555.70 L222.10 557.00 L223.00 580.30 Z" fill="#111"/>
<path d="M215.00 596.60 L216.20 588.00 L217.60 572.00 L218.90 562.00 L221.50 557.00 L222.70 549.30 L223.80 546.80 L225.30 550.60 L227.60 542.90 L229.10 551.80 L230.40 568.40 L231.70 583.70 L233.60 596.60 Z" fill="#fcefbb" stroke="#6a6040" stroke-width="0.60" stroke-linejoin="round"/>
<path d="M285.00 580.30 L285.90 571.00 L286.80 558.00 L287.60 545.50 L288.40 535.00 L289.20 528.30 L290.00 537.00 L290.70 545.50 L291.80 554.40 L292.50 580.30 Z" fill="#111"/>
<path d="M279.20 580.30 L279.90 578.30 L280.60 580.30 Z" fill="#111"/>
<path d="M302.10 580.30 L302.80 578.00 L303.50 580.30 Z" fill="#111"/>
<path d="M286.30 596.60 L287.50 585.00 L288.80 571.00 L290.20 560.00 L291.40 553.10 L293.00 543.60 L294.60 547.40 L296.50 544.80 L298.40 550.60 L299.90 563.30 L301.60 581.10 L302.50 596.60 Z" fill="#fcefbb" stroke="#6a6040" stroke-width="0.60" stroke-linejoin="round"/>
<line x1="59.10" y1="580.30" x2="120.30" y2="580.30" stroke="#333" stroke-width="0.80"/>
<rect x="62.10" y="595.00" width="5.50" height="1.40" fill="#111"/>
<path d="M60.10 595.84 L61.00 595.34 L61.90 595.52 L62.80 595.46 L63.70 595.44 L64.60 595.70 L65.50 595.77 L66.40 595.30 L67.30 595.38 L68.20 595.37 L69.10 595.48 L70.00 595.11 L70.90 595.48 L71.80 595.77 L72.70 595.38 L73.60 595.55 L74.50 595.79 L75.40 595.57 L76.30 595.77 L77.20 595.88 L78.10 595.85 L79.00 595.59 L79.90 595.43 L80.80 595.37 L81.70 595.83 L82.60 595.85 L83.50 595.34 L84.40 595.44 L85.30 595.76 L86.20 595.61 L87.10 595.85 L88.00 595.74 L88.90 595.90 L89.80 595.72 L90.70 595.82 L91.60 595.59 L92.50 595.34 L93.40 595.55 L94.30 595.75 L95.20 595.75 L96.10 595.64 L97.00 595.81 L97.90 595.07 L98.80 595.53 L99.70 595.64 L100.60 595.86 L101.50 595.43 L102.40 595.64 L103.30 595.85 L104.20 595.49 L105.10 595.70 L106.00 595.53 L106.90 595.67 L107.80 595.21 L108.70 595.64 L109.60 595.69 L110.50 595.06 L111.40 595.64 L112.30 595.26 L113.20 595.82 L114.10 595.26 L115.00 595.22 L115.90 595.47 L116.80 595.69 L117.70 595.83 L118.60 595.40" fill="none" stroke="#333" stroke-width="0.60" stroke-linejoin="round"/>
<rect x="59.10" y="520.50" width="61.20" height="76.10" fill="none" stroke="#333" stroke-width="1.00"/>
<line x1="63.10" y1="596.60" x2="63.10" y2="598.40" stroke="#333" stroke-width="0.70"/>
<line x1="76.10" y1="596.60" x2="76.10" y2="598.40" stroke="#333" stroke-width="0.70"/>
<line x1="89.10" y1="596.60" x2="89.10" y2="598.40" stroke="#333" stroke-width="0.70"/>
<line x1="102.10" y1="596.60" x2="102.10" y2="598.40" stroke="#333" stroke-width="0.70"/>
<line x1="115.10" y1="596.60" x2="115.10" y2="598.40" stroke="#333" stroke-width="0.70"/>
<line x1="127.70" y1="580.30" x2="189.50" y2="580.30" stroke="#333" stroke-width="0.80"/>
<rect x="130.70" y="595.00" width="5.50" height="1.40" fill="#111"/>
<path d="M128.70 595.87 L129.60 595.84 L130.50 595.78 L131.40 595.88 L132.30 595.73 L133.20 595.89 L134.10 595.73 L135.00 595.44 L135.90 595.89 L136.80 595.75 L137.70 595.70 L138.60 595.58 L139.50 595.55 L140.40 595.86 L141.30 595.78 L142.20 595.55 L143.10 595.70 L144.00 595.30 L144.90 595.50 L145.80 595.72 L146.70 595.47 L147.60 595.08 L148.50 595.89 L149.40 595.81 L150.30 595.64 L151.20 595.59 L152.10 595.89 L153.00 595.75 L153.90 595.89 L154.80 595.80 L155.70 595.74 L156.60 595.88 L157.50 595.43 L158.40 595.86 L159.30 595.64 L160.20 595.67 L161.10 595.59 L162.00 595.39 L162.90 595.68 L163.80 595.74 L164.70 595.64 L165.60 595.53 L166.50 595.75 L167.40 595.72 L168.30 595.77 L169.20 595.21 L170.10 595.73 L171.00 595.59 L171.90 595.33 L172.80 595.58 L173.70 595.86 L174.60 595.66 L175.50 595.75 L176.40 595.77 L177.30 595.36 L178.20 595.46 L179.10 595.56 L180.00 595.65 L180.90 595.59 L181.80 595.82 L182.70 595.63 L183.60 595.83 L184.50 595.56 L185.40 595.68 L186.30 595.69 L187.20 595.20 L188.10 595.72" fill="none" stroke="#333" stroke-width="0.60" stroke-linejoin="round"/>
<rect x="127.70" y="520.50" width="61.80" height="76.10" fill="none" stroke="#333" stroke-width="1.00"/>
<line x1="131.70" y1="596.60" x2="131.70" y2="598.40" stroke="#333" stroke-width="0.70"/>
<line x1="144.70" y1="596.60" x2="144.70" y2="598.40" stroke="#333" stroke-width="0.70"/>
<line x1="157.70" y1="596.60" x2="157.70" y2="598.40" stroke="#333" stroke-width="0.70"/>
<line x1="170.70" y1="596.60" x2="170.70" y2="598.40" stroke="#333" stroke-width="0.70"/>
<line x1="183.70" y1="596.60" x2="183.70" y2="598.40" stroke="#333" stroke-width="0.70"/>
<line x1="197.00" y1="580.30" x2="258.00" y2="580.30" stroke="#333" stroke-width="0.80"/>
<rect x="200.00" y="595.00" width="5.50" height="1.40" fill="#111"/>
<path d="M198.00 595.47 L198.90 595.43 L199.80 595.78 L200.70 595.21 L201.60 595.72 L202.50 595.63 L203.40 595.67 L204.30 595.88 L205.20 595.59 L206.10 595.23 L207.00 595.90 L207.90 595.19 L208.80 595.80 L209.70 595.87 L210.60 595.90 L211.50 595.74 L212.40 595.66 L213.30 595.68 L214.20 595.62 L215.10 595.65 L216.00 595.51 L216.90 595.27 L217.80 595.80 L218.70 595.51 L219.60 595.64 L220.50 595.21 L221.40 595.47 L222.30 595.86 L223.20 595.47 L224.10 595.81 L225.00 595.88 L225.90 595.74 L226.80 595.88 L227.70 595.46 L228.60 595.50 L229.50 595.53 L230.40 595.34 L231.30 595.79 L232.20 595.82 L233.10 595.51 L234.00 595.68 L234.90 595.40 L235.80 595.55 L236.70 595.36 L237.60 595.68 L238.50 595.82 L239.40 594.90 L240.30 595.88 L241.20 595.88 L242.10 595.85 L243.00 595.67 L243.90 595.82 L244.80 595.89 L245.70 595.64 L246.60 595.84 L247.50 595.89 L248.40 595.56 L249.30 595.66 L250.20 595.52 L251.10 595.77 L252.00 595.69 L252.90 595.81 L253.80 595.45 L254.70 595.74 L255.60 595.25 L256.50 595.47" fill="none" stroke="#333" stroke-width="0.60" stroke-linejoin="round"/>
<rect x="197.00" y="520.50" width="61.00" height="76.10" fill="none" stroke="#333" stroke-width="1.00"/>
<line x1="201.00" y1="596.60" x2="201.00" y2="598.40" stroke="#333" stroke-width="0.70"/>
<line x1="214.00" y1="596.60" x2="214.00" y2="598.40" stroke="#333" stroke-width="0.70"/>
<line x1="227.00" y1="596.60" x2="227.00" y2="598.40" stroke="#333" stroke-width="0.70"/>
<line x1="240.00" y1="596.60" x2="240.00" y2="598.40" stroke="#333" stroke-width="0.70"/>
<line x1="253.00" y1="596.60" x2="253.00" y2="598.40" stroke="#333" stroke-width="0.70"/>
<line x1="266.40" y1="580.30" x2="328.10" y2="580.30" stroke="#333" stroke-width="0.80"/>
<rect x="269.40" y="595.00" width="5.50" height="1.40" fill="#111"/>
<path d="M267.40 595.89 L268.30 595.87 L269.20 595.86 L270.10 595.61 L271.00 595.70 L271.90 595.72 L272.80 595.79 L273.70 595.73 L274.60 595.72 L275.50 595.44 L276.40 595.70 L277.30 595.56 L278.20 595.29 L279.10 595.55 L280.00 595.70 L280.90 595.45 L281.80 595.57 L282.70 595.70 L283.60 595.70 L284.50 595.84 L285.40 595.66 L286.30 595.67 L287.20 595.52 L288.10 595.27 L289.00 595.40 L289.90 595.90 L290.80 595.79 L291.70 595.60 L292.60 595.56 L293.50 595.50 L294.40 595.84 L295.30 595.48 L296.20 595.78 L297.10 595.81 L298.00 595.49 L298.90 595.58 L299.80 595.57 L300.70 595.64 L301.60 595.89 L302.50 595.73 L303.40 595.71 L304.30 595.81 L305.20 595.28 L306.10 595.54 L307.00 595.39 L307.90 595.71 L308.80 595.71 L309.70 595.71 L310.60 595.67 L311.50 595.59 L312.40 595.75 L313.30 595.88 L314.20 595.78 L315.10 595.39 L316.00 595.71 L316.90 595.41 L317.80 595.84 L318.70 595.90 L319.60 595.49 L320.50 595.88 L321.40 595.60 L322.30 595.75 L323.20 595.62 L324.10 595.40 L325.00 595.41 L325.90 595.64 L326.80 595.46" fill="none" stroke="#333" stroke-width="0.60" stroke-linejoin="round"/>
<rect x="266.40" y="520.50" width="61.70" height="76.10" fill="none" stroke="#333" stroke-width="1.00"/>
<line x1="270.40" y1="596.60" x2="270.40" y2="598.40" stroke="#333" stroke-width="0.70"/>
<line x1="283.40" y1="596.60" x2="283.40" y2="598.40" stroke="#333" stroke-width="0.70"/>
<line x1="296.40" y1="596.60" x2="296.40" y2="598.40" stroke="#333" stroke-width="0.70"/>
<line x1="309.40" y1="596.60" x2="309.40" y2="598.40" stroke="#333" stroke-width="0.70"/>
<line x1="322.40" y1="596.60" x2="322.40" y2="598.40" stroke="#333" stroke-width="0.70"/>
<line x1="59.50" y1="609.20" x2="85.60" y2="609.20" stroke="#111" stroke-width="1.00"/>
<path d="M88.70 609.20 L85.10 607.80 L85.10 610.60 Z" fill="#111"/>
<text x="92.20" y="611.50" font-size="6.50" fill="#222" textLength="17.00" lengthAdjust="spacingAndGlyphs">TGF-β</text>
<text x="307.60" y="606.90" font-size="6.50" fill="#333" textLength="60.90" lengthAdjust="spacingAndGlyphs">Arcsinh ratio of median</text>
<rect x="324.60" y="608.80" width="22.30" height="4.60" fill="url(#ylg)"/>
<text x="320.40" y="620.00" font-size="6.50" fill="#333" textLength="8.80" lengthAdjust="spacingAndGlyphs">low</text>
<text x="342.90" y="620.20" font-size="6.50" fill="#333" textLength="10.90" lengthAdjust="spacingAndGlyphs">high</text>
<line x1="397.10" y1="503.91" x2="397.10" y2="596.80" stroke="#222" stroke-width="1.10"/>
<line x1="396.60" y1="596.30" x2="458.70" y2="596.30" stroke="#222" stroke-width="1.20"/>
<line x1="394.50" y1="596.30" x2="397.10" y2="596.30" stroke="#222" stroke-width="0.90"/>
<text x="391.40" y="598.60" font-size="6.60" fill="#444" text-anchor="end">0</text>
<line x1="395.60" y1="580.98" x2="397.10" y2="580.98" stroke="#222" stroke-width="0.90"/>
<line x1="394.50" y1="565.67" x2="397.10" y2="565.67" stroke="#222" stroke-width="0.90"/>
<text x="391.40" y="567.97" font-size="6.60" fill="#444" text-anchor="end">1000</text>
<line x1="395.60" y1="550.35" x2="397.10" y2="550.35" stroke="#222" stroke-width="0.90"/>
<line x1="394.50" y1="535.04" x2="397.10" y2="535.04" stroke="#222" stroke-width="0.90"/>
<text x="391.40" y="537.34" font-size="6.60" fill="#444" text-anchor="end">2000</text>
<line x1="395.60" y1="519.72" x2="397.10" y2="519.72" stroke="#222" stroke-width="0.90"/>
<line x1="394.50" y1="504.41" x2="397.10" y2="504.41" stroke="#222" stroke-width="0.90"/>
<text x="391.40" y="506.71" font-size="6.60" fill="#444" text-anchor="end">3000</text>
<text x="372.00" y="563.50" font-size="7.70" fill="#1a1a1a" stroke="#1a1a1a" stroke-width="0.28" textLength="29.80" lengthAdjust="spacingAndGlyphs" transform="rotate(-90.0 372.00 563.50)">TGF-β MFI</text>
<line x1="415.40" y1="596.30" x2="415.40" y2="598.70" stroke="#222" stroke-width="0.90"/>
<line x1="442.00" y1="596.30" x2="442.00" y2="598.70" stroke="#222" stroke-width="0.90"/>
<text x="404.60" y="607.80" font-size="6.60" fill="#333" textLength="21.40" lengthAdjust="spacingAndGlyphs">restTreg</text>
<text x="431.50" y="607.80" font-size="6.60" fill="#333" textLength="20.40" lengthAdjust="spacingAndGlyphs">actTreg</text>
<line x1="417.30" y1="525.00" x2="440.00" y2="525.00" stroke="#555" stroke-width="0.90"/>
<text x="428.60" y="523.60" font-size="6.00" fill="#333" text-anchor="middle">**</text>
<line x1="415.40" y1="551.20" x2="442.00" y2="536.50" stroke="#333" stroke-width="0.70"/>
<line x1="415.40" y1="572.30" x2="442.00" y2="534.60" stroke="#333" stroke-width="0.70"/>
<line x1="415.40" y1="574.00" x2="442.00" y2="562.70" stroke="#333" stroke-width="0.70"/>
<line x1="415.40" y1="575.50" x2="442.00" y2="566.90" stroke="#333" stroke-width="0.70"/>
<line x1="415.40" y1="577.50" x2="442.00" y2="572.30" stroke="#333" stroke-width="0.70"/>
<line x1="415.40" y1="578.50" x2="442.00" y2="573.00" stroke="#333" stroke-width="0.70"/>
<line x1="415.40" y1="580.40" x2="442.00" y2="574.60" stroke="#333" stroke-width="0.70"/>
<line x1="415.40" y1="573.00" x2="442.00" y2="576.50" stroke="#333" stroke-width="0.70"/>
<line x1="415.40" y1="587.70" x2="442.00" y2="586.50" stroke="#333" stroke-width="0.70"/>
<path d="M415.40 548.40 L418.20 551.20 L415.40 554.00 L412.60 551.20 Z" fill="#1d4a72" stroke="#14304a" stroke-width="0.50" stroke-linejoin="round"/>
<circle cx="415.40" cy="572.30" r="2.30" fill="#1d4a72" stroke="#14304a" stroke-width="0.50"/>
<path d="M415.40 571.20 L418.20 574.00 L415.40 576.80 L412.60 574.00 Z" fill="#1d4a72" stroke="#14304a" stroke-width="0.50" stroke-linejoin="round"/>
<circle cx="415.40" cy="575.50" r="2.30" fill="#1d4a72" stroke="#14304a" stroke-width="0.50"/>
<path d="M415.40 574.70 L418.20 577.50 L415.40 580.30 L412.60 577.50 Z" fill="#1d4a72" stroke="#14304a" stroke-width="0.50" stroke-linejoin="round"/>
<circle cx="415.40" cy="580.40" r="2.30" fill="#1d4a72" stroke="#14304a" stroke-width="0.50"/>
<path d="M415.40 584.90 L418.20 587.70 L415.40 590.50 L412.60 587.70 Z" fill="#1d4a72" stroke="#14304a" stroke-width="0.50" stroke-linejoin="round"/>
<path d="M442.00 531.80 L444.80 534.60 L442.00 537.40 L439.20 534.60 Z" fill="#a81c2c" stroke="#6a1018" stroke-width="0.50" stroke-linejoin="round"/>
<circle cx="442.00" cy="536.50" r="2.30" fill="#a81c2c" stroke="#6a1018" stroke-width="0.50"/>
<path d="M442.00 559.90 L444.80 562.70 L442.00 565.50 L439.20 562.70 Z" fill="#a81c2c" stroke="#6a1018" stroke-width="0.50" stroke-linejoin="round"/>
<circle cx="442.00" cy="566.90" r="2.30" fill="#a81c2c" stroke="#6a1018" stroke-width="0.50"/>
<path d="M442.00 569.50 L444.80 572.30 L442.00 575.10 L439.20 572.30 Z" fill="#a81c2c" stroke="#6a1018" stroke-width="0.50" stroke-linejoin="round"/>
<circle cx="442.00" cy="573.00" r="2.30" fill="#a81c2c" stroke="#6a1018" stroke-width="0.50"/>
<path d="M442.00 571.80 L444.80 574.60 L442.00 577.40 L439.20 574.60 Z" fill="#a81c2c" stroke="#6a1018" stroke-width="0.50" stroke-linejoin="round"/>
<circle cx="442.00" cy="576.50" r="2.30" fill="#a81c2c" stroke="#6a1018" stroke-width="0.50"/>
<path d="M442.00 583.70 L444.80 586.50 L442.00 589.30 L439.20 586.50 Z" fill="#a81c2c" stroke="#6a1018" stroke-width="0.50" stroke-linejoin="round"/>
<path d="M461.90 506.30 L464.30 508.70 L461.90 511.10 L459.50 508.70 Z" fill="#fff" stroke="#333" stroke-width="0.80" stroke-linejoin="round"/>
<circle cx="461.90" cy="517.70" r="2.00" fill="#fff" stroke="#333" stroke-width="0.80"/>
<text x="466.20" y="510.90" font-size="6.60" fill="#333" textLength="18.40" lengthAdjust="spacingAndGlyphs">Tonsils</text>
<text x="466.20" y="519.90" font-size="6.60" fill="#333" textLength="7.80" lengthAdjust="spacingAndGlyphs">FL</text><rect x="0.5" y="0.5" width="519" height="627" fill="none" stroke="#555" stroke-width="1.2"/></svg></body></html>
